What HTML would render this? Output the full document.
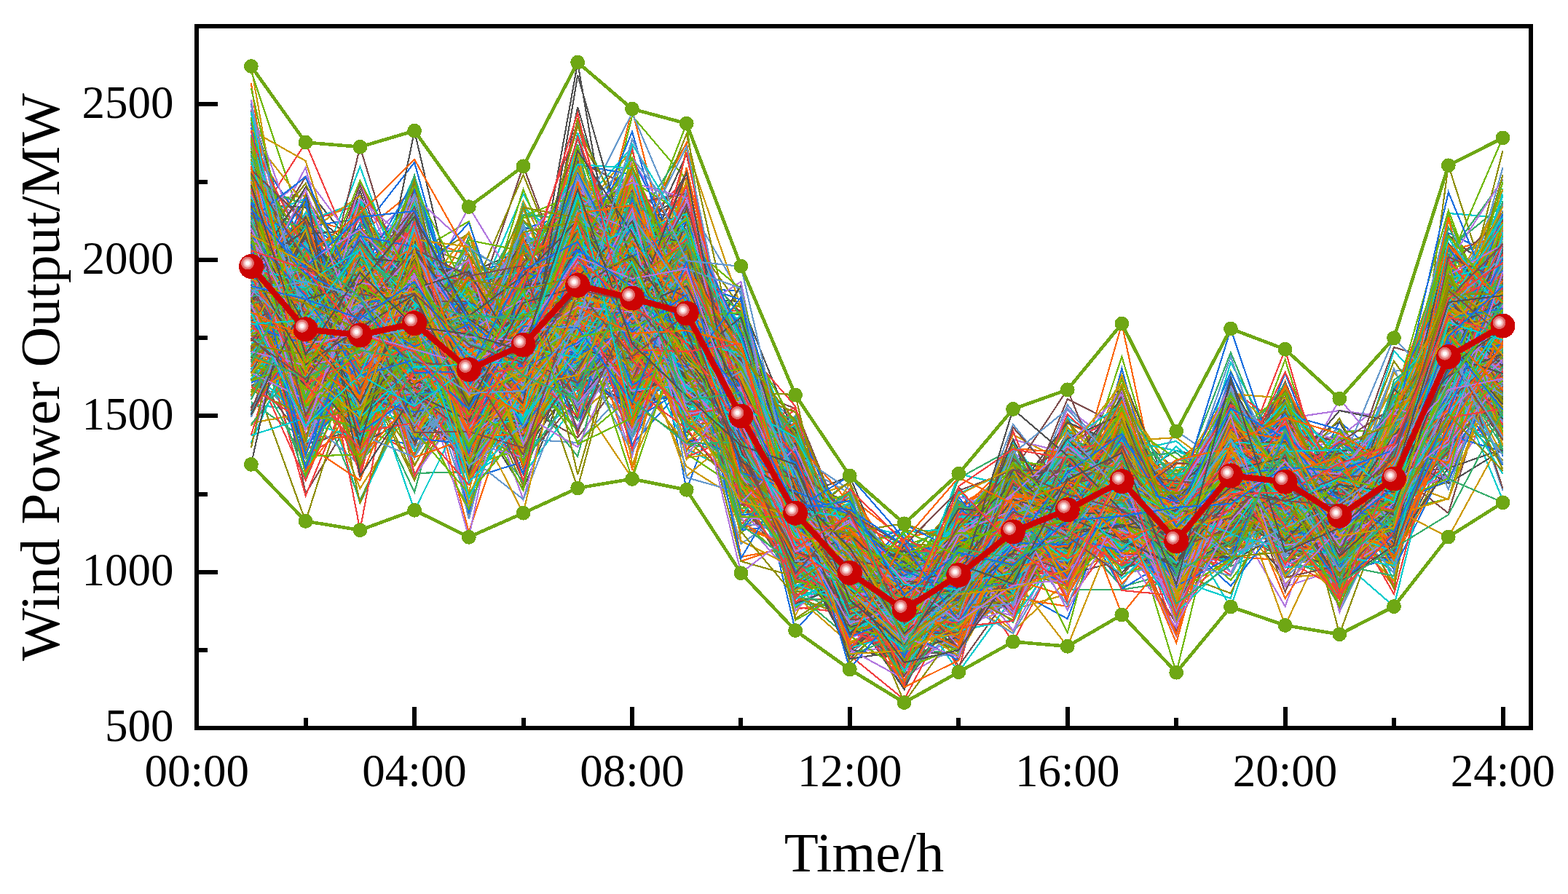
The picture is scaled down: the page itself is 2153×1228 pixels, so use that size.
<!DOCTYPE html>
<html lang="en"><head><meta charset="utf-8"><title>Wind Power Output</title>
<style>
html,body{margin:0;padding:0;background:#fff;overflow:hidden}
svg{display:block}
text{font-family:"Liberation Serif","DejaVu Serif",serif;fill:#000}
.s path{fill:none;stroke-width:2.15;stroke-linejoin:miter;stroke-linecap:butt}
.ca{stroke:#515151}
.cb{stroke:#F14040}
.cc{stroke:#1A6FDF}
.cd{stroke:#37AD6B}
.ce{stroke:#B177DE}
.cf{stroke:#CC9900}
.cg{stroke:#00CBCC}
.ch{stroke:#7D4E4E}
.ci{stroke:#8E8E00}
.cj{stroke:#FB6501}
.ck{stroke:#6699CC}
.cl{stroke:#6FB802}
</style></head>
<body>
<svg width="2153" height="1228" viewBox="0 0 2153 1228">
<defs><radialGradient id="ball" gradientUnits="objectBoundingBox" cx="0.3544" cy="0.3676" r="0.2650" fx="0.3544" fy="0.3676"><stop offset="0" stop-color="#ffffff"/><stop offset="0.30" stop-color="#fdf6f6"/><stop offset="0.37" stop-color="#f6cfcf"/><stop offset="0.50" stop-color="#f4c6c6"/><stop offset="0.56" stop-color="#eeaaaa"/><stop offset="0.66" stop-color="#ec9f9f"/><stop offset="0.72" stop-color="#e27575"/><stop offset="0.97" stop-color="#dc6262"/><stop offset="1" stop-color="#CC0303"/></radialGradient></defs>
<rect x="0" y="0" width="2153" height="1228" fill="#ffffff"/>
<g class="s" shape-rendering="crispEdges">
<path class="ca" d="M344.9 392 419.6 523 494.4 343 569.1 401 643.8 386 718.5 548 793.2 408 868 446 942.7 288 1017.4 626 1092.1 778 1166.8 840 1241.6 841 1316.3 758 1391 732 1465.7 651 1540.4 672 1615.2 717 1689.9 631 1764.6 671 1839.3 685 1914 596 1988.8 523 2063.5 407"/>
<path class="cb" d="M344.9 374 419.6 626 494.4 582 569.1 568 643.8 367 718.5 413 793.2 330 868 468 942.7 348 1017.4 575 1092.1 834 1166.8 842 1241.6 770 1316.3 867 1391 776 1465.7 639 1540.4 773 1615.2 749 1689.9 641 1764.6 630 1839.3 753 1914 564 1988.8 528 2063.5 447"/>
<path class="cc" d="M344.9 417 419.6 402 494.4 376 569.1 391 643.8 503 718.5 567 793.2 454 868 441 942.7 425 1017.4 550 1092.1 866 1166.8 784 1241.6 773 1316.3 760 1391 699 1465.7 806 1540.4 715 1615.2 728 1689.9 629 1764.6 690 1839.3 771 1914 618 1988.8 471 2063.5 356"/>
<path class="cd" d="M344.9 309 419.6 415 494.4 454 569.1 478 643.8 445 718.5 547 793.2 368 868 400 942.7 433 1017.4 461 1092.1 731 1166.8 802 1241.6 835 1316.3 825 1391 758 1465.7 628 1540.4 711 1615.2 750 1689.9 651 1764.6 760 1839.3 709 1914 624 1988.8 516 2063.5 349"/>
<path class="ce" d="M344.9 278 419.6 503 494.4 487 569.1 375 643.8 571 718.5 584 793.2 429 868 372 942.7 375 1017.4 612 1092.1 637 1166.8 834 1241.6 860 1316.3 823 1391 764 1465.7 561 1540.4 618 1615.2 738 1689.9 692 1764.6 666 1839.3 698 1914 671 1988.8 656 2063.5 546"/>
<path class="cf" d="M344.9 339 419.6 444 494.4 475 569.1 339 643.8 382 718.5 503 793.2 573 868 502 942.7 508 1017.4 408 1092.1 772 1166.8 773 1241.6 859 1316.3 839 1391 731 1465.7 710 1540.4 687 1615.2 701 1689.9 628 1764.6 733 1839.3 742 1914 615 1988.8 443 2063.5 493"/>
<path class="cg" d="M344.9 359 419.6 352 494.4 548 569.1 449 643.8 440 718.5 266 793.2 403 868 381 942.7 426 1017.4 690 1092.1 690 1166.8 804 1241.6 765 1316.3 809 1391 727 1465.7 774 1540.4 598 1615.2 760 1689.9 618 1764.6 667 1839.3 659 1914 680 1988.8 513 2063.5 466"/>
<path class="ch" d="M344.9 332 419.6 471 494.4 482 569.1 581 643.8 524 718.5 494 793.2 464 868 449 942.7 537 1017.4 487 1092.1 688 1166.8 752 1241.6 866 1316.3 795 1391 775 1465.7 644 1540.4 679 1615.2 719 1689.9 730 1764.6 767 1839.3 775 1914 651 1988.8 491 2063.5 421"/>
<path class="ci" d="M344.9 394 419.6 443 494.4 589 569.1 352 643.8 573 718.5 459 793.2 389 868 372 942.7 589 1017.4 599 1092.1 743 1166.8 703 1241.6 837 1316.3 855 1391 695 1465.7 736 1540.4 600 1615.2 713 1689.9 584 1764.6 670 1839.3 751 1914 640 1988.8 596 2063.5 525"/>
<path class="cj" d="M344.9 192 419.6 400 494.4 422 569.1 485 643.8 379 718.5 541 793.2 257 868 480 942.7 366 1017.4 632 1092.1 755 1166.8 723 1241.6 860 1316.3 794 1391 688 1465.7 717 1540.4 718 1615.2 719 1689.9 654 1764.6 646 1839.3 694 1914 630 1988.8 409 2063.5 385"/>
<path class="ck" d="M344.9 388 419.6 507 494.4 469 569.1 470 643.8 697 718.5 395 793.2 483 868 361 942.7 373 1017.4 498 1092.1 713 1166.8 754 1241.6 861 1316.3 752 1391 817 1465.7 714 1540.4 539 1615.2 735 1689.9 592 1764.6 711 1839.3 680 1914 700 1988.8 518 2063.5 289"/>
<path class="cl" d="M344.9 276 419.6 269 494.4 386 569.1 353 643.8 364 718.5 456 793.2 355 868 370 942.7 363 1017.4 520 1092.1 710 1166.8 803 1241.6 851 1316.3 728 1391 771 1465.7 678 1540.4 619 1615.2 727 1689.9 608 1764.6 652 1839.3 666 1914 571 1988.8 352 2063.5 324"/>
<path class="ca" d="M344.9 359 419.6 547 494.4 466 569.1 438 643.8 375 718.5 343 793.2 449 868 463 942.7 398 1017.4 563 1092.1 701 1166.8 905 1241.6 837 1316.3 735 1391 776 1465.7 734 1540.4 665 1615.2 713 1689.9 591 1764.6 612 1839.3 745 1914 599 1988.8 489 2063.5 421"/>
<path class="cb" d="M344.9 332 419.6 435 494.4 505 569.1 508 643.8 378 718.5 507 793.2 398 868 358 942.7 346 1017.4 568 1092.1 712 1166.8 819 1241.6 764 1316.3 921 1391 636 1465.7 769 1540.4 636 1615.2 759 1689.9 675 1764.6 706 1839.3 729 1914 730 1988.8 461 2063.5 456"/>
<path class="cc" d="M344.9 539 419.6 402 494.4 471 569.1 333 643.8 488 718.5 558 793.2 407 868 284 942.7 673 1017.4 469 1092.1 727 1166.8 770 1241.6 856 1316.3 774 1391 784 1465.7 597 1540.4 683 1615.2 685 1689.9 641 1764.6 625 1839.3 732 1914 648 1988.8 602 2063.5 471"/>
<path class="cd" d="M344.9 476 419.6 514 494.4 418 569.1 423 643.8 447 718.5 566 793.2 555 868 410 942.7 444 1017.4 611 1092.1 828 1166.8 836 1241.6 801 1316.3 755 1391 720 1465.7 711 1540.4 590 1615.2 699 1689.9 634 1764.6 636 1839.3 707 1914 697 1988.8 544 2063.5 453"/>
<path class="ce" d="M344.9 407 419.6 421 494.4 541 569.1 428 643.8 544 718.5 472 793.2 200 868 345 942.7 422 1017.4 580 1092.1 685 1166.8 813 1241.6 881 1316.3 726 1391 742 1465.7 729 1540.4 699 1615.2 720 1689.9 751 1764.6 691 1839.3 688 1914 782 1988.8 495 2063.5 472"/>
<path class="cf" d="M344.9 393 419.6 320 494.4 404 569.1 477 643.8 507 718.5 477 793.2 399 868 237 942.7 550 1017.4 616 1092.1 719 1166.8 752 1241.6 820 1316.3 861 1391 731 1465.7 697 1540.4 666 1615.2 770 1689.9 596 1764.6 746 1839.3 635 1914 593 1988.8 450 2063.5 511"/>
<path class="cg" d="M344.9 427 419.6 544 494.4 402 569.1 590 643.8 552 718.5 437 793.2 323 868 427 942.7 521 1017.4 495 1092.1 622 1166.8 844 1241.6 876 1316.3 758 1391 705 1465.7 666 1540.4 716 1615.2 713 1689.9 627 1764.6 687 1839.3 750 1914 698 1988.8 475 2063.5 297"/>
<path class="ch" d="M344.9 561 419.6 414 494.4 529 569.1 437 643.8 376 718.5 541 793.2 245 868 558 942.7 512 1017.4 447 1092.1 676 1166.8 807 1241.6 832 1316.3 724 1391 747 1465.7 688 1540.4 633 1615.2 723 1689.9 764 1764.6 695 1839.3 713 1914 731 1988.8 442 2063.5 445"/>
<path class="ci" d="M344.9 585 419.6 461 494.4 551 569.1 514 643.8 652 718.5 386 793.2 384 868 323 942.7 454 1017.4 452 1092.1 764 1166.8 792 1241.6 852 1316.3 748 1391 750 1465.7 709 1540.4 668 1615.2 762 1689.9 673 1764.6 708 1839.3 669 1914 599 1988.8 443 2063.5 505"/>
<path class="cj" d="M344.9 365 419.6 392 494.4 464 569.1 465 643.8 400 718.5 434 793.2 253 868 434 942.7 261 1017.4 621 1092.1 745 1166.8 804 1241.6 831 1316.3 750 1391 745 1465.7 720 1540.4 643 1615.2 779 1689.9 640 1764.6 594 1839.3 699 1914 710 1988.8 445 2063.5 321"/>
<path class="ck" d="M344.9 332 419.6 455 494.4 477 569.1 539 643.8 404 718.5 615 793.2 371 868 320 942.7 420 1017.4 643 1092.1 781 1166.8 834 1241.6 819 1316.3 800 1391 658 1465.7 669 1540.4 746 1615.2 768 1689.9 750 1764.6 661 1839.3 640 1914 712 1988.8 554 2063.5 439"/>
<path class="cl" d="M344.9 370 419.6 404 494.4 500 569.1 516 643.8 462 718.5 446 793.2 313 868 438 942.7 364 1017.4 531 1092.1 591 1166.8 856 1241.6 858 1316.3 733 1391 709 1465.7 700 1540.4 625 1615.2 773 1689.9 629 1764.6 557 1839.3 835 1914 697 1988.8 537 2063.5 545"/>
<path class="ca" d="M344.9 264 419.6 509 494.4 558 569.1 387 643.8 551 718.5 555 793.2 308 868 329 942.7 281 1017.4 604 1092.1 653 1166.8 733 1241.6 815 1316.3 810 1391 663 1465.7 716 1540.4 664 1615.2 619 1689.9 636 1764.6 653 1839.3 666 1914 647 1988.8 537 2063.5 363"/>
<path class="cb" d="M344.9 328 419.6 449 494.4 426 569.1 561 643.8 449 718.5 456 793.2 377 868 421 942.7 457 1017.4 485 1092.1 837 1166.8 825 1241.6 805 1316.3 771 1391 882 1465.7 736 1540.4 643 1615.2 674 1689.9 672 1764.6 687 1839.3 672 1914 803 1988.8 463 2063.5 559"/>
<path class="cc" d="M344.9 361 419.6 525 494.4 508 569.1 393 643.8 397 718.5 557 793.2 391 868 529 942.7 395 1017.4 400 1092.1 749 1166.8 871 1241.6 827 1316.3 693 1391 685 1465.7 721 1540.4 604 1615.2 678 1689.9 586 1764.6 642 1839.3 705 1914 633 1988.8 544 2063.5 432"/>
<path class="cd" d="M344.9 419 419.6 304 494.4 564 569.1 531 643.8 613 718.5 434 793.2 460 868 352 942.7 317 1017.4 545 1092.1 704 1166.8 782 1241.6 829 1316.3 831 1391 706 1465.7 707 1540.4 623 1615.2 728 1689.9 567 1764.6 628 1839.3 744 1914 644 1988.8 541 2063.5 505"/>
<path class="ce" d="M344.9 439 419.6 487 494.4 533 569.1 496 643.8 466 718.5 444 793.2 268 868 457 942.7 455 1017.4 505 1092.1 633 1166.8 754 1241.6 792 1316.3 889 1391 622 1465.7 668 1540.4 676 1615.2 730 1689.9 706 1764.6 652 1839.3 732 1914 599 1988.8 523 2063.5 448"/>
<path class="cf" d="M344.9 235 419.6 416 494.4 521 569.1 544 643.8 545 718.5 445 793.2 335 868 490 942.7 286 1017.4 650 1092.1 711 1166.8 745 1241.6 838 1316.3 804 1391 867 1465.7 797 1540.4 704 1615.2 677 1689.9 691 1764.6 584 1839.3 633 1914 584 1988.8 543 2063.5 455"/>
<path class="cg" d="M344.9 360 419.6 442 494.4 387 569.1 402 643.8 506 718.5 539 793.2 319 868 434 942.7 570 1017.4 618 1092.1 674 1166.8 823 1241.6 883 1316.3 798 1391 718 1465.7 755 1540.4 719 1615.2 746 1689.9 498 1764.6 634 1839.3 757 1914 679 1988.8 506 2063.5 491"/>
<path class="ch" d="M344.9 437 419.6 378 494.4 446 569.1 569 643.8 540 718.5 399 793.2 464 868 334 942.7 333 1017.4 599 1092.1 736 1166.8 771 1241.6 811 1316.3 773 1391 727 1465.7 701 1540.4 653 1615.2 743 1689.9 734 1764.6 611 1839.3 699 1914 632 1988.8 468 2063.5 399"/>
<path class="ci" d="M344.9 345 419.6 478 494.4 468 569.1 419 643.8 536 718.5 470 793.2 416 868 422 942.7 490 1017.4 451 1092.1 704 1166.8 840 1241.6 815 1316.3 828 1391 747 1465.7 690 1540.4 661 1615.2 686 1689.9 636 1764.6 626 1839.3 653 1914 683 1988.8 552 2063.5 503"/>
<path class="cj" d="M344.9 244 419.6 302 494.4 452 569.1 447 643.8 533 718.5 633 793.2 404 868 402 942.7 408 1017.4 771 1092.1 746 1166.8 837 1241.6 806 1316.3 786 1391 694 1465.7 804 1540.4 709 1615.2 846 1689.9 645 1764.6 626 1839.3 766 1914 674 1988.8 576 2063.5 458"/>
<path class="ck" d="M344.9 426 419.6 415 494.4 409 569.1 506 643.8 499 718.5 488 793.2 437 868 319 942.7 511 1017.4 618 1092.1 605 1166.8 829 1241.6 933 1316.3 858 1391 776 1465.7 676 1540.4 605 1615.2 737 1689.9 680 1764.6 610 1839.3 671 1914 718 1988.8 381 2063.5 448"/>
<path class="cl" d="M344.9 255 419.6 528 494.4 532 569.1 495 643.8 424 718.5 532 793.2 389 868 529 942.7 347 1017.4 622 1092.1 659 1166.8 823 1241.6 914 1316.3 761 1391 704 1465.7 677 1540.4 667 1615.2 751 1689.9 583 1764.6 684 1839.3 724 1914 626 1988.8 557 2063.5 497"/>
<path class="ca" d="M344.9 413 419.6 306 494.4 547 569.1 384 643.8 560 718.5 499 793.2 323 868 306 942.7 270 1017.4 523 1092.1 764 1166.8 677 1241.6 874 1316.3 841 1391 728 1465.7 753 1540.4 579 1615.2 646 1689.9 745 1764.6 639 1839.3 739 1914 649 1988.8 480 2063.5 469"/>
<path class="cb" d="M344.9 327 419.6 439 494.4 427 569.1 533 643.8 566 718.5 468 793.2 367 868 354 942.7 493 1017.4 474 1092.1 735 1166.8 733 1241.6 809 1316.3 807 1391 759 1465.7 734 1540.4 757 1615.2 827 1689.9 735 1764.6 653 1839.3 685 1914 643 1988.8 453 2063.5 485"/>
<path class="cc" d="M344.9 437 419.6 453 494.4 314 569.1 412 643.8 542 718.5 400 793.2 330 868 287 942.7 473 1017.4 672 1092.1 639 1166.8 780 1241.6 815 1316.3 857 1391 809 1465.7 850 1540.4 653 1615.2 737 1689.9 638 1764.6 585 1839.3 695 1914 620 1988.8 320 2063.5 356"/>
<path class="cd" d="M344.9 455 419.6 505 494.4 409 569.1 394 643.8 509 718.5 518 793.2 493 868 385 942.7 375 1017.4 585 1092.1 709 1166.8 823 1241.6 834 1316.3 801 1391 767 1465.7 712 1540.4 641 1615.2 719 1689.9 651 1764.6 703 1839.3 652 1914 682 1988.8 436 2063.5 425"/>
<path class="ce" d="M344.9 325 419.6 471 494.4 485 569.1 417 643.8 547 718.5 288 793.2 350 868 456 942.7 584 1017.4 619 1092.1 697 1166.8 740 1241.6 822 1316.3 769 1391 768 1465.7 698 1540.4 642 1615.2 772 1689.9 694 1764.6 625 1839.3 674 1914 688 1988.8 424 2063.5 416"/>
<path class="cf" d="M344.9 425 419.6 424 494.4 472 569.1 572 643.8 450 718.5 333 793.2 490 868 538 942.7 484 1017.4 456 1092.1 653 1166.8 783 1241.6 830 1316.3 798 1391 695 1465.7 687 1540.4 737 1615.2 682 1689.9 624 1764.6 627 1839.3 595 1914 699 1988.8 603 2063.5 306"/>
<path class="cg" d="M344.9 342 419.6 545 494.4 567 569.1 283 643.8 653 718.5 589 793.2 376 868 394 942.7 482 1017.4 633 1092.1 691 1166.8 792 1241.6 817 1316.3 771 1391 680 1465.7 666 1540.4 590 1615.2 710 1689.9 676 1764.6 593 1839.3 660 1914 614 1988.8 519 2063.5 356"/>
<path class="ch" d="M344.9 353 419.6 408 494.4 471 569.1 508 643.8 458 718.5 558 793.2 370 868 453 942.7 390 1017.4 579 1092.1 715 1166.8 758 1241.6 819 1316.3 759 1391 720 1465.7 754 1540.4 664 1615.2 741 1689.9 615 1764.6 689 1839.3 703 1914 654 1988.8 551 2063.5 555"/>
<path class="ci" d="M344.9 436 419.6 589 494.4 489 569.1 356 643.8 410 718.5 485 793.2 430 868 390 942.7 444 1017.4 513 1092.1 671 1166.8 722 1241.6 913 1316.3 850 1391 738 1465.7 696 1540.4 635 1615.2 698 1689.9 721 1764.6 600 1839.3 688 1914 683 1988.8 549 2063.5 536"/>
<path class="cj" d="M344.9 253 419.6 474 494.4 544 569.1 443 643.8 475 718.5 503 793.2 322 868 381 942.7 427 1017.4 541 1092.1 688 1166.8 683 1241.6 741 1316.3 816 1391 707 1465.7 582 1540.4 613 1615.2 755 1689.9 597 1764.6 672 1839.3 719 1914 644 1988.8 407 2063.5 379"/>
<path class="ck" d="M344.9 198 419.6 578 494.4 412 569.1 424 643.8 533 718.5 596 793.2 521 868 356 942.7 405 1017.4 580 1092.1 705 1166.8 723 1241.6 860 1316.3 779 1391 761 1465.7 637 1540.4 683 1615.2 747 1689.9 688 1764.6 578 1839.3 670 1914 664 1988.8 663 2063.5 471"/>
<path class="cl" d="M344.9 386 419.6 383 494.4 568 569.1 408 643.8 444 718.5 589 793.2 206 868 459 942.7 520 1017.4 501 1092.1 625 1166.8 833 1241.6 878 1316.3 807 1391 794 1465.7 740 1540.4 676 1615.2 924 1689.9 615 1764.6 615 1839.3 687 1914 630 1988.8 419 2063.5 411"/>
<path class="ca" d="M344.9 257 419.6 389 494.4 537 569.1 444 643.8 487 718.5 474 793.2 296 868 337 942.7 474 1017.4 610 1092.1 670 1166.8 846 1241.6 772 1316.3 808 1391 754 1465.7 756 1540.4 684 1615.2 707 1689.9 649 1764.6 768 1839.3 773 1914 694 1988.8 513 2063.5 349"/>
<path class="cb" d="M344.9 170 419.6 483 494.4 490 569.1 411 643.8 424 718.5 451 793.2 532 868 456 942.7 289 1017.4 513 1092.1 629 1166.8 796 1241.6 766 1316.3 755 1391 775 1465.7 700 1540.4 618 1615.2 680 1689.9 672 1764.6 480 1839.3 742 1914 675 1988.8 602 2063.5 535"/>
<path class="cc" d="M344.9 436 419.6 349 494.4 593 569.1 613 643.8 373 718.5 358 793.2 349 868 612 942.7 451 1017.4 559 1092.1 682 1166.8 735 1241.6 777 1316.3 815 1391 713 1465.7 659 1540.4 625 1615.2 731 1689.9 593 1764.6 747 1839.3 739 1914 652 1988.8 592 2063.5 441"/>
<path class="cd" d="M344.9 461 419.6 553 494.4 385 569.1 650 643.8 648 718.5 429 793.2 358 868 400 942.7 494 1017.4 558 1092.1 753 1166.8 885 1241.6 834 1316.3 733 1391 703 1465.7 650 1540.4 557 1615.2 684 1689.9 679 1764.6 648 1839.3 714 1914 720 1988.8 559 2063.5 479"/>
<path class="ce" d="M344.9 428 419.6 597 494.4 505 569.1 317 643.8 406 718.5 459 793.2 361 868 441 942.7 407 1017.4 605 1092.1 572 1166.8 735 1241.6 779 1316.3 799 1391 752 1465.7 674 1540.4 660 1615.2 798 1689.9 646 1764.6 616 1839.3 697 1914 714 1988.8 359 2063.5 484"/>
<path class="cf" d="M344.9 352 419.6 522 494.4 447 569.1 640 643.8 507 718.5 522 793.2 366 868 449 942.7 362 1017.4 528 1092.1 793 1166.8 804 1241.6 805 1316.3 804 1391 770 1465.7 683 1540.4 789 1615.2 770 1689.9 692 1764.6 666 1839.3 700 1914 699 1988.8 616 2063.5 476"/>
<path class="cg" d="M344.9 339 419.6 411 494.4 525 569.1 405 643.8 558 718.5 539 793.2 456 868 319 942.7 455 1017.4 704 1092.1 693 1166.8 748 1241.6 798 1316.3 821 1391 606 1465.7 760 1540.4 622 1615.2 606 1689.9 671 1764.6 655 1839.3 646 1914 615 1988.8 506 2063.5 486"/>
<path class="ch" d="M344.9 291 419.6 492 494.4 481 569.1 391 643.8 541 718.5 449 793.2 499 868 332 942.7 445 1017.4 644 1092.1 775 1166.8 764 1241.6 885 1316.3 773 1391 760 1465.7 677 1540.4 558 1615.2 721 1689.9 589 1764.6 723 1839.3 705 1914 602 1988.8 508 2063.5 352"/>
<path class="ci" d="M344.9 539 419.6 356 494.4 439 569.1 480 643.8 592 718.5 516 793.2 187 868 312 942.7 256 1017.4 563 1092.1 689 1166.8 727 1241.6 836 1316.3 848 1391 677 1465.7 675 1540.4 631 1615.2 795 1689.9 732 1764.6 596 1839.3 684 1914 686 1988.8 575 2063.5 425"/>
<path class="cj" d="M344.9 513 419.6 413 494.4 459 569.1 382 643.8 618 718.5 403 793.2 495 868 370 942.7 365 1017.4 765 1092.1 751 1166.8 772 1241.6 843 1316.3 832 1391 686 1465.7 698 1540.4 685 1615.2 778 1689.9 674 1764.6 588 1839.3 723 1914 667 1988.8 454 2063.5 520"/>
<path class="ck" d="M344.9 400 419.6 363 494.4 491 569.1 456 643.8 616 718.5 550 793.2 509 868 375 942.7 474 1017.4 534 1092.1 731 1166.8 778 1241.6 817 1316.3 812 1391 812 1465.7 724 1540.4 806 1615.2 692 1689.9 675 1764.6 693 1839.3 708 1914 644 1988.8 624 2063.5 535"/>
<path class="cl" d="M344.9 391 419.6 361 494.4 440 569.1 471 643.8 425 718.5 462 793.2 395 868 478 942.7 426 1017.4 658 1092.1 683 1166.8 815 1241.6 866 1316.3 714 1391 642 1465.7 743 1540.4 572 1615.2 729 1689.9 681 1764.6 701 1839.3 713 1914 627 1988.8 375 2063.5 583"/>
<path class="ca" d="M344.9 258 419.6 547 494.4 466 569.1 490 643.8 580 718.5 496 793.2 423 868 438 942.7 321 1017.4 657 1092.1 717 1166.8 756 1241.6 865 1316.3 775 1391 735 1465.7 719 1540.4 679 1615.2 767 1689.9 680 1764.6 695 1839.3 656 1914 658 1988.8 474 2063.5 348"/>
<path class="cb" d="M344.9 318 419.6 409 494.4 571 569.1 483 643.8 607 718.5 596 793.2 504 868 498 942.7 498 1017.4 599 1092.1 740 1166.8 746 1241.6 824 1316.3 791 1391 794 1465.7 790 1540.4 651 1615.2 826 1689.9 615 1764.6 695 1839.3 720 1914 746 1988.8 492 2063.5 519"/>
<path class="cc" d="M344.9 402 419.6 512 494.4 383 569.1 362 643.8 640 718.5 474 793.2 333 868 499 942.7 451 1017.4 556 1092.1 734 1166.8 804 1241.6 803 1316.3 732 1391 751 1465.7 703 1540.4 625 1615.2 733 1689.9 716 1764.6 571 1839.3 647 1914 695 1988.8 504 2063.5 392"/>
<path class="cd" d="M344.9 375 419.6 418 494.4 435 569.1 479 643.8 455 718.5 442 793.2 407 868 479 942.7 355 1017.4 591 1092.1 794 1166.8 708 1241.6 801 1316.3 737 1391 786 1465.7 682 1540.4 676 1615.2 725 1689.9 674 1764.6 659 1839.3 700 1914 673 1988.8 573 2063.5 372"/>
<path class="ce" d="M344.9 377 419.6 422 494.4 622 569.1 481 643.8 523 718.5 454 793.2 413 868 627 942.7 324 1017.4 450 1092.1 669 1166.8 725 1241.6 836 1316.3 700 1391 791 1465.7 667 1540.4 655 1615.2 724 1689.9 700 1764.6 708 1839.3 683 1914 739 1988.8 444 2063.5 534"/>
<path class="cf" d="M344.9 414 419.6 490 494.4 522 569.1 555 643.8 702 718.5 493 793.2 388 868 410 942.7 432 1017.4 528 1092.1 669 1166.8 782 1241.6 832 1316.3 688 1391 781 1465.7 705 1540.4 681 1615.2 632 1689.9 628 1764.6 613 1839.3 656 1914 718 1988.8 490 2063.5 438"/>
<path class="cg" d="M344.9 192 419.6 344 494.4 494 569.1 391 643.8 442 718.5 347 793.2 262 868 333 942.7 327 1017.4 586 1092.1 690 1166.8 835 1241.6 796 1316.3 851 1391 642 1465.7 744 1540.4 648 1615.2 780 1689.9 703 1764.6 742 1839.3 687 1914 671 1988.8 531 2063.5 419"/>
<path class="ch" d="M344.9 299 419.6 401 494.4 487 569.1 432 643.8 487 718.5 355 793.2 469 868 418 942.7 496 1017.4 543 1092.1 694 1166.8 812 1241.6 814 1316.3 741 1391 699 1465.7 691 1540.4 735 1615.2 746 1689.9 602 1764.6 718 1839.3 710 1914 647 1988.8 484 2063.5 360"/>
<path class="ci" d="M344.9 510 419.6 528 494.4 538 569.1 332 643.8 500 718.5 668 793.2 339 868 324 942.7 510 1017.4 521 1092.1 674 1166.8 763 1241.6 851 1316.3 834 1391 820 1465.7 636 1540.4 635 1615.2 763 1689.9 660 1764.6 685 1839.3 706 1914 609 1988.8 639 2063.5 462"/>
<path class="cj" d="M344.9 307 419.6 515 494.4 423 569.1 583 643.8 515 718.5 340 793.2 454 868 407 942.7 444 1017.4 482 1092.1 636 1166.8 819 1241.6 831 1316.3 770 1391 767 1465.7 617 1540.4 649 1615.2 679 1689.9 612 1764.6 658 1839.3 816 1914 675 1988.8 381 2063.5 503"/>
<path class="ck" d="M344.9 253 419.6 510 494.4 361 569.1 490 643.8 505 718.5 568 793.2 535 868 493 942.7 328 1017.4 509 1092.1 580 1166.8 826 1241.6 794 1316.3 805 1391 817 1465.7 650 1540.4 636 1615.2 715 1689.9 620 1764.6 742 1839.3 809 1914 672 1988.8 536 2063.5 578"/>
<path class="cl" d="M344.9 460 419.6 455 494.4 277 569.1 441 643.8 547 718.5 507 793.2 394 868 326 942.7 389 1017.4 699 1092.1 753 1166.8 813 1241.6 855 1316.3 808 1391 769 1465.7 742 1540.4 714 1615.2 702 1689.9 671 1764.6 607 1839.3 678 1914 650 1988.8 574 2063.5 496"/>
<path class="ca" d="M344.9 365 419.6 508 494.4 373 569.1 535 643.8 554 718.5 672 793.2 486 868 492 942.7 427 1017.4 677 1092.1 715 1166.8 759 1241.6 873 1316.3 855 1391 699 1465.7 750 1540.4 690 1615.2 756 1689.9 653 1764.6 661 1839.3 732 1914 764 1988.8 517 2063.5 512"/>
<path class="cb" d="M344.9 422 419.6 436 494.4 486 569.1 470 643.8 475 718.5 487 793.2 323 868 354 942.7 285 1017.4 635 1092.1 730 1166.8 797 1241.6 887 1316.3 845 1391 793 1465.7 722 1540.4 657 1615.2 823 1689.9 728 1764.6 643 1839.3 625 1914 575 1988.8 523 2063.5 413"/>
<path class="cc" d="M344.9 258 419.6 387 494.4 328 569.1 343 643.8 425 718.5 495 793.2 592 868 338 942.7 344 1017.4 535 1092.1 644 1166.8 746 1241.6 758 1316.3 785 1391 725 1465.7 705 1540.4 646 1615.2 724 1689.9 661 1764.6 708 1839.3 607 1914 650 1988.8 508 2063.5 454"/>
<path class="cd" d="M344.9 321 419.6 371 494.4 512 569.1 363 643.8 633 718.5 510 793.2 396 868 449 942.7 363 1017.4 651 1092.1 692 1166.8 769 1241.6 874 1316.3 657 1391 616 1465.7 783 1540.4 617 1615.2 738 1689.9 697 1764.6 710 1839.3 700 1914 604 1988.8 408 2063.5 464"/>
<path class="ce" d="M344.9 372 419.6 380 494.4 449 569.1 310 643.8 568 718.5 499 793.2 363 868 410 942.7 472 1017.4 443 1092.1 678 1166.8 779 1241.6 806 1316.3 754 1391 768 1465.7 684 1540.4 615 1615.2 753 1689.9 576 1764.6 686 1839.3 738 1914 673 1988.8 385 2063.5 374"/>
<path class="cf" d="M344.9 492 419.6 432 494.4 552 569.1 458 643.8 453 718.5 514 793.2 429 868 494 942.7 444 1017.4 654 1092.1 753 1166.8 848 1241.6 812 1316.3 774 1391 795 1465.7 656 1540.4 549 1615.2 835 1689.9 665 1764.6 703 1839.3 637 1914 675 1988.8 413 2063.5 529"/>
<path class="cg" d="M344.9 279 419.6 467 494.4 389 569.1 561 643.8 596 718.5 468 793.2 378 868 421 942.7 405 1017.4 550 1092.1 679 1166.8 780 1241.6 811 1316.3 771 1391 743 1465.7 743 1540.4 675 1615.2 745 1689.9 633 1764.6 531 1839.3 806 1914 634 1988.8 293 2063.5 299"/>
<path class="ch" d="M344.9 347 419.6 399 494.4 437 569.1 459 643.8 554 718.5 564 793.2 375 868 258 942.7 413 1017.4 533 1092.1 561 1166.8 745 1241.6 852 1316.3 895 1391 740 1465.7 720 1540.4 624 1615.2 738 1689.9 679 1764.6 682 1839.3 773 1914 603 1988.8 554 2063.5 463"/>
<path class="ci" d="M344.9 314 419.6 534 494.4 326 569.1 425 643.8 608 718.5 424 793.2 414 868 424 942.7 500 1017.4 581 1092.1 704 1166.8 827 1241.6 854 1316.3 830 1391 781 1465.7 775 1540.4 721 1615.2 692 1689.9 658 1764.6 620 1839.3 706 1914 663 1988.8 514 2063.5 516"/>
<path class="cj" d="M344.9 361 419.6 430 494.4 277 569.1 501 643.8 469 718.5 409 793.2 451 868 455 942.7 294 1017.4 665 1092.1 772 1166.8 778 1241.6 842 1316.3 802 1391 809 1465.7 672 1540.4 720 1615.2 701 1689.9 659 1764.6 660 1839.3 691 1914 684 1988.8 520 2063.5 337"/>
<path class="ck" d="M344.9 354 419.6 455 494.4 459 569.1 540 643.8 437 718.5 599 793.2 367 868 506 942.7 340 1017.4 573 1092.1 627 1166.8 830 1241.6 902 1316.3 880 1391 698 1465.7 753 1540.4 736 1615.2 701 1689.9 612 1764.6 626 1839.3 644 1914 583 1988.8 393 2063.5 440"/>
<path class="cl" d="M344.9 496 419.6 406 494.4 410 569.1 310 643.8 437 718.5 389 793.2 520 868 376 942.7 390 1017.4 637 1092.1 671 1166.8 779 1241.6 852 1316.3 746 1391 675 1465.7 716 1540.4 490 1615.2 744 1689.9 651 1764.6 589 1839.3 687 1914 645 1988.8 505 2063.5 401"/>
<path class="ca" d="M344.9 436 419.6 580 494.4 517 569.1 397 643.8 662 718.5 545 793.2 348 868 277 942.7 593 1017.4 521 1092.1 635 1166.8 836 1241.6 807 1316.3 776 1391 804 1465.7 695 1540.4 573 1615.2 765 1689.9 593 1764.6 586 1839.3 719 1914 702 1988.8 571 2063.5 375"/>
<path class="cb" d="M344.9 331 419.6 402 494.4 470 569.1 408 643.8 478 718.5 510 793.2 296 868 319 942.7 323 1017.4 664 1092.1 731 1166.8 717 1241.6 841 1316.3 878 1391 697 1465.7 727 1540.4 680 1615.2 737 1689.9 699 1764.6 702 1839.3 818 1914 616 1988.8 525 2063.5 567"/>
<path class="cc" d="M344.9 465 419.6 493 494.4 314 569.1 448 643.8 596 718.5 439 793.2 219 868 585 942.7 346 1017.4 551 1092.1 707 1166.8 771 1241.6 809 1316.3 692 1391 735 1465.7 715 1540.4 661 1615.2 688 1689.9 712 1764.6 725 1839.3 722 1914 733 1988.8 609 2063.5 407"/>
<path class="cd" d="M344.9 545 419.6 450 494.4 533 569.1 400 643.8 556 718.5 663 793.2 394 868 374 942.7 361 1017.4 517 1092.1 808 1166.8 791 1241.6 866 1316.3 781 1391 695 1465.7 671 1540.4 659 1615.2 661 1689.9 711 1764.6 693 1839.3 725 1914 664 1988.8 640 2063.5 501"/>
<path class="ce" d="M344.9 384 419.6 568 494.4 411 569.1 410 643.8 482 718.5 569 793.2 436 868 479 942.7 265 1017.4 578 1092.1 646 1166.8 808 1241.6 850 1316.3 704 1391 772 1465.7 663 1540.4 615 1615.2 781 1689.9 653 1764.6 621 1839.3 726 1914 750 1988.8 528 2063.5 571"/>
<path class="cf" d="M344.9 454 419.6 395 494.4 380 569.1 537 643.8 501 718.5 582 793.2 377 868 409 942.7 508 1017.4 605 1092.1 596 1166.8 865 1241.6 845 1316.3 800 1391 737 1465.7 765 1540.4 544 1615.2 656 1689.9 602 1764.6 663 1839.3 670 1914 623 1988.8 571 2063.5 563"/>
<path class="cg" d="M344.9 344 419.6 428 494.4 600 569.1 439 643.8 655 718.5 605 793.2 295 868 401 942.7 566 1017.4 539 1092.1 790 1166.8 815 1241.6 746 1316.3 861 1391 805 1465.7 758 1540.4 654 1615.2 690 1689.9 702 1764.6 703 1839.3 718 1914 686 1988.8 466 2063.5 457"/>
<path class="ch" d="M344.9 312 419.6 399 494.4 420 569.1 411 643.8 419 718.5 340 793.2 415 868 594 942.7 384 1017.4 504 1092.1 617 1166.8 795 1241.6 804 1316.3 738 1391 681 1465.7 680 1540.4 641 1615.2 757 1689.9 700 1764.6 732 1839.3 725 1914 655 1988.8 557 2063.5 399"/>
<path class="ci" d="M344.9 269 419.6 494 494.4 454 569.1 338 643.8 441 718.5 521 793.2 324 868 475 942.7 432 1017.4 494 1092.1 591 1166.8 805 1241.6 769 1316.3 775 1391 667 1465.7 679 1540.4 688 1615.2 755 1689.9 733 1764.6 695 1839.3 764 1914 629 1988.8 549 2063.5 480"/>
<path class="cj" d="M344.9 242 419.6 299 494.4 322 569.1 261 643.8 542 718.5 370 793.2 464 868 376 942.7 450 1017.4 521 1092.1 661 1166.8 764 1241.6 886 1316.3 839 1391 691 1465.7 644 1540.4 631 1615.2 758 1689.9 745 1764.6 682 1839.3 674 1914 656 1988.8 503 2063.5 376"/>
<path class="ck" d="M344.9 326 419.6 377 494.4 420 569.1 392 643.8 677 718.5 586 793.2 331 868 432 942.7 472 1017.4 600 1092.1 743 1166.8 751 1241.6 855 1316.3 802 1391 750 1465.7 686 1540.4 662 1615.2 814 1689.9 747 1764.6 598 1839.3 840 1914 688 1988.8 506 2063.5 501"/>
<path class="cl" d="M344.9 406 419.6 437 494.4 570 569.1 526 643.8 535 718.5 371 793.2 341 868 294 942.7 374 1017.4 445 1092.1 822 1166.8 739 1241.6 848 1316.3 844 1391 778 1465.7 734 1540.4 699 1615.2 736 1689.9 643 1764.6 660 1839.3 775 1914 621 1988.8 493 2063.5 305"/>
<path class="ca" d="M344.9 476 419.6 369 494.4 460 569.1 348 643.8 402 718.5 514 793.2 477 868 381 942.7 322 1017.4 485 1092.1 744 1166.8 714 1241.6 815 1316.3 669 1391 764 1465.7 672 1540.4 642 1615.2 691 1689.9 697 1764.6 636 1839.3 739 1914 656 1988.8 653 2063.5 342"/>
<path class="cb" d="M344.9 334 419.6 442 494.4 649 569.1 367 643.8 610 718.5 414 793.2 305 868 302 942.7 400 1017.4 559 1092.1 725 1166.8 741 1241.6 836 1316.3 815 1391 725 1465.7 818 1540.4 674 1615.2 701 1689.9 618 1764.6 697 1839.3 743 1914 593 1988.8 355 2063.5 467"/>
<path class="cc" d="M344.9 168 419.6 449 494.4 426 569.1 531 643.8 544 718.5 509 793.2 499 868 383 942.7 385 1017.4 613 1092.1 772 1166.8 823 1241.6 947 1316.3 793 1391 747 1465.7 662 1540.4 627 1615.2 685 1689.9 591 1764.6 633 1839.3 754 1914 773 1988.8 471 2063.5 462"/>
<path class="cd" d="M344.9 478 419.6 550 494.4 516 569.1 445 643.8 484 718.5 494 793.2 278 868 378 942.7 472 1017.4 638 1092.1 765 1166.8 769 1241.6 823 1316.3 706 1391 748 1465.7 792 1540.4 621 1615.2 747 1689.9 633 1764.6 645 1839.3 722 1914 728 1988.8 491 2063.5 458"/>
<path class="ce" d="M344.9 207 419.6 461 494.4 575 569.1 372 643.8 490 718.5 610 793.2 440 868 386 942.7 490 1017.4 506 1092.1 705 1166.8 756 1241.6 846 1316.3 824 1391 741 1465.7 654 1540.4 596 1615.2 667 1689.9 645 1764.6 575 1839.3 564 1914 574 1988.8 368 2063.5 470"/>
<path class="cf" d="M344.9 428 419.6 640 494.4 407 569.1 596 643.8 523 718.5 481 793.2 339 868 545 942.7 544 1017.4 613 1092.1 653 1166.8 842 1241.6 819 1316.3 783 1391 687 1465.7 729 1540.4 681 1615.2 819 1689.9 621 1764.6 616 1839.3 761 1914 565 1988.8 487 2063.5 516"/>
<path class="cg" d="M344.9 555 419.6 565 494.4 433 569.1 421 643.8 368 718.5 514 793.2 396 868 433 942.7 252 1017.4 662 1092.1 737 1166.8 788 1241.6 855 1316.3 807 1391 763 1465.7 692 1540.4 658 1615.2 828 1689.9 707 1764.6 633 1839.3 749 1914 711 1988.8 497 2063.5 354"/>
<path class="ch" d="M344.9 449 419.6 466 494.4 408 569.1 429 643.8 576 718.5 422 793.2 441 868 374 942.7 319 1017.4 544 1092.1 721 1166.8 820 1241.6 794 1316.3 845 1391 712 1465.7 634 1540.4 711 1615.2 671 1689.9 728 1764.6 683 1839.3 681 1914 744 1988.8 426 2063.5 555"/>
<path class="ci" d="M344.9 402 419.6 339 494.4 455 569.1 486 643.8 512 718.5 462 793.2 303 868 236 942.7 566 1017.4 638 1092.1 650 1166.8 762 1241.6 924 1316.3 800 1391 675 1465.7 663 1540.4 615 1615.2 812 1689.9 706 1764.6 669 1839.3 716 1914 656 1988.8 397 2063.5 398"/>
<path class="cj" d="M344.9 270 419.6 323 494.4 362 569.1 537 643.8 493 718.5 343 793.2 295 868 382 942.7 393 1017.4 725 1092.1 685 1166.8 827 1241.6 821 1316.3 774 1391 760 1465.7 784 1540.4 645 1615.2 635 1689.9 573 1764.6 689 1839.3 816 1914 661 1988.8 431 2063.5 489"/>
<path class="ck" d="M344.9 284 419.6 563 494.4 538 569.1 570 643.8 560 718.5 484 793.2 296 868 509 942.7 503 1017.4 640 1092.1 579 1166.8 737 1241.6 867 1316.3 782 1391 666 1465.7 627 1540.4 709 1615.2 845 1689.9 605 1764.6 697 1839.3 788 1914 742 1988.8 444 2063.5 338"/>
<path class="cl" d="M344.9 294 419.6 395 494.4 604 569.1 513 643.8 453 718.5 640 793.2 455 868 384 942.7 447 1017.4 598 1092.1 712 1166.8 785 1241.6 816 1316.3 778 1391 742 1465.7 608 1540.4 652 1615.2 805 1689.9 734 1764.6 547 1839.3 634 1914 626 1988.8 476 2063.5 469"/>
<path class="ca" d="M344.9 379 419.6 257 494.4 349 569.1 288 643.8 591 718.5 490 793.2 386 868 346 942.7 479 1017.4 530 1092.1 725 1166.8 866 1241.6 831 1316.3 790 1391 745 1465.7 781 1540.4 596 1615.2 753 1689.9 760 1764.6 605 1839.3 748 1914 771 1988.8 434 2063.5 506"/>
<path class="cb" d="M344.9 382 419.6 443 494.4 319 569.1 558 643.8 356 718.5 548 793.2 340 868 488 942.7 304 1017.4 576 1092.1 738 1166.8 863 1241.6 792 1316.3 852 1391 634 1465.7 719 1540.4 726 1615.2 709 1689.9 684 1764.6 700 1839.3 685 1914 692 1988.8 436 2063.5 414"/>
<path class="cc" d="M344.9 228 419.6 434 494.4 449 569.1 495 643.8 538 718.5 511 793.2 368 868 369 942.7 440 1017.4 444 1092.1 740 1166.8 753 1241.6 866 1316.3 784 1391 699 1465.7 713 1540.4 647 1615.2 703 1689.9 565 1764.6 727 1839.3 579 1914 644 1988.8 498 2063.5 555"/>
<path class="cd" d="M344.9 485 419.6 497 494.4 490 569.1 516 643.8 427 718.5 610 793.2 355 868 476 942.7 296 1017.4 668 1092.1 814 1166.8 877 1241.6 814 1316.3 761 1391 714 1465.7 745 1540.4 654 1615.2 715 1689.9 778 1764.6 746 1839.3 662 1914 780 1988.8 481 2063.5 296"/>
<path class="ce" d="M344.9 338 419.6 471 494.4 500 569.1 467 643.8 459 718.5 489 793.2 440 868 316 942.7 437 1017.4 550 1092.1 690 1166.8 751 1241.6 914 1316.3 786 1391 691 1465.7 706 1540.4 680 1615.2 815 1689.9 670 1764.6 743 1839.3 684 1914 622 1988.8 458 2063.5 419"/>
<path class="cf" d="M344.9 325 419.6 462 494.4 379 569.1 352 643.8 567 718.5 523 793.2 299 868 205 942.7 514 1017.4 539 1092.1 675 1166.8 718 1241.6 824 1316.3 741 1391 668 1465.7 673 1540.4 702 1615.2 668 1689.9 704 1764.6 587 1839.3 681 1914 776 1988.8 549 2063.5 327"/>
<path class="cg" d="M344.9 243 419.6 463 494.4 463 569.1 304 643.8 449 718.5 530 793.2 482 868 366 942.7 400 1017.4 569 1092.1 772 1166.8 776 1241.6 825 1316.3 820 1391 795 1465.7 688 1540.4 590 1615.2 792 1689.9 699 1764.6 688 1839.3 652 1914 747 1988.8 561 2063.5 409"/>
<path class="ch" d="M344.9 522 419.6 362 494.4 528 569.1 490 643.8 437 718.5 392 793.2 478 868 424 942.7 331 1017.4 607 1092.1 642 1166.8 765 1241.6 887 1316.3 723 1391 678 1465.7 736 1540.4 733 1615.2 857 1689.9 589 1764.6 685 1839.3 771 1914 534 1988.8 445 2063.5 541"/>
<path class="ci" d="M344.9 305 419.6 406 494.4 484 569.1 412 643.8 380 718.5 599 793.2 294 868 275 942.7 439 1017.4 564 1092.1 715 1166.8 765 1241.6 928 1316.3 722 1391 673 1465.7 766 1540.4 698 1615.2 704 1689.9 777 1764.6 603 1839.3 726 1914 780 1988.8 227 2063.5 461"/>
<path class="cj" d="M344.9 445 419.6 559 494.4 505 569.1 397 643.8 464 718.5 405 793.2 426 868 581 942.7 446 1017.4 524 1092.1 728 1166.8 763 1241.6 767 1316.3 759 1391 684 1465.7 590 1540.4 671 1615.2 756 1689.9 693 1764.6 697 1839.3 651 1914 648 1988.8 547 2063.5 363"/>
<path class="ck" d="M344.9 372 419.6 514 494.4 428 569.1 496 643.8 589 718.5 358 793.2 458 868 355 942.7 435 1017.4 687 1092.1 681 1166.8 844 1241.6 851 1316.3 742 1391 763 1465.7 706 1540.4 723 1615.2 706 1689.9 684 1764.6 682 1839.3 670 1914 639 1988.8 507 2063.5 281"/>
<path class="cl" d="M344.9 406 419.6 468 494.4 496 569.1 414 643.8 530 718.5 457 793.2 282 868 362 942.7 170 1017.4 713 1092.1 782 1166.8 711 1241.6 815 1316.3 788 1391 766 1465.7 724 1540.4 675 1615.2 770 1689.9 604 1764.6 661 1839.3 724 1914 700 1988.8 470 2063.5 360"/>
<path class="ca" d="M344.9 433 419.6 549 494.4 468 569.1 368 643.8 536 718.5 598 793.2 424 868 504 942.7 487 1017.4 645 1092.1 652 1166.8 824 1241.6 754 1316.3 789 1391 684 1465.7 724 1540.4 689 1615.2 760 1689.9 727 1764.6 741 1839.3 715 1914 694 1988.8 341 2063.5 543"/>
<path class="cb" d="M344.9 319 419.6 510 494.4 463 569.1 487 643.8 615 718.5 567 793.2 400 868 485 942.7 330 1017.4 466 1092.1 709 1166.8 747 1241.6 833 1316.3 905 1391 634 1465.7 700 1540.4 729 1615.2 681 1689.9 731 1764.6 655 1839.3 737 1914 616 1988.8 358 2063.5 465"/>
<path class="cc" d="M344.9 568 419.6 402 494.4 393 569.1 459 643.8 477 718.5 328 793.2 362 868 317 942.7 507 1017.4 613 1092.1 794 1166.8 708 1241.6 876 1316.3 795 1391 770 1465.7 668 1540.4 603 1615.2 793 1689.9 725 1764.6 655 1839.3 666 1914 671 1988.8 426 2063.5 506"/>
<path class="cd" d="M344.9 163 419.6 536 494.4 556 569.1 531 643.8 429 718.5 497 793.2 235 868 433 942.7 345 1017.4 478 1092.1 657 1166.8 815 1241.6 788 1316.3 692 1391 757 1465.7 732 1540.4 636 1615.2 678 1689.9 484 1764.6 665 1839.3 626 1914 635 1988.8 353 2063.5 326"/>
<path class="ce" d="M344.9 337 419.6 423 494.4 535 569.1 504 643.8 538 718.5 346 793.2 465 868 525 942.7 521 1017.4 434 1092.1 830 1166.8 796 1241.6 843 1316.3 770 1391 746 1465.7 802 1540.4 686 1615.2 794 1689.9 586 1764.6 632 1839.3 600 1914 543 1988.8 538 2063.5 373"/>
<path class="cf" d="M344.9 273 419.6 563 494.4 467 569.1 381 643.8 453 718.5 473 793.2 499 868 341 942.7 631 1017.4 541 1092.1 635 1166.8 789 1241.6 813 1316.3 744 1391 738 1465.7 702 1540.4 680 1615.2 717 1689.9 623 1764.6 744 1839.3 680 1914 607 1988.8 455 2063.5 523"/>
<path class="cg" d="M344.9 319 419.6 423 494.4 444 569.1 493 643.8 500 718.5 407 793.2 442 868 273 942.7 468 1017.4 644 1092.1 810 1166.8 798 1241.6 863 1316.3 728 1391 702 1465.7 721 1540.4 706 1615.2 715 1689.9 633 1764.6 632 1839.3 800 1914 639 1988.8 551 2063.5 376"/>
<path class="ch" d="M344.9 543 419.6 405 494.4 439 569.1 297 643.8 467 718.5 400 793.2 390 868 262 942.7 335 1017.4 505 1092.1 642 1166.8 728 1241.6 867 1316.3 791 1391 721 1465.7 618 1540.4 724 1615.2 823 1689.9 707 1764.6 669 1839.3 761 1914 649 1988.8 473 2063.5 602"/>
<path class="ci" d="M344.9 449 419.6 496 494.4 319 569.1 364 643.8 506 718.5 410 793.2 395 868 357 942.7 460 1017.4 684 1092.1 666 1166.8 718 1241.6 747 1316.3 751 1391 701 1465.7 677 1540.4 615 1615.2 759 1689.9 681 1764.6 597 1839.3 694 1914 686 1988.8 662 2063.5 466"/>
<path class="cj" d="M344.9 384 419.6 442 494.4 565 569.1 582 643.8 628 718.5 330 793.2 480 868 376 942.7 387 1017.4 570 1092.1 701 1166.8 740 1241.6 820 1316.3 698 1391 652 1465.7 706 1540.4 445 1615.2 797 1689.9 576 1764.6 707 1839.3 734 1914 740 1988.8 522 2063.5 439"/>
<path class="ck" d="M344.9 436 419.6 341 494.4 419 569.1 526 643.8 598 718.5 603 793.2 608 868 527 942.7 467 1017.4 533 1092.1 693 1166.8 844 1241.6 839 1316.3 745 1391 765 1465.7 709 1540.4 728 1615.2 703 1689.9 639 1764.6 636 1839.3 639 1914 616 1988.8 481 2063.5 504"/>
<path class="cl" d="M344.9 362 419.6 384 494.4 398 569.1 593 643.8 349 718.5 639 793.2 328 868 498 942.7 408 1017.4 663 1092.1 623 1166.8 780 1241.6 891 1316.3 737 1391 688 1465.7 704 1540.4 575 1615.2 715 1689.9 647 1764.6 719 1839.3 738 1914 720 1988.8 564 2063.5 571"/>
<path class="ca" d="M344.9 492 419.6 500 494.4 547 569.1 435 643.8 598 718.5 357 793.2 468 868 527 942.7 491 1017.4 676 1092.1 663 1166.8 833 1241.6 810 1316.3 729 1391 730 1465.7 783 1540.4 517 1615.2 698 1689.9 637 1764.6 718 1839.3 717 1914 710 1988.8 453 2063.5 500"/>
<path class="cb" d="M344.9 302 419.6 433 494.4 573 569.1 518 643.8 502 718.5 467 793.2 272 868 359 942.7 303 1017.4 475 1092.1 699 1166.8 781 1241.6 814 1316.3 769 1391 679 1465.7 655 1540.4 752 1615.2 766 1689.9 691 1764.6 748 1839.3 756 1914 690 1988.8 638 2063.5 361"/>
<path class="cc" d="M344.9 409 419.6 415 494.4 478 569.1 404 643.8 630 718.5 490 793.2 559 868 411 942.7 445 1017.4 652 1092.1 684 1166.8 869 1241.6 755 1316.3 757 1391 785 1465.7 729 1540.4 652 1615.2 815 1689.9 603 1764.6 589 1839.3 742 1914 706 1988.8 530 2063.5 461"/>
<path class="cd" d="M344.9 260 419.6 409 494.4 320 569.1 396 643.8 505 718.5 500 793.2 497 868 455 942.7 475 1017.4 552 1092.1 761 1166.8 761 1241.6 877 1316.3 792 1391 855 1465.7 694 1540.4 694 1615.2 709 1689.9 731 1764.6 762 1839.3 703 1914 749 1988.8 551 2063.5 366"/>
<path class="ce" d="M344.9 452 419.6 457 494.4 403 569.1 533 643.8 492 718.5 414 793.2 328 868 261 942.7 341 1017.4 493 1092.1 713 1166.8 876 1241.6 844 1316.3 819 1391 683 1465.7 754 1540.4 659 1615.2 659 1689.9 623 1764.6 577 1839.3 675 1914 619 1988.8 482 2063.5 315"/>
<path class="cf" d="M344.9 435 419.6 374 494.4 449 569.1 265 643.8 442 718.5 451 793.2 451 868 315 942.7 454 1017.4 562 1092.1 687 1166.8 766 1241.6 771 1316.3 827 1391 744 1465.7 765 1540.4 651 1615.2 744 1689.9 662 1764.6 676 1839.3 677 1914 586 1988.8 476 2063.5 511"/>
<path class="cg" d="M344.9 475 419.6 432 494.4 464 569.1 442 643.8 506 718.5 416 793.2 359 868 450 942.7 416 1017.4 618 1092.1 773 1166.8 757 1241.6 816 1316.3 801 1391 766 1465.7 701 1540.4 611 1615.2 809 1689.9 672 1764.6 619 1839.3 683 1914 629 1988.8 583 2063.5 451"/>
<path class="ch" d="M344.9 529 419.6 511 494.4 487 569.1 368 643.8 445 718.5 571 793.2 432 868 454 942.7 428 1017.4 525 1092.1 695 1166.8 850 1241.6 905 1316.3 690 1391 694 1465.7 766 1540.4 655 1615.2 723 1689.9 650 1764.6 635 1839.3 707 1914 624 1988.8 573 2063.5 448"/>
<path class="ci" d="M344.9 197 419.6 383 494.4 381 569.1 488 643.8 474 718.5 485 793.2 236 868 505 942.7 513 1017.4 682 1092.1 743 1166.8 865 1241.6 779 1316.3 814 1391 767 1465.7 662 1540.4 711 1615.2 827 1689.9 692 1764.6 684 1839.3 659 1914 623 1988.8 389 2063.5 563"/>
<path class="cj" d="M344.9 297 419.6 447 494.4 412 569.1 374 643.8 705 718.5 482 793.2 450 868 150 942.7 449 1017.4 646 1092.1 606 1166.8 845 1241.6 871 1316.3 841 1391 688 1465.7 756 1540.4 618 1615.2 684 1689.9 600 1764.6 738 1839.3 796 1914 663 1988.8 563 2063.5 382"/>
<path class="ck" d="M344.9 391 419.6 392 494.4 414 569.1 276 643.8 665 718.5 434 793.2 563 868 483 942.7 405 1017.4 595 1092.1 629 1166.8 817 1241.6 798 1316.3 750 1391 740 1465.7 556 1540.4 646 1615.2 807 1689.9 592 1764.6 608 1839.3 690 1914 510 1988.8 499 2063.5 230"/>
<path class="cl" d="M344.9 335 419.6 397 494.4 502 569.1 458 643.8 622 718.5 305 793.2 352 868 524 942.7 453 1017.4 532 1092.1 714 1166.8 731 1241.6 892 1316.3 765 1391 758 1465.7 693 1540.4 640 1615.2 769 1689.9 682 1764.6 688 1839.3 644 1914 712 1988.8 480 2063.5 480"/>
<path class="ca" d="M344.9 437 419.6 483 494.4 414 569.1 385 643.8 476 718.5 579 793.2 344 868 349 942.7 490 1017.4 538 1092.1 617 1166.8 750 1241.6 795 1316.3 812 1391 784 1465.7 669 1540.4 678 1615.2 763 1689.9 726 1764.6 643 1839.3 691 1914 702 1988.8 556 2063.5 515"/>
<path class="cb" d="M344.9 423 419.6 469 494.4 505 569.1 391 643.8 490 718.5 593 793.2 471 868 563 942.7 359 1017.4 600 1092.1 712 1166.8 782 1241.6 862 1316.3 757 1391 655 1465.7 727 1540.4 697 1615.2 653 1689.9 721 1764.6 711 1839.3 636 1914 579 1988.8 600 2063.5 402"/>
<path class="cc" d="M344.9 238 419.6 356 494.4 453 569.1 504 643.8 524 718.5 394 793.2 372 868 451 942.7 506 1017.4 638 1092.1 693 1166.8 814 1241.6 838 1316.3 687 1391 767 1465.7 572 1540.4 730 1615.2 633 1689.9 614 1764.6 699 1839.3 740 1914 610 1988.8 533 2063.5 517"/>
<path class="cd" d="M344.9 395 419.6 359 494.4 588 569.1 521 643.8 480 718.5 619 793.2 442 868 414 942.7 345 1017.4 689 1092.1 666 1166.8 757 1241.6 855 1316.3 783 1391 715 1465.7 690 1540.4 616 1615.2 761 1689.9 579 1764.6 677 1839.3 701 1914 647 1988.8 427 2063.5 502"/>
<path class="ce" d="M344.9 237 419.6 475 494.4 494 569.1 279 643.8 479 718.5 489 793.2 357 868 337 942.7 572 1017.4 573 1092.1 694 1166.8 771 1241.6 846 1316.3 705 1391 648 1465.7 682 1540.4 690 1615.2 712 1689.9 637 1764.6 712 1839.3 666 1914 570 1988.8 483 2063.5 413"/>
<path class="cf" d="M344.9 91 419.6 517 494.4 562 569.1 306 643.8 508 718.5 527 793.2 388 868 432 942.7 429 1017.4 522 1092.1 846 1166.8 689 1241.6 790 1316.3 761 1391 787 1465.7 656 1540.4 549 1615.2 656 1689.9 534 1764.6 602 1839.3 786 1914 661 1988.8 518 2063.5 439"/>
<path class="cg" d="M344.9 531 419.6 561 494.4 456 569.1 301 643.8 587 718.5 473 793.2 493 868 279 942.7 328 1017.4 513 1092.1 745 1166.8 787 1241.6 835 1316.3 795 1391 781 1465.7 710 1540.4 623 1615.2 712 1689.9 608 1764.6 648 1839.3 808 1914 670 1988.8 560 2063.5 399"/>
<path class="ch" d="M344.9 462 419.6 403 494.4 459 569.1 355 643.8 523 718.5 555 793.2 229 868 409 942.7 420 1017.4 433 1092.1 747 1166.8 812 1241.6 891 1316.3 820 1391 720 1465.7 781 1540.4 710 1615.2 867 1689.9 686 1764.6 728 1839.3 755 1914 668 1988.8 476 2063.5 480"/>
<path class="ci" d="M344.9 253 419.6 460 494.4 475 569.1 563 643.8 617 718.5 584 793.2 358 868 513 942.7 289 1017.4 558 1092.1 739 1166.8 757 1241.6 898 1316.3 853 1391 772 1465.7 726 1540.4 685 1615.2 742 1689.9 542 1764.6 675 1839.3 790 1914 681 1988.8 560 2063.5 422"/>
<path class="cj" d="M344.9 382 419.6 363 494.4 458 569.1 313 643.8 488 718.5 319 793.2 418 868 490 942.7 360 1017.4 466 1092.1 747 1166.8 760 1241.6 781 1316.3 800 1391 731 1465.7 716 1540.4 766 1615.2 637 1689.9 632 1764.6 648 1839.3 742 1914 655 1988.8 456 2063.5 429"/>
<path class="ck" d="M344.9 512 419.6 332 494.4 461 569.1 425 643.8 504 718.5 464 793.2 391 868 255 942.7 438 1017.4 468 1092.1 727 1166.8 693 1241.6 859 1316.3 754 1391 759 1465.7 738 1540.4 663 1615.2 726 1689.9 652 1764.6 669 1839.3 791 1914 615 1988.8 620 2063.5 455"/>
<path class="cl" d="M344.9 468 419.6 301 494.4 452 569.1 414 643.8 486 718.5 530 793.2 411 868 488 942.7 480 1017.4 585 1092.1 702 1166.8 819 1241.6 916 1316.3 811 1391 678 1465.7 694 1540.4 774 1615.2 650 1689.9 660 1764.6 668 1839.3 708 1914 680 1988.8 526 2063.5 432"/>
<path class="ca" d="M344.9 336 419.6 481 494.4 532 569.1 489 643.8 590 718.5 578 793.2 328 868 510 942.7 434 1017.4 441 1092.1 636 1166.8 799 1241.6 889 1316.3 823 1391 678 1465.7 701 1540.4 677 1615.2 689 1689.9 561 1764.6 714 1839.3 792 1914 638 1988.8 508 2063.5 484"/>
<path class="cb" d="M344.9 304 419.6 503 494.4 487 569.1 366 643.8 495 718.5 523 793.2 409 868 529 942.7 381 1017.4 654 1092.1 705 1166.8 752 1241.6 804 1316.3 834 1391 709 1465.7 687 1540.4 660 1615.2 760 1689.9 665 1764.6 639 1839.3 706 1914 665 1988.8 486 2063.5 439"/>
<path class="cc" d="M344.9 391 419.6 438 494.4 339 569.1 479 643.8 483 718.5 458 793.2 451 868 346 942.7 291 1017.4 488 1092.1 764 1166.8 784 1241.6 841 1316.3 866 1391 702 1465.7 610 1540.4 698 1615.2 762 1689.9 691 1764.6 689 1839.3 761 1914 588 1988.8 610 2063.5 542"/>
<path class="cd" d="M344.9 329 419.6 414 494.4 364 569.1 382 643.8 462 718.5 539 793.2 403 868 434 942.7 469 1017.4 646 1092.1 648 1166.8 743 1241.6 815 1316.3 763 1391 797 1465.7 721 1540.4 806 1615.2 785 1689.9 622 1764.6 679 1839.3 741 1914 691 1988.8 447 2063.5 405"/>
<path class="ce" d="M344.9 211 419.6 401 494.4 450 569.1 527 643.8 515 718.5 535 793.2 386 868 367 942.7 520 1017.4 671 1092.1 761 1166.8 807 1241.6 852 1316.3 879 1391 811 1465.7 713 1540.4 658 1615.2 727 1689.9 625 1764.6 629 1839.3 630 1914 700 1988.8 459 2063.5 535"/>
<path class="cf" d="M344.9 290 419.6 464 494.4 419 569.1 400 643.8 597 718.5 390 793.2 391 868 396 942.7 457 1017.4 536 1092.1 818 1166.8 884 1241.6 866 1316.3 765 1391 741 1465.7 796 1540.4 747 1615.2 788 1689.9 585 1764.6 594 1839.3 718 1914 706 1988.8 551 2063.5 412"/>
<path class="cg" d="M344.9 194 419.6 651 494.4 456 569.1 485 643.8 419 718.5 557 793.2 540 868 529 942.7 426 1017.4 522 1092.1 756 1166.8 801 1241.6 910 1316.3 782 1391 821 1465.7 589 1540.4 666 1615.2 804 1689.9 678 1764.6 675 1839.3 671 1914 726 1988.8 622 2063.5 277"/>
<path class="ch" d="M344.9 309 419.6 424 494.4 547 569.1 454 643.8 467 718.5 524 793.2 511 868 512 942.7 428 1017.4 726 1092.1 702 1166.8 826 1241.6 903 1316.3 829 1391 742 1465.7 655 1540.4 630 1615.2 793 1689.9 580 1764.6 679 1839.3 751 1914 707 1988.8 613 2063.5 573"/>
<path class="ci" d="M344.9 479 419.6 480 494.4 533 569.1 547 643.8 615 718.5 499 793.2 522 868 424 942.7 469 1017.4 567 1092.1 660 1166.8 748 1241.6 794 1316.3 728 1391 747 1465.7 725 1540.4 639 1615.2 701 1689.9 597 1764.6 565 1839.3 821 1914 689 1988.8 450 2063.5 406"/>
<path class="cj" d="M344.9 440 419.6 495 494.4 639 569.1 386 643.8 403 718.5 457 793.2 466 868 445 942.7 505 1017.4 654 1092.1 760 1166.8 785 1241.6 832 1316.3 806 1391 740 1465.7 737 1540.4 620 1615.2 758 1689.9 588 1764.6 601 1839.3 724 1914 614 1988.8 571 2063.5 500"/>
<path class="ck" d="M344.9 319 419.6 352 494.4 339 569.1 420 643.8 373 718.5 366 793.2 330 868 467 942.7 361 1017.4 590 1092.1 640 1166.8 818 1241.6 843 1316.3 825 1391 715 1465.7 661 1540.4 665 1615.2 761 1689.9 588 1764.6 615 1839.3 697 1914 549 1988.8 353 2063.5 399"/>
<path class="cl" d="M344.9 98 419.6 322 494.4 474 569.1 616 643.8 397 718.5 555 793.2 468 868 159 942.7 247 1017.4 577 1092.1 752 1166.8 742 1241.6 850 1316.3 872 1391 682 1465.7 590 1540.4 704 1615.2 700 1689.9 770 1764.6 643 1839.3 681 1914 774 1988.8 426 2063.5 502"/>
<path class="ca" d="M344.9 521 419.6 382 494.4 472 569.1 376 643.8 538 718.5 622 793.2 518 868 393 942.7 411 1017.4 449 1092.1 703 1166.8 823 1241.6 828 1316.3 881 1391 772 1465.7 674 1540.4 726 1615.2 750 1689.9 655 1764.6 653 1839.3 675 1914 740 1988.8 323 2063.5 383"/>
<path class="cb" d="M344.9 358 419.6 305 494.4 281 569.1 463 643.8 487 718.5 508 793.2 312 868 447 942.7 447 1017.4 600 1092.1 559 1166.8 773 1241.6 871 1316.3 812 1391 737 1465.7 661 1540.4 687 1615.2 730 1689.9 611 1764.6 662 1839.3 687 1914 631 1988.8 441 2063.5 530"/>
<path class="cc" d="M344.9 400 419.6 535 494.4 425 569.1 256 643.8 468 718.5 422 793.2 501 868 364 942.7 428 1017.4 630 1092.1 575 1166.8 888 1241.6 847 1316.3 743 1391 752 1465.7 639 1540.4 667 1615.2 785 1689.9 710 1764.6 696 1839.3 729 1914 584 1988.8 522 2063.5 409"/>
<path class="cd" d="M344.9 366 419.6 451 494.4 492 569.1 350 643.8 534 718.5 406 793.2 468 868 487 942.7 465 1017.4 521 1092.1 714 1166.8 662 1241.6 840 1316.3 747 1391 772 1465.7 713 1540.4 660 1615.2 695 1689.9 703 1764.6 739 1839.3 746 1914 696 1988.8 441 2063.5 474"/>
<path class="ce" d="M344.9 161 419.6 467 494.4 460 569.1 535 643.8 470 718.5 462 793.2 229 868 408 942.7 463 1017.4 622 1092.1 736 1166.8 814 1241.6 836 1316.3 752 1391 697 1465.7 718 1540.4 575 1615.2 823 1689.9 653 1764.6 632 1839.3 704 1914 590 1988.8 520 2063.5 577"/>
<path class="cf" d="M344.9 444 419.6 435 494.4 465 569.1 431 643.8 521 718.5 517 793.2 321 868 546 942.7 347 1017.4 673 1092.1 675 1166.8 882 1241.6 846 1316.3 763 1391 837 1465.7 816 1540.4 698 1615.2 716 1689.9 642 1764.6 690 1839.3 674 1914 645 1988.8 448 2063.5 407"/>
<path class="cg" d="M344.9 368 419.6 406 494.4 387 569.1 462 643.8 606 718.5 566 793.2 524 868 511 942.7 359 1017.4 563 1092.1 692 1166.8 719 1241.6 735 1316.3 871 1391 747 1465.7 748 1540.4 578 1615.2 695 1689.9 556 1764.6 716 1839.3 824 1914 709 1988.8 505 2063.5 268"/>
<path class="ch" d="M344.9 236 419.6 483 494.4 366 569.1 471 643.8 498 718.5 502 793.2 222 868 257 942.7 318 1017.4 580 1092.1 707 1166.8 736 1241.6 880 1316.3 715 1391 843 1465.7 628 1540.4 739 1615.2 814 1689.9 721 1764.6 633 1839.3 649 1914 708 1988.8 566 2063.5 466"/>
<path class="ci" d="M344.9 218 419.6 535 494.4 469 569.1 383 643.8 504 718.5 515 793.2 480 868 390 942.7 359 1017.4 707 1092.1 626 1166.8 769 1241.6 890 1316.3 772 1391 733 1465.7 643 1540.4 687 1615.2 802 1689.9 631 1764.6 760 1839.3 794 1914 610 1988.8 457 2063.5 345"/>
<path class="cj" d="M344.9 376 419.6 515 494.4 436 569.1 549 643.8 447 718.5 558 793.2 310 868 264 942.7 499 1017.4 617 1092.1 711 1166.8 852 1241.6 766 1316.3 808 1391 728 1465.7 682 1540.4 693 1615.2 696 1689.9 685 1764.6 703 1839.3 684 1914 688 1988.8 345 2063.5 324"/>
<path class="ck" d="M344.9 445 419.6 442 494.4 538 569.1 390 643.8 713 718.5 434 793.2 374 868 428 942.7 325 1017.4 557 1092.1 670 1166.8 810 1241.6 857 1316.3 841 1391 690 1465.7 682 1540.4 599 1615.2 744 1689.9 592 1764.6 615 1839.3 760 1914 680 1988.8 567 2063.5 477"/>
<path class="cl" d="M344.9 461 419.6 428 494.4 348 569.1 485 643.8 544 718.5 386 793.2 548 868 512 942.7 489 1017.4 733 1092.1 652 1166.8 776 1241.6 890 1316.3 781 1391 752 1465.7 656 1540.4 694 1615.2 805 1689.9 661 1764.6 620 1839.3 666 1914 606 1988.8 454 2063.5 432"/>
<path class="ca" d="M344.9 340 419.6 544 494.4 407 569.1 511 643.8 618 718.5 595 793.2 453 868 418 942.7 410 1017.4 414 1092.1 600 1166.8 823 1241.6 825 1316.3 867 1391 718 1465.7 702 1540.4 657 1615.2 743 1689.9 694 1764.6 624 1839.3 580 1914 706 1988.8 449 2063.5 389"/>
<path class="cb" d="M344.9 509 419.6 512 494.4 546 569.1 501 643.8 471 718.5 557 793.2 475 868 409 942.7 521 1017.4 627 1092.1 562 1166.8 766 1241.6 830 1316.3 791 1391 784 1465.7 725 1540.4 629 1615.2 757 1689.9 644 1764.6 725 1839.3 640 1914 704 1988.8 575 2063.5 524"/>
<path class="cc" d="M344.9 338 419.6 425 494.4 366 569.1 393 643.8 444 718.5 452 793.2 257 868 289 942.7 500 1017.4 623 1092.1 751 1166.8 733 1241.6 797 1316.3 790 1391 640 1465.7 697 1540.4 742 1615.2 703 1689.9 668 1764.6 532 1839.3 666 1914 722 1988.8 515 2063.5 434"/>
<path class="cd" d="M344.9 326 419.6 440 494.4 392 569.1 347 643.8 522 718.5 364 793.2 395 868 475 942.7 427 1017.4 566 1092.1 614 1166.8 777 1241.6 860 1316.3 823 1391 779 1465.7 648 1540.4 603 1615.2 786 1689.9 736 1764.6 704 1839.3 693 1914 717 1988.8 351 2063.5 247"/>
<path class="ce" d="M344.9 466 419.6 327 494.4 618 569.1 497 643.8 453 718.5 532 793.2 519 868 309 942.7 476 1017.4 551 1092.1 705 1166.8 812 1241.6 871 1316.3 748 1391 771 1465.7 628 1540.4 594 1615.2 695 1689.9 673 1764.6 609 1839.3 670 1914 592 1988.8 488 2063.5 400"/>
<path class="cf" d="M344.9 323 419.6 490 494.4 438 569.1 587 643.8 552 718.5 602 793.2 381 868 343 942.7 440 1017.4 538 1092.1 750 1166.8 708 1241.6 799 1316.3 785 1391 766 1465.7 711 1540.4 759 1615.2 674 1689.9 640 1764.6 669 1839.3 652 1914 697 1988.8 411 2063.5 428"/>
<path class="cg" d="M344.9 490 419.6 304 494.4 277 569.1 494 643.8 459 718.5 505 793.2 255 868 285 942.7 369 1017.4 633 1092.1 656 1166.8 805 1241.6 864 1316.3 678 1391 645 1465.7 754 1540.4 668 1615.2 724 1689.9 635 1764.6 608 1839.3 715 1914 482 1988.8 563 2063.5 510"/>
<path class="ch" d="M344.9 399 419.6 589 494.4 529 569.1 391 643.8 519 718.5 540 793.2 338 868 317 942.7 520 1017.4 495 1092.1 671 1166.8 792 1241.6 827 1316.3 720 1391 682 1465.7 666 1540.4 632 1615.2 815 1689.9 669 1764.6 641 1839.3 648 1914 647 1988.8 528 2063.5 359"/>
<path class="ci" d="M344.9 359 419.6 382 494.4 529 569.1 437 643.8 483 718.5 420 793.2 369 868 326 942.7 390 1017.4 467 1092.1 634 1166.8 775 1241.6 800 1316.3 768 1391 739 1465.7 633 1540.4 692 1615.2 719 1689.9 699 1764.6 545 1839.3 675 1914 620 1988.8 386 2063.5 478"/>
<path class="cj" d="M344.9 356 419.6 477 494.4 500 569.1 482 643.8 567 718.5 402 793.2 273 868 530 942.7 556 1017.4 542 1092.1 673 1166.8 829 1241.6 876 1316.3 790 1391 730 1465.7 700 1540.4 758 1615.2 809 1689.9 610 1764.6 593 1839.3 710 1914 806 1988.8 408 2063.5 457"/>
<path class="ck" d="M344.9 489 419.6 484 494.4 433 569.1 401 643.8 625 718.5 503 793.2 343 868 462 942.7 411 1017.4 614 1092.1 755 1166.8 700 1241.6 803 1316.3 805 1391 640 1465.7 728 1540.4 637 1615.2 844 1689.9 732 1764.6 655 1839.3 721 1914 684 1988.8 438 2063.5 394"/>
<path class="cl" d="M344.9 425 419.6 509 494.4 348 569.1 604 643.8 517 718.5 371 793.2 419 868 443 942.7 383 1017.4 542 1092.1 737 1166.8 849 1241.6 828 1316.3 749 1391 697 1465.7 647 1540.4 667 1615.2 799 1689.9 563 1764.6 724 1839.3 743 1914 583 1988.8 444 2063.5 378"/>
<path class="ca" d="M344.9 372 419.6 617 494.4 451 569.1 412 643.8 568 718.5 496 793.2 229 868 396 942.7 340 1017.4 552 1092.1 702 1166.8 765 1241.6 857 1316.3 785 1391 746 1465.7 637 1540.4 787 1615.2 705 1689.9 668 1764.6 702 1839.3 736 1914 583 1988.8 414 2063.5 400"/>
<path class="cb" d="M344.9 342 419.6 576 494.4 445 569.1 484 643.8 456 718.5 410 793.2 372 868 347 942.7 382 1017.4 498 1092.1 728 1166.8 708 1241.6 779 1316.3 824 1391 784 1465.7 714 1540.4 701 1615.2 712 1689.9 619 1764.6 689 1839.3 725 1914 661 1988.8 424 2063.5 433"/>
<path class="cc" d="M344.9 456 419.6 462 494.4 464 569.1 409 643.8 532 718.5 577 793.2 280 868 359 942.7 415 1017.4 561 1092.1 738 1166.8 848 1241.6 905 1316.3 760 1391 778 1465.7 672 1540.4 665 1615.2 734 1689.9 767 1764.6 549 1839.3 648 1914 627 1988.8 514 2063.5 484"/>
<path class="cd" d="M344.9 282 419.6 433 494.4 354 569.1 460 643.8 571 718.5 563 793.2 403 868 382 942.7 315 1017.4 635 1092.1 754 1166.8 807 1241.6 823 1316.3 829 1391 792 1465.7 689 1540.4 648 1615.2 697 1689.9 595 1764.6 663 1839.3 738 1914 698 1988.8 446 2063.5 407"/>
<path class="ce" d="M344.9 479 419.6 415 494.4 301 569.1 407 643.8 445 718.5 478 793.2 314 868 281 942.7 263 1017.4 606 1092.1 791 1166.8 826 1241.6 901 1316.3 761 1391 708 1465.7 727 1540.4 663 1615.2 790 1689.9 651 1764.6 651 1839.3 688 1914 692 1988.8 492 2063.5 407"/>
<path class="cf" d="M344.9 496 419.6 545 494.4 510 569.1 484 643.8 437 718.5 449 793.2 275 868 264 942.7 352 1017.4 608 1092.1 612 1166.8 811 1241.6 824 1316.3 755 1391 716 1465.7 640 1540.4 596 1615.2 769 1689.9 666 1764.6 593 1839.3 743 1914 618 1988.8 494 2063.5 439"/>
<path class="cg" d="M344.9 381 419.6 477 494.4 505 569.1 391 643.8 510 718.5 385 793.2 455 868 315 942.7 540 1017.4 592 1092.1 672 1166.8 835 1241.6 878 1316.3 837 1391 772 1465.7 765 1540.4 684 1615.2 613 1689.9 683 1764.6 732 1839.3 721 1914 659 1988.8 482 2063.5 639"/>
<path class="ch" d="M344.9 191 419.6 506 494.4 431 569.1 470 643.8 492 718.5 525 793.2 450 868 450 942.7 544 1017.4 525 1092.1 639 1166.8 825 1241.6 879 1316.3 777 1391 706 1465.7 803 1540.4 701 1615.2 796 1689.9 584 1764.6 651 1839.3 631 1914 593 1988.8 326 2063.5 448"/>
<path class="ci" d="M344.9 360 419.6 317 494.4 416 569.1 437 643.8 571 718.5 392 793.2 498 868 502 942.7 331 1017.4 535 1092.1 649 1166.8 713 1241.6 821 1316.3 855 1391 815 1465.7 692 1540.4 595 1615.2 721 1689.9 581 1764.6 713 1839.3 718 1914 635 1988.8 369 2063.5 418"/>
<path class="cj" d="M344.9 336 419.6 392 494.4 574 569.1 447 643.8 319 718.5 495 793.2 386 868 379 942.7 534 1017.4 564 1092.1 662 1166.8 784 1241.6 826 1316.3 880 1391 721 1465.7 685 1540.4 641 1615.2 783 1689.9 595 1764.6 716 1839.3 748 1914 637 1988.8 472 2063.5 282"/>
<path class="ck" d="M344.9 441 419.6 377 494.4 412 569.1 411 643.8 557 718.5 463 793.2 340 868 405 942.7 554 1017.4 492 1092.1 724 1166.8 755 1241.6 841 1316.3 778 1391 780 1465.7 719 1540.4 645 1615.2 752 1689.9 609 1764.6 647 1839.3 795 1914 730 1988.8 430 2063.5 433"/>
<path class="cl" d="M344.9 325 419.6 456 494.4 620 569.1 395 643.8 606 718.5 427 793.2 448 868 299 942.7 481 1017.4 595 1092.1 684 1166.8 768 1241.6 871 1316.3 731 1391 702 1465.7 761 1540.4 608 1615.2 762 1689.9 632 1764.6 710 1839.3 661 1914 615 1988.8 435 2063.5 522"/>
<path class="ca" d="M344.9 422 419.6 435 494.4 296 569.1 369 643.8 496 718.5 441 793.2 330 868 416 942.7 425 1017.4 652 1092.1 721 1166.8 734 1241.6 806 1316.3 789 1391 667 1465.7 689 1540.4 637 1615.2 767 1689.9 698 1764.6 535 1839.3 800 1914 640 1988.8 486 2063.5 562"/>
<path class="cb" d="M344.9 313 419.6 196 494.4 373 569.1 443 643.8 438 718.5 491 793.2 339 868 499 942.7 480 1017.4 579 1092.1 680 1166.8 843 1241.6 847 1316.3 748 1391 771 1465.7 740 1540.4 666 1615.2 872 1689.9 598 1764.6 740 1839.3 807 1914 600 1988.8 538 2063.5 579"/>
<path class="cc" d="M344.9 364 419.6 306 494.4 356 569.1 435 643.8 596 718.5 491 793.2 457 868 486 942.7 419 1017.4 551 1092.1 710 1166.8 781 1241.6 805 1316.3 753 1391 708 1465.7 776 1540.4 581 1615.2 771 1689.9 582 1764.6 631 1839.3 739 1914 645 1988.8 494 2063.5 431"/>
<path class="cd" d="M344.9 342 419.6 630 494.4 506 569.1 320 643.8 516 718.5 518 793.2 552 868 438 942.7 402 1017.4 622 1092.1 658 1166.8 861 1241.6 834 1316.3 729 1391 804 1465.7 779 1540.4 574 1615.2 730 1689.9 638 1764.6 604 1839.3 678 1914 705 1988.8 342 2063.5 386"/>
<path class="ce" d="M344.9 349 419.6 406 494.4 513 569.1 321 643.8 480 718.5 686 793.2 412 868 430 942.7 453 1017.4 588 1092.1 635 1166.8 850 1241.6 878 1316.3 767 1391 670 1465.7 693 1540.4 661 1615.2 775 1689.9 705 1764.6 557 1839.3 743 1914 621 1988.8 391 2063.5 522"/>
<path class="cf" d="M344.9 354 419.6 488 494.4 462 569.1 421 643.8 564 718.5 286 793.2 508 868 468 942.7 525 1017.4 519 1092.1 689 1166.8 665 1241.6 895 1316.3 742 1391 787 1465.7 615 1540.4 627 1615.2 780 1689.9 696 1764.6 720 1839.3 656 1914 675 1988.8 502 2063.5 531"/>
<path class="cg" d="M344.9 417 419.6 462 494.4 605 569.1 445 643.8 424 718.5 562 793.2 370 868 376 942.7 476 1017.4 640 1092.1 662 1166.8 809 1241.6 919 1316.3 763 1391 759 1465.7 642 1540.4 599 1615.2 807 1689.9 598 1764.6 614 1839.3 720 1914 717 1988.8 559 2063.5 558"/>
<path class="ch" d="M344.9 396 419.6 491 494.4 455 569.1 430 643.8 594 718.5 572 793.2 378 868 533 942.7 416 1017.4 495 1092.1 667 1166.8 840 1241.6 876 1316.3 795 1391 658 1465.7 653 1540.4 545 1615.2 780 1689.9 685 1764.6 643 1839.3 657 1914 654 1988.8 566 2063.5 542"/>
<path class="ci" d="M344.9 350 419.6 517 494.4 426 569.1 542 643.8 613 718.5 452 793.2 670 868 392 942.7 535 1017.4 574 1092.1 752 1166.8 795 1241.6 867 1316.3 734 1391 677 1465.7 765 1540.4 582 1615.2 730 1689.9 640 1764.6 692 1839.3 748 1914 678 1988.8 539 2063.5 383"/>
<path class="cj" d="M344.9 345 419.6 502 494.4 386 569.1 430 643.8 587 718.5 433 793.2 399 868 407 942.7 439 1017.4 514 1092.1 602 1166.8 819 1241.6 797 1316.3 779 1391 760 1465.7 667 1540.4 751 1615.2 690 1689.9 734 1764.6 571 1839.3 702 1914 604 1988.8 514 2063.5 316"/>
<path class="ck" d="M344.9 289 419.6 411 494.4 546 569.1 328 643.8 424 718.5 465 793.2 385 868 251 942.7 451 1017.4 592 1092.1 727 1166.8 712 1241.6 845 1316.3 840 1391 833 1465.7 741 1540.4 700 1615.2 715 1689.9 645 1764.6 666 1839.3 739 1914 591 1988.8 513 2063.5 361"/>
<path class="cl" d="M344.9 337 419.6 420 494.4 407 569.1 384 643.8 506 718.5 380 793.2 400 868 457 942.7 539 1017.4 509 1092.1 687 1166.8 786 1241.6 872 1316.3 742 1391 712 1465.7 628 1540.4 703 1615.2 724 1689.9 727 1764.6 677 1839.3 752 1914 627 1988.8 542 2063.5 415"/>
<path class="ca" d="M344.9 440 419.6 507 494.4 571 569.1 427 643.8 462 718.5 424 793.2 229 868 452 942.7 394 1017.4 675 1092.1 718 1166.8 786 1241.6 806 1316.3 802 1391 773 1465.7 684 1540.4 661 1615.2 760 1689.9 697 1764.6 641 1839.3 631 1914 648 1988.8 484 2063.5 492"/>
<path class="cb" d="M344.9 364 419.6 443 494.4 404 569.1 428 643.8 602 718.5 469 793.2 487 868 344 942.7 459 1017.4 575 1092.1 789 1166.8 799 1241.6 941 1316.3 801 1391 753 1465.7 649 1540.4 644 1615.2 810 1689.9 640 1764.6 722 1839.3 606 1914 771 1988.8 551 2063.5 390"/>
<path class="cc" d="M344.9 480 419.6 388 494.4 460 569.1 355 643.8 706 718.5 356 793.2 360 868 602 942.7 461 1017.4 473 1092.1 665 1166.8 764 1241.6 796 1316.3 827 1391 734 1465.7 654 1540.4 732 1615.2 700 1689.9 718 1764.6 684 1839.3 717 1914 649 1988.8 558 2063.5 446"/>
<path class="cd" d="M344.9 425 419.6 501 494.4 638 569.1 461 643.8 466 718.5 437 793.2 321 868 324 942.7 524 1017.4 601 1092.1 659 1166.8 807 1241.6 881 1316.3 748 1391 720 1465.7 652 1540.4 683 1615.2 849 1689.9 675 1764.6 605 1839.3 713 1914 638 1988.8 625 2063.5 430"/>
<path class="ce" d="M344.9 444 419.6 481 494.4 426 569.1 496 643.8 590 718.5 610 793.2 410 868 388 942.7 500 1017.4 563 1092.1 748 1166.8 806 1241.6 936 1316.3 741 1391 730 1465.7 662 1540.4 677 1615.2 729 1689.9 657 1764.6 710 1839.3 698 1914 594 1988.8 505 2063.5 429"/>
<path class="cf" d="M344.9 373 419.6 523 494.4 517 569.1 406 643.8 682 718.5 505 793.2 355 868 400 942.7 459 1017.4 603 1092.1 765 1166.8 722 1241.6 894 1316.3 800 1391 726 1465.7 686 1540.4 690 1615.2 760 1689.9 662 1764.6 641 1839.3 700 1914 702 1988.8 301 2063.5 576"/>
<path class="cg" d="M344.9 363 419.6 465 494.4 367 569.1 440 643.8 480 718.5 432 793.2 415 868 420 942.7 459 1017.4 519 1092.1 722 1166.8 776 1241.6 840 1316.3 781 1391 776 1465.7 691 1540.4 550 1615.2 670 1689.9 617 1764.6 614 1839.3 709 1914 534 1988.8 649 2063.5 430"/>
<path class="ch" d="M344.9 365 419.6 471 494.4 486 569.1 372 643.8 472 718.5 632 793.2 548 868 503 942.7 306 1017.4 565 1092.1 740 1166.8 834 1241.6 832 1316.3 797 1391 754 1465.7 696 1540.4 591 1615.2 691 1689.9 668 1764.6 694 1839.3 620 1914 705 1988.8 472 2063.5 423"/>
<path class="ci" d="M344.9 229 419.6 510 494.4 366 569.1 508 643.8 558 718.5 498 793.2 387 868 351 942.7 469 1017.4 771 1092.1 792 1166.8 851 1241.6 879 1316.3 790 1391 817 1465.7 703 1540.4 661 1615.2 754 1689.9 742 1764.6 666 1839.3 718 1914 551 1988.8 484 2063.5 437"/>
<path class="cj" d="M344.9 468 419.6 438 494.4 411 569.1 404 643.8 416 718.5 537 793.2 437 868 417 942.7 616 1017.4 654 1092.1 670 1166.8 769 1241.6 791 1316.3 840 1391 795 1465.7 688 1540.4 655 1615.2 755 1689.9 726 1764.6 636 1839.3 688 1914 695 1988.8 434 2063.5 473"/>
<path class="ck" d="M344.9 342 419.6 388 494.4 480 569.1 431 643.8 405 718.5 420 793.2 345 868 385 942.7 448 1017.4 642 1092.1 711 1166.8 899 1241.6 835 1316.3 810 1391 827 1465.7 743 1540.4 543 1615.2 835 1689.9 620 1764.6 582 1839.3 677 1914 712 1988.8 454 2063.5 352"/>
<path class="cl" d="M344.9 430 419.6 378 494.4 385 569.1 284 643.8 461 718.5 398 793.2 383 868 500 942.7 555 1017.4 564 1092.1 785 1166.8 808 1241.6 902 1316.3 836 1391 832 1465.7 759 1540.4 678 1615.2 736 1689.9 632 1764.6 660 1839.3 707 1914 611 1988.8 495 2063.5 359"/>
<path class="ca" d="M344.9 152 419.6 398 494.4 385 569.1 444 643.8 493 718.5 506 793.2 318 868 479 942.7 481 1017.4 583 1092.1 676 1166.8 782 1241.6 893 1316.3 900 1391 672 1465.7 789 1540.4 770 1615.2 758 1689.9 586 1764.6 631 1839.3 744 1914 643 1988.8 418 2063.5 418"/>
<path class="cb" d="M344.9 459 419.6 418 494.4 283 569.1 344 643.8 565 718.5 500 793.2 362 868 287 942.7 332 1017.4 562 1092.1 675 1166.8 860 1241.6 808 1316.3 789 1391 711 1465.7 783 1540.4 734 1615.2 763 1689.9 698 1764.6 662 1839.3 688 1914 628 1988.8 571 2063.5 474"/>
<path class="cc" d="M344.9 432 419.6 456 494.4 510 569.1 379 643.8 551 718.5 545 793.2 416 868 285 942.7 415 1017.4 501 1092.1 590 1166.8 724 1241.6 832 1316.3 777 1391 744 1465.7 752 1540.4 718 1615.2 714 1689.9 610 1764.6 693 1839.3 714 1914 601 1988.8 400 2063.5 611"/>
<path class="cd" d="M344.9 350 419.6 335 494.4 499 569.1 467 643.8 462 718.5 524 793.2 587 868 407 942.7 395 1017.4 547 1092.1 587 1166.8 858 1241.6 920 1316.3 816 1391 795 1465.7 727 1540.4 691 1615.2 695 1689.9 636 1764.6 709 1839.3 833 1914 691 1988.8 491 2063.5 428"/>
<path class="ce" d="M344.9 466 419.6 427 494.4 525 569.1 595 643.8 435 718.5 364 793.2 406 868 494 942.7 290 1017.4 572 1092.1 735 1166.8 842 1241.6 926 1316.3 766 1391 707 1465.7 596 1540.4 616 1615.2 738 1689.9 656 1764.6 656 1839.3 736 1914 600 1988.8 539 2063.5 423"/>
<path class="cf" d="M344.9 313 419.6 502 494.4 483 569.1 448 643.8 552 718.5 347 793.2 479 868 591 942.7 375 1017.4 543 1092.1 742 1166.8 839 1241.6 826 1316.3 765 1391 754 1465.7 760 1540.4 767 1615.2 736 1689.9 642 1764.6 602 1839.3 735 1914 568 1988.8 388 2063.5 382"/>
<path class="cg" d="M344.9 263 419.6 572 494.4 527 569.1 453 643.8 553 718.5 381 793.2 495 868 517 942.7 472 1017.4 610 1092.1 652 1166.8 711 1241.6 847 1316.3 791 1391 763 1465.7 685 1540.4 624 1615.2 770 1689.9 668 1764.6 653 1839.3 762 1914 557 1988.8 477 2063.5 585"/>
<path class="ch" d="M344.9 309 419.6 678 494.4 555 569.1 388 643.8 603 718.5 503 793.2 516 868 563 942.7 504 1017.4 538 1092.1 696 1166.8 823 1241.6 741 1316.3 831 1391 716 1465.7 737 1540.4 718 1615.2 726 1689.9 759 1764.6 625 1839.3 685 1914 656 1988.8 471 2063.5 487"/>
<path class="ci" d="M344.9 335 419.6 557 494.4 352 569.1 468 643.8 549 718.5 524 793.2 447 868 302 942.7 340 1017.4 524 1092.1 724 1166.8 776 1241.6 805 1316.3 789 1391 674 1465.7 776 1540.4 731 1615.2 787 1689.9 567 1764.6 623 1839.3 703 1914 537 1988.8 449 2063.5 538"/>
<path class="cj" d="M344.9 425 419.6 439 494.4 363 569.1 414 643.8 563 718.5 426 793.2 387 868 644 942.7 365 1017.4 565 1092.1 737 1166.8 802 1241.6 755 1316.3 815 1391 787 1465.7 679 1540.4 699 1615.2 757 1689.9 602 1764.6 646 1839.3 743 1914 735 1988.8 454 2063.5 533"/>
<path class="ck" d="M344.9 356 419.6 535 494.4 489 569.1 240 643.8 604 718.5 462 793.2 455 868 432 942.7 488 1017.4 582 1092.1 627 1166.8 762 1241.6 784 1316.3 785 1391 690 1465.7 669 1540.4 549 1615.2 751 1689.9 618 1764.6 694 1839.3 747 1914 607 1988.8 563 2063.5 384"/>
<path class="cl" d="M344.9 263 419.6 379 494.4 443 569.1 503 643.8 499 718.5 618 793.2 354 868 361 942.7 374 1017.4 571 1092.1 770 1166.8 798 1241.6 877 1316.3 880 1391 750 1465.7 670 1540.4 772 1615.2 701 1689.9 629 1764.6 663 1839.3 640 1914 641 1988.8 458 2063.5 421"/>
<path class="ca" d="M344.9 361 419.6 348 494.4 457 569.1 446 643.8 510 718.5 551 793.2 356 868 392 942.7 363 1017.4 559 1092.1 700 1166.8 736 1241.6 839 1316.3 828 1391 700 1465.7 723 1540.4 679 1615.2 756 1689.9 620 1764.6 572 1839.3 792 1914 628 1988.8 488 2063.5 310"/>
<path class="cb" d="M344.9 351 419.6 355 494.4 568 569.1 356 643.8 612 718.5 396 793.2 390 868 277 942.7 467 1017.4 533 1092.1 793 1166.8 791 1241.6 818 1316.3 739 1391 756 1465.7 669 1540.4 693 1615.2 774 1689.9 554 1764.6 622 1839.3 770 1914 646 1988.8 394 2063.5 538"/>
<path class="cc" d="M344.9 220 419.6 533 494.4 534 569.1 261 643.8 434 718.5 456 793.2 410 868 387 942.7 399 1017.4 609 1092.1 799 1166.8 743 1241.6 813 1316.3 799 1391 780 1465.7 648 1540.4 689 1615.2 684 1689.9 699 1764.6 708 1839.3 639 1914 758 1988.8 408 2063.5 411"/>
<path class="cd" d="M344.9 440 419.6 658 494.4 449 569.1 417 643.8 529 718.5 416 793.2 481 868 314 942.7 197 1017.4 599 1092.1 740 1166.8 789 1241.6 773 1316.3 810 1391 682 1465.7 730 1540.4 650 1615.2 714 1689.9 629 1764.6 609 1839.3 741 1914 624 1988.8 544 2063.5 446"/>
<path class="ce" d="M344.9 375 419.6 443 494.4 387 569.1 446 643.8 692 718.5 450 793.2 259 868 412 942.7 406 1017.4 519 1092.1 719 1166.8 829 1241.6 877 1316.3 767 1391 739 1465.7 763 1540.4 652 1615.2 761 1689.9 674 1764.6 597 1839.3 715 1914 627 1988.8 503 2063.5 458"/>
<path class="cf" d="M344.9 378 419.6 490 494.4 406 569.1 409 643.8 497 718.5 483 793.2 295 868 493 942.7 338 1017.4 527 1092.1 794 1166.8 740 1241.6 841 1316.3 819 1391 870 1465.7 652 1540.4 665 1615.2 715 1689.9 641 1764.6 658 1839.3 751 1914 581 1988.8 490 2063.5 625"/>
<path class="cg" d="M344.9 385 419.6 456 494.4 691 569.1 533 643.8 430 718.5 445 793.2 385 868 413 942.7 347 1017.4 599 1092.1 683 1166.8 853 1241.6 882 1316.3 751 1391 722 1465.7 574 1540.4 618 1615.2 653 1689.9 613 1764.6 679 1839.3 628 1914 675 1988.8 493 2063.5 482"/>
<path class="ch" d="M344.9 358 419.6 441 494.4 375 569.1 483 643.8 478 718.5 559 793.2 601 868 501 942.7 618 1017.4 554 1092.1 639 1166.8 771 1241.6 786 1316.3 915 1391 810 1465.7 708 1540.4 734 1615.2 700 1689.9 658 1764.6 604 1839.3 604 1914 616 1988.8 446 2063.5 409"/>
<path class="ci" d="M344.9 510 419.6 716 494.4 480 569.1 465 643.8 498 718.5 406 793.2 380 868 382 942.7 450 1017.4 459 1092.1 718 1166.8 778 1241.6 850 1316.3 748 1391 656 1465.7 660 1540.4 622 1615.2 800 1689.9 745 1764.6 702 1839.3 733 1914 652 1988.8 538 2063.5 453"/>
<path class="cj" d="M344.9 293 419.6 601 494.4 395 569.1 574 643.8 423 718.5 500 793.2 530 868 462 942.7 504 1017.4 573 1092.1 759 1166.8 818 1241.6 880 1316.3 787 1391 791 1465.7 753 1540.4 639 1615.2 800 1689.9 599 1764.6 628 1839.3 662 1914 749 1988.8 442 2063.5 560"/>
<path class="ck" d="M344.9 345 419.6 484 494.4 507 569.1 357 643.8 531 718.5 567 793.2 368 868 519 942.7 496 1017.4 571 1092.1 592 1166.8 798 1241.6 829 1316.3 754 1391 741 1465.7 668 1540.4 699 1615.2 675 1689.9 627 1764.6 632 1839.3 779 1914 609 1988.8 295 2063.5 524"/>
<path class="cl" d="M344.9 481 419.6 504 494.4 344 569.1 388 643.8 462 718.5 559 793.2 359 868 486 942.7 333 1017.4 568 1092.1 670 1166.8 819 1241.6 865 1316.3 780 1391 791 1465.7 667 1540.4 655 1615.2 716 1689.9 680 1764.6 621 1839.3 752 1914 752 1988.8 483 2063.5 505"/>
<path class="ca" d="M344.9 481 419.6 465 494.4 482 569.1 474 643.8 462 718.5 313 793.2 324 868 349 942.7 358 1017.4 491 1092.1 816 1166.8 815 1241.6 805 1316.3 713 1391 750 1465.7 678 1540.4 617 1615.2 771 1689.9 621 1764.6 709 1839.3 693 1914 675 1988.8 453 2063.5 546"/>
<path class="cb" d="M344.9 344 419.6 436 494.4 585 569.1 623 643.8 496 718.5 410 793.2 343 868 522 942.7 332 1017.4 569 1092.1 657 1166.8 702 1241.6 800 1316.3 786 1391 696 1465.7 655 1540.4 660 1615.2 740 1689.9 679 1764.6 670 1839.3 642 1914 674 1988.8 457 2063.5 386"/>
<path class="cc" d="M344.9 443 419.6 514 494.4 416 569.1 367 643.8 576 718.5 516 793.2 517 868 406 942.7 410 1017.4 557 1092.1 576 1166.8 747 1241.6 865 1316.3 785 1391 792 1465.7 680 1540.4 703 1615.2 757 1689.9 747 1764.6 551 1839.3 749 1914 641 1988.8 454 2063.5 474"/>
<path class="cd" d="M344.9 305 419.6 466 494.4 499 569.1 341 643.8 557 718.5 532 793.2 627 868 337 942.7 414 1017.4 518 1092.1 741 1166.8 703 1241.6 843 1316.3 757 1391 692 1465.7 711 1540.4 630 1615.2 740 1689.9 716 1764.6 524 1839.3 771 1914 684 1988.8 342 2063.5 281"/>
<path class="ce" d="M344.9 383 419.6 399 494.4 434 569.1 502 643.8 538 718.5 534 793.2 369 868 250 942.7 543 1017.4 607 1092.1 649 1166.8 728 1241.6 883 1316.3 848 1391 760 1465.7 743 1540.4 623 1615.2 720 1689.9 666 1764.6 592 1839.3 656 1914 706 1988.8 468 2063.5 429"/>
<path class="cf" d="M344.9 264 419.6 460 494.4 595 569.1 520 643.8 508 718.5 484 793.2 398 868 509 942.7 545 1017.4 597 1092.1 645 1166.8 839 1241.6 901 1316.3 862 1391 694 1465.7 703 1540.4 639 1615.2 739 1689.9 683 1764.6 610 1839.3 679 1914 618 1988.8 467 2063.5 372"/>
<path class="cg" d="M344.9 447 419.6 317 494.4 484 569.1 466 643.8 409 718.5 323 793.2 352 868 398 942.7 563 1017.4 659 1092.1 715 1166.8 717 1241.6 860 1316.3 709 1391 701 1465.7 735 1540.4 618 1615.2 678 1689.9 600 1764.6 744 1839.3 651 1914 568 1988.8 465 2063.5 593"/>
<path class="ch" d="M344.9 459 419.6 386 494.4 430 569.1 542 643.8 488 718.5 516 793.2 379 868 338 942.7 581 1017.4 649 1092.1 681 1166.8 832 1241.6 825 1316.3 859 1391 728 1465.7 709 1540.4 734 1615.2 789 1689.9 647 1764.6 753 1839.3 674 1914 618 1988.8 527 2063.5 497"/>
<path class="ci" d="M344.9 405 419.6 522 494.4 360 569.1 525 643.8 512 718.5 446 793.2 372 868 326 942.7 409 1017.4 619 1092.1 675 1166.8 776 1241.6 885 1316.3 785 1391 683 1465.7 644 1540.4 636 1615.2 718 1689.9 744 1764.6 671 1839.3 752 1914 608 1988.8 446 2063.5 460"/>
<path class="cj" d="M344.9 382 419.6 480 494.4 472 569.1 451 643.8 518 718.5 466 793.2 374 868 595 942.7 374 1017.4 622 1092.1 697 1166.8 754 1241.6 849 1316.3 770 1391 792 1465.7 700 1540.4 728 1615.2 754 1689.9 615 1764.6 694 1839.3 754 1914 661 1988.8 566 2063.5 562"/>
<path class="ck" d="M344.9 308 419.6 544 494.4 418 569.1 614 643.8 573 718.5 391 793.2 392 868 381 942.7 492 1017.4 644 1092.1 604 1166.8 851 1241.6 789 1316.3 802 1391 707 1465.7 632 1540.4 593 1615.2 745 1689.9 697 1764.6 712 1839.3 741 1914 653 1988.8 548 2063.5 359"/>
<path class="cl" d="M344.9 286 419.6 531 494.4 436 569.1 457 643.8 524 718.5 413 793.2 333 868 369 942.7 382 1017.4 525 1092.1 704 1166.8 825 1241.6 853 1316.3 828 1391 710 1465.7 708 1540.4 608 1615.2 718 1689.9 705 1764.6 580 1839.3 641 1914 702 1988.8 685 2063.5 434"/>
<path class="ca" d="M344.9 407 419.6 548 494.4 433 569.1 511 643.8 594 718.5 487 793.2 352 868 267 942.7 329 1017.4 631 1092.1 658 1166.8 787 1241.6 790 1316.3 842 1391 740 1465.7 680 1540.4 713 1615.2 723 1689.9 587 1764.6 624 1839.3 733 1914 687 1988.8 576 2063.5 452"/>
<path class="cb" d="M344.9 333 419.6 499 494.4 609 569.1 454 643.8 416 718.5 396 793.2 597 868 325 942.7 244 1017.4 555 1092.1 826 1166.8 820 1241.6 781 1316.3 795 1391 774 1465.7 737 1540.4 642 1615.2 743 1689.9 790 1764.6 607 1839.3 607 1914 593 1988.8 581 2063.5 362"/>
<path class="cc" d="M344.9 431 419.6 361 494.4 426 569.1 475 643.8 573 718.5 581 793.2 268 868 542 942.7 431 1017.4 547 1092.1 707 1166.8 806 1241.6 842 1316.3 819 1391 727 1465.7 678 1540.4 809 1615.2 763 1689.9 757 1764.6 581 1839.3 630 1914 708 1988.8 484 2063.5 437"/>
<path class="cd" d="M344.9 297 419.6 351 494.4 464 569.1 591 643.8 568 718.5 429 793.2 334 868 543 942.7 488 1017.4 655 1092.1 654 1166.8 756 1241.6 889 1316.3 899 1391 717 1465.7 617 1540.4 596 1615.2 713 1689.9 661 1764.6 656 1839.3 758 1914 592 1988.8 494 2063.5 459"/>
<path class="ce" d="M344.9 377 419.6 398 494.4 484 569.1 478 643.8 523 718.5 511 793.2 246 868 344 942.7 486 1017.4 512 1092.1 675 1166.8 828 1241.6 828 1316.3 814 1391 770 1465.7 773 1540.4 691 1615.2 788 1689.9 742 1764.6 684 1839.3 656 1914 688 1988.8 538 2063.5 539"/>
<path class="cf" d="M344.9 312 419.6 482 494.4 671 569.1 552 643.8 546 718.5 276 793.2 430 868 414 942.7 469 1017.4 613 1092.1 624 1166.8 832 1241.6 841 1316.3 821 1391 779 1465.7 740 1540.4 632 1615.2 678 1689.9 581 1764.6 667 1839.3 757 1914 675 1988.8 624 2063.5 406"/>
<path class="cg" d="M344.9 387 419.6 408 494.4 495 569.1 418 643.8 485 718.5 351 793.2 288 868 202 942.7 592 1017.4 506 1092.1 731 1166.8 798 1241.6 881 1316.3 830 1391 740 1465.7 688 1540.4 675 1615.2 726 1689.9 611 1764.6 658 1839.3 753 1914 628 1988.8 491 2063.5 569"/>
<path class="ch" d="M344.9 236 419.6 481 494.4 462 569.1 318 643.8 502 718.5 468 793.2 417 868 353 942.7 468 1017.4 597 1092.1 618 1166.8 767 1241.6 820 1316.3 812 1391 786 1465.7 694 1540.4 641 1615.2 776 1689.9 664 1764.6 575 1839.3 711 1914 652 1988.8 464 2063.5 457"/>
<path class="ci" d="M344.9 435 419.6 447 494.4 497 569.1 312 643.8 585 718.5 633 793.2 410 868 311 942.7 299 1017.4 579 1092.1 769 1166.8 781 1241.6 861 1316.3 748 1391 694 1465.7 630 1540.4 676 1615.2 775 1689.9 619 1764.6 696 1839.3 794 1914 645 1988.8 486 2063.5 387"/>
<path class="cj" d="M344.9 389 419.6 442 494.4 400 569.1 445 643.8 731 718.5 505 793.2 422 868 502 942.7 303 1017.4 492 1092.1 686 1166.8 770 1241.6 856 1316.3 741 1391 731 1465.7 659 1540.4 661 1615.2 755 1689.9 557 1764.6 671 1839.3 715 1914 692 1988.8 477 2063.5 494"/>
<path class="ck" d="M344.9 437 419.6 466 494.4 495 569.1 444 643.8 618 718.5 430 793.2 432 868 376 942.7 434 1017.4 629 1092.1 776 1166.8 706 1241.6 839 1316.3 778 1391 583 1465.7 677 1540.4 663 1615.2 809 1689.9 732 1764.6 629 1839.3 730 1914 668 1988.8 438 2063.5 251"/>
<path class="cl" d="M344.9 478 419.6 306 494.4 340 569.1 348 643.8 304 718.5 549 793.2 348 868 448 942.7 377 1017.4 691 1092.1 765 1166.8 794 1241.6 749 1316.3 804 1391 736 1465.7 722 1540.4 597 1615.2 733 1689.9 797 1764.6 698 1839.3 721 1914 647 1988.8 375 2063.5 531"/>
<path class="ca" d="M344.9 232 419.6 437 494.4 467 569.1 476 643.8 442 718.5 485 793.2 421 868 384 942.7 452 1017.4 459 1092.1 757 1166.8 763 1241.6 773 1316.3 834 1391 693 1465.7 720 1540.4 614 1615.2 671 1689.9 698 1764.6 666 1839.3 747 1914 622 1988.8 501 2063.5 605"/>
<path class="cb" d="M344.9 484 419.6 295 494.4 440 569.1 599 643.8 541 718.5 527 793.2 311 868 292 942.7 353 1017.4 530 1092.1 670 1166.8 794 1241.6 896 1316.3 811 1391 711 1465.7 713 1540.4 666 1615.2 714 1689.9 608 1764.6 661 1839.3 719 1914 648 1988.8 432 2063.5 339"/>
<path class="cc" d="M344.9 456 419.6 547 494.4 324 569.1 449 643.8 407 718.5 405 793.2 374 868 566 942.7 411 1017.4 439 1092.1 775 1166.8 800 1241.6 824 1316.3 776 1391 802 1465.7 685 1540.4 672 1615.2 725 1689.9 620 1764.6 664 1839.3 748 1914 633 1988.8 407 2063.5 401"/>
<path class="cd" d="M344.9 407 419.6 324 494.4 364 569.1 375 643.8 396 718.5 429 793.2 514 868 448 942.7 345 1017.4 524 1092.1 758 1166.8 815 1241.6 870 1316.3 757 1391 739 1465.7 653 1540.4 713 1615.2 748 1689.9 656 1764.6 729 1839.3 635 1914 615 1988.8 417 2063.5 455"/>
<path class="ce" d="M344.9 362 419.6 437 494.4 410 569.1 427 643.8 464 718.5 403 793.2 397 868 352 942.7 493 1017.4 642 1092.1 684 1166.8 772 1241.6 793 1316.3 802 1391 752 1465.7 651 1540.4 650 1615.2 773 1689.9 587 1764.6 667 1839.3 674 1914 723 1988.8 432 2063.5 344"/>
<path class="cf" d="M344.9 242 419.6 528 494.4 496 569.1 268 643.8 502 718.5 467 793.2 228 868 339 942.7 372 1017.4 592 1092.1 728 1166.8 806 1241.6 802 1316.3 840 1391 730 1465.7 702 1540.4 690 1615.2 842 1689.9 694 1764.6 676 1839.3 711 1914 671 1988.8 343 2063.5 496"/>
<path class="cg" d="M344.9 276 419.6 534 494.4 501 569.1 391 643.8 485 718.5 652 793.2 551 868 452 942.7 617 1017.4 653 1092.1 662 1166.8 812 1241.6 837 1316.3 859 1391 652 1465.7 647 1540.4 604 1615.2 619 1689.9 653 1764.6 650 1839.3 731 1914 611 1988.8 433 2063.5 504"/>
<path class="ch" d="M344.9 403 419.6 384 494.4 413 569.1 548 643.8 412 718.5 482 793.2 546 868 297 942.7 293 1017.4 601 1092.1 721 1166.8 818 1241.6 790 1316.3 802 1391 747 1465.7 718 1540.4 684 1615.2 646 1689.9 743 1764.6 598 1839.3 693 1914 623 1988.8 528 2063.5 310"/>
<path class="ci" d="M344.9 504 419.6 370 494.4 508 569.1 508 643.8 522 718.5 527 793.2 525 868 358 942.7 347 1017.4 448 1092.1 678 1166.8 831 1241.6 774 1316.3 791 1391 770 1465.7 672 1540.4 649 1615.2 715 1689.9 653 1764.6 711 1839.3 717 1914 735 1988.8 553 2063.5 422"/>
<path class="cj" d="M344.9 482 419.6 344 494.4 367 569.1 405 643.8 420 718.5 476 793.2 407 868 328 942.7 390 1017.4 628 1092.1 749 1166.8 775 1241.6 895 1316.3 785 1391 695 1465.7 685 1540.4 676 1615.2 771 1689.9 693 1764.6 604 1839.3 629 1914 653 1988.8 478 2063.5 521"/>
<path class="ck" d="M344.9 445 419.6 476 494.4 416 569.1 503 643.8 427 718.5 543 793.2 364 868 451 942.7 546 1017.4 556 1092.1 634 1166.8 838 1241.6 807 1316.3 770 1391 797 1465.7 724 1540.4 714 1615.2 592 1689.9 643 1764.6 617 1839.3 658 1914 656 1988.8 449 2063.5 350"/>
<path class="cl" d="M344.9 317 419.6 431 494.4 411 569.1 528 643.8 588 718.5 539 793.2 289 868 481 942.7 534 1017.4 618 1092.1 716 1166.8 687 1241.6 807 1316.3 794 1391 823 1465.7 646 1540.4 522 1615.2 720 1689.9 584 1764.6 692 1839.3 707 1914 553 1988.8 289 2063.5 487"/>
<path class="ca" d="M344.9 446 419.6 377 494.4 421 569.1 282 643.8 479 718.5 395 793.2 254 868 377 942.7 403 1017.4 601 1092.1 686 1166.8 815 1241.6 864 1316.3 734 1391 678 1465.7 712 1540.4 672 1615.2 769 1689.9 706 1764.6 588 1839.3 646 1914 631 1988.8 478 2063.5 494"/>
<path class="cb" d="M344.9 332 419.6 402 494.4 545 569.1 372 643.8 576 718.5 545 793.2 369 868 370 942.7 546 1017.4 626 1092.1 654 1166.8 839 1241.6 784 1316.3 734 1391 764 1465.7 633 1540.4 705 1615.2 664 1689.9 535 1764.6 701 1839.3 727 1914 649 1988.8 496 2063.5 492"/>
<path class="cc" d="M344.9 327 419.6 582 494.4 510 569.1 450 643.8 542 718.5 391 793.2 423 868 377 942.7 308 1017.4 480 1092.1 719 1166.8 716 1241.6 839 1316.3 769 1391 650 1465.7 637 1540.4 565 1615.2 796 1689.9 596 1764.6 761 1839.3 686 1914 593 1988.8 571 2063.5 484"/>
<path class="cd" d="M344.9 391 419.6 488 494.4 492 569.1 508 643.8 508 718.5 483 793.2 431 868 518 942.7 361 1017.4 606 1092.1 777 1166.8 791 1241.6 831 1316.3 814 1391 697 1465.7 777 1540.4 707 1615.2 762 1689.9 652 1764.6 605 1839.3 772 1914 606 1988.8 592 2063.5 340"/>
<path class="ce" d="M344.9 374 419.6 230 494.4 515 569.1 431 643.8 578 718.5 544 793.2 244 868 374 942.7 433 1017.4 645 1092.1 710 1166.8 789 1241.6 790 1316.3 741 1391 779 1465.7 605 1540.4 695 1615.2 760 1689.9 646 1764.6 663 1839.3 724 1914 550 1988.8 494 2063.5 403"/>
<path class="cf" d="M344.9 368 419.6 394 494.4 432 569.1 455 643.8 539 718.5 496 793.2 301 868 298 942.7 402 1017.4 488 1092.1 594 1166.8 833 1241.6 838 1316.3 838 1391 750 1465.7 602 1540.4 731 1615.2 688 1689.9 643 1764.6 622 1839.3 745 1914 663 1988.8 579 2063.5 305"/>
<path class="cg" d="M344.9 350 419.6 484 494.4 447 569.1 406 643.8 462 718.5 522 793.2 479 868 342 942.7 417 1017.4 569 1092.1 683 1166.8 684 1241.6 910 1316.3 719 1391 780 1465.7 682 1540.4 669 1615.2 783 1689.9 691 1764.6 717 1839.3 734 1914 667 1988.8 463 2063.5 435"/>
<path class="ch" d="M344.9 403 419.6 598 494.4 478 569.1 401 643.8 507 718.5 539 793.2 353 868 380 942.7 388 1017.4 613 1092.1 745 1166.8 818 1241.6 784 1316.3 829 1391 712 1465.7 684 1540.4 707 1615.2 728 1689.9 757 1764.6 545 1839.3 808 1914 627 1988.8 380 2063.5 502"/>
<path class="ci" d="M344.9 300 419.6 434 494.4 503 569.1 660 643.8 471 718.5 413 793.2 438 868 451 942.7 451 1017.4 586 1092.1 755 1166.8 826 1241.6 787 1316.3 851 1391 757 1465.7 779 1540.4 603 1615.2 788 1689.9 686 1764.6 644 1839.3 663 1914 642 1988.8 544 2063.5 429"/>
<path class="cj" d="M344.9 299 419.6 525 494.4 508 569.1 470 643.8 573 718.5 499 793.2 418 868 386 942.7 413 1017.4 507 1092.1 659 1166.8 844 1241.6 784 1316.3 798 1391 687 1465.7 627 1540.4 670 1615.2 709 1689.9 692 1764.6 565 1839.3 662 1914 593 1988.8 434 2063.5 501"/>
<path class="ck" d="M344.9 545 419.6 312 494.4 545 569.1 478 643.8 392 718.5 430 793.2 212 868 442 942.7 341 1017.4 610 1092.1 773 1166.8 806 1241.6 768 1316.3 825 1391 870 1465.7 741 1540.4 788 1615.2 774 1689.9 709 1764.6 641 1839.3 784 1914 678 1988.8 491 2063.5 338"/>
<path class="cl" d="M344.9 329 419.6 416 494.4 369 569.1 449 643.8 530 718.5 539 793.2 229 868 355 942.7 417 1017.4 547 1092.1 695 1166.8 825 1241.6 896 1316.3 874 1391 807 1465.7 685 1540.4 596 1615.2 665 1689.9 743 1764.6 628 1839.3 699 1914 567 1988.8 580 2063.5 565"/>
<path class="ca" d="M344.9 311 419.6 606 494.4 397 569.1 462 643.8 480 718.5 651 793.2 472 868 497 942.7 372 1017.4 592 1092.1 765 1166.8 809 1241.6 840 1316.3 780 1391 722 1465.7 647 1540.4 607 1615.2 742 1689.9 673 1764.6 738 1839.3 630 1914 649 1988.8 644 2063.5 381"/>
<path class="cb" d="M344.9 333 419.6 507 494.4 603 569.1 473 643.8 605 718.5 406 793.2 368 868 421 942.7 431 1017.4 426 1092.1 698 1166.8 710 1241.6 787 1316.3 829 1391 737 1465.7 734 1540.4 659 1615.2 725 1689.9 620 1764.6 642 1839.3 647 1914 735 1988.8 618 2063.5 471"/>
<path class="cc" d="M344.9 142 419.6 572 494.4 474 569.1 385 643.8 423 718.5 415 793.2 438 868 584 942.7 482 1017.4 510 1092.1 724 1166.8 754 1241.6 726 1316.3 834 1391 800 1465.7 700 1540.4 699 1615.2 728 1689.9 756 1764.6 583 1839.3 689 1914 600 1988.8 452 2063.5 542"/>
<path class="cd" d="M344.9 362 419.6 618 494.4 576 569.1 357 643.8 435 718.5 558 793.2 375 868 294 942.7 506 1017.4 495 1092.1 717 1166.8 826 1241.6 812 1316.3 772 1391 690 1465.7 752 1540.4 595 1615.2 761 1689.9 595 1764.6 712 1839.3 627 1914 662 1988.8 557 2063.5 416"/>
<path class="ce" d="M344.9 501 419.6 312 494.4 365 569.1 380 643.8 529 718.5 448 793.2 240 868 377 942.7 553 1017.4 569 1092.1 736 1166.8 799 1241.6 868 1316.3 766 1391 748 1465.7 671 1540.4 609 1615.2 768 1689.9 630 1764.6 683 1839.3 689 1914 640 1988.8 376 2063.5 520"/>
<path class="cf" d="M344.9 435 419.6 419 494.4 556 569.1 461 643.8 545 718.5 463 793.2 476 868 340 942.7 379 1017.4 585 1092.1 818 1166.8 784 1241.6 893 1316.3 813 1391 684 1465.7 591 1540.4 735 1615.2 642 1689.9 648 1764.6 533 1839.3 774 1914 707 1988.8 392 2063.5 334"/>
<path class="cg" d="M344.9 314 419.6 446 494.4 570 569.1 477 643.8 636 718.5 507 793.2 592 868 405 942.7 461 1017.4 580 1092.1 713 1166.8 845 1241.6 822 1316.3 783 1391 664 1465.7 676 1540.4 692 1615.2 769 1689.9 614 1764.6 716 1839.3 693 1914 667 1988.8 569 2063.5 259"/>
<path class="ch" d="M344.9 319 419.6 535 494.4 440 569.1 545 643.8 583 718.5 341 793.2 361 868 324 942.7 463 1017.4 621 1092.1 722 1166.8 795 1241.6 863 1316.3 871 1391 796 1465.7 709 1540.4 685 1615.2 689 1689.9 602 1764.6 638 1839.3 697 1914 621 1988.8 573 2063.5 500"/>
<path class="ci" d="M344.9 383 419.6 473 494.4 499 569.1 416 643.8 518 718.5 421 793.2 476 868 502 942.7 370 1017.4 626 1092.1 667 1166.8 786 1241.6 882 1316.3 784 1391 696 1465.7 692 1540.4 644 1615.2 761 1689.9 546 1764.6 618 1839.3 739 1914 642 1988.8 504 2063.5 560"/>
<path class="cj" d="M344.9 390 419.6 514 494.4 487 569.1 428 643.8 431 718.5 408 793.2 377 868 251 942.7 409 1017.4 638 1092.1 729 1166.8 731 1241.6 842 1316.3 694 1391 651 1465.7 765 1540.4 685 1615.2 713 1689.9 707 1764.6 711 1839.3 673 1914 691 1988.8 482 2063.5 414"/>
<path class="ck" d="M344.9 399 419.6 450 494.4 468 569.1 506 643.8 392 718.5 584 793.2 406 868 292 942.7 369 1017.4 557 1092.1 687 1166.8 710 1241.6 860 1316.3 755 1391 697 1465.7 698 1540.4 604 1615.2 778 1689.9 652 1764.6 693 1839.3 784 1914 628 1988.8 416 2063.5 542"/>
<path class="cl" d="M344.9 462 419.6 317 494.4 635 569.1 550 643.8 553 718.5 478 793.2 406 868 513 942.7 370 1017.4 522 1092.1 754 1166.8 804 1241.6 770 1316.3 782 1391 789 1465.7 663 1540.4 629 1615.2 702 1689.9 603 1764.6 608 1839.3 709 1914 769 1988.8 584 2063.5 449"/>
<path class="ca" d="M344.9 376 419.6 448 494.4 293 569.1 518 643.8 410 718.5 645 793.2 236 868 600 942.7 333 1017.4 486 1092.1 691 1166.8 834 1241.6 838 1316.3 770 1391 718 1465.7 766 1540.4 726 1615.2 695 1689.9 578 1764.6 597 1839.3 795 1914 674 1988.8 532 2063.5 373"/>
<path class="cb" d="M344.9 188 419.6 542 494.4 551 569.1 548 643.8 557 718.5 471 793.2 247 868 393 942.7 382 1017.4 721 1092.1 643 1166.8 808 1241.6 800 1316.3 883 1391 735 1465.7 702 1540.4 640 1615.2 739 1689.9 711 1764.6 637 1839.3 737 1914 660 1988.8 522 2063.5 388"/>
<path class="cc" d="M344.9 410 419.6 517 494.4 525 569.1 407 643.8 427 718.5 483 793.2 382 868 460 942.7 387 1017.4 595 1092.1 675 1166.8 796 1241.6 884 1316.3 732 1391 714 1465.7 664 1540.4 616 1615.2 783 1689.9 637 1764.6 704 1839.3 761 1914 749 1988.8 514 2063.5 276"/>
<path class="cd" d="M344.9 355 419.6 468 494.4 435 569.1 303 643.8 500 718.5 434 793.2 312 868 402 942.7 441 1017.4 608 1092.1 707 1166.8 739 1241.6 829 1316.3 827 1391 710 1465.7 618 1540.4 646 1615.2 767 1689.9 614 1764.6 660 1839.3 717 1914 607 1988.8 540 2063.5 376"/>
<path class="ce" d="M344.9 322 419.6 482 494.4 342 569.1 290 643.8 498 718.5 557 793.2 393 868 423 942.7 366 1017.4 535 1092.1 786 1166.8 750 1241.6 818 1316.3 864 1391 761 1465.7 739 1540.4 753 1615.2 862 1689.9 616 1764.6 643 1839.3 695 1914 680 1988.8 401 2063.5 406"/>
<path class="cf" d="M344.9 276 419.6 464 494.4 338 569.1 498 643.8 635 718.5 402 793.2 321 868 441 942.7 412 1017.4 472 1092.1 654 1166.8 821 1241.6 828 1316.3 846 1391 734 1465.7 670 1540.4 618 1615.2 746 1689.9 646 1764.6 700 1839.3 720 1914 678 1988.8 406 2063.5 268"/>
<path class="cg" d="M344.9 394 419.6 387 494.4 376 569.1 560 643.8 532 718.5 629 793.2 539 868 402 942.7 428 1017.4 661 1092.1 725 1166.8 799 1241.6 792 1316.3 758 1391 748 1465.7 778 1540.4 568 1615.2 783 1689.9 627 1764.6 566 1839.3 688 1914 605 1988.8 368 2063.5 359"/>
<path class="ch" d="M344.9 363 419.6 498 494.4 578 569.1 483 643.8 564 718.5 554 793.2 317 868 239 942.7 423 1017.4 534 1092.1 692 1166.8 800 1241.6 904 1316.3 741 1391 770 1465.7 695 1540.4 668 1615.2 771 1689.9 638 1764.6 748 1839.3 730 1914 589 1988.8 499 2063.5 509"/>
<path class="ci" d="M344.9 463 419.6 427 494.4 398 569.1 497 643.8 333 718.5 522 793.2 359 868 409 942.7 523 1017.4 588 1092.1 705 1166.8 742 1241.6 776 1316.3 689 1391 760 1465.7 767 1540.4 645 1615.2 827 1689.9 710 1764.6 663 1839.3 669 1914 678 1988.8 426 2063.5 445"/>
<path class="cj" d="M344.9 468 419.6 267 494.4 466 569.1 578 643.8 567 718.5 448 793.2 351 868 352 942.7 620 1017.4 446 1092.1 652 1166.8 793 1241.6 904 1316.3 789 1391 821 1465.7 833 1540.4 664 1615.2 723 1689.9 676 1764.6 559 1839.3 671 1914 550 1988.8 495 2063.5 419"/>
<path class="ck" d="M344.9 263 419.6 484 494.4 456 569.1 348 643.8 579 718.5 363 793.2 468 868 286 942.7 413 1017.4 548 1092.1 665 1166.8 759 1241.6 827 1316.3 761 1391 721 1465.7 645 1540.4 617 1615.2 815 1689.9 658 1764.6 717 1839.3 730 1914 751 1988.8 426 2063.5 381"/>
<path class="cl" d="M344.9 351 419.6 521 494.4 420 569.1 655 643.8 543 718.5 299 793.2 286 868 256 942.7 406 1017.4 586 1092.1 732 1166.8 798 1241.6 817 1316.3 842 1391 752 1465.7 651 1540.4 699 1615.2 793 1689.9 629 1764.6 611 1839.3 739 1914 684 1988.8 478 2063.5 475"/>
<path class="ca" d="M344.9 360 419.6 519 494.4 386 569.1 569 643.8 469 718.5 372 793.2 348 868 560 942.7 452 1017.4 507 1092.1 773 1166.8 837 1241.6 947 1316.3 780 1391 671 1465.7 643 1540.4 727 1615.2 787 1689.9 559 1764.6 659 1839.3 678 1914 664 1988.8 490 2063.5 396"/>
<path class="cb" d="M344.9 315 419.6 337 494.4 410 569.1 457 643.8 528 718.5 548 793.2 443 868 509 942.7 412 1017.4 476 1092.1 677 1166.8 793 1241.6 774 1316.3 771 1391 754 1465.7 776 1540.4 619 1615.2 655 1689.9 631 1764.6 666 1839.3 687 1914 648 1988.8 607 2063.5 385"/>
<path class="cc" d="M344.9 446 419.6 389 494.4 510 569.1 424 643.8 571 718.5 419 793.2 565 868 349 942.7 437 1017.4 581 1092.1 614 1166.8 814 1241.6 762 1316.3 835 1391 816 1465.7 643 1540.4 696 1615.2 690 1689.9 702 1764.6 513 1839.3 702 1914 602 1988.8 407 2063.5 438"/>
<path class="cd" d="M344.9 295 419.6 440 494.4 529 569.1 393 643.8 446 718.5 464 793.2 168 868 336 942.7 522 1017.4 631 1092.1 810 1166.8 850 1241.6 815 1316.3 793 1391 663 1465.7 637 1540.4 681 1615.2 828 1689.9 696 1764.6 677 1839.3 724 1914 787 1988.8 451 2063.5 427"/>
<path class="ce" d="M344.9 315 419.6 463 494.4 504 569.1 294 643.8 469 718.5 441 793.2 433 868 456 942.7 430 1017.4 669 1092.1 676 1166.8 772 1241.6 929 1316.3 887 1391 744 1465.7 647 1540.4 634 1615.2 710 1689.9 703 1764.6 695 1839.3 791 1914 667 1988.8 489 2063.5 579"/>
<path class="cf" d="M344.9 192 419.6 394 494.4 516 569.1 450 643.8 467 718.5 586 793.2 323 868 535 942.7 482 1017.4 613 1092.1 805 1166.8 769 1241.6 776 1316.3 773 1391 638 1465.7 699 1540.4 654 1615.2 798 1689.9 711 1764.6 672 1839.3 707 1914 740 1988.8 468 2063.5 508"/>
<path class="cg" d="M344.9 222 419.6 504 494.4 396 569.1 490 643.8 511 718.5 307 793.2 478 868 408 942.7 518 1017.4 554 1092.1 692 1166.8 701 1241.6 920 1316.3 778 1391 735 1465.7 662 1540.4 572 1615.2 689 1689.9 786 1764.6 689 1839.3 725 1914 632 1988.8 449 2063.5 467"/>
<path class="ch" d="M344.9 459 419.6 493 494.4 547 569.1 407 643.8 450 718.5 228 793.2 428 868 362 942.7 397 1017.4 595 1092.1 708 1166.8 777 1241.6 914 1316.3 781 1391 845 1465.7 664 1540.4 657 1615.2 829 1689.9 721 1764.6 641 1839.3 755 1914 545 1988.8 587 2063.5 452"/>
<path class="ci" d="M344.9 370 419.6 509 494.4 447 569.1 359 643.8 466 718.5 565 793.2 252 868 342 942.7 381 1017.4 673 1092.1 748 1166.8 744 1241.6 786 1316.3 789 1391 697 1465.7 719 1540.4 652 1615.2 794 1689.9 637 1764.6 684 1839.3 787 1914 741 1988.8 500 2063.5 207"/>
<path class="cj" d="M344.9 425 419.6 378 494.4 387 569.1 406 643.8 428 718.5 559 793.2 453 868 515 942.7 503 1017.4 598 1092.1 663 1166.8 717 1241.6 857 1316.3 831 1391 729 1465.7 654 1540.4 602 1615.2 681 1689.9 693 1764.6 648 1839.3 789 1914 672 1988.8 611 2063.5 587"/>
<path class="ck" d="M344.9 350 419.6 451 494.4 383 569.1 477 643.8 569 718.5 605 793.2 395 868 537 942.7 278 1017.4 405 1092.1 754 1166.8 722 1241.6 861 1316.3 759 1391 709 1465.7 748 1540.4 680 1615.2 741 1689.9 607 1764.6 701 1839.3 737 1914 688 1988.8 502 2063.5 512"/>
<path class="cl" d="M344.9 249 419.6 573 494.4 491 569.1 478 643.8 655 718.5 382 793.2 433 868 396 942.7 492 1017.4 505 1092.1 734 1166.8 754 1241.6 849 1316.3 897 1391 679 1465.7 657 1540.4 722 1615.2 812 1689.9 694 1764.6 669 1839.3 593 1914 591 1988.8 602 2063.5 451"/>
<path class="ca" d="M344.9 363 419.6 493 494.4 479 569.1 475 643.8 616 718.5 414 793.2 563 868 407 942.7 477 1017.4 516 1092.1 599 1166.8 788 1241.6 841 1316.3 767 1391 746 1465.7 728 1540.4 621 1615.2 734 1689.9 658 1764.6 612 1839.3 690 1914 652 1988.8 468 2063.5 511"/>
<path class="cb" d="M344.9 271 419.6 447 494.4 488 569.1 322 643.8 525 718.5 470 793.2 299 868 496 942.7 382 1017.4 508 1092.1 817 1166.8 805 1241.6 821 1316.3 799 1391 732 1465.7 709 1540.4 695 1615.2 759 1689.9 669 1764.6 711 1839.3 601 1914 637 1988.8 540 2063.5 280"/>
<path class="cc" d="M344.9 220 419.6 489 494.4 462 569.1 475 643.8 372 718.5 545 793.2 336 868 611 942.7 526 1017.4 605 1092.1 715 1166.8 726 1241.6 843 1316.3 755 1391 718 1465.7 670 1540.4 681 1615.2 795 1689.9 623 1764.6 658 1839.3 657 1914 754 1988.8 487 2063.5 391"/>
<path class="cd" d="M344.9 375 419.6 408 494.4 531 569.1 387 643.8 452 718.5 323 793.2 364 868 576 942.7 325 1017.4 512 1092.1 642 1166.8 760 1241.6 773 1316.3 777 1391 716 1465.7 810 1540.4 810 1615.2 798 1689.9 597 1764.6 575 1839.3 734 1914 681 1988.8 337 2063.5 440"/>
<path class="ce" d="M344.9 411 419.6 443 494.4 357 569.1 424 643.8 585 718.5 463 793.2 283 868 495 942.7 480 1017.4 662 1092.1 671 1166.8 812 1241.6 772 1316.3 768 1391 747 1465.7 668 1540.4 752 1615.2 751 1689.9 683 1764.6 615 1839.3 652 1914 718 1988.8 345 2063.5 374"/>
<path class="cf" d="M344.9 400 419.6 466 494.4 535 569.1 495 643.8 517 718.5 583 793.2 533 868 443 942.7 654 1017.4 591 1092.1 793 1166.8 739 1241.6 889 1316.3 768 1391 702 1465.7 699 1540.4 618 1615.2 699 1689.9 753 1764.6 634 1839.3 721 1914 722 1988.8 419 2063.5 309"/>
<path class="cg" d="M344.9 210 419.6 500 494.4 344 569.1 494 643.8 567 718.5 322 793.2 421 868 330 942.7 457 1017.4 428 1092.1 614 1166.8 803 1241.6 835 1316.3 842 1391 716 1465.7 677 1540.4 668 1615.2 718 1689.9 635 1764.6 690 1839.3 590 1914 687 1988.8 582 2063.5 399"/>
<path class="ch" d="M344.9 243 419.6 398 494.4 404 569.1 291 643.8 520 718.5 639 793.2 349 868 416 942.7 520 1017.4 606 1092.1 714 1166.8 753 1241.6 850 1316.3 901 1391 675 1465.7 629 1540.4 699 1615.2 723 1689.9 724 1764.6 596 1839.3 704 1914 655 1988.8 417 2063.5 399"/>
<path class="ci" d="M344.9 264 419.6 448 494.4 371 569.1 406 643.8 373 718.5 563 793.2 351 868 494 942.7 436 1017.4 641 1092.1 761 1166.8 792 1241.6 844 1316.3 734 1391 828 1465.7 662 1540.4 673 1615.2 737 1689.9 607 1764.6 658 1839.3 656 1914 696 1988.8 537 2063.5 504"/>
<path class="cj" d="M344.9 421 419.6 539 494.4 444 569.1 548 643.8 541 718.5 526 793.2 399 868 427 942.7 472 1017.4 702 1092.1 710 1166.8 799 1241.6 758 1316.3 757 1391 676 1465.7 703 1540.4 721 1615.2 739 1689.9 635 1764.6 729 1839.3 730 1914 660 1988.8 595 2063.5 403"/>
<path class="ck" d="M344.9 439 419.6 525 494.4 582 569.1 511 643.8 379 718.5 445 793.2 298 868 450 942.7 509 1017.4 491 1092.1 700 1166.8 754 1241.6 784 1316.3 792 1391 676 1465.7 715 1540.4 634 1615.2 745 1689.9 633 1764.6 666 1839.3 756 1914 683 1988.8 542 2063.5 453"/>
<path class="cl" d="M344.9 303 419.6 360 494.4 440 569.1 547 643.8 392 718.5 526 793.2 330 868 385 942.7 313 1017.4 551 1092.1 707 1166.8 727 1241.6 833 1316.3 844 1391 823 1465.7 691 1540.4 630 1615.2 845 1689.9 664 1764.6 681 1839.3 713 1914 653 1988.8 574 2063.5 482"/>
<path class="ca" d="M344.9 302 419.6 476 494.4 612 569.1 448 643.8 525 718.5 422 793.2 336 868 487 942.7 541 1017.4 536 1092.1 716 1166.8 876 1241.6 828 1316.3 713 1391 738 1465.7 695 1540.4 667 1615.2 778 1689.9 647 1764.6 671 1839.3 727 1914 564 1988.8 557 2063.5 473"/>
<path class="cb" d="M344.9 312 419.6 535 494.4 472 569.1 495 643.8 469 718.5 493 793.2 431 868 467 942.7 401 1017.4 480 1092.1 639 1166.8 869 1241.6 898 1316.3 746 1391 726 1465.7 641 1540.4 663 1615.2 776 1689.9 654 1764.6 687 1839.3 636 1914 651 1988.8 488 2063.5 374"/>
<path class="cc" d="M344.9 315 419.6 462 494.4 509 569.1 429 643.8 451 718.5 462 793.2 442 868 382 942.7 505 1017.4 534 1092.1 679 1166.8 789 1241.6 870 1316.3 723 1391 729 1465.7 629 1540.4 654 1615.2 786 1689.9 715 1764.6 659 1839.3 707 1914 710 1988.8 571 2063.5 441"/>
<path class="cd" d="M344.9 305 419.6 567 494.4 512 569.1 453 643.8 497 718.5 441 793.2 392 868 366 942.7 572 1017.4 555 1092.1 576 1166.8 805 1241.6 852 1316.3 804 1391 728 1465.7 675 1540.4 710 1615.2 783 1689.9 679 1764.6 678 1839.3 715 1914 709 1988.8 335 2063.5 467"/>
<path class="ce" d="M344.9 461 419.6 349 494.4 342 569.1 267 643.8 593 718.5 570 793.2 469 868 341 942.7 396 1017.4 599 1092.1 780 1166.8 823 1241.6 792 1316.3 743 1391 700 1465.7 734 1540.4 682 1615.2 772 1689.9 704 1764.6 833 1839.3 624 1914 645 1988.8 468 2063.5 534"/>
<path class="cf" d="M344.9 395 419.6 356 494.4 479 569.1 353 643.8 498 718.5 511 793.2 299 868 446 942.7 349 1017.4 538 1092.1 692 1166.8 803 1241.6 794 1316.3 806 1391 725 1465.7 675 1540.4 758 1615.2 772 1689.9 689 1764.6 661 1839.3 699 1914 670 1988.8 516 2063.5 561"/>
<path class="cg" d="M344.9 452 419.6 424 494.4 507 569.1 523 643.8 533 718.5 503 793.2 483 868 388 942.7 537 1017.4 557 1092.1 727 1166.8 725 1241.6 883 1316.3 820 1391 692 1465.7 691 1540.4 779 1615.2 771 1689.9 673 1764.6 619 1839.3 722 1914 671 1988.8 418 2063.5 542"/>
<path class="ch" d="M344.9 249 419.6 548 494.4 428 569.1 565 643.8 639 718.5 519 793.2 440 868 384 942.7 431 1017.4 547 1092.1 681 1166.8 857 1241.6 855 1316.3 825 1391 787 1465.7 784 1540.4 745 1615.2 767 1689.9 639 1764.6 683 1839.3 681 1914 639 1988.8 552 2063.5 533"/>
<path class="ci" d="M344.9 348 419.6 339 494.4 317 569.1 380 643.8 401 718.5 454 793.2 386 868 346 942.7 396 1017.4 626 1092.1 660 1166.8 784 1241.6 837 1316.3 756 1391 712 1465.7 716 1540.4 720 1615.2 766 1689.9 624 1764.6 608 1839.3 683 1914 657 1988.8 544 2063.5 472"/>
<path class="cj" d="M344.9 331 419.6 504 494.4 395 569.1 488 643.8 580 718.5 525 793.2 549 868 412 942.7 387 1017.4 604 1092.1 772 1166.8 777 1241.6 810 1316.3 792 1391 708 1465.7 645 1540.4 644 1615.2 706 1689.9 722 1764.6 524 1839.3 723 1914 599 1988.8 501 2063.5 509"/>
<path class="ck" d="M344.9 474 419.6 535 494.4 510 569.1 598 643.8 542 718.5 394 793.2 439 868 407 942.7 458 1017.4 602 1092.1 635 1166.8 678 1241.6 805 1316.3 750 1391 711 1465.7 768 1540.4 714 1615.2 751 1689.9 535 1764.6 651 1839.3 720 1914 716 1988.8 594 2063.5 481"/>
<path class="cl" d="M344.9 401 419.6 649 494.4 358 569.1 462 643.8 536 718.5 674 793.2 334 868 351 942.7 579 1017.4 620 1092.1 667 1166.8 721 1241.6 830 1316.3 810 1391 718 1465.7 793 1540.4 657 1615.2 696 1689.9 733 1764.6 632 1839.3 660 1914 611 1988.8 472 2063.5 537"/>
<path class="ca" d="M344.9 331 419.6 473 494.4 469 569.1 574 643.8 465 718.5 423 793.2 321 868 549 942.7 546 1017.4 543 1092.1 664 1166.8 730 1241.6 902 1316.3 776 1391 604 1465.7 783 1540.4 713 1615.2 812 1689.9 593 1764.6 656 1839.3 761 1914 618 1988.8 445 2063.5 430"/>
<path class="cb" d="M344.9 416 419.6 345 494.4 395 569.1 496 643.8 587 718.5 507 793.2 315 868 491 942.7 420 1017.4 505 1092.1 613 1166.8 900 1241.6 961 1316.3 819 1391 758 1465.7 717 1540.4 630 1615.2 739 1689.9 528 1764.6 762 1839.3 735 1914 621 1988.8 423 2063.5 580"/>
<path class="cc" d="M344.9 413 419.6 538 494.4 475 569.1 300 643.8 601 718.5 571 793.2 387 868 430 942.7 443 1017.4 641 1092.1 741 1166.8 822 1241.6 756 1316.3 755 1391 621 1465.7 782 1540.4 506 1615.2 788 1689.9 727 1764.6 635 1839.3 670 1914 647 1988.8 565 2063.5 436"/>
<path class="cd" d="M344.9 504 419.6 501 494.4 517 569.1 676 643.8 403 718.5 524 793.2 328 868 452 942.7 351 1017.4 610 1092.1 662 1166.8 810 1241.6 849 1316.3 786 1391 691 1465.7 731 1540.4 698 1615.2 742 1689.9 551 1764.6 678 1839.3 771 1914 676 1988.8 455 2063.5 418"/>
<path class="ce" d="M344.9 301 419.6 401 494.4 500 569.1 355 643.8 420 718.5 535 793.2 300 868 268 942.7 347 1017.4 682 1092.1 687 1166.8 870 1241.6 774 1316.3 808 1391 754 1465.7 686 1540.4 711 1615.2 732 1689.9 786 1764.6 643 1839.3 787 1914 696 1988.8 630 2063.5 411"/>
<path class="cf" d="M344.9 354 419.6 436 494.4 431 569.1 590 643.8 491 718.5 538 793.2 401 868 517 942.7 610 1017.4 554 1092.1 651 1166.8 764 1241.6 845 1316.3 819 1391 643 1465.7 747 1540.4 658 1615.2 757 1689.9 648 1764.6 701 1839.3 739 1914 777 1988.8 370 2063.5 502"/>
<path class="cg" d="M344.9 508 419.6 376 494.4 602 569.1 493 643.8 536 718.5 533 793.2 366 868 417 942.7 434 1017.4 454 1092.1 696 1166.8 783 1241.6 857 1316.3 767 1391 695 1465.7 742 1540.4 586 1615.2 703 1689.9 737 1764.6 757 1839.3 665 1914 673 1988.8 515 2063.5 435"/>
<path class="ch" d="M344.9 337 419.6 465 494.4 450 569.1 376 643.8 474 718.5 447 793.2 317 868 387 942.7 555 1017.4 555 1092.1 704 1166.8 791 1241.6 867 1316.3 757 1391 695 1465.7 642 1540.4 609 1615.2 755 1689.9 628 1764.6 771 1839.3 690 1914 555 1988.8 371 2063.5 412"/>
<path class="ci" d="M344.9 451 419.6 471 494.4 357 569.1 453 643.8 578 718.5 453 793.2 321 868 452 942.7 507 1017.4 560 1092.1 601 1166.8 831 1241.6 918 1316.3 795 1391 764 1465.7 691 1540.4 706 1615.2 787 1689.9 642 1764.6 639 1839.3 801 1914 594 1988.8 531 2063.5 368"/>
<path class="cj" d="M344.9 395 419.6 504 494.4 495 569.1 310 643.8 512 718.5 384 793.2 338 868 429 942.7 411 1017.4 516 1092.1 662 1166.8 850 1241.6 800 1316.3 758 1391 737 1465.7 727 1540.4 631 1615.2 712 1689.9 764 1764.6 770 1839.3 715 1914 625 1988.8 549 2063.5 373"/>
<path class="ck" d="M344.9 327 419.6 432 494.4 553 569.1 447 643.8 456 718.5 469 793.2 396 868 315 942.7 408 1017.4 656 1092.1 647 1166.8 834 1241.6 810 1316.3 804 1391 719 1465.7 722 1540.4 695 1615.2 756 1689.9 704 1764.6 609 1839.3 678 1914 698 1988.8 363 2063.5 437"/>
<path class="cl" d="M344.9 235 419.6 474 494.4 400 569.1 370 643.8 528 718.5 425 793.2 366 868 343 942.7 419 1017.4 577 1092.1 802 1166.8 726 1241.6 815 1316.3 742 1391 659 1465.7 690 1540.4 669 1615.2 634 1689.9 587 1764.6 617 1839.3 707 1914 722 1988.8 362 2063.5 189"/>
<path class="ca" d="M344.9 342 419.6 421 494.4 444 569.1 438 643.8 565 718.5 481 793.2 339 868 509 942.7 441 1017.4 502 1092.1 744 1166.8 842 1241.6 867 1316.3 836 1391 751 1465.7 591 1540.4 701 1615.2 753 1689.9 601 1764.6 662 1839.3 697 1914 632 1988.8 481 2063.5 396"/>
<path class="cb" d="M344.9 216 419.6 341 494.4 656 569.1 371 643.8 547 718.5 481 793.2 345 868 602 942.7 404 1017.4 533 1092.1 632 1166.8 831 1241.6 904 1316.3 799 1391 767 1465.7 615 1540.4 702 1615.2 802 1689.9 652 1764.6 695 1839.3 677 1914 662 1988.8 498 2063.5 534"/>
<path class="cc" d="M344.9 302 419.6 535 494.4 497 569.1 388 643.8 575 718.5 446 793.2 407 868 428 942.7 420 1017.4 588 1092.1 626 1166.8 758 1241.6 836 1316.3 673 1391 774 1465.7 686 1540.4 764 1615.2 749 1689.9 646 1764.6 638 1839.3 788 1914 765 1988.8 474 2063.5 496"/>
<path class="cd" d="M344.9 379 419.6 523 494.4 501 569.1 411 643.8 649 718.5 369 793.2 275 868 602 942.7 407 1017.4 550 1092.1 628 1166.8 745 1241.6 786 1316.3 751 1391 723 1465.7 782 1540.4 669 1615.2 714 1689.9 735 1764.6 704 1839.3 696 1914 657 1988.8 524 2063.5 596"/>
<path class="ce" d="M344.9 332 419.6 337 494.4 454 569.1 288 643.8 626 718.5 418 793.2 455 868 273 942.7 447 1017.4 614 1092.1 752 1166.8 860 1241.6 867 1316.3 813 1391 683 1465.7 687 1540.4 617 1615.2 656 1689.9 651 1764.6 571 1839.3 841 1914 602 1988.8 534 2063.5 460"/>
<path class="cf" d="M344.9 451 419.6 627 494.4 413 569.1 442 643.8 412 718.5 333 793.2 404 868 526 942.7 503 1017.4 586 1092.1 675 1166.8 751 1241.6 846 1316.3 819 1391 730 1465.7 757 1540.4 777 1615.2 746 1689.9 625 1764.6 626 1839.3 694 1914 675 1988.8 456 2063.5 525"/>
<path class="cg" d="M344.9 403 419.6 601 494.4 457 569.1 620 643.8 522 718.5 397 793.2 373 868 357 942.7 392 1017.4 592 1092.1 796 1166.8 743 1241.6 903 1316.3 850 1391 702 1465.7 586 1540.4 763 1615.2 770 1689.9 679 1764.6 746 1839.3 714 1914 614 1988.8 411 2063.5 358"/>
<path class="ch" d="M344.9 354 419.6 416 494.4 523 569.1 312 643.8 528 718.5 470 793.2 467 868 426 942.7 447 1017.4 558 1092.1 702 1166.8 817 1241.6 801 1316.3 845 1391 707 1465.7 657 1540.4 684 1615.2 758 1689.9 564 1764.6 701 1839.3 664 1914 564 1988.8 384 2063.5 343"/>
<path class="ci" d="M344.9 331 419.6 422 494.4 646 569.1 411 643.8 413 718.5 240 793.2 423 868 493 942.7 318 1017.4 651 1092.1 734 1166.8 827 1241.6 834 1316.3 765 1391 799 1465.7 731 1540.4 650 1615.2 735 1689.9 590 1764.6 640 1839.3 792 1914 726 1988.8 499 2063.5 567"/>
<path class="cj" d="M344.9 333 419.6 317 494.4 405 569.1 612 643.8 593 718.5 621 793.2 392 868 443 942.7 335 1017.4 700 1092.1 729 1166.8 745 1241.6 905 1316.3 766 1391 667 1465.7 823 1540.4 579 1615.2 767 1689.9 688 1764.6 639 1839.3 656 1914 707 1988.8 446 2063.5 436"/>
<path class="ck" d="M344.9 395 419.6 433 494.4 558 569.1 507 643.8 459 718.5 463 793.2 262 868 307 942.7 443 1017.4 617 1092.1 749 1166.8 801 1241.6 838 1316.3 751 1391 787 1465.7 802 1540.4 662 1615.2 756 1689.9 674 1764.6 656 1839.3 698 1914 681 1988.8 452 2063.5 674"/>
<path class="cl" d="M344.9 414 419.6 438 494.4 517 569.1 437 643.8 465 718.5 475 793.2 414 868 436 942.7 292 1017.4 661 1092.1 681 1166.8 776 1241.6 844 1316.3 868 1391 691 1465.7 724 1540.4 677 1615.2 752 1689.9 602 1764.6 714 1839.3 639 1914 679 1988.8 502 2063.5 442"/>
<path class="ca" d="M344.9 398 419.6 625 494.4 384 569.1 399 643.8 511 718.5 605 793.2 354 868 585 942.7 397 1017.4 690 1092.1 685 1166.8 654 1241.6 835 1316.3 890 1391 672 1465.7 631 1540.4 689 1615.2 792 1689.9 566 1764.6 700 1839.3 750 1914 747 1988.8 463 2063.5 379"/>
<path class="cb" d="M344.9 352 419.6 533 494.4 388 569.1 451 643.8 622 718.5 430 793.2 395 868 327 942.7 628 1017.4 596 1092.1 694 1166.8 807 1241.6 816 1316.3 827 1391 710 1465.7 611 1540.4 567 1615.2 687 1689.9 740 1764.6 719 1839.3 637 1914 602 1988.8 487 2063.5 390"/>
<path class="cc" d="M344.9 235 419.6 529 494.4 369 569.1 400 643.8 498 718.5 449 793.2 265 868 448 942.7 408 1017.4 562 1092.1 723 1166.8 795 1241.6 818 1316.3 829 1391 794 1465.7 632 1540.4 688 1615.2 659 1689.9 655 1764.6 628 1839.3 777 1914 692 1988.8 495 2063.5 503"/>
<path class="cd" d="M344.9 278 419.6 501 494.4 687 569.1 528 643.8 526 718.5 332 793.2 343 868 406 942.7 483 1017.4 641 1092.1 782 1166.8 838 1241.6 891 1316.3 724 1391 793 1465.7 709 1540.4 631 1615.2 740 1689.9 672 1764.6 579 1839.3 692 1914 606 1988.8 558 2063.5 480"/>
<path class="ce" d="M344.9 269 419.6 297 494.4 489 569.1 424 643.8 560 718.5 444 793.2 325 868 525 942.7 420 1017.4 711 1092.1 796 1166.8 774 1241.6 867 1316.3 860 1391 836 1465.7 675 1540.4 640 1615.2 729 1689.9 591 1764.6 617 1839.3 686 1914 637 1988.8 477 2063.5 396"/>
<path class="cf" d="M344.9 438 419.6 400 494.4 402 569.1 505 643.8 492 718.5 442 793.2 521 868 469 942.7 641 1017.4 688 1092.1 744 1166.8 782 1241.6 908 1316.3 770 1391 704 1465.7 697 1540.4 640 1615.2 726 1689.9 702 1764.6 615 1839.3 808 1914 668 1988.8 530 2063.5 501"/>
<path class="cg" d="M344.9 347 419.6 390 494.4 445 569.1 425 643.8 550 718.5 475 793.2 493 868 333 942.7 379 1017.4 548 1092.1 707 1166.8 873 1241.6 796 1316.3 833 1391 725 1465.7 659 1540.4 666 1615.2 727 1689.9 626 1764.6 708 1839.3 782 1914 549 1988.8 360 2063.5 367"/>
<path class="ch" d="M344.9 346 419.6 510 494.4 465 569.1 405 643.8 517 718.5 387 793.2 378 868 436 942.7 354 1017.4 578 1092.1 753 1166.8 820 1241.6 858 1316.3 807 1391 769 1465.7 682 1540.4 747 1615.2 738 1689.9 695 1764.6 640 1839.3 710 1914 646 1988.8 705 2063.5 455"/>
<path class="ci" d="M344.9 284 419.6 619 494.4 442 569.1 639 643.8 511 718.5 550 793.2 462 868 555 942.7 604 1017.4 670 1092.1 741 1166.8 823 1241.6 914 1316.3 862 1391 782 1465.7 745 1540.4 626 1615.2 767 1689.9 756 1764.6 729 1839.3 776 1914 666 1988.8 535 2063.5 462"/>
<path class="cj" d="M344.9 348 419.6 599 494.4 602 569.1 512 643.8 420 718.5 429 793.2 346 868 539 942.7 425 1017.4 543 1092.1 730 1166.8 810 1241.6 819 1316.3 740 1391 694 1465.7 664 1540.4 607 1615.2 787 1689.9 713 1764.6 726 1839.3 759 1914 737 1988.8 538 2063.5 383"/>
<path class="ck" d="M344.9 512 419.6 587 494.4 465 569.1 578 643.8 336 718.5 558 793.2 420 868 354 942.7 515 1017.4 543 1092.1 770 1166.8 759 1241.6 812 1316.3 810 1391 729 1465.7 607 1540.4 702 1615.2 731 1689.9 628 1764.6 605 1839.3 632 1914 693 1988.8 498 2063.5 351"/>
<path class="cl" d="M344.9 343 419.6 457 494.4 434 569.1 536 643.8 537 718.5 440 793.2 277 868 462 942.7 418 1017.4 618 1092.1 714 1166.8 782 1241.6 750 1316.3 723 1391 720 1465.7 730 1540.4 679 1615.2 816 1689.9 571 1764.6 603 1839.3 650 1914 636 1988.8 504 2063.5 407"/>
<path class="ca" d="M344.9 353 419.6 501 494.4 262 569.1 496 643.8 476 718.5 452 793.2 382 868 405 942.7 470 1017.4 624 1092.1 661 1166.8 795 1241.6 765 1316.3 736 1391 627 1465.7 657 1540.4 636 1615.2 770 1689.9 647 1764.6 589 1839.3 717 1914 587 1988.8 466 2063.5 508"/>
<path class="cb" d="M344.9 462 419.6 482 494.4 535 569.1 349 643.8 513 718.5 513 793.2 376 868 588 942.7 504 1017.4 565 1092.1 686 1166.8 828 1241.6 839 1316.3 748 1391 784 1465.7 753 1540.4 766 1615.2 757 1689.9 773 1764.6 706 1839.3 760 1914 586 1988.8 488 2063.5 394"/>
<path class="cc" d="M344.9 521 419.6 497 494.4 319 569.1 223 643.8 494 718.5 315 793.2 290 868 416 942.7 441 1017.4 470 1092.1 764 1166.8 801 1241.6 851 1316.3 769 1391 703 1465.7 805 1540.4 674 1615.2 711 1689.9 636 1764.6 619 1839.3 754 1914 616 1988.8 625 2063.5 528"/>
<path class="cd" d="M344.9 440 419.6 522 494.4 438 569.1 567 643.8 425 718.5 500 793.2 341 868 366 942.7 413 1017.4 682 1092.1 648 1166.8 717 1241.6 821 1316.3 819 1391 731 1465.7 601 1540.4 655 1615.2 760 1689.9 595 1764.6 718 1839.3 726 1914 589 1988.8 424 2063.5 362"/>
<path class="ce" d="M344.9 328 419.6 458 494.4 400 569.1 485 643.8 537 718.5 537 793.2 415 868 219 942.7 338 1017.4 671 1092.1 687 1166.8 808 1241.6 865 1316.3 840 1391 805 1465.7 685 1540.4 530 1615.2 727 1689.9 591 1764.6 806 1839.3 781 1914 697 1988.8 568 2063.5 430"/>
<path class="cf" d="M344.9 316 419.6 387 494.4 483 569.1 464 643.8 388 718.5 524 793.2 379 868 437 942.7 461 1017.4 593 1092.1 700 1166.8 775 1241.6 809 1316.3 737 1391 709 1465.7 715 1540.4 655 1615.2 712 1689.9 680 1764.6 697 1839.3 651 1914 707 1988.8 496 2063.5 491"/>
<path class="cg" d="M344.9 378 419.6 439 494.4 477 569.1 443 643.8 586 718.5 419 793.2 423 868 471 942.7 333 1017.4 448 1092.1 695 1166.8 814 1241.6 865 1316.3 876 1391 721 1465.7 737 1540.4 607 1615.2 733 1689.9 667 1764.6 640 1839.3 789 1914 617 1988.8 414 2063.5 423"/>
<path class="ch" d="M344.9 287 419.6 390 494.4 382 569.1 328 643.8 493 718.5 619 793.2 346 868 500 942.7 437 1017.4 689 1092.1 794 1166.8 825 1241.6 886 1316.3 826 1391 693 1465.7 644 1540.4 638 1615.2 756 1689.9 605 1764.6 647 1839.3 706 1914 723 1988.8 602 2063.5 455"/>
<path class="ci" d="M344.9 351 419.6 498 494.4 331 569.1 431 643.8 504 718.5 427 793.2 288 868 565 942.7 443 1017.4 582 1092.1 641 1166.8 765 1241.6 889 1316.3 792 1391 723 1465.7 757 1540.4 676 1615.2 741 1689.9 776 1764.6 673 1839.3 795 1914 580 1988.8 441 2063.5 363"/>
<path class="cj" d="M344.9 426 419.6 590 494.4 554 569.1 470 643.8 433 718.5 319 793.2 439 868 526 942.7 462 1017.4 623 1092.1 756 1166.8 753 1241.6 807 1316.3 774 1391 681 1465.7 663 1540.4 592 1615.2 805 1689.9 656 1764.6 713 1839.3 789 1914 725 1988.8 409 2063.5 525"/>
<path class="ck" d="M344.9 319 419.6 407 494.4 525 569.1 526 643.8 614 718.5 466 793.2 408 868 475 942.7 263 1017.4 498 1092.1 781 1166.8 810 1241.6 797 1316.3 776 1391 757 1465.7 724 1540.4 548 1615.2 769 1689.9 642 1764.6 614 1839.3 764 1914 665 1988.8 538 2063.5 295"/>
<path class="cl" d="M344.9 265 419.6 496 494.4 433 569.1 493 643.8 485 718.5 569 793.2 387 868 430 942.7 405 1017.4 582 1092.1 711 1166.8 778 1241.6 855 1316.3 731 1391 688 1465.7 753 1540.4 730 1615.2 706 1689.9 699 1764.6 704 1839.3 749 1914 706 1988.8 453 2063.5 452"/>
<path class="ca" d="M344.9 565 419.6 412 494.4 363 569.1 586 643.8 437 718.5 335 793.2 351 868 438 942.7 325 1017.4 607 1092.1 621 1166.8 755 1241.6 820 1316.3 792 1391 688 1465.7 785 1540.4 593 1615.2 826 1689.9 686 1764.6 643 1839.3 732 1914 702 1988.8 550 2063.5 334"/>
<path class="cb" d="M344.9 409 419.6 681 494.4 500 569.1 417 643.8 549 718.5 424 793.2 538 868 461 942.7 479 1017.4 580 1092.1 698 1166.8 750 1241.6 826 1316.3 792 1391 707 1465.7 623 1540.4 600 1615.2 767 1689.9 650 1764.6 600 1839.3 775 1914 659 1988.8 510 2063.5 473"/>
<path class="cc" d="M344.9 448 419.6 432 494.4 510 569.1 432 643.8 466 718.5 350 793.2 333 868 473 942.7 372 1017.4 728 1092.1 721 1166.8 794 1241.6 862 1316.3 760 1391 674 1465.7 640 1540.4 677 1615.2 797 1689.9 631 1764.6 687 1839.3 665 1914 711 1988.8 426 2063.5 420"/>
<path class="cd" d="M344.9 267 419.6 485 494.4 529 569.1 369 643.8 498 718.5 407 793.2 472 868 480 942.7 528 1017.4 660 1092.1 766 1166.8 757 1241.6 814 1316.3 798 1391 756 1465.7 760 1540.4 641 1615.2 784 1689.9 728 1764.6 723 1839.3 693 1914 665 1988.8 454 2063.5 472"/>
<path class="ce" d="M344.9 145 419.6 455 494.4 519 569.1 440 643.8 534 718.5 443 793.2 480 868 374 942.7 279 1017.4 608 1092.1 738 1166.8 851 1241.6 869 1316.3 774 1391 709 1465.7 729 1540.4 701 1615.2 777 1689.9 733 1764.6 676 1839.3 675 1914 642 1988.8 542 2063.5 524"/>
<path class="cf" d="M344.9 394 419.6 550 494.4 405 569.1 492 643.8 552 718.5 440 793.2 410 868 554 942.7 449 1017.4 576 1092.1 736 1166.8 790 1241.6 836 1316.3 787 1391 734 1465.7 629 1540.4 705 1615.2 788 1689.9 689 1764.6 696 1839.3 764 1914 676 1988.8 481 2063.5 474"/>
<path class="cg" d="M344.9 397 419.6 498 494.4 444 569.1 409 643.8 526 718.5 529 793.2 278 868 366 942.7 585 1017.4 593 1092.1 736 1166.8 862 1241.6 871 1316.3 808 1391 736 1465.7 637 1540.4 630 1615.2 766 1689.9 600 1764.6 660 1839.3 753 1914 716 1988.8 349 2063.5 509"/>
<path class="ch" d="M344.9 402 419.6 453 494.4 516 569.1 613 643.8 445 718.5 487 793.2 362 868 401 942.7 430 1017.4 631 1092.1 795 1166.8 763 1241.6 921 1316.3 737 1391 732 1465.7 678 1540.4 617 1615.2 831 1689.9 583 1764.6 615 1839.3 696 1914 674 1988.8 503 2063.5 546"/>
<path class="ci" d="M344.9 390 419.6 374 494.4 568 569.1 365 643.8 321 718.5 576 793.2 522 868 290 942.7 527 1017.4 392 1092.1 741 1166.8 761 1241.6 752 1316.3 816 1391 784 1465.7 670 1540.4 611 1615.2 739 1689.9 725 1764.6 724 1839.3 766 1914 555 1988.8 469 2063.5 397"/>
<path class="cj" d="M344.9 404 419.6 503 494.4 320 569.1 495 643.8 598 718.5 350 793.2 351 868 362 942.7 365 1017.4 598 1092.1 661 1166.8 834 1241.6 739 1316.3 723 1391 675 1465.7 730 1540.4 740 1615.2 819 1689.9 649 1764.6 663 1839.3 754 1914 726 1988.8 547 2063.5 470"/>
<path class="ck" d="M344.9 368 419.6 499 494.4 546 569.1 422 643.8 508 718.5 529 793.2 401 868 227 942.7 656 1017.4 677 1092.1 688 1166.8 774 1241.6 920 1316.3 816 1391 703 1465.7 746 1540.4 688 1615.2 782 1689.9 609 1764.6 622 1839.3 589 1914 654 1988.8 598 2063.5 491"/>
<path class="cl" d="M344.9 356 419.6 585 494.4 457 569.1 381 643.8 414 718.5 632 793.2 310 868 426 942.7 372 1017.4 647 1092.1 719 1166.8 741 1241.6 861 1316.3 758 1391 699 1465.7 746 1540.4 625 1615.2 690 1689.9 681 1764.6 746 1839.3 687 1914 676 1988.8 513 2063.5 424"/>
<path class="ca" d="M344.9 442 419.6 439 494.4 421 569.1 453 643.8 545 718.5 500 793.2 550 868 265 942.7 495 1017.4 641 1092.1 689 1166.8 895 1241.6 812 1316.3 781 1391 645 1465.7 719 1540.4 638 1615.2 729 1689.9 588 1764.6 695 1839.3 762 1914 645 1988.8 548 2063.5 496"/>
<path class="cb" d="M344.9 419 419.6 392 494.4 374 569.1 525 643.8 531 718.5 650 793.2 402 868 416 942.7 350 1017.4 591 1092.1 697 1166.8 843 1241.6 888 1316.3 797 1391 719 1465.7 736 1540.4 616 1615.2 722 1689.9 677 1764.6 646 1839.3 686 1914 600 1988.8 501 2063.5 470"/>
<path class="cc" d="M344.9 377 419.6 368 494.4 503 569.1 340 643.8 491 718.5 541 793.2 226 868 240 942.7 399 1017.4 538 1092.1 720 1166.8 862 1241.6 832 1316.3 718 1391 714 1465.7 731 1540.4 727 1615.2 791 1689.9 743 1764.6 707 1839.3 748 1914 654 1988.8 428 2063.5 371"/>
<path class="cd" d="M344.9 465 419.6 488 494.4 528 569.1 403 643.8 425 718.5 451 793.2 379 868 368 942.7 375 1017.4 544 1092.1 667 1166.8 875 1241.6 796 1316.3 741 1391 747 1465.7 676 1540.4 685 1615.2 752 1689.9 745 1764.6 704 1839.3 647 1914 571 1988.8 549 2063.5 543"/>
<path class="ce" d="M344.9 300 419.6 444 494.4 515 569.1 248 643.8 642 718.5 474 793.2 309 868 332 942.7 370 1017.4 526 1092.1 654 1166.8 784 1241.6 898 1316.3 812 1391 722 1465.7 673 1540.4 650 1615.2 702 1689.9 742 1764.6 688 1839.3 757 1914 634 1988.8 494 2063.5 456"/>
<path class="cf" d="M344.9 219 419.6 428 494.4 625 569.1 401 643.8 537 718.5 546 793.2 394 868 325 942.7 629 1017.4 617 1092.1 704 1166.8 735 1241.6 790 1316.3 766 1391 723 1465.7 684 1540.4 677 1615.2 822 1689.9 769 1764.6 590 1839.3 708 1914 764 1988.8 425 2063.5 384"/>
<path class="cg" d="M344.9 323 419.6 610 494.4 511 569.1 548 643.8 553 718.5 285 793.2 343 868 338 942.7 588 1017.4 487 1092.1 678 1166.8 718 1241.6 901 1316.3 736 1391 633 1465.7 779 1540.4 619 1615.2 691 1689.9 704 1764.6 692 1839.3 741 1914 577 1988.8 387 2063.5 455"/>
<path class="ch" d="M344.9 438 419.6 519 494.4 515 569.1 495 643.8 658 718.5 416 793.2 308 868 456 942.7 392 1017.4 625 1092.1 668 1166.8 744 1241.6 919 1316.3 748 1391 756 1465.7 721 1540.4 671 1615.2 773 1689.9 544 1764.6 740 1839.3 715 1914 659 1988.8 379 2063.5 460"/>
<path class="ci" d="M344.9 370 419.6 344 494.4 691 569.1 513 643.8 381 718.5 495 793.2 162 868 453 942.7 458 1017.4 468 1092.1 670 1166.8 786 1241.6 965 1316.3 861 1391 705 1465.7 577 1540.4 710 1615.2 804 1689.9 647 1764.6 735 1839.3 818 1914 632 1988.8 531 2063.5 454"/>
<path class="cj" d="M344.9 290 419.6 502 494.4 526 569.1 455 643.8 444 718.5 476 793.2 450 868 310 942.7 393 1017.4 560 1092.1 722 1166.8 841 1241.6 795 1316.3 704 1391 630 1465.7 654 1540.4 628 1615.2 721 1689.9 628 1764.6 593 1839.3 711 1914 664 1988.8 516 2063.5 531"/>
<path class="ck" d="M344.9 374 419.6 470 494.4 414 569.1 430 643.8 386 718.5 597 793.2 481 868 622 942.7 474 1017.4 719 1092.1 728 1166.8 719 1241.6 862 1316.3 775 1391 772 1465.7 639 1540.4 561 1615.2 816 1689.9 667 1764.6 630 1839.3 678 1914 773 1988.8 587 2063.5 538"/>
<path class="cl" d="M344.9 368 419.6 459 494.4 448 569.1 499 643.8 498 718.5 439 793.2 488 868 452 942.7 412 1017.4 556 1092.1 710 1166.8 795 1241.6 872 1316.3 793 1391 705 1465.7 707 1540.4 578 1615.2 630 1689.9 658 1764.6 595 1839.3 712 1914 596 1988.8 499 2063.5 435"/>
<path class="ca" d="M344.9 334 419.6 530 494.4 290 569.1 540 643.8 510 718.5 503 793.2 86 868 523 942.7 486 1017.4 499 1092.1 714 1166.8 752 1241.6 845 1316.3 851 1391 745 1465.7 782 1540.4 697 1615.2 726 1689.9 723 1764.6 607 1839.3 748 1914 677 1988.8 433 2063.5 326"/>
<path class="cb" d="M344.9 399 419.6 492 494.4 251 569.1 407 643.8 555 718.5 471 793.2 526 868 445 942.7 479 1017.4 472 1092.1 558 1166.8 866 1241.6 785 1316.3 788 1391 701 1465.7 639 1540.4 811 1615.2 818 1689.9 611 1764.6 646 1839.3 752 1914 730 1988.8 448 2063.5 602"/>
<path class="cc" d="M344.9 405 419.6 613 494.4 534 569.1 457 643.8 513 718.5 489 793.2 316 868 459 942.7 550 1017.4 577 1092.1 731 1166.8 857 1241.6 878 1316.3 736 1391 733 1465.7 742 1540.4 751 1615.2 766 1689.9 614 1764.6 652 1839.3 759 1914 604 1988.8 445 2063.5 416"/>
<path class="cd" d="M344.9 510 419.6 392 494.4 389 569.1 366 643.8 570 718.5 519 793.2 374 868 355 942.7 390 1017.4 513 1092.1 691 1166.8 790 1241.6 745 1316.3 765 1391 760 1465.7 688 1540.4 745 1615.2 660 1689.9 632 1764.6 768 1839.3 733 1914 661 1988.8 536 2063.5 449"/>
<path class="ce" d="M344.9 322 419.6 422 494.4 352 569.1 410 643.8 526 718.5 457 793.2 453 868 592 942.7 428 1017.4 544 1092.1 731 1166.8 863 1241.6 817 1316.3 782 1391 658 1465.7 767 1540.4 657 1615.2 728 1689.9 687 1764.6 700 1839.3 730 1914 683 1988.8 487 2063.5 412"/>
<path class="cf" d="M344.9 367 419.6 566 494.4 453 569.1 433 643.8 422 718.5 357 793.2 468 868 514 942.7 372 1017.4 491 1092.1 785 1166.8 664 1241.6 823 1316.3 876 1391 734 1465.7 611 1540.4 606 1615.2 601 1689.9 656 1764.6 639 1839.3 805 1914 722 1988.8 554 2063.5 396"/>
<path class="cg" d="M344.9 283 419.6 470 494.4 359 569.1 506 643.8 398 718.5 521 793.2 376 868 476 942.7 363 1017.4 677 1092.1 681 1166.8 860 1241.6 815 1316.3 923 1391 820 1465.7 648 1540.4 709 1615.2 738 1689.9 772 1764.6 696 1839.3 640 1914 798 1988.8 463 2063.5 513"/>
<path class="ch" d="M344.9 506 419.6 610 494.4 589 569.1 328 643.8 573 718.5 545 793.2 347 868 400 942.7 348 1017.4 430 1092.1 680 1166.8 792 1241.6 880 1316.3 826 1391 726 1465.7 747 1540.4 657 1615.2 722 1689.9 651 1764.6 672 1839.3 700 1914 635 1988.8 449 2063.5 571"/>
<path class="ci" d="M344.9 478 419.6 567 494.4 587 569.1 529 643.8 550 718.5 500 793.2 306 868 382 942.7 432 1017.4 547 1092.1 660 1166.8 714 1241.6 904 1316.3 816 1391 724 1465.7 604 1540.4 658 1615.2 745 1689.9 693 1764.6 709 1839.3 720 1914 669 1988.8 467 2063.5 449"/>
<path class="cj" d="M344.9 195 419.6 318 494.4 466 569.1 479 643.8 543 718.5 446 793.2 228 868 360 942.7 460 1017.4 505 1092.1 695 1166.8 772 1241.6 889 1316.3 825 1391 720 1465.7 699 1540.4 705 1615.2 717 1689.9 611 1764.6 668 1839.3 736 1914 649 1988.8 554 2063.5 417"/>
<path class="ck" d="M344.9 225 419.6 394 494.4 535 569.1 553 643.8 340 718.5 436 793.2 497 868 596 942.7 389 1017.4 583 1092.1 780 1166.8 726 1241.6 863 1316.3 801 1391 752 1465.7 671 1540.4 619 1615.2 706 1689.9 490 1764.6 706 1839.3 733 1914 745 1988.8 391 2063.5 381"/>
<path class="cl" d="M344.9 283 419.6 453 494.4 415 569.1 349 643.8 502 718.5 260 793.2 445 868 467 942.7 439 1017.4 586 1092.1 612 1166.8 815 1241.6 847 1316.3 830 1391 718 1465.7 719 1540.4 752 1615.2 680 1689.9 580 1764.6 585 1839.3 680 1914 670 1988.8 472 2063.5 423"/>
<path class="ca" d="M344.9 375 419.6 551 494.4 541 569.1 392 643.8 581 718.5 384 793.2 383 868 353 942.7 338 1017.4 546 1092.1 773 1166.8 820 1241.6 899 1316.3 800 1391 698 1465.7 730 1540.4 717 1615.2 734 1689.9 628 1764.6 707 1839.3 653 1914 648 1988.8 514 2063.5 563"/>
<path class="cb" d="M344.9 473 419.6 521 494.4 520 569.1 451 643.8 480 718.5 604 793.2 419 868 372 942.7 400 1017.4 500 1092.1 760 1166.8 866 1241.6 865 1316.3 810 1391 667 1465.7 749 1540.4 588 1615.2 782 1689.9 615 1764.6 695 1839.3 682 1914 670 1988.8 531 2063.5 392"/>
<path class="cc" d="M344.9 230 419.6 537 494.4 442 569.1 460 643.8 658 718.5 634 793.2 424 868 479 942.7 447 1017.4 618 1092.1 759 1166.8 695 1241.6 816 1316.3 782 1391 697 1465.7 745 1540.4 647 1615.2 745 1689.9 641 1764.6 581 1839.3 733 1914 605 1988.8 452 2063.5 375"/>
<path class="cd" d="M344.9 335 419.6 538 494.4 517 569.1 386 643.8 556 718.5 420 793.2 528 868 476 942.7 441 1017.4 698 1092.1 694 1166.8 782 1241.6 879 1316.3 828 1391 679 1465.7 709 1540.4 675 1615.2 671 1689.9 706 1764.6 694 1839.3 698 1914 603 1988.8 508 2063.5 403"/>
<path class="ce" d="M344.9 305 419.6 579 494.4 485 569.1 456 643.8 624 718.5 396 793.2 245 868 460 942.7 378 1017.4 566 1092.1 770 1166.8 756 1241.6 783 1316.3 720 1391 820 1465.7 626 1540.4 662 1615.2 749 1689.9 663 1764.6 564 1839.3 679 1914 714 1988.8 366 2063.5 581"/>
<path class="cf" d="M344.9 223 419.6 497 494.4 343 569.1 462 643.8 438 718.5 525 793.2 338 868 527 942.7 246 1017.4 570 1092.1 682 1166.8 818 1241.6 774 1316.3 774 1391 775 1465.7 657 1540.4 601 1615.2 782 1689.9 739 1764.6 701 1839.3 720 1914 667 1988.8 612 2063.5 511"/>
<path class="cg" d="M344.9 464 419.6 471 494.4 541 569.1 558 643.8 575 718.5 463 793.2 534 868 429 942.7 535 1017.4 494 1092.1 787 1166.8 846 1241.6 792 1316.3 709 1391 828 1465.7 650 1540.4 613 1615.2 740 1689.9 692 1764.6 646 1839.3 689 1914 620 1988.8 455 2063.5 553"/>
<path class="ch" d="M344.9 376 419.6 392 494.4 406 569.1 337 643.8 406 718.5 452 793.2 368 868 349 942.7 382 1017.4 504 1092.1 742 1166.8 891 1241.6 833 1316.3 840 1391 652 1465.7 616 1540.4 653 1615.2 795 1689.9 596 1764.6 604 1839.3 674 1914 650 1988.8 600 2063.5 419"/>
<path class="ci" d="M344.9 431 419.6 499 494.4 571 569.1 505 643.8 531 718.5 514 793.2 494 868 438 942.7 503 1017.4 563 1092.1 699 1166.8 783 1241.6 772 1316.3 858 1391 698 1465.7 663 1540.4 662 1615.2 698 1689.9 722 1764.6 625 1839.3 702 1914 663 1988.8 531 2063.5 393"/>
<path class="cj" d="M344.9 454 419.6 416 494.4 520 569.1 578 643.8 611 718.5 420 793.2 437 868 380 942.7 467 1017.4 417 1092.1 656 1166.8 805 1241.6 824 1316.3 701 1391 687 1465.7 777 1540.4 684 1615.2 690 1689.9 644 1764.6 822 1839.3 705 1914 657 1988.8 479 2063.5 423"/>
<path class="ck" d="M344.9 284 419.6 574 494.4 639 569.1 511 643.8 481 718.5 545 793.2 427 868 335 942.7 384 1017.4 572 1092.1 669 1166.8 808 1241.6 830 1316.3 817 1391 732 1465.7 658 1540.4 703 1615.2 754 1689.9 593 1764.6 758 1839.3 657 1914 654 1988.8 432 2063.5 535"/>
<path class="cl" d="M344.9 315 419.6 470 494.4 477 569.1 437 643.8 585 718.5 527 793.2 289 868 356 942.7 301 1017.4 467 1092.1 835 1166.8 789 1241.6 893 1316.3 790 1391 662 1465.7 725 1540.4 779 1615.2 743 1689.9 598 1764.6 678 1839.3 704 1914 660 1988.8 489 2063.5 586"/>
<path class="ca" d="M344.9 287 419.6 496 494.4 488 569.1 479 643.8 447 718.5 514 793.2 392 868 369 942.7 405 1017.4 497 1092.1 635 1166.8 745 1241.6 826 1316.3 838 1391 739 1465.7 724 1540.4 719 1615.2 660 1689.9 621 1764.6 587 1839.3 696 1914 625 1988.8 411 2063.5 341"/>
<path class="cb" d="M344.9 456 419.6 551 494.4 433 569.1 492 643.8 500 718.5 522 793.2 240 868 404 942.7 414 1017.4 676 1092.1 731 1166.8 766 1241.6 824 1316.3 864 1391 703 1465.7 672 1540.4 534 1615.2 777 1689.9 658 1764.6 668 1839.3 704 1914 733 1988.8 508 2063.5 492"/>
<path class="cc" d="M344.9 325 419.6 391 494.4 431 569.1 467 643.8 530 718.5 650 793.2 375 868 433 942.7 380 1017.4 445 1092.1 709 1166.8 783 1241.6 757 1316.3 878 1391 723 1465.7 742 1540.4 657 1615.2 725 1689.9 707 1764.6 667 1839.3 752 1914 622 1988.8 458 2063.5 587"/>
<path class="cd" d="M344.9 411 419.6 525 494.4 426 569.1 497 643.8 651 718.5 514 793.2 408 868 486 942.7 576 1017.4 578 1092.1 811 1166.8 826 1241.6 829 1316.3 816 1391 641 1465.7 726 1540.4 680 1615.2 696 1689.9 668 1764.6 648 1839.3 661 1914 567 1988.8 459 2063.5 585"/>
<path class="ce" d="M344.9 328 419.6 429 494.4 498 569.1 428 643.8 412 718.5 490 793.2 430 868 479 942.7 390 1017.4 519 1092.1 839 1166.8 767 1241.6 829 1316.3 803 1391 742 1465.7 684 1540.4 691 1615.2 691 1689.9 655 1764.6 645 1839.3 631 1914 720 1988.8 502 2063.5 384"/>
<path class="cf" d="M344.9 544 419.6 417 494.4 437 569.1 523 643.8 543 718.5 401 793.2 531 868 405 942.7 425 1017.4 558 1092.1 706 1166.8 777 1241.6 789 1316.3 759 1391 597 1465.7 637 1540.4 579 1615.2 774 1689.9 661 1764.6 649 1839.3 729 1914 615 1988.8 588 2063.5 479"/>
<path class="cg" d="M344.9 362 419.6 427 494.4 420 569.1 488 643.8 517 718.5 499 793.2 328 868 354 942.7 493 1017.4 554 1092.1 681 1166.8 857 1241.6 823 1316.3 803 1391 711 1465.7 708 1540.4 618 1615.2 747 1689.9 633 1764.6 615 1839.3 650 1914 532 1988.8 465 2063.5 513"/>
<path class="ch" d="M344.9 318 419.6 523 494.4 332 569.1 318 643.8 537 718.5 503 793.2 360 868 418 942.7 349 1017.4 579 1092.1 732 1166.8 809 1241.6 814 1316.3 810 1391 654 1465.7 772 1540.4 635 1615.2 743 1689.9 671 1764.6 729 1839.3 725 1914 612 1988.8 475 2063.5 378"/>
<path class="ci" d="M344.9 386 419.6 534 494.4 442 569.1 428 643.8 482 718.5 502 793.2 472 868 433 942.7 503 1017.4 446 1092.1 661 1166.8 822 1241.6 728 1316.3 741 1391 736 1465.7 580 1540.4 651 1615.2 733 1689.9 623 1764.6 675 1839.3 710 1914 625 1988.8 573 2063.5 345"/>
<path class="cj" d="M344.9 377 419.6 610 494.4 660 569.1 469 643.8 495 718.5 496 793.2 243 868 469 942.7 297 1017.4 632 1092.1 770 1166.8 814 1241.6 849 1316.3 844 1391 706 1465.7 598 1540.4 705 1615.2 780 1689.9 708 1764.6 596 1839.3 682 1914 699 1988.8 560 2063.5 423"/>
<path class="ck" d="M344.9 292 419.6 521 494.4 377 569.1 431 643.8 473 718.5 412 793.2 403 868 478 942.7 414 1017.4 548 1092.1 694 1166.8 804 1241.6 821 1316.3 814 1391 761 1465.7 699 1540.4 714 1615.2 804 1689.9 679 1764.6 737 1839.3 660 1914 601 1988.8 405 2063.5 311"/>
<path class="cl" d="M344.9 539 419.6 461 494.4 515 569.1 360 643.8 493 718.5 354 793.2 455 868 394 942.7 523 1017.4 493 1092.1 674 1166.8 788 1241.6 797 1316.3 797 1391 748 1465.7 711 1540.4 612 1615.2 786 1689.9 682 1764.6 623 1839.3 726 1914 735 1988.8 539 2063.5 464"/>
<path class="ca" d="M344.9 392 419.6 299 494.4 547 569.1 400 643.8 507 718.5 472 793.2 515 868 557 942.7 483 1017.4 598 1092.1 757 1166.8 813 1241.6 811 1316.3 848 1391 756 1465.7 722 1540.4 666 1615.2 744 1689.9 598 1764.6 606 1839.3 675 1914 630 1988.8 472 2063.5 373"/>
<path class="cb" d="M344.9 283 419.6 483 494.4 334 569.1 498 643.8 519 718.5 475 793.2 363 868 391 942.7 424 1017.4 587 1092.1 598 1166.8 787 1241.6 853 1316.3 752 1391 735 1465.7 689 1540.4 706 1615.2 771 1689.9 534 1764.6 589 1839.3 669 1914 653 1988.8 622 2063.5 562"/>
<path class="cc" d="M344.9 402 419.6 385 494.4 450 569.1 604 643.8 564 718.5 508 793.2 406 868 435 942.7 448 1017.4 517 1092.1 718 1166.8 747 1241.6 822 1316.3 760 1391 775 1465.7 666 1540.4 693 1615.2 792 1689.9 627 1764.6 640 1839.3 663 1914 655 1988.8 386 2063.5 425"/>
<path class="cd" d="M344.9 304 419.6 564 494.4 339 569.1 384 643.8 554 718.5 305 793.2 377 868 256 942.7 510 1017.4 522 1092.1 712 1166.8 767 1241.6 866 1316.3 756 1391 692 1465.7 720 1540.4 726 1615.2 714 1689.9 703 1764.6 625 1839.3 655 1914 693 1988.8 485 2063.5 547"/>
<path class="ce" d="M344.9 358 419.6 452 494.4 405 569.1 354 643.8 534 718.5 551 793.2 418 868 301 942.7 380 1017.4 567 1092.1 625 1166.8 796 1241.6 839 1316.3 775 1391 848 1465.7 606 1540.4 673 1615.2 820 1689.9 726 1764.6 622 1839.3 709 1914 665 1988.8 565 2063.5 448"/>
<path class="cf" d="M344.9 298 419.6 400 494.4 423 569.1 350 643.8 693 718.5 435 793.2 399 868 303 942.7 400 1017.4 611 1092.1 650 1166.8 744 1241.6 808 1316.3 863 1391 776 1465.7 728 1540.4 607 1615.2 788 1689.9 650 1764.6 859 1839.3 700 1914 742 1988.8 439 2063.5 446"/>
<path class="cg" d="M344.9 436 419.6 352 494.4 514 569.1 394 643.8 548 718.5 481 793.2 397 868 372 942.7 408 1017.4 460 1092.1 670 1166.8 762 1241.6 876 1316.3 829 1391 718 1465.7 680 1540.4 672 1615.2 712 1689.9 676 1764.6 676 1839.3 703 1914 753 1988.8 507 2063.5 687"/>
<path class="ch" d="M344.9 365 419.6 243 494.4 432 569.1 469 643.8 550 718.5 443 793.2 457 868 460 942.7 498 1017.4 488 1092.1 700 1166.8 760 1241.6 940 1316.3 837 1391 768 1465.7 717 1540.4 630 1615.2 736 1689.9 706 1764.6 679 1839.3 775 1914 639 1988.8 544 2063.5 530"/>
<path class="ci" d="M344.9 380 419.6 351 494.4 396 569.1 386 643.8 486 718.5 303 793.2 363 868 336 942.7 507 1017.4 537 1092.1 670 1166.8 840 1241.6 809 1316.3 823 1391 757 1465.7 594 1540.4 610 1615.2 775 1689.9 633 1764.6 681 1839.3 722 1914 667 1988.8 492 2063.5 466"/>
<path class="cj" d="M344.9 497 419.6 488 494.4 481 569.1 324 643.8 351 718.5 567 793.2 336 868 415 942.7 371 1017.4 581 1092.1 729 1166.8 804 1241.6 851 1316.3 775 1391 842 1465.7 671 1540.4 696 1615.2 732 1689.9 627 1764.6 709 1839.3 619 1914 717 1988.8 356 2063.5 505"/>
<path class="ck" d="M344.9 221 419.6 518 494.4 403 569.1 536 643.8 509 718.5 576 793.2 450 868 399 942.7 523 1017.4 540 1092.1 753 1166.8 763 1241.6 842 1316.3 864 1391 824 1465.7 665 1540.4 729 1615.2 685 1689.9 637 1764.6 681 1839.3 672 1914 732 1988.8 543 2063.5 552"/>
<path class="cl" d="M344.9 161 419.6 533 494.4 449 569.1 438 643.8 473 718.5 448 793.2 414 868 504 942.7 451 1017.4 560 1092.1 820 1166.8 773 1241.6 783 1316.3 839 1391 766 1465.7 801 1540.4 728 1615.2 798 1689.9 510 1764.6 676 1839.3 751 1914 542 1988.8 518 2063.5 426"/>
<path class="ca" d="M344.9 284 419.6 608 494.4 402 569.1 491 643.8 519 718.5 432 793.2 577 868 460 942.7 484 1017.4 447 1092.1 763 1166.8 791 1241.6 850 1316.3 808 1391 678 1465.7 685 1540.4 692 1615.2 736 1689.9 709 1764.6 790 1839.3 705 1914 663 1988.8 438 2063.5 427"/>
<path class="cb" d="M344.9 385 419.6 342 494.4 728 569.1 331 643.8 469 718.5 445 793.2 501 868 430 942.7 494 1017.4 609 1092.1 652 1166.8 732 1241.6 864 1316.3 735 1391 756 1465.7 653 1540.4 698 1615.2 821 1689.9 685 1764.6 617 1839.3 666 1914 650 1988.8 510 2063.5 325"/>
<path class="cc" d="M344.9 494 419.6 518 494.4 472 569.1 386 643.8 525 718.5 482 793.2 303 868 400 942.7 497 1017.4 536 1092.1 684 1166.8 785 1241.6 790 1316.3 866 1391 770 1465.7 630 1540.4 773 1615.2 785 1689.9 566 1764.6 610 1839.3 769 1914 643 1988.8 522 2063.5 469"/>
<path class="cd" d="M344.9 552 419.6 604 494.4 483 569.1 360 643.8 477 718.5 549 793.2 252 868 374 942.7 447 1017.4 566 1092.1 731 1166.8 736 1241.6 853 1316.3 766 1391 669 1465.7 703 1540.4 682 1615.2 703 1689.9 636 1764.6 615 1839.3 740 1914 688 1988.8 415 2063.5 380"/>
<path class="ce" d="M344.9 366 419.6 294 494.4 413 569.1 399 643.8 528 718.5 476 793.2 411 868 369 942.7 573 1017.4 592 1092.1 745 1166.8 733 1241.6 806 1316.3 793 1391 721 1465.7 604 1540.4 670 1615.2 731 1689.9 715 1764.6 765 1839.3 675 1914 579 1988.8 520 2063.5 417"/>
<path class="cf" d="M344.9 324 419.6 446 494.4 479 569.1 433 643.8 421 718.5 486 793.2 456 868 405 942.7 524 1017.4 440 1092.1 716 1166.8 798 1241.6 811 1316.3 729 1391 772 1465.7 680 1540.4 748 1615.2 744 1689.9 668 1764.6 674 1839.3 728 1914 677 1988.8 526 2063.5 415"/>
<path class="cg" d="M344.9 264 419.6 445 494.4 456 569.1 506 643.8 556 718.5 339 793.2 365 868 346 942.7 410 1017.4 625 1092.1 752 1166.8 742 1241.6 763 1316.3 805 1391 684 1465.7 645 1540.4 635 1615.2 738 1689.9 670 1764.6 737 1839.3 696 1914 613 1988.8 470 2063.5 353"/>
<path class="ch" d="M344.9 421 419.6 297 494.4 458 569.1 544 643.8 497 718.5 391 793.2 306 868 307 942.7 480 1017.4 689 1092.1 783 1166.8 796 1241.6 771 1316.3 788 1391 692 1465.7 722 1540.4 635 1615.2 790 1689.9 644 1764.6 724 1839.3 702 1914 622 1988.8 389 2063.5 532"/>
<path class="ci" d="M344.9 329 419.6 346 494.4 516 569.1 628 643.8 402 718.5 553 793.2 438 868 311 942.7 459 1017.4 507 1092.1 707 1166.8 783 1241.6 788 1316.3 840 1391 823 1465.7 718 1540.4 582 1615.2 752 1689.9 601 1764.6 693 1839.3 682 1914 591 1988.8 405 2063.5 477"/>
<path class="cj" d="M344.9 428 419.6 545 494.4 526 569.1 436 643.8 494 718.5 423 793.2 341 868 305 942.7 277 1017.4 683 1092.1 699 1166.8 738 1241.6 827 1316.3 868 1391 817 1465.7 742 1540.4 740 1615.2 795 1689.9 610 1764.6 677 1839.3 690 1914 734 1988.8 514 2063.5 432"/>
<path class="ck" d="M344.9 311 419.6 456 494.4 483 569.1 524 643.8 397 718.5 538 793.2 323 868 418 942.7 424 1017.4 533 1092.1 745 1166.8 833 1241.6 835 1316.3 787 1391 800 1465.7 752 1540.4 728 1615.2 713 1689.9 596 1764.6 654 1839.3 608 1914 713 1988.8 537 2063.5 369"/>
<path class="cl" d="M344.9 323 419.6 532 494.4 616 569.1 464 643.8 640 718.5 616 793.2 357 868 322 942.7 565 1017.4 501 1092.1 727 1166.8 823 1241.6 873 1316.3 795 1391 701 1465.7 705 1540.4 715 1615.2 778 1689.9 636 1764.6 700 1839.3 724 1914 737 1988.8 471 2063.5 481"/>
<path class="ca" d="M344.9 220 419.6 413 494.4 395 569.1 516 643.8 350 718.5 448 793.2 423 868 302 942.7 607 1017.4 593 1092.1 636 1166.8 769 1241.6 844 1316.3 793 1391 809 1465.7 653 1540.4 595 1615.2 698 1689.9 609 1764.6 643 1839.3 666 1914 679 1988.8 493 2063.5 438"/>
<path class="cb" d="M344.9 400 419.6 316 494.4 446 569.1 381 643.8 476 718.5 377 793.2 251 868 446 942.7 262 1017.4 496 1092.1 696 1166.8 834 1241.6 796 1316.3 758 1391 754 1465.7 714 1540.4 594 1615.2 680 1689.9 626 1764.6 718 1839.3 753 1914 619 1988.8 492 2063.5 494"/>
<path class="cc" d="M344.9 225 419.6 470 494.4 558 569.1 527 643.8 456 718.5 392 793.2 395 868 479 942.7 386 1017.4 594 1092.1 753 1166.8 868 1241.6 830 1316.3 814 1391 806 1465.7 722 1540.4 632 1615.2 782 1689.9 595 1764.6 684 1839.3 718 1914 660 1988.8 463 2063.5 528"/>
<path class="cd" d="M344.9 439 419.6 329 494.4 415 569.1 347 643.8 344 718.5 380 793.2 365 868 500 942.7 377 1017.4 603 1092.1 796 1166.8 831 1241.6 801 1316.3 854 1391 732 1465.7 703 1540.4 630 1615.2 821 1689.9 687 1764.6 730 1839.3 768 1914 654 1988.8 541 2063.5 521"/>
<path class="ce" d="M344.9 336 419.6 414 494.4 639 569.1 385 643.8 498 718.5 402 793.2 427 868 392 942.7 302 1017.4 591 1092.1 681 1166.8 746 1241.6 841 1316.3 783 1391 604 1465.7 622 1540.4 621 1615.2 780 1689.9 678 1764.6 569 1839.3 656 1914 635 1988.8 434 2063.5 318"/>
<path class="cf" d="M344.9 187 419.6 282 494.4 635 569.1 391 643.8 535 718.5 405 793.2 498 868 303 942.7 479 1017.4 626 1092.1 804 1166.8 816 1241.6 848 1316.3 768 1391 723 1465.7 706 1540.4 708 1615.2 748 1689.9 609 1764.6 669 1839.3 722 1914 798 1988.8 464 2063.5 485"/>
<path class="cg" d="M344.9 408 419.6 445 494.4 526 569.1 341 643.8 448 718.5 451 793.2 442 868 562 942.7 393 1017.4 711 1092.1 602 1166.8 864 1241.6 825 1316.3 857 1391 762 1465.7 723 1540.4 703 1615.2 749 1689.9 623 1764.6 722 1839.3 821 1914 691 1988.8 479 2063.5 418"/>
<path class="ch" d="M344.9 193 419.6 492 494.4 525 569.1 450 643.8 515 718.5 362 793.2 391 868 452 942.7 402 1017.4 633 1092.1 686 1166.8 800 1241.6 823 1316.3 774 1391 742 1465.7 719 1540.4 621 1615.2 774 1689.9 663 1764.6 599 1839.3 603 1914 680 1988.8 606 2063.5 389"/>
<path class="ci" d="M344.9 369 419.6 398 494.4 475 569.1 393 643.8 429 718.5 401 793.2 431 868 385 942.7 317 1017.4 423 1092.1 625 1166.8 766 1241.6 859 1316.3 783 1391 743 1465.7 749 1540.4 647 1615.2 781 1689.9 703 1764.6 618 1839.3 678 1914 625 1988.8 535 2063.5 512"/>
<path class="cj" d="M344.9 313 419.6 467 494.4 368 569.1 532 643.8 458 718.5 486 793.2 358 868 306 942.7 493 1017.4 556 1092.1 725 1166.8 886 1241.6 825 1316.3 790 1391 682 1465.7 704 1540.4 605 1615.2 741 1689.9 624 1764.6 557 1839.3 743 1914 630 1988.8 517 2063.5 484"/>
<path class="ck" d="M344.9 156 419.6 415 494.4 472 569.1 539 643.8 551 718.5 386 793.2 418 868 291 942.7 503 1017.4 627 1092.1 571 1166.8 825 1241.6 786 1316.3 829 1391 770 1465.7 715 1540.4 606 1615.2 722 1689.9 659 1764.6 666 1839.3 712 1914 657 1988.8 406 2063.5 281"/>
<path class="cl" d="M344.9 363 419.6 405 494.4 430 569.1 429 643.8 538 718.5 346 793.2 516 868 398 942.7 385 1017.4 575 1092.1 664 1166.8 773 1241.6 887 1316.3 858 1391 740 1465.7 704 1540.4 744 1615.2 667 1689.9 715 1764.6 747 1839.3 662 1914 692 1988.8 387 2063.5 415"/>
<path class="ca" d="M344.9 497 419.6 402 494.4 409 569.1 378 643.8 630 718.5 455 793.2 303 868 367 942.7 418 1017.4 495 1092.1 675 1166.8 823 1241.6 867 1316.3 773 1391 680 1465.7 580 1540.4 612 1615.2 690 1689.9 575 1764.6 665 1839.3 731 1914 670 1988.8 482 2063.5 382"/>
<path class="cb" d="M344.9 411 419.6 400 494.4 493 569.1 467 643.8 494 718.5 429 793.2 392 868 487 942.7 454 1017.4 573 1092.1 633 1166.8 767 1241.6 791 1316.3 784 1391 757 1465.7 736 1540.4 685 1615.2 782 1689.9 618 1764.6 662 1839.3 647 1914 728 1988.8 537 2063.5 470"/>
<path class="cc" d="M344.9 288 419.6 448 494.4 397 569.1 359 643.8 483 718.5 479 793.2 325 868 477 942.7 438 1017.4 549 1092.1 662 1166.8 809 1241.6 856 1316.3 774 1391 667 1465.7 688 1540.4 644 1615.2 765 1689.9 638 1764.6 622 1839.3 729 1914 717 1988.8 397 2063.5 540"/>
<path class="cd" d="M344.9 418 419.6 316 494.4 477 569.1 471 643.8 550 718.5 457 793.2 330 868 319 942.7 320 1017.4 538 1092.1 669 1166.8 836 1241.6 813 1316.3 800 1391 750 1465.7 722 1540.4 656 1615.2 798 1689.9 561 1764.6 651 1839.3 687 1914 703 1988.8 552 2063.5 492"/>
<path class="ce" d="M344.9 392 419.6 345 494.4 558 569.1 595 643.8 431 718.5 600 793.2 359 868 386 942.7 489 1017.4 553 1092.1 755 1166.8 762 1241.6 841 1316.3 796 1391 799 1465.7 631 1540.4 533 1615.2 788 1689.9 690 1764.6 577 1839.3 607 1914 642 1988.8 605 2063.5 428"/>
<path class="cf" d="M344.9 448 419.6 508 494.4 486 569.1 385 643.8 551 718.5 474 793.2 491 868 535 942.7 503 1017.4 549 1092.1 708 1166.8 848 1241.6 801 1316.3 854 1391 671 1465.7 682 1540.4 621 1615.2 651 1689.9 541 1764.6 547 1839.3 711 1914 692 1988.8 380 2063.5 484"/>
<path class="cg" d="M344.9 382 419.6 393 494.4 475 569.1 514 643.8 502 718.5 490 793.2 449 868 428 942.7 558 1017.4 569 1092.1 654 1166.8 770 1241.6 826 1316.3 765 1391 786 1465.7 746 1540.4 662 1615.2 763 1689.9 653 1764.6 684 1839.3 725 1914 671 1988.8 538 2063.5 319"/>
<path class="ch" d="M344.9 463 419.6 420 494.4 394 569.1 292 643.8 514 718.5 538 793.2 353 868 506 942.7 305 1017.4 482 1092.1 740 1166.8 777 1241.6 782 1316.3 848 1391 792 1465.7 682 1540.4 602 1615.2 672 1689.9 571 1764.6 613 1839.3 768 1914 766 1988.8 610 2063.5 401"/>
<path class="ci" d="M344.9 422 419.6 391 494.4 474 569.1 433 643.8 426 718.5 456 793.2 460 868 404 942.7 435 1017.4 607 1092.1 700 1166.8 751 1241.6 810 1316.3 765 1391 767 1465.7 632 1540.4 608 1615.2 720 1689.9 654 1764.6 634 1839.3 683 1914 764 1988.8 625 2063.5 507"/>
<path class="cj" d="M344.9 399 419.6 453 494.4 564 569.1 582 643.8 397 718.5 336 793.2 417 868 309 942.7 484 1017.4 535 1092.1 652 1166.8 812 1241.6 832 1316.3 709 1391 698 1465.7 691 1540.4 631 1615.2 670 1689.9 723 1764.6 677 1839.3 646 1914 589 1988.8 454 2063.5 356"/>
<path class="ck" d="M344.9 372 419.6 475 494.4 519 569.1 555 643.8 627 718.5 686 793.2 495 868 462 942.7 335 1017.4 458 1092.1 715 1166.8 780 1241.6 878 1316.3 761 1391 684 1465.7 767 1540.4 596 1615.2 754 1689.9 665 1764.6 625 1839.3 681 1914 601 1988.8 477 2063.5 569"/>
<path class="cl" d="M344.9 419 419.6 446 494.4 419 569.1 424 643.8 548 718.5 537 793.2 402 868 431 942.7 397 1017.4 422 1092.1 719 1166.8 758 1241.6 819 1316.3 752 1391 654 1465.7 722 1540.4 645 1615.2 731 1689.9 687 1764.6 615 1839.3 720 1914 639 1988.8 474 2063.5 499"/>
<path class="ca" d="M344.9 437 419.6 439 494.4 610 569.1 571 643.8 623 718.5 466 793.2 452 868 431 942.7 531 1017.4 645 1092.1 687 1166.8 744 1241.6 880 1316.3 729 1391 726 1465.7 676 1540.4 756 1615.2 727 1689.9 581 1764.6 659 1839.3 718 1914 684 1988.8 509 2063.5 498"/>
<path class="cb" d="M344.9 437 419.6 486 494.4 414 569.1 434 643.8 565 718.5 485 793.2 311 868 371 942.7 431 1017.4 581 1092.1 741 1166.8 734 1241.6 859 1316.3 814 1391 727 1465.7 734 1540.4 670 1615.2 810 1689.9 685 1764.6 580 1839.3 762 1914 685 1988.8 616 2063.5 397"/>
<path class="cc" d="M344.9 383 419.6 472 494.4 499 569.1 567 643.8 480 718.5 462 793.2 246 868 432 942.7 449 1017.4 601 1092.1 805 1166.8 794 1241.6 826 1316.3 783 1391 736 1465.7 606 1540.4 713 1615.2 822 1689.9 607 1764.6 789 1839.3 609 1914 627 1988.8 579 2063.5 473"/>
<path class="cd" d="M344.9 472 419.6 430 494.4 472 569.1 321 643.8 446 718.5 588 793.2 491 868 408 942.7 516 1017.4 642 1092.1 649 1166.8 714 1241.6 901 1316.3 831 1391 772 1465.7 728 1540.4 604 1615.2 802 1689.9 677 1764.6 650 1839.3 722 1914 659 1988.8 437 2063.5 415"/>
<path class="ce" d="M344.9 343 419.6 516 494.4 530 569.1 524 643.8 562 718.5 526 793.2 305 868 457 942.7 395 1017.4 477 1092.1 800 1166.8 807 1241.6 792 1316.3 818 1391 718 1465.7 711 1540.4 587 1615.2 745 1689.9 705 1764.6 611 1839.3 634 1914 668 1988.8 531 2063.5 422"/>
<path class="cf" d="M344.9 414 419.6 314 494.4 583 569.1 407 643.8 479 718.5 519 793.2 325 868 258 942.7 437 1017.4 609 1092.1 699 1166.8 740 1241.6 870 1316.3 805 1391 670 1465.7 709 1540.4 732 1615.2 726 1689.9 648 1764.6 793 1839.3 788 1914 596 1988.8 514 2063.5 425"/>
<path class="cg" d="M344.9 335 419.6 416 494.4 351 569.1 479 643.8 505 718.5 521 793.2 402 868 465 942.7 464 1017.4 589 1092.1 644 1166.8 872 1241.6 806 1316.3 854 1391 750 1465.7 668 1540.4 681 1615.2 781 1689.9 535 1764.6 662 1839.3 775 1914 700 1988.8 424 2063.5 574"/>
<path class="ch" d="M344.9 391 419.6 556 494.4 424 569.1 522 643.8 559 718.5 468 793.2 400 868 478 942.7 465 1017.4 615 1092.1 760 1166.8 798 1241.6 874 1316.3 758 1391 648 1465.7 535 1540.4 720 1615.2 719 1689.9 708 1764.6 647 1839.3 662 1914 640 1988.8 581 2063.5 383"/>
<path class="ci" d="M344.9 430 419.6 449 494.4 447 569.1 337 643.8 360 718.5 386 793.2 385 868 392 942.7 516 1017.4 633 1092.1 720 1166.8 787 1241.6 865 1316.3 761 1391 682 1465.7 692 1540.4 617 1615.2 722 1689.9 681 1764.6 708 1839.3 772 1914 625 1988.8 589 2063.5 551"/>
<path class="cj" d="M344.9 301 419.6 418 494.4 410 569.1 472 643.8 564 718.5 503 793.2 322 868 551 942.7 291 1017.4 584 1092.1 723 1166.8 774 1241.6 825 1316.3 756 1391 804 1465.7 784 1540.4 622 1615.2 696 1689.9 709 1764.6 634 1839.3 740 1914 666 1988.8 492 2063.5 435"/>
<path class="ck" d="M344.9 246 419.6 440 494.4 489 569.1 455 643.8 567 718.5 340 793.2 425 868 395 942.7 524 1017.4 588 1092.1 755 1166.8 815 1241.6 816 1316.3 828 1391 807 1465.7 664 1540.4 727 1615.2 655 1689.9 694 1764.6 628 1839.3 677 1914 713 1988.8 403 2063.5 459"/>
<path class="cl" d="M344.9 263 419.6 535 494.4 408 569.1 490 643.8 539 718.5 526 793.2 344 868 464 942.7 432 1017.4 535 1092.1 721 1166.8 793 1241.6 821 1316.3 775 1391 714 1465.7 695 1540.4 655 1615.2 711 1689.9 604 1764.6 662 1839.3 748 1914 654 1988.8 456 2063.5 528"/>
<path class="ca" d="M344.9 308 419.6 334 494.4 473 569.1 339 643.8 552 718.5 325 793.2 472 868 496 942.7 473 1017.4 570 1092.1 660 1166.8 690 1241.6 898 1316.3 836 1391 718 1465.7 744 1540.4 730 1615.2 768 1689.9 765 1764.6 651 1839.3 564 1914 579 1988.8 518 2063.5 380"/>
<path class="cb" d="M344.9 458 419.6 452 494.4 352 569.1 314 643.8 471 718.5 598 793.2 366 868 345 942.7 468 1017.4 514 1092.1 702 1166.8 804 1241.6 911 1316.3 726 1391 705 1465.7 713 1540.4 632 1615.2 708 1689.9 662 1764.6 770 1839.3 808 1914 580 1988.8 645 2063.5 337"/>
<path class="cc" d="M344.9 175 419.6 541 494.4 558 569.1 463 643.8 659 718.5 491 793.2 302 868 394 942.7 457 1017.4 592 1092.1 747 1166.8 761 1241.6 854 1316.3 878 1391 716 1465.7 639 1540.4 679 1615.2 743 1689.9 651 1764.6 646 1839.3 700 1914 557 1988.8 478 2063.5 494"/>
<path class="cd" d="M344.9 375 419.6 506 494.4 480 569.1 355 643.8 437 718.5 372 793.2 593 868 249 942.7 355 1017.4 521 1092.1 730 1166.8 763 1241.6 838 1316.3 726 1391 720 1465.7 704 1540.4 715 1615.2 666 1689.9 671 1764.6 621 1839.3 670 1914 612 1988.8 476 2063.5 564"/>
<path class="ce" d="M344.9 295 419.6 513 494.4 427 569.1 439 643.8 628 718.5 372 793.2 571 868 386 942.7 397 1017.4 705 1092.1 764 1166.8 788 1241.6 889 1316.3 770 1391 673 1465.7 819 1540.4 604 1615.2 765 1689.9 708 1764.6 729 1839.3 594 1914 749 1988.8 490 2063.5 465"/>
<path class="cf" d="M344.9 207 419.6 460 494.4 405 569.1 421 643.8 558 718.5 705 793.2 376 868 571 942.7 202 1017.4 422 1092.1 639 1166.8 816 1241.6 886 1316.3 784 1391 690 1465.7 754 1540.4 643 1615.2 655 1689.9 749 1764.6 742 1839.3 719 1914 655 1988.8 498 2063.5 413"/>
<path class="cg" d="M344.9 568 419.6 372 494.4 503 569.1 538 643.8 526 718.5 460 793.2 473 868 446 942.7 264 1017.4 515 1092.1 706 1166.8 841 1241.6 860 1316.3 796 1391 737 1465.7 719 1540.4 649 1615.2 662 1689.9 714 1764.6 624 1839.3 748 1914 743 1988.8 479 2063.5 393"/>
<path class="ch" d="M344.9 323 419.6 362 494.4 497 569.1 329 643.8 522 718.5 402 793.2 389 868 470 942.7 412 1017.4 540 1092.1 676 1166.8 789 1241.6 827 1316.3 719 1391 760 1465.7 744 1540.4 677 1615.2 779 1689.9 604 1764.6 713 1839.3 719 1914 619 1988.8 396 2063.5 351"/>
<path class="ci" d="M344.9 347 419.6 586 494.4 554 569.1 425 643.8 499 718.5 523 793.2 422 868 421 942.7 506 1017.4 479 1092.1 665 1166.8 717 1241.6 865 1316.3 789 1391 780 1465.7 806 1540.4 631 1615.2 760 1689.9 704 1764.6 672 1839.3 744 1914 723 1988.8 423 2063.5 593"/>
<path class="cj" d="M344.9 380 419.6 373 494.4 622 569.1 304 643.8 647 718.5 459 793.2 405 868 487 942.7 314 1017.4 618 1092.1 666 1166.8 754 1241.6 828 1316.3 795 1391 761 1465.7 679 1540.4 677 1615.2 772 1689.9 713 1764.6 673 1839.3 691 1914 613 1988.8 532 2063.5 526"/>
<path class="ck" d="M344.9 367 419.6 478 494.4 370 569.1 396 643.8 463 718.5 479 793.2 257 868 360 942.7 503 1017.4 580 1092.1 653 1166.8 746 1241.6 864 1316.3 788 1391 710 1465.7 693 1540.4 656 1615.2 698 1689.9 578 1764.6 657 1839.3 718 1914 674 1988.8 485 2063.5 601"/>
<path class="cl" d="M344.9 485 419.6 584 494.4 536 569.1 446 643.8 496 718.5 297 793.2 267 868 372 942.7 304 1017.4 578 1092.1 670 1166.8 774 1241.6 810 1316.3 771 1391 813 1465.7 721 1540.4 633 1615.2 761 1689.9 719 1764.6 650 1839.3 602 1914 605 1988.8 462 2063.5 571"/>
<path class="ca" d="M344.9 299 419.6 431 494.4 417 569.1 367 643.8 543 718.5 467 793.2 333 868 353 942.7 346 1017.4 509 1092.1 702 1166.8 713 1241.6 840 1316.3 904 1391 745 1465.7 711 1540.4 635 1615.2 743 1689.9 585 1764.6 591 1839.3 676 1914 670 1988.8 578 2063.5 508"/>
<path class="cb" d="M344.9 414 419.6 559 494.4 423 569.1 567 643.8 464 718.5 402 793.2 489 868 417 942.7 488 1017.4 602 1092.1 601 1166.8 749 1241.6 799 1316.3 745 1391 785 1465.7 773 1540.4 608 1615.2 730 1689.9 613 1764.6 652 1839.3 714 1914 664 1988.8 554 2063.5 392"/>
<path class="cc" d="M344.9 466 419.6 384 494.4 565 569.1 385 643.8 550 718.5 494 793.2 505 868 568 942.7 530 1017.4 537 1092.1 781 1166.8 787 1241.6 830 1316.3 788 1391 775 1465.7 727 1540.4 669 1615.2 731 1689.9 628 1764.6 678 1839.3 651 1914 566 1988.8 551 2063.5 571"/>
<path class="cd" d="M344.9 296 419.6 440 494.4 547 569.1 385 643.8 541 718.5 637 793.2 528 868 371 942.7 345 1017.4 591 1092.1 736 1166.8 722 1241.6 858 1316.3 831 1391 728 1465.7 705 1540.4 622 1615.2 652 1689.9 690 1764.6 732 1839.3 672 1914 599 1988.8 636 2063.5 467"/>
<path class="ce" d="M344.9 281 419.6 338 494.4 466 569.1 434 643.8 469 718.5 418 793.2 258 868 351 942.7 519 1017.4 525 1092.1 682 1166.8 791 1241.6 850 1316.3 682 1391 705 1465.7 718 1540.4 584 1615.2 777 1689.9 658 1764.6 561 1839.3 731 1914 635 1988.8 507 2063.5 401"/>
<path class="cf" d="M344.9 300 419.6 571 494.4 444 569.1 459 643.8 496 718.5 446 793.2 491 868 449 942.7 407 1017.4 667 1092.1 761 1166.8 758 1241.6 837 1316.3 798 1391 785 1465.7 710 1540.4 615 1615.2 762 1689.9 570 1764.6 659 1839.3 720 1914 643 1988.8 506 2063.5 464"/>
<path class="cg" d="M344.9 452 419.6 348 494.4 479 569.1 353 643.8 409 718.5 421 793.2 386 868 308 942.7 378 1017.4 537 1092.1 768 1166.8 843 1241.6 858 1316.3 822 1391 738 1465.7 662 1540.4 635 1615.2 742 1689.9 639 1764.6 570 1839.3 780 1914 707 1988.8 370 2063.5 520"/>
<path class="ch" d="M344.9 315 419.6 370 494.4 394 569.1 472 643.8 515 718.5 479 793.2 448 868 317 942.7 447 1017.4 681 1092.1 682 1166.8 783 1241.6 822 1316.3 717 1391 748 1465.7 716 1540.4 547 1615.2 706 1689.9 597 1764.6 557 1839.3 670 1914 598 1988.8 593 2063.5 432"/>
<path class="ci" d="M344.9 481 419.6 375 494.4 440 569.1 532 643.8 509 718.5 573 793.2 358 868 483 942.7 529 1017.4 444 1092.1 710 1166.8 840 1241.6 833 1316.3 762 1391 705 1465.7 761 1540.4 586 1615.2 803 1689.9 670 1764.6 681 1839.3 723 1914 689 1988.8 510 2063.5 518"/>
<path class="cj" d="M344.9 388 419.6 396 494.4 481 569.1 399 643.8 562 718.5 623 793.2 448 868 446 942.7 362 1017.4 478 1092.1 735 1166.8 759 1241.6 840 1316.3 807 1391 813 1465.7 714 1540.4 667 1615.2 756 1689.9 695 1764.6 622 1839.3 649 1914 622 1988.8 378 2063.5 537"/>
<path class="ck" d="M344.9 382 419.6 569 494.4 489 569.1 381 643.8 519 718.5 344 793.2 473 868 296 942.7 494 1017.4 747 1092.1 696 1166.8 790 1241.6 828 1316.3 736 1391 692 1465.7 703 1540.4 705 1615.2 671 1689.9 723 1764.6 687 1839.3 639 1914 751 1988.8 443 2063.5 579"/>
<path class="cl" d="M344.9 282 419.6 451 494.4 634 569.1 267 643.8 578 718.5 437 793.2 280 868 410 942.7 451 1017.4 594 1092.1 640 1166.8 749 1241.6 808 1316.3 758 1391 622 1465.7 710 1540.4 732 1615.2 700 1689.9 665 1764.6 593 1839.3 694 1914 538 1988.8 382 2063.5 568"/>
<path class="ca" d="M344.9 309 419.6 454 494.4 553 569.1 398 643.8 504 718.5 512 793.2 147 868 408 942.7 392 1017.4 644 1092.1 695 1166.8 812 1241.6 893 1316.3 773 1391 836 1465.7 718 1540.4 647 1615.2 718 1689.9 663 1764.6 679 1839.3 716 1914 655 1988.8 395 2063.5 516"/>
<path class="cb" d="M344.9 413 419.6 488 494.4 359 569.1 318 643.8 458 718.5 374 793.2 173 868 402 942.7 404 1017.4 618 1092.1 678 1166.8 747 1241.6 807 1316.3 772 1391 652 1465.7 687 1540.4 655 1615.2 727 1689.9 563 1764.6 632 1839.3 652 1914 636 1988.8 565 2063.5 408"/>
<path class="cc" d="M344.9 526 419.6 487 494.4 369 569.1 457 643.8 534 718.5 546 793.2 323 868 480 942.7 334 1017.4 532 1092.1 800 1166.8 785 1241.6 874 1316.3 710 1391 751 1465.7 699 1540.4 630 1615.2 728 1689.9 660 1764.6 593 1839.3 685 1914 610 1988.8 475 2063.5 430"/>
<path class="cd" d="M344.9 243 419.6 578 494.4 438 569.1 400 643.8 567 718.5 497 793.2 485 868 473 942.7 388 1017.4 549 1092.1 674 1166.8 756 1241.6 852 1316.3 746 1391 715 1465.7 693 1540.4 656 1615.2 752 1689.9 688 1764.6 670 1839.3 817 1914 594 1988.8 618 2063.5 377"/>
<path class="ce" d="M344.9 314 419.6 513 494.4 433 569.1 567 643.8 523 718.5 456 793.2 407 868 507 942.7 305 1017.4 484 1092.1 718 1166.8 769 1241.6 851 1316.3 822 1391 730 1465.7 793 1540.4 648 1615.2 777 1689.9 636 1764.6 623 1839.3 752 1914 682 1988.8 534 2063.5 481"/>
<path class="cf" d="M344.9 418 419.6 435 494.4 458 569.1 478 643.8 545 718.5 528 793.2 284 868 418 942.7 410 1017.4 515 1092.1 706 1166.8 735 1241.6 844 1316.3 812 1391 672 1465.7 740 1540.4 632 1615.2 687 1689.9 710 1764.6 618 1839.3 723 1914 512 1988.8 593 2063.5 491"/>
<path class="cg" d="M344.9 411 419.6 292 494.4 368 569.1 364 643.8 512 718.5 520 793.2 427 868 344 942.7 508 1017.4 560 1092.1 674 1166.8 784 1241.6 849 1316.3 769 1391 684 1465.7 660 1540.4 593 1615.2 710 1689.9 834 1764.6 614 1839.3 665 1914 644 1988.8 487 2063.5 300"/>
<path class="ch" d="M344.9 288 419.6 433 494.4 434 569.1 354 643.8 453 718.5 461 793.2 401 868 457 942.7 368 1017.4 644 1092.1 747 1166.8 757 1241.6 883 1316.3 714 1391 674 1465.7 640 1540.4 579 1615.2 737 1689.9 618 1764.6 656 1839.3 688 1914 477 1988.8 499 2063.5 464"/>
<path class="ci" d="M344.9 373 419.6 438 494.4 495 569.1 655 643.8 527 718.5 598 793.2 374 868 326 942.7 376 1017.4 677 1092.1 799 1166.8 804 1241.6 842 1316.3 783 1391 747 1465.7 660 1540.4 642 1615.2 724 1689.9 709 1764.6 679 1839.3 721 1914 662 1988.8 511 2063.5 529"/>
<path class="cj" d="M344.9 273 419.6 496 494.4 527 569.1 519 643.8 409 718.5 643 793.2 431 868 339 942.7 196 1017.4 665 1092.1 741 1166.8 673 1241.6 790 1316.3 871 1391 754 1465.7 752 1540.4 626 1615.2 831 1689.9 647 1764.6 648 1839.3 711 1914 650 1988.8 578 2063.5 532"/>
<path class="ck" d="M344.9 564 419.6 389 494.4 416 569.1 353 643.8 461 718.5 312 793.2 469 868 528 942.7 465 1017.4 488 1092.1 666 1166.8 804 1241.6 819 1316.3 712 1391 633 1465.7 706 1540.4 607 1615.2 702 1689.9 587 1764.6 658 1839.3 758 1914 673 1988.8 469 2063.5 406"/>
<path class="cl" d="M344.9 413 419.6 424 494.4 461 569.1 307 643.8 463 718.5 464 793.2 391 868 315 942.7 520 1017.4 476 1092.1 852 1166.8 810 1241.6 869 1316.3 790 1391 703 1465.7 662 1540.4 626 1615.2 769 1689.9 598 1764.6 727 1839.3 680 1914 627 1988.8 398 2063.5 459"/>
<path class="ca" d="M344.9 559 419.6 457 494.4 486 569.1 452 643.8 459 718.5 474 793.2 397 868 365 942.7 526 1017.4 518 1092.1 591 1166.8 781 1241.6 884 1316.3 763 1391 817 1465.7 718 1540.4 678 1615.2 728 1689.9 572 1764.6 614 1839.3 650 1914 682 1988.8 379 2063.5 463"/>
<path class="cb" d="M344.9 249 419.6 542 494.4 442 569.1 395 643.8 491 718.5 585 793.2 479 868 478 942.7 330 1017.4 669 1092.1 635 1166.8 784 1241.6 812 1316.3 771 1391 748 1465.7 747 1540.4 714 1615.2 746 1689.9 602 1764.6 756 1839.3 746 1914 613 1988.8 428 2063.5 300"/>
<path class="cc" d="M344.9 202 419.6 312 494.4 300 569.1 394 643.8 541 718.5 420 793.2 384 868 402 942.7 471 1017.4 503 1092.1 612 1166.8 758 1241.6 838 1316.3 797 1391 712 1465.7 702 1540.4 646 1615.2 841 1689.9 595 1764.6 710 1839.3 681 1914 698 1988.8 524 2063.5 639"/>
<path class="cd" d="M344.9 382 419.6 457 494.4 480 569.1 487 643.8 325 718.5 469 793.2 347 868 502 942.7 306 1017.4 658 1092.1 677 1166.8 834 1241.6 762 1316.3 814 1391 640 1465.7 659 1540.4 630 1615.2 694 1689.9 647 1764.6 712 1839.3 730 1914 693 1988.8 496 2063.5 614"/>
<path class="ce" d="M344.9 610 419.6 354 494.4 508 569.1 484 643.8 608 718.5 628 793.2 267 868 431 942.7 343 1017.4 632 1092.1 660 1166.8 799 1241.6 847 1316.3 790 1391 738 1465.7 681 1540.4 668 1615.2 800 1689.9 556 1764.6 654 1839.3 740 1914 715 1988.8 514 2063.5 390"/>
<path class="cf" d="M344.9 480 419.6 383 494.4 394 569.1 465 643.8 483 718.5 472 793.2 453 868 398 942.7 480 1017.4 528 1092.1 698 1166.8 749 1241.6 844 1316.3 764 1391 737 1465.7 639 1540.4 704 1615.2 788 1689.9 723 1764.6 631 1839.3 744 1914 671 1988.8 358 2063.5 612"/>
<path class="cg" d="M344.9 292 419.6 575 494.4 427 569.1 415 643.8 445 718.5 398 793.2 454 868 538 942.7 485 1017.4 545 1092.1 832 1166.8 797 1241.6 818 1316.3 810 1391 755 1465.7 762 1540.4 737 1615.2 676 1689.9 608 1764.6 640 1839.3 692 1914 639 1988.8 443 2063.5 366"/>
<path class="ch" d="M344.9 295 419.6 445 494.4 420 569.1 511 643.8 397 718.5 550 793.2 311 868 471 942.7 536 1017.4 554 1092.1 602 1166.8 792 1241.6 864 1316.3 841 1391 684 1465.7 673 1540.4 690 1615.2 721 1689.9 642 1764.6 649 1839.3 678 1914 569 1988.8 593 2063.5 376"/>
<path class="ci" d="M344.9 402 419.6 416 494.4 521 569.1 442 643.8 490 718.5 511 793.2 481 868 315 942.7 444 1017.4 591 1092.1 734 1166.8 769 1241.6 785 1316.3 817 1391 743 1465.7 619 1540.4 723 1615.2 694 1689.9 682 1764.6 640 1839.3 653 1914 809 1988.8 417 2063.5 393"/>
<path class="cj" d="M344.9 336 419.6 372 494.4 396 569.1 421 643.8 472 718.5 437 793.2 311 868 460 942.7 345 1017.4 723 1092.1 754 1166.8 732 1241.6 796 1316.3 845 1391 709 1465.7 667 1540.4 570 1615.2 749 1689.9 715 1764.6 687 1839.3 652 1914 570 1988.8 336 2063.5 477"/>
<path class="ck" d="M344.9 258 419.6 507 494.4 576 569.1 319 643.8 509 718.5 419 793.2 427 868 297 942.7 478 1017.4 587 1092.1 619 1166.8 778 1241.6 853 1316.3 834 1391 735 1465.7 714 1540.4 710 1615.2 673 1689.9 693 1764.6 631 1839.3 737 1914 587 1988.8 472 2063.5 308"/>
<path class="cl" d="M344.9 382 419.6 401 494.4 593 569.1 560 643.8 699 718.5 494 793.2 607 868 544 942.7 457 1017.4 530 1092.1 754 1166.8 764 1241.6 836 1316.3 747 1391 690 1465.7 699 1540.4 639 1615.2 794 1689.9 680 1764.6 540 1839.3 736 1914 684 1988.8 296 2063.5 486"/>
<path class="ca" d="M344.9 450 419.6 477 494.4 501 569.1 502 643.8 408 718.5 505 793.2 402 868 441 942.7 527 1017.4 440 1092.1 701 1166.8 813 1241.6 832 1316.3 796 1391 672 1465.7 720 1540.4 640 1615.2 721 1689.9 684 1764.6 672 1839.3 680 1914 676 1988.8 578 2063.5 435"/>
<path class="cb" d="M344.9 465 419.6 371 494.4 427 569.1 473 643.8 458 718.5 398 793.2 415 868 438 942.7 587 1017.4 567 1092.1 723 1166.8 839 1241.6 761 1316.3 807 1391 726 1465.7 772 1540.4 611 1615.2 730 1689.9 746 1764.6 654 1839.3 625 1914 629 1988.8 553 2063.5 398"/>
<path class="cc" d="M344.9 324 419.6 478 494.4 533 569.1 506 643.8 554 718.5 431 793.2 307 868 351 942.7 493 1017.4 489 1092.1 701 1166.8 736 1241.6 829 1316.3 788 1391 745 1465.7 671 1540.4 623 1615.2 734 1689.9 687 1764.6 623 1839.3 759 1914 648 1988.8 496 2063.5 396"/>
<path class="cd" d="M344.9 400 419.6 474 494.4 434 569.1 490 643.8 362 718.5 566 793.2 428 868 404 942.7 497 1017.4 670 1092.1 653 1166.8 777 1241.6 820 1316.3 786 1391 729 1465.7 660 1540.4 692 1615.2 784 1689.9 699 1764.6 607 1839.3 648 1914 730 1988.8 500 2063.5 394"/>
<path class="ce" d="M344.9 484 419.6 465 494.4 366 569.1 401 643.8 445 718.5 572 793.2 188 868 411 942.7 319 1017.4 541 1092.1 760 1166.8 746 1241.6 923 1316.3 868 1391 748 1465.7 712 1540.4 637 1615.2 689 1689.9 642 1764.6 650 1839.3 667 1914 623 1988.8 433 2063.5 452"/>
<path class="cf" d="M344.9 378 419.6 459 494.4 424 569.1 515 643.8 499 718.5 441 793.2 546 868 657 942.7 299 1017.4 743 1092.1 780 1166.8 801 1241.6 786 1316.3 840 1391 764 1465.7 742 1540.4 751 1615.2 783 1689.9 659 1764.6 553 1839.3 750 1914 632 1988.8 406 2063.5 426"/>
<path class="cg" d="M344.9 509 419.6 579 494.4 603 569.1 527 643.8 534 718.5 492 793.2 483 868 337 942.7 415 1017.4 611 1092.1 675 1166.8 699 1241.6 810 1316.3 814 1391 742 1465.7 779 1540.4 558 1615.2 707 1689.9 574 1764.6 623 1839.3 650 1914 599 1988.8 486 2063.5 484"/>
<path class="ch" d="M344.9 267 419.6 437 494.4 381 569.1 328 643.8 406 718.5 544 793.2 462 868 314 942.7 408 1017.4 542 1092.1 708 1166.8 759 1241.6 853 1316.3 758 1391 726 1465.7 688 1540.4 663 1615.2 700 1689.9 630 1764.6 644 1839.3 699 1914 680 1988.8 512 2063.5 508"/>
<path class="ci" d="M344.9 523 419.6 458 494.4 496 569.1 443 643.8 528 718.5 484 793.2 363 868 438 942.7 594 1017.4 557 1092.1 814 1166.8 793 1241.6 807 1316.3 809 1391 741 1465.7 675 1540.4 567 1615.2 717 1689.9 558 1764.6 657 1839.3 575 1914 720 1988.8 557 2063.5 633"/>
<path class="cj" d="M344.9 352 419.6 484 494.4 375 569.1 440 643.8 447 718.5 377 793.2 307 868 297 942.7 369 1017.4 541 1092.1 718 1166.8 770 1241.6 783 1316.3 885 1391 687 1465.7 676 1540.4 692 1615.2 751 1689.9 692 1764.6 643 1839.3 733 1914 589 1988.8 523 2063.5 379"/>
<path class="ck" d="M344.9 508 419.6 466 494.4 543 569.1 456 643.8 446 718.5 418 793.2 385 868 338 942.7 563 1017.4 665 1092.1 694 1166.8 756 1241.6 811 1316.3 853 1391 704 1465.7 729 1540.4 686 1615.2 782 1689.9 586 1764.6 672 1839.3 774 1914 739 1988.8 461 2063.5 527"/>
<path class="cl" d="M344.9 517 419.6 420 494.4 397 569.1 300 643.8 410 718.5 387 793.2 367 868 362 942.7 497 1017.4 507 1092.1 661 1166.8 751 1241.6 808 1316.3 704 1391 667 1465.7 756 1540.4 603 1615.2 746 1689.9 676 1764.6 671 1839.3 701 1914 738 1988.8 437 2063.5 548"/>
<path class="ca" d="M344.9 370 419.6 423 494.4 415 569.1 521 643.8 441 718.5 416 793.2 332 868 475 942.7 286 1017.4 517 1092.1 688 1166.8 835 1241.6 847 1316.3 817 1391 724 1465.7 721 1540.4 691 1615.2 718 1689.9 653 1764.6 676 1839.3 746 1914 737 1988.8 457 2063.5 516"/>
<path class="cb" d="M344.9 477 419.6 448 494.4 528 569.1 517 643.8 514 718.5 461 793.2 416 868 419 942.7 308 1017.4 537 1092.1 782 1166.8 774 1241.6 798 1316.3 772 1391 762 1465.7 668 1540.4 614 1615.2 827 1689.9 645 1764.6 785 1839.3 712 1914 610 1988.8 493 2063.5 426"/>
<path class="cc" d="M344.9 386 419.6 349 494.4 390 569.1 350 643.8 511 718.5 537 793.2 470 868 465 942.7 368 1017.4 596 1092.1 701 1166.8 773 1241.6 880 1316.3 826 1391 728 1465.7 714 1540.4 584 1615.2 781 1689.9 634 1764.6 723 1839.3 715 1914 697 1988.8 511 2063.5 490"/>
<path class="cd" d="M344.9 257 419.6 280 494.4 421 569.1 464 643.8 462 718.5 482 793.2 523 868 396 942.7 498 1017.4 545 1092.1 681 1166.8 726 1241.6 804 1316.3 752 1391 732 1465.7 705 1540.4 778 1615.2 721 1689.9 607 1764.6 696 1839.3 685 1914 579 1988.8 404 2063.5 510"/>
<path class="ce" d="M344.9 342 419.6 424 494.4 439 569.1 381 643.8 384 718.5 402 793.2 560 868 441 942.7 449 1017.4 444 1092.1 736 1166.8 896 1241.6 772 1316.3 828 1391 687 1465.7 689 1540.4 721 1615.2 874 1689.9 648 1764.6 635 1839.3 726 1914 550 1988.8 441 2063.5 344"/>
<path class="cf" d="M344.9 581 419.6 568 494.4 586 569.1 436 643.8 543 718.5 413 793.2 371 868 432 942.7 416 1017.4 685 1092.1 663 1166.8 795 1241.6 852 1316.3 767 1391 696 1465.7 734 1540.4 622 1615.2 758 1689.9 643 1764.6 741 1839.3 822 1914 713 1988.8 479 2063.5 437"/>
<path class="cg" d="M344.9 520 419.6 442 494.4 405 569.1 242 643.8 474 718.5 564 793.2 347 868 428 942.7 417 1017.4 532 1092.1 610 1166.8 742 1241.6 880 1316.3 788 1391 732 1465.7 735 1540.4 632 1615.2 710 1689.9 575 1764.6 588 1839.3 681 1914 720 1988.8 588 2063.5 463"/>
<path class="ch" d="M344.9 349 419.6 481 494.4 516 569.1 460 643.8 514 718.5 448 793.2 315 868 415 942.7 518 1017.4 694 1092.1 663 1166.8 790 1241.6 892 1316.3 772 1391 736 1465.7 701 1540.4 657 1615.2 668 1689.9 607 1764.6 813 1839.3 652 1914 646 1988.8 519 2063.5 486"/>
<path class="ci" d="M344.9 472 419.6 473 494.4 588 569.1 466 643.8 513 718.5 379 793.2 467 868 425 942.7 414 1017.4 600 1092.1 698 1166.8 684 1241.6 826 1316.3 849 1391 755 1465.7 693 1540.4 722 1615.2 814 1689.9 669 1764.6 678 1839.3 695 1914 695 1988.8 400 2063.5 560"/>
<path class="cj" d="M344.9 401 419.6 479 494.4 458 569.1 452 643.8 493 718.5 500 793.2 423 868 385 942.7 492 1017.4 718 1092.1 757 1166.8 736 1241.6 821 1316.3 806 1391 754 1465.7 614 1540.4 696 1615.2 677 1689.9 694 1764.6 730 1839.3 755 1914 567 1988.8 523 2063.5 467"/>
<path class="ck" d="M344.9 412 419.6 442 494.4 444 569.1 607 643.8 526 718.5 544 793.2 413 868 423 942.7 475 1017.4 584 1092.1 717 1166.8 697 1241.6 843 1316.3 773 1391 809 1465.7 686 1540.4 748 1615.2 732 1689.9 626 1764.6 751 1839.3 743 1914 597 1988.8 433 2063.5 360"/>
<path class="cl" d="M344.9 455 419.6 297 494.4 438 569.1 376 643.8 556 718.5 451 793.2 423 868 419 942.7 347 1017.4 698 1092.1 684 1166.8 779 1241.6 811 1316.3 741 1391 673 1465.7 802 1540.4 582 1615.2 689 1689.9 611 1764.6 693 1839.3 629 1914 607 1988.8 582 2063.5 459"/>
<path class="ca" d="M344.9 484 419.6 326 494.4 505 569.1 384 643.8 395 718.5 366 793.2 294 868 424 942.7 384 1017.4 687 1092.1 638 1166.8 727 1241.6 934 1316.3 792 1391 777 1465.7 723 1540.4 588 1615.2 822 1689.9 610 1764.6 730 1839.3 741 1914 601 1988.8 537 2063.5 418"/>
<path class="cb" d="M344.9 414 419.6 389 494.4 449 569.1 498 643.8 493 718.5 483 793.2 415 868 403 942.7 448 1017.4 488 1092.1 613 1166.8 787 1241.6 807 1316.3 768 1391 798 1465.7 694 1540.4 672 1615.2 853 1689.9 740 1764.6 599 1839.3 665 1914 687 1988.8 408 2063.5 513"/>
<path class="cc" d="M344.9 350 419.6 420 494.4 356 569.1 460 643.8 526 718.5 438 793.2 549 868 323 942.7 396 1017.4 572 1092.1 689 1166.8 791 1241.6 859 1316.3 787 1391 724 1465.7 794 1540.4 652 1615.2 736 1689.9 607 1764.6 611 1839.3 640 1914 727 1988.8 348 2063.5 627"/>
<path class="cd" d="M344.9 303 419.6 394 494.4 503 569.1 423 643.8 450 718.5 440 793.2 232 868 375 942.7 382 1017.4 514 1092.1 670 1166.8 779 1241.6 867 1316.3 690 1391 734 1465.7 604 1540.4 627 1615.2 785 1689.9 666 1764.6 634 1839.3 744 1914 709 1988.8 344 2063.5 442"/>
<path class="ce" d="M344.9 410 419.6 536 494.4 563 569.1 469 643.8 738 718.5 382 793.2 510 868 483 942.7 559 1017.4 612 1092.1 706 1166.8 877 1241.6 845 1316.3 751 1391 760 1465.7 683 1540.4 635 1615.2 675 1689.9 657 1764.6 675 1839.3 749 1914 717 1988.8 418 2063.5 509"/>
<path class="cf" d="M344.9 374 419.6 383 494.4 399 569.1 470 643.8 447 718.5 435 793.2 397 868 538 942.7 524 1017.4 521 1092.1 726 1166.8 822 1241.6 867 1316.3 772 1391 726 1465.7 672 1540.4 704 1615.2 778 1689.9 693 1764.6 802 1839.3 728 1914 614 1988.8 614 2063.5 485"/>
<path class="cg" d="M344.9 383 419.6 419 494.4 229 569.1 435 643.8 571 718.5 456 793.2 364 868 564 942.7 449 1017.4 538 1092.1 719 1166.8 700 1241.6 825 1316.3 712 1391 683 1465.7 774 1540.4 715 1615.2 773 1689.9 713 1764.6 617 1839.3 762 1914 575 1988.8 409 2063.5 491"/>
<path class="ch" d="M344.9 269 419.6 453 494.4 582 569.1 253 643.8 557 718.5 520 793.2 282 868 391 942.7 432 1017.4 592 1092.1 735 1166.8 760 1241.6 870 1316.3 799 1391 748 1465.7 666 1540.4 568 1615.2 729 1689.9 660 1764.6 525 1839.3 692 1914 687 1988.8 470 2063.5 394"/>
<path class="ci" d="M344.9 501 419.6 535 494.4 378 569.1 418 643.8 457 718.5 470 793.2 415 868 411 942.7 410 1017.4 512 1092.1 734 1166.8 814 1241.6 833 1316.3 753 1391 713 1465.7 699 1540.4 736 1615.2 773 1689.9 545 1764.6 673 1839.3 834 1914 647 1988.8 498 2063.5 382"/>
<path class="cj" d="M344.9 346 419.6 366 494.4 411 569.1 402 643.8 419 718.5 419 793.2 260 868 413 942.7 460 1017.4 563 1092.1 685 1166.8 777 1241.6 857 1316.3 776 1391 741 1465.7 618 1540.4 755 1615.2 722 1689.9 714 1764.6 725 1839.3 725 1914 602 1988.8 456 2063.5 349"/>
<path class="ck" d="M344.9 281 419.6 340 494.4 560 569.1 487 643.8 427 718.5 607 793.2 205 868 478 942.7 487 1017.4 612 1092.1 706 1166.8 802 1241.6 854 1316.3 892 1391 723 1465.7 710 1540.4 659 1615.2 729 1689.9 709 1764.6 718 1839.3 736 1914 597 1988.8 511 2063.5 529"/>
<path class="cl" d="M344.9 472 419.6 436 494.4 383 569.1 424 643.8 642 718.5 386 793.2 572 868 204 942.7 529 1017.4 587 1092.1 711 1166.8 748 1241.6 733 1316.3 818 1391 652 1465.7 713 1540.4 688 1615.2 742 1689.9 676 1764.6 593 1839.3 636 1914 685 1988.8 471 2063.5 483"/>
<path class="ca" d="M344.9 339 419.6 359 494.4 514 569.1 472 643.8 482 718.5 487 793.2 432 868 482 942.7 358 1017.4 662 1092.1 726 1166.8 736 1241.6 796 1316.3 822 1391 699 1465.7 770 1540.4 711 1615.2 740 1689.9 690 1764.6 759 1839.3 779 1914 685 1988.8 466 2063.5 549"/>
<path class="cb" d="M344.9 240 419.6 492 494.4 440 569.1 599 643.8 452 718.5 535 793.2 297 868 364 942.7 423 1017.4 690 1092.1 734 1166.8 768 1241.6 814 1316.3 766 1391 668 1465.7 648 1540.4 739 1615.2 753 1689.9 658 1764.6 747 1839.3 770 1914 604 1988.8 438 2063.5 473"/>
<path class="cc" d="M344.9 311 419.6 570 494.4 489 569.1 505 643.8 577 718.5 486 793.2 271 868 415 942.7 353 1017.4 555 1092.1 646 1166.8 788 1241.6 858 1316.3 733 1391 766 1465.7 730 1540.4 639 1615.2 695 1689.9 452 1764.6 673 1839.3 615 1914 782 1988.8 630 2063.5 419"/>
<path class="cd" d="M344.9 330 419.6 517 494.4 472 569.1 535 643.8 536 718.5 422 793.2 251 868 370 942.7 478 1017.4 645 1092.1 653 1166.8 771 1241.6 784 1316.3 764 1391 719 1465.7 651 1540.4 694 1615.2 739 1689.9 657 1764.6 631 1839.3 675 1914 652 1988.8 465 2063.5 470"/>
<path class="ce" d="M344.9 150 419.6 359 494.4 451 569.1 325 643.8 571 718.5 567 793.2 279 868 449 942.7 440 1017.4 646 1092.1 690 1166.8 897 1241.6 885 1316.3 790 1391 772 1465.7 665 1540.4 620 1615.2 815 1689.9 624 1764.6 683 1839.3 641 1914 683 1988.8 467 2063.5 360"/>
<path class="cf" d="M344.9 388 419.6 427 494.4 406 569.1 425 643.8 677 718.5 342 793.2 478 868 462 942.7 482 1017.4 473 1092.1 737 1166.8 770 1241.6 842 1316.3 720 1391 848 1465.7 681 1540.4 695 1615.2 783 1689.9 692 1764.6 716 1839.3 661 1914 658 1988.8 686 2063.5 490"/>
<path class="cg" d="M344.9 314 419.6 491 494.4 416 569.1 522 643.8 462 718.5 388 793.2 454 868 248 942.7 404 1017.4 526 1092.1 716 1166.8 761 1241.6 895 1316.3 738 1391 750 1465.7 752 1540.4 650 1615.2 756 1689.9 664 1764.6 739 1839.3 625 1914 683 1988.8 571 2063.5 345"/>
<path class="ch" d="M344.9 483 419.6 497 494.4 283 569.1 467 643.8 588 718.5 465 793.2 547 868 328 942.7 558 1017.4 668 1092.1 669 1166.8 857 1241.6 914 1316.3 761 1391 795 1465.7 644 1540.4 659 1615.2 681 1689.9 659 1764.6 735 1839.3 781 1914 706 1988.8 463 2063.5 400"/>
<path class="ci" d="M344.9 379 419.6 518 494.4 524 569.1 480 643.8 595 718.5 568 793.2 505 868 448 942.7 495 1017.4 539 1092.1 542 1166.8 869 1241.6 874 1316.3 855 1391 754 1465.7 677 1540.4 621 1615.2 742 1689.9 642 1764.6 602 1839.3 777 1914 684 1988.8 456 2063.5 496"/>
<path class="cj" d="M344.9 258 419.6 602 494.4 538 569.1 368 643.8 396 718.5 459 793.2 435 868 282 942.7 332 1017.4 565 1092.1 686 1166.8 823 1241.6 808 1316.3 753 1391 616 1465.7 622 1540.4 653 1615.2 675 1689.9 657 1764.6 634 1839.3 658 1914 642 1988.8 485 2063.5 355"/>
<path class="ck" d="M344.9 341 419.6 443 494.4 322 569.1 426 643.8 555 718.5 497 793.2 504 868 318 942.7 385 1017.4 549 1092.1 729 1166.8 827 1241.6 906 1316.3 898 1391 725 1465.7 702 1540.4 670 1615.2 765 1689.9 661 1764.6 685 1839.3 728 1914 747 1988.8 520 2063.5 438"/>
<path class="cl" d="M344.9 413 419.6 389 494.4 542 569.1 464 643.8 568 718.5 500 793.2 480 868 402 942.7 464 1017.4 607 1092.1 784 1166.8 795 1241.6 824 1316.3 799 1391 711 1465.7 690 1540.4 714 1615.2 801 1689.9 696 1764.6 494 1839.3 729 1914 699 1988.8 416 2063.5 326"/>
<path class="ca" d="M344.9 369 419.6 497 494.4 390 569.1 527 643.8 586 718.5 534 793.2 366 868 425 942.7 477 1017.4 674 1092.1 719 1166.8 766 1241.6 890 1316.3 841 1391 749 1465.7 624 1540.4 739 1615.2 769 1689.9 666 1764.6 593 1839.3 730 1914 657 1988.8 515 2063.5 474"/>
<path class="cb" d="M344.9 498 419.6 273 494.4 491 569.1 423 643.8 402 718.5 509 793.2 355 868 421 942.7 234 1017.4 542 1092.1 725 1166.8 734 1241.6 821 1316.3 847 1391 751 1465.7 569 1540.4 639 1615.2 764 1689.9 568 1764.6 759 1839.3 697 1914 581 1988.8 447 2063.5 568"/>
<path class="cc" d="M344.9 351 419.6 411 494.4 294 569.1 460 643.8 586 718.5 444 793.2 415 868 340 942.7 422 1017.4 767 1092.1 641 1166.8 844 1241.6 881 1316.3 817 1391 659 1465.7 640 1540.4 709 1615.2 812 1689.9 604 1764.6 660 1839.3 652 1914 624 1988.8 469 2063.5 486"/>
<path class="cd" d="M344.9 293 419.6 491 494.4 433 569.1 479 643.8 540 718.5 495 793.2 198 868 539 942.7 459 1017.4 579 1092.1 781 1166.8 786 1241.6 937 1316.3 754 1391 629 1465.7 746 1540.4 709 1615.2 799 1689.9 665 1764.6 631 1839.3 695 1914 637 1988.8 480 2063.5 529"/>
<path class="ce" d="M344.9 437 419.6 522 494.4 253 569.1 429 643.8 284 718.5 407 793.2 415 868 475 942.7 437 1017.4 539 1092.1 679 1166.8 731 1241.6 880 1316.3 767 1391 745 1465.7 738 1540.4 718 1615.2 733 1689.9 618 1764.6 719 1839.3 659 1914 615 1988.8 555 2063.5 405"/>
<path class="cf" d="M344.9 352 419.6 609 494.4 317 569.1 468 643.8 479 718.5 421 793.2 235 868 363 942.7 354 1017.4 651 1092.1 711 1166.8 889 1241.6 862 1316.3 819 1391 733 1465.7 696 1540.4 743 1615.2 755 1689.9 607 1764.6 677 1839.3 697 1914 567 1988.8 577 2063.5 401"/>
<path class="cg" d="M344.9 472 419.6 429 494.4 531 569.1 601 643.8 515 718.5 580 793.2 511 868 252 942.7 423 1017.4 572 1092.1 775 1166.8 826 1241.6 783 1316.3 851 1391 754 1465.7 681 1540.4 714 1615.2 642 1689.9 646 1764.6 631 1839.3 768 1914 833 1988.8 526 2063.5 478"/>
<path class="ch" d="M344.9 285 419.6 493 494.4 524 569.1 505 643.8 484 718.5 384 793.2 364 868 331 942.7 345 1017.4 522 1092.1 769 1166.8 773 1241.6 841 1316.3 874 1391 731 1465.7 654 1540.4 642 1615.2 752 1689.9 656 1764.6 537 1839.3 672 1914 715 1988.8 496 2063.5 379"/>
<path class="ci" d="M344.9 482 419.6 462 494.4 439 569.1 566 643.8 534 718.5 481 793.2 440 868 468 942.7 413 1017.4 529 1092.1 725 1166.8 751 1241.6 806 1316.3 810 1391 715 1465.7 678 1540.4 587 1615.2 787 1689.9 745 1764.6 698 1839.3 751 1914 636 1988.8 381 2063.5 495"/>
<path class="cj" d="M344.9 437 419.6 468 494.4 504 569.1 373 643.8 611 718.5 517 793.2 375 868 491 942.7 448 1017.4 591 1092.1 681 1166.8 827 1241.6 862 1316.3 788 1391 748 1465.7 730 1540.4 706 1615.2 788 1689.9 714 1764.6 679 1839.3 639 1914 768 1988.8 632 2063.5 321"/>
<path class="ck" d="M344.9 355 419.6 404 494.4 626 569.1 510 643.8 458 718.5 389 793.2 346 868 479 942.7 427 1017.4 604 1092.1 732 1166.8 801 1241.6 817 1316.3 715 1391 784 1465.7 663 1540.4 678 1615.2 800 1689.9 629 1764.6 675 1839.3 638 1914 610 1988.8 598 2063.5 507"/>
<path class="cl" d="M344.9 275 419.6 358 494.4 485 569.1 504 643.8 451 718.5 511 793.2 347 868 329 942.7 445 1017.4 514 1092.1 723 1166.8 831 1241.6 772 1316.3 814 1391 768 1465.7 682 1540.4 696 1615.2 747 1689.9 625 1764.6 576 1839.3 758 1914 630 1988.8 449 2063.5 427"/>
<path class="ca" d="M344.9 358 419.6 470 494.4 488 569.1 607 643.8 508 718.5 473 793.2 423 868 394 942.7 591 1017.4 677 1092.1 616 1166.8 726 1241.6 880 1316.3 735 1391 671 1465.7 629 1540.4 686 1615.2 691 1689.9 624 1764.6 722 1839.3 757 1914 630 1988.8 517 2063.5 375"/>
<path class="cb" d="M344.9 361 419.6 492 494.4 478 569.1 369 643.8 521 718.5 591 793.2 415 868 450 942.7 391 1017.4 623 1092.1 621 1166.8 865 1241.6 794 1316.3 793 1391 712 1465.7 757 1540.4 658 1615.2 845 1689.9 607 1764.6 649 1839.3 689 1914 760 1988.8 461 2063.5 469"/>
<path class="cc" d="M344.9 412 419.6 331 494.4 333 569.1 529 643.8 415 718.5 568 793.2 466 868 435 942.7 429 1017.4 596 1092.1 623 1166.8 766 1241.6 773 1316.3 776 1391 679 1465.7 764 1540.4 596 1615.2 678 1689.9 642 1764.6 742 1839.3 624 1914 642 1988.8 529 2063.5 519"/>
<path class="cd" d="M344.9 195 419.6 340 494.4 322 569.1 510 643.8 434 718.5 295 793.2 301 868 500 942.7 442 1017.4 529 1092.1 677 1166.8 808 1241.6 851 1316.3 795 1391 712 1465.7 736 1540.4 633 1615.2 803 1689.9 620 1764.6 675 1839.3 620 1914 644 1988.8 389 2063.5 331"/>
<path class="ce" d="M344.9 421 419.6 561 494.4 484 569.1 434 643.8 511 718.5 415 793.2 457 868 495 942.7 426 1017.4 586 1092.1 694 1166.8 758 1241.6 806 1316.3 789 1391 718 1465.7 672 1540.4 625 1615.2 707 1689.9 650 1764.6 780 1839.3 593 1914 631 1988.8 502 2063.5 458"/>
<path class="cf" d="M344.9 419 419.6 321 494.4 269 569.1 482 643.8 577 718.5 466 793.2 405 868 461 942.7 545 1017.4 440 1092.1 673 1166.8 812 1241.6 891 1316.3 699 1391 767 1465.7 707 1540.4 685 1615.2 696 1689.9 623 1764.6 715 1839.3 678 1914 677 1988.8 543 2063.5 321"/>
<path class="cg" d="M344.9 425 419.6 351 494.4 483 569.1 701 643.8 551 718.5 509 793.2 426 868 278 942.7 482 1017.4 489 1092.1 745 1166.8 806 1241.6 812 1316.3 816 1391 716 1465.7 737 1540.4 590 1615.2 782 1689.9 690 1764.6 616 1839.3 753 1914 631 1988.8 455 2063.5 445"/>
<path class="ch" d="M344.9 269 419.6 542 494.4 375 569.1 511 643.8 533 718.5 429 793.2 381 868 301 942.7 489 1017.4 589 1092.1 647 1166.8 741 1241.6 812 1316.3 814 1391 701 1465.7 744 1540.4 540 1615.2 717 1689.9 649 1764.6 601 1839.3 696 1914 616 1988.8 462 2063.5 323"/>
<path class="ci" d="M344.9 435 419.6 439 494.4 476 569.1 395 643.8 410 718.5 531 793.2 336 868 551 942.7 466 1017.4 541 1092.1 642 1166.8 911 1241.6 819 1316.3 830 1391 739 1465.7 651 1540.4 708 1615.2 746 1689.9 652 1764.6 771 1839.3 733 1914 593 1988.8 473 2063.5 426"/>
<path class="cj" d="M344.9 429 419.6 394 494.4 563 569.1 470 643.8 541 718.5 538 793.2 375 868 445 942.7 503 1017.4 531 1092.1 738 1166.8 765 1241.6 835 1316.3 873 1391 681 1465.7 743 1540.4 663 1615.2 831 1689.9 621 1764.6 774 1839.3 667 1914 588 1988.8 590 2063.5 553"/>
<path class="ck" d="M344.9 344 419.6 567 494.4 380 569.1 630 643.8 451 718.5 480 793.2 359 868 553 942.7 316 1017.4 591 1092.1 616 1166.8 729 1241.6 812 1316.3 775 1391 796 1465.7 679 1540.4 684 1615.2 777 1689.9 723 1764.6 695 1839.3 604 1914 665 1988.8 461 2063.5 373"/>
<path class="cl" d="M344.9 490 419.6 552 494.4 435 569.1 563 643.8 391 718.5 625 793.2 438 868 311 942.7 372 1017.4 575 1092.1 669 1166.8 774 1241.6 828 1316.3 786 1391 785 1465.7 729 1540.4 713 1615.2 645 1689.9 683 1764.6 727 1839.3 712 1914 559 1988.8 530 2063.5 388"/>
<path class="ca" d="M344.9 360 419.6 278 494.4 545 569.1 180 643.8 502 718.5 435 793.2 400 868 381 942.7 236 1017.4 622 1092.1 784 1166.8 750 1241.6 902 1316.3 791 1391 736 1465.7 642 1540.4 547 1615.2 706 1689.9 616 1764.6 638 1839.3 743 1914 652 1988.8 394 2063.5 443"/>
<path class="cb" d="M344.9 475 419.6 517 494.4 368 569.1 526 643.8 530 718.5 517 793.2 369 868 350 942.7 399 1017.4 454 1092.1 748 1166.8 694 1241.6 835 1316.3 808 1391 672 1465.7 730 1540.4 700 1615.2 760 1689.9 632 1764.6 708 1839.3 767 1914 594 1988.8 582 2063.5 358"/>
<path class="cc" d="M344.9 283 419.6 390 494.4 460 569.1 458 643.8 521 718.5 470 793.2 487 868 423 942.7 367 1017.4 729 1092.1 640 1166.8 829 1241.6 823 1316.3 840 1391 739 1465.7 711 1540.4 671 1615.2 735 1689.9 805 1764.6 709 1839.3 767 1914 679 1988.8 398 2063.5 464"/>
<path class="cd" d="M344.9 235 419.6 379 494.4 422 569.1 441 643.8 558 718.5 449 793.2 408 868 444 942.7 554 1017.4 501 1092.1 784 1166.8 792 1241.6 889 1316.3 787 1391 668 1465.7 753 1540.4 689 1615.2 742 1689.9 725 1764.6 600 1839.3 691 1914 632 1988.8 547 2063.5 479"/>
<path class="ce" d="M344.9 388 419.6 410 494.4 395 569.1 654 643.8 548 718.5 399 793.2 301 868 432 942.7 456 1017.4 498 1092.1 773 1166.8 734 1241.6 861 1316.3 834 1391 714 1465.7 617 1540.4 621 1615.2 694 1689.9 546 1764.6 624 1839.3 679 1914 678 1988.8 518 2063.5 427"/>
<path class="cf" d="M344.9 488 419.6 457 494.4 357 569.1 460 643.8 438 718.5 410 793.2 286 868 518 942.7 530 1017.4 632 1092.1 639 1166.8 744 1241.6 852 1316.3 901 1391 768 1465.7 658 1540.4 671 1615.2 792 1689.9 648 1764.6 692 1839.3 741 1914 709 1988.8 415 2063.5 433"/>
<path class="cg" d="M344.9 422 419.6 381 494.4 479 569.1 313 643.8 419 718.5 488 793.2 338 868 392 942.7 497 1017.4 565 1092.1 707 1166.8 841 1241.6 873 1316.3 816 1391 607 1465.7 712 1540.4 730 1615.2 718 1689.9 626 1764.6 749 1839.3 727 1914 670 1988.8 523 2063.5 435"/>
<path class="ch" d="M344.9 254 419.6 371 494.4 441 569.1 319 643.8 595 718.5 396 793.2 423 868 561 942.7 445 1017.4 568 1092.1 694 1166.8 842 1241.6 796 1316.3 777 1391 658 1465.7 754 1540.4 642 1615.2 747 1689.9 602 1764.6 673 1839.3 714 1914 659 1988.8 443 2063.5 671"/>
<path class="ci" d="M344.9 425 419.6 552 494.4 365 569.1 448 643.8 457 718.5 431 793.2 174 868 329 942.7 455 1017.4 671 1092.1 667 1166.8 825 1241.6 844 1316.3 800 1391 794 1465.7 625 1540.4 626 1615.2 682 1689.9 716 1764.6 538 1839.3 638 1914 617 1988.8 579 2063.5 365"/>
<path class="cj" d="M344.9 365 419.6 449 494.4 444 569.1 398 643.8 429 718.5 473 793.2 352 868 573 942.7 230 1017.4 552 1092.1 739 1166.8 799 1241.6 782 1316.3 779 1391 637 1465.7 698 1540.4 633 1615.2 692 1689.9 655 1764.6 668 1839.3 717 1914 761 1988.8 587 2063.5 483"/>
<path class="ck" d="M344.9 506 419.6 426 494.4 436 569.1 592 643.8 565 718.5 384 793.2 414 868 369 942.7 566 1017.4 575 1092.1 703 1166.8 695 1241.6 781 1316.3 740 1391 646 1465.7 696 1540.4 576 1615.2 750 1689.9 664 1764.6 764 1839.3 740 1914 709 1988.8 509 2063.5 421"/>
<path class="cl" d="M344.9 297 419.6 386 494.4 351 569.1 550 643.8 528 718.5 511 793.2 592 868 441 942.7 393 1017.4 556 1092.1 645 1166.8 785 1241.6 885 1316.3 767 1391 763 1465.7 633 1540.4 676 1615.2 706 1689.9 583 1764.6 637 1839.3 662 1914 584 1988.8 337 2063.5 528"/>
<path class="ca" d="M344.9 434 419.6 460 494.4 428 569.1 452 643.8 527 718.5 445 793.2 412 868 381 942.7 430 1017.4 511 1092.1 733 1166.8 812 1241.6 871 1316.3 758 1391 774 1465.7 643 1540.4 735 1615.2 792 1689.9 704 1764.6 757 1839.3 695 1914 586 1988.8 534 2063.5 474"/>
<path class="cb" d="M344.9 407 419.6 582 494.4 392 569.1 308 643.8 560 718.5 358 793.2 491 868 461 942.7 501 1017.4 551 1092.1 732 1166.8 893 1241.6 857 1316.3 800 1391 735 1465.7 754 1540.4 576 1615.2 708 1689.9 665 1764.6 602 1839.3 680 1914 633 1988.8 524 2063.5 395"/>
<path class="cc" d="M344.9 411 419.6 484 494.4 428 569.1 363 643.8 447 718.5 409 793.2 593 868 272 942.7 491 1017.4 576 1092.1 738 1166.8 738 1241.6 901 1316.3 832 1391 691 1465.7 741 1540.4 585 1615.2 773 1689.9 704 1764.6 695 1839.3 739 1914 641 1988.8 557 2063.5 497"/>
<path class="cd" d="M344.9 431 419.6 455 494.4 537 569.1 392 643.8 388 718.5 370 793.2 383 868 290 942.7 469 1017.4 575 1092.1 763 1166.8 769 1241.6 780 1316.3 847 1391 650 1465.7 761 1540.4 568 1615.2 733 1689.9 625 1764.6 527 1839.3 750 1914 623 1988.8 418 2063.5 410"/>
<path class="ce" d="M344.9 422 419.6 345 494.4 343 569.1 551 643.8 353 718.5 597 793.2 409 868 463 942.7 445 1017.4 627 1092.1 681 1166.8 785 1241.6 826 1316.3 823 1391 724 1465.7 729 1540.4 614 1615.2 725 1689.9 579 1764.6 687 1839.3 676 1914 672 1988.8 484 2063.5 409"/>
<path class="cf" d="M344.9 523 419.6 498 494.4 548 569.1 411 643.8 319 718.5 549 793.2 450 868 328 942.7 345 1017.4 459 1092.1 811 1166.8 774 1241.6 841 1316.3 840 1391 756 1465.7 811 1540.4 621 1615.2 719 1689.9 677 1764.6 593 1839.3 702 1914 635 1988.8 403 2063.5 328"/>
<path class="cg" d="M344.9 381 419.6 427 494.4 431 569.1 375 643.8 572 718.5 545 793.2 457 868 397 942.7 419 1017.4 515 1092.1 659 1166.8 871 1241.6 871 1316.3 827 1391 757 1465.7 748 1540.4 678 1615.2 654 1689.9 629 1764.6 658 1839.3 747 1914 713 1988.8 486 2063.5 267"/>
<path class="ch" d="M344.9 314 419.6 509 494.4 202 569.1 447 643.8 548 718.5 573 793.2 365 868 526 942.7 305 1017.4 652 1092.1 656 1166.8 757 1241.6 846 1316.3 786 1391 704 1465.7 722 1540.4 625 1615.2 724 1689.9 750 1764.6 712 1839.3 707 1914 598 1988.8 527 2063.5 462"/>
<path class="ci" d="M344.9 314 419.6 508 494.4 479 569.1 349 643.8 647 718.5 376 793.2 436 868 388 942.7 336 1017.4 574 1092.1 723 1166.8 771 1241.6 853 1316.3 731 1391 686 1465.7 691 1540.4 722 1615.2 804 1689.9 675 1764.6 584 1839.3 871 1914 666 1988.8 596 2063.5 468"/>
<path class="cj" d="M344.9 468 419.6 460 494.4 627 569.1 548 643.8 475 718.5 582 793.2 351 868 550 942.7 517 1017.4 615 1092.1 752 1166.8 848 1241.6 860 1316.3 817 1391 727 1465.7 677 1540.4 706 1615.2 872 1689.9 648 1764.6 610 1839.3 695 1914 604 1988.8 533 2063.5 493"/>
<path class="ck" d="M344.9 368 419.6 391 494.4 415 569.1 526 643.8 494 718.5 483 793.2 409 868 290 942.7 569 1017.4 625 1092.1 780 1166.8 792 1241.6 782 1316.3 826 1391 713 1465.7 701 1540.4 673 1615.2 680 1689.9 550 1764.6 632 1839.3 644 1914 464 1988.8 545 2063.5 326"/>
<path class="cl" d="M344.9 326 419.6 557 494.4 547 569.1 536 643.8 630 718.5 502 793.2 435 868 505 942.7 443 1017.4 504 1092.1 782 1166.8 806 1241.6 918 1316.3 889 1391 736 1465.7 720 1540.4 658 1615.2 727 1689.9 610 1764.6 656 1839.3 653 1914 575 1988.8 574 2063.5 463"/>
<path class="ca" d="M344.9 255 419.6 322 494.4 315 569.1 512 643.8 435 718.5 370 793.2 438 868 406 942.7 396 1017.4 533 1092.1 751 1166.8 783 1241.6 814 1316.3 792 1391 710 1465.7 749 1540.4 659 1615.2 788 1689.9 639 1764.6 753 1839.3 678 1914 664 1988.8 417 2063.5 390"/>
<path class="cb" d="M344.9 494 419.6 660 494.4 482 569.1 534 643.8 458 718.5 559 793.2 422 868 375 942.7 389 1017.4 484 1092.1 762 1166.8 775 1241.6 849 1316.3 803 1391 592 1465.7 779 1540.4 683 1615.2 686 1689.9 643 1764.6 630 1839.3 687 1914 816 1988.8 534 2063.5 465"/>
<path class="cc" d="M344.9 410 419.6 528 494.4 321 569.1 483 643.8 489 718.5 404 793.2 253 868 531 942.7 339 1017.4 636 1092.1 738 1166.8 766 1241.6 862 1316.3 705 1391 658 1465.7 701 1540.4 660 1615.2 784 1689.9 655 1764.6 682 1839.3 642 1914 669 1988.8 458 2063.5 487"/>
<path class="cd" d="M344.9 532 419.6 482 494.4 290 569.1 450 643.8 521 718.5 516 793.2 262 868 460 942.7 332 1017.4 630 1092.1 701 1166.8 781 1241.6 757 1316.3 712 1391 730 1465.7 736 1540.4 559 1615.2 735 1689.9 646 1764.6 674 1839.3 746 1914 637 1988.8 468 2063.5 460"/>
<path class="ce" d="M344.9 277 419.6 473 494.4 326 569.1 473 643.8 516 718.5 553 793.2 421 868 349 942.7 459 1017.4 642 1092.1 736 1166.8 754 1241.6 837 1316.3 823 1391 769 1465.7 692 1540.4 687 1615.2 806 1689.9 705 1764.6 665 1839.3 681 1914 649 1988.8 497 2063.5 477"/>
<path class="cf" d="M344.9 371 419.6 409 494.4 576 569.1 363 643.8 605 718.5 584 793.2 515 868 355 942.7 358 1017.4 710 1092.1 680 1166.8 790 1241.6 849 1316.3 765 1391 792 1465.7 888 1540.4 704 1615.2 702 1689.9 746 1764.6 664 1839.3 709 1914 607 1988.8 613 2063.5 451"/>
<path class="cg" d="M344.9 309 419.6 387 494.4 548 569.1 462 643.8 626 718.5 358 793.2 464 868 283 942.7 464 1017.4 596 1092.1 749 1166.8 839 1241.6 848 1316.3 709 1391 731 1465.7 699 1540.4 679 1615.2 674 1689.9 552 1764.6 625 1839.3 712 1914 677 1988.8 551 2063.5 384"/>
<path class="ch" d="M344.9 328 419.6 426 494.4 468 569.1 338 643.8 580 718.5 456 793.2 284 868 537 942.7 383 1017.4 523 1092.1 772 1166.8 787 1241.6 817 1316.3 797 1391 786 1465.7 704 1540.4 668 1615.2 748 1689.9 680 1764.6 660 1839.3 788 1914 713 1988.8 365 2063.5 300"/>
<path class="ci" d="M344.9 492 419.6 434 494.4 414 569.1 474 643.8 477 718.5 549 793.2 324 868 530 942.7 422 1017.4 500 1092.1 698 1166.8 850 1241.6 805 1316.3 741 1391 619 1465.7 802 1540.4 636 1615.2 674 1689.9 616 1764.6 618 1839.3 682 1914 656 1988.8 437 2063.5 291"/>
<path class="cj" d="M344.9 336 419.6 454 494.4 387 569.1 518 643.8 424 718.5 527 793.2 342 868 444 942.7 443 1017.4 535 1092.1 646 1166.8 786 1241.6 838 1316.3 806 1391 818 1465.7 725 1540.4 696 1615.2 763 1689.9 675 1764.6 753 1839.3 756 1914 660 1988.8 473 2063.5 322"/>
<path class="ck" d="M344.9 335 419.6 375 494.4 338 569.1 578 643.8 438 718.5 507 793.2 247 868 363 942.7 409 1017.4 629 1092.1 658 1166.8 816 1241.6 854 1316.3 863 1391 699 1465.7 717 1540.4 769 1615.2 794 1689.9 623 1764.6 618 1839.3 667 1914 687 1988.8 432 2063.5 528"/>
<path class="cl" d="M344.9 340 419.6 380 494.4 461 569.1 475 643.8 392 718.5 535 793.2 213 868 334 942.7 601 1017.4 453 1092.1 584 1166.8 854 1241.6 786 1316.3 798 1391 719 1465.7 757 1540.4 654 1615.2 794 1689.9 617 1764.6 657 1839.3 756 1914 643 1988.8 447 2063.5 457"/>
<path class="ca" d="M344.9 281 419.6 285 494.4 349 569.1 555 643.8 491 718.5 492 793.2 319 868 386 942.7 389 1017.4 624 1092.1 765 1166.8 731 1241.6 880 1316.3 747 1391 704 1465.7 669 1540.4 673 1615.2 781 1689.9 596 1764.6 633 1839.3 730 1914 741 1988.8 506 2063.5 357"/>
<path class="cb" d="M344.9 284 419.6 460 494.4 556 569.1 516 643.8 656 718.5 517 793.2 265 868 389 942.7 524 1017.4 610 1092.1 641 1166.8 751 1241.6 843 1316.3 720 1391 669 1465.7 828 1540.4 725 1615.2 770 1689.9 730 1764.6 686 1839.3 710 1914 711 1988.8 545 2063.5 439"/>
<path class="cc" d="M344.9 448 419.6 476 494.4 422 569.1 544 643.8 589 718.5 513 793.2 488 868 285 942.7 340 1017.4 543 1092.1 786 1166.8 824 1241.6 846 1316.3 781 1391 744 1465.7 672 1540.4 589 1615.2 722 1689.9 677 1764.6 607 1839.3 693 1914 692 1988.8 660 2063.5 499"/>
<path class="cd" d="M344.9 492 419.6 413 494.4 456 569.1 537 643.8 518 718.5 513 793.2 577 868 391 942.7 611 1017.4 619 1092.1 716 1166.8 700 1241.6 782 1316.3 782 1391 771 1465.7 615 1540.4 654 1615.2 737 1689.9 686 1764.6 609 1839.3 706 1914 690 1988.8 392 2063.5 518"/>
<path class="ce" d="M344.9 317 419.6 573 494.4 451 569.1 539 643.8 579 718.5 569 793.2 614 868 451 942.7 527 1017.4 561 1092.1 762 1166.8 801 1241.6 872 1316.3 826 1391 846 1465.7 618 1540.4 632 1615.2 760 1689.9 679 1764.6 630 1839.3 653 1914 685 1988.8 383 2063.5 401"/>
<path class="cf" d="M344.9 270 419.6 488 494.4 593 569.1 535 643.8 601 718.5 439 793.2 531 868 462 942.7 474 1017.4 518 1092.1 720 1166.8 762 1241.6 855 1316.3 758 1391 757 1465.7 644 1540.4 641 1615.2 770 1689.9 738 1764.6 684 1839.3 778 1914 657 1988.8 468 2063.5 496"/>
<path class="cg" d="M344.9 428 419.6 472 494.4 345 569.1 361 643.8 408 718.5 432 793.2 442 868 237 942.7 471 1017.4 634 1092.1 583 1166.8 803 1241.6 883 1316.3 871 1391 721 1465.7 689 1540.4 647 1615.2 723 1689.9 666 1764.6 586 1839.3 701 1914 698 1988.8 441 2063.5 434"/>
<path class="ch" d="M344.9 564 419.6 377 494.4 390 569.1 347 643.8 594 718.5 564 793.2 381 868 262 942.7 471 1017.4 573 1092.1 713 1166.8 692 1241.6 889 1316.3 819 1391 734 1465.7 548 1540.4 586 1615.2 781 1689.9 554 1764.6 699 1839.3 738 1914 627 1988.8 406 2063.5 393"/>
<path class="ci" d="M344.9 350 419.6 414 494.4 485 569.1 528 643.8 600 718.5 542 793.2 389 868 368 942.7 490 1017.4 480 1092.1 613 1166.8 792 1241.6 861 1316.3 777 1391 623 1465.7 750 1540.4 646 1615.2 672 1689.9 623 1764.6 609 1839.3 772 1914 627 1988.8 569 2063.5 379"/>
<path class="cj" d="M344.9 256 419.6 452 494.4 441 569.1 523 643.8 412 718.5 360 793.2 297 868 462 942.7 436 1017.4 637 1092.1 717 1166.8 704 1241.6 836 1316.3 738 1391 691 1465.7 632 1540.4 640 1615.2 816 1689.9 734 1764.6 682 1839.3 697 1914 645 1988.8 523 2063.5 563"/>
<path class="ck" d="M344.9 384 419.6 462 494.4 397 569.1 335 643.8 392 718.5 508 793.2 349 868 377 942.7 441 1017.4 617 1092.1 772 1166.8 738 1241.6 847 1316.3 876 1391 692 1465.7 623 1540.4 706 1615.2 658 1689.9 665 1764.6 684 1839.3 702 1914 611 1988.8 504 2063.5 344"/>
<path class="cl" d="M344.9 285 419.6 450 494.4 437 569.1 480 643.8 330 718.5 345 793.2 334 868 296 942.7 324 1017.4 508 1092.1 721 1166.8 691 1241.6 833 1316.3 833 1391 788 1465.7 745 1540.4 762 1615.2 689 1689.9 632 1764.6 583 1839.3 755 1914 734 1988.8 352 2063.5 522"/>
<path class="ca" d="M344.9 329 419.6 446 494.4 353 569.1 368 643.8 373 718.5 588 793.2 438 868 542 942.7 511 1017.4 392 1092.1 829 1166.8 801 1241.6 784 1316.3 786 1391 697 1465.7 690 1540.4 781 1615.2 756 1689.9 655 1764.6 754 1839.3 764 1914 663 1988.8 434 2063.5 523"/>
<path class="cb" d="M344.9 299 419.6 424 494.4 297 569.1 653 643.8 510 718.5 443 793.2 418 868 528 942.7 352 1017.4 538 1092.1 675 1166.8 852 1241.6 858 1316.3 793 1391 797 1465.7 692 1540.4 637 1615.2 775 1689.9 628 1764.6 699 1839.3 810 1914 615 1988.8 518 2063.5 422"/>
<path class="cc" d="M344.9 414 419.6 645 494.4 377 569.1 248 643.8 473 718.5 421 793.2 354 868 342 942.7 365 1017.4 606 1092.1 746 1166.8 778 1241.6 882 1316.3 746 1391 771 1465.7 802 1540.4 660 1615.2 734 1689.9 622 1764.6 666 1839.3 716 1914 650 1988.8 516 2063.5 457"/>
<path class="cd" d="M344.9 287 419.6 525 494.4 491 569.1 400 643.8 470 718.5 424 793.2 433 868 365 942.7 486 1017.4 502 1092.1 696 1166.8 729 1241.6 832 1316.3 764 1391 735 1465.7 774 1540.4 607 1615.2 797 1689.9 650 1764.6 733 1839.3 691 1914 656 1988.8 445 2063.5 450"/>
<path class="ce" d="M344.9 252 419.6 481 494.4 559 569.1 475 643.8 473 718.5 341 793.2 367 868 360 942.7 381 1017.4 549 1092.1 721 1166.8 808 1241.6 884 1316.3 823 1391 770 1465.7 764 1540.4 618 1615.2 819 1689.9 644 1764.6 579 1839.3 795 1914 687 1988.8 652 2063.5 488"/>
<path class="cf" d="M344.9 316 419.6 424 494.4 491 569.1 475 643.8 635 718.5 537 793.2 453 868 522 942.7 516 1017.4 580 1092.1 741 1166.8 701 1241.6 793 1316.3 762 1391 691 1465.7 727 1540.4 600 1615.2 785 1689.9 553 1764.6 731 1839.3 720 1914 615 1988.8 423 2063.5 411"/>
<path class="cg" d="M344.9 505 419.6 479 494.4 368 569.1 412 643.8 416 718.5 427 793.2 393 868 474 942.7 526 1017.4 606 1092.1 632 1166.8 794 1241.6 731 1316.3 726 1391 712 1465.7 760 1540.4 658 1615.2 811 1689.9 657 1764.6 558 1839.3 673 1914 580 1988.8 637 2063.5 404"/>
<path class="ch" d="M344.9 492 419.6 444 494.4 254 569.1 472 643.8 459 718.5 600 793.2 296 868 264 942.7 359 1017.4 563 1092.1 667 1166.8 800 1241.6 782 1316.3 846 1391 691 1465.7 628 1540.4 636 1615.2 777 1689.9 644 1764.6 680 1839.3 690 1914 711 1988.8 564 2063.5 488"/>
<path class="ci" d="M344.9 412 419.6 359 494.4 606 569.1 395 643.8 556 718.5 465 793.2 252 868 357 942.7 454 1017.4 574 1092.1 689 1166.8 831 1241.6 833 1316.3 740 1391 611 1465.7 712 1540.4 583 1615.2 702 1689.9 625 1764.6 743 1839.3 785 1914 638 1988.8 531 2063.5 338"/>
<path class="cj" d="M344.9 286 419.6 552 494.4 497 569.1 474 643.8 568 718.5 525 793.2 393 868 319 942.7 405 1017.4 637 1092.1 606 1166.8 691 1241.6 814 1316.3 762 1391 665 1465.7 707 1540.4 587 1615.2 672 1689.9 707 1764.6 529 1839.3 672 1914 691 1988.8 510 2063.5 536"/>
<path class="ck" d="M344.9 399 419.6 329 494.4 597 569.1 628 643.8 514 718.5 545 793.2 472 868 359 942.7 423 1017.4 562 1092.1 766 1166.8 834 1241.6 818 1316.3 851 1391 777 1465.7 731 1540.4 689 1615.2 717 1689.9 635 1764.6 681 1839.3 680 1914 562 1988.8 589 2063.5 380"/>
<path class="cl" d="M344.9 322 419.6 556 494.4 519 569.1 557 643.8 451 718.5 342 793.2 283 868 389 942.7 406 1017.4 509 1092.1 709 1166.8 841 1241.6 860 1316.3 716 1391 633 1465.7 643 1540.4 674 1615.2 721 1689.9 598 1764.6 540 1839.3 746 1914 581 1988.8 487 2063.5 449"/>
<path class="ca" d="M344.9 259 419.6 366 494.4 431 569.1 411 643.8 498 718.5 345 793.2 502 868 375 942.7 212 1017.4 551 1092.1 725 1166.8 905 1241.6 894 1316.3 875 1391 669 1465.7 754 1540.4 731 1615.2 714 1689.9 772 1764.6 729 1839.3 736 1914 565 1988.8 536 2063.5 484"/>
<path class="cb" d="M344.9 598 419.6 343 494.4 503 569.1 441 643.8 526 718.5 375 793.2 373 868 469 942.7 478 1017.4 622 1092.1 733 1166.8 831 1241.6 847 1316.3 722 1391 805 1465.7 749 1540.4 772 1615.2 782 1689.9 664 1764.6 638 1839.3 692 1914 655 1988.8 526 2063.5 445"/>
<path class="cc" d="M344.9 410 419.6 280 494.4 509 569.1 362 643.8 373 718.5 427 793.2 428 868 578 942.7 532 1017.4 632 1092.1 713 1166.8 773 1241.6 749 1316.3 759 1391 743 1465.7 741 1540.4 675 1615.2 677 1689.9 694 1764.6 662 1839.3 698 1914 760 1988.8 598 2063.5 620"/>
<path class="cd" d="M344.9 583 419.6 490 494.4 456 569.1 504 643.8 334 718.5 518 793.2 435 868 441 942.7 334 1017.4 526 1092.1 664 1166.8 827 1241.6 861 1316.3 737 1391 642 1465.7 714 1540.4 583 1615.2 730 1689.9 717 1764.6 698 1839.3 752 1914 673 1988.8 368 2063.5 624"/>
<path class="ce" d="M344.9 308 419.6 242 494.4 343 569.1 534 643.8 410 718.5 542 793.2 511 868 441 942.7 533 1017.4 565 1092.1 681 1166.8 768 1241.6 890 1316.3 719 1391 694 1465.7 704 1540.4 756 1615.2 739 1689.9 677 1764.6 646 1839.3 755 1914 641 1988.8 657 2063.5 416"/>
<path class="cf" d="M344.9 447 419.6 410 494.4 389 569.1 602 643.8 476 718.5 405 793.2 291 868 265 942.7 424 1017.4 542 1092.1 689 1166.8 744 1241.6 753 1316.3 747 1391 725 1465.7 708 1540.4 515 1615.2 732 1689.9 674 1764.6 713 1839.3 768 1914 733 1988.8 395 2063.5 525"/>
<path class="cg" d="M344.9 608 419.6 437 494.4 566 569.1 421 643.8 590 718.5 379 793.2 479 868 352 942.7 299 1017.4 631 1092.1 644 1166.8 786 1241.6 878 1316.3 820 1391 745 1465.7 633 1540.4 639 1615.2 685 1689.9 659 1764.6 692 1839.3 732 1914 672 1988.8 406 2063.5 556"/>
<path class="ch" d="M344.9 238 419.6 498 494.4 475 569.1 369 643.8 443 718.5 417 793.2 527 868 399 942.7 493 1017.4 507 1092.1 808 1166.8 760 1241.6 847 1316.3 746 1391 721 1465.7 767 1540.4 646 1615.2 733 1689.9 580 1764.6 654 1839.3 767 1914 625 1988.8 508 2063.5 429"/>
<path class="ci" d="M344.9 571 419.6 435 494.4 285 569.1 407 643.8 533 718.5 355 793.2 522 868 267 942.7 563 1017.4 679 1092.1 682 1166.8 805 1241.6 845 1316.3 856 1391 734 1465.7 683 1540.4 626 1615.2 728 1689.9 592 1764.6 664 1839.3 715 1914 689 1988.8 446 2063.5 455"/>
<path class="cj" d="M344.9 357 419.6 426 494.4 461 569.1 388 643.8 584 718.5 542 793.2 422 868 391 942.7 453 1017.4 628 1092.1 581 1166.8 761 1241.6 854 1316.3 805 1391 687 1465.7 732 1540.4 600 1615.2 756 1689.9 661 1764.6 753 1839.3 698 1914 686 1988.8 488 2063.5 522"/>
<path class="ck" d="M344.9 350 419.6 504 494.4 446 569.1 615 643.8 525 718.5 514 793.2 439 868 602 942.7 452 1017.4 657 1092.1 699 1166.8 798 1241.6 829 1316.3 841 1391 689 1465.7 647 1540.4 680 1615.2 740 1689.9 691 1764.6 650 1839.3 710 1914 709 1988.8 533 2063.5 503"/>
<path class="cl" d="M344.9 240 419.6 499 494.4 453 569.1 513 643.8 494 718.5 371 793.2 444 868 363 942.7 623 1017.4 673 1092.1 684 1166.8 738 1241.6 900 1316.3 717 1391 664 1465.7 679 1540.4 607 1615.2 698 1689.9 634 1764.6 640 1839.3 625 1914 729 1988.8 439 2063.5 322"/>
<path class="ca" d="M344.9 344 419.6 361 494.4 494 569.1 295 643.8 528 718.5 597 793.2 399 868 421 942.7 382 1017.4 580 1092.1 764 1166.8 807 1241.6 844 1316.3 776 1391 686 1465.7 676 1540.4 604 1615.2 784 1689.9 653 1764.6 775 1839.3 641 1914 732 1988.8 482 2063.5 479"/>
<path class="cb" d="M344.9 385 419.6 646 494.4 452 569.1 378 643.8 460 718.5 334 793.2 390 868 436 942.7 315 1017.4 577 1092.1 683 1166.8 834 1241.6 789 1316.3 774 1391 768 1465.7 721 1540.4 681 1615.2 751 1689.9 569 1764.6 711 1839.3 708 1914 583 1988.8 476 2063.5 303"/>
<path class="cc" d="M344.9 456 419.6 372 494.4 346 569.1 380 643.8 503 718.5 426 793.2 289 868 471 942.7 455 1017.4 561 1092.1 708 1166.8 750 1241.6 783 1316.3 780 1391 673 1465.7 762 1540.4 691 1615.2 853 1689.9 644 1764.6 634 1839.3 729 1914 753 1988.8 502 2063.5 433"/>
<path class="cd" d="M344.9 269 419.6 541 494.4 451 569.1 505 643.8 570 718.5 467 793.2 312 868 447 942.7 373 1017.4 540 1092.1 708 1166.8 869 1241.6 757 1316.3 763 1391 662 1465.7 737 1540.4 685 1615.2 749 1689.9 622 1764.6 789 1839.3 723 1914 688 1988.8 489 2063.5 593"/>
<path class="ce" d="M344.9 387 419.6 586 494.4 556 569.1 292 643.8 436 718.5 509 793.2 465 868 462 942.7 435 1017.4 506 1092.1 703 1166.8 779 1241.6 843 1316.3 838 1391 725 1465.7 674 1540.4 535 1615.2 746 1689.9 664 1764.6 589 1839.3 682 1914 592 1988.8 361 2063.5 246"/>
<path class="cf" d="M344.9 179 419.6 221 494.4 462 569.1 446 643.8 576 718.5 435 793.2 307 868 358 942.7 542 1017.4 494 1092.1 753 1166.8 820 1241.6 764 1316.3 861 1391 777 1465.7 708 1540.4 664 1615.2 813 1689.9 579 1764.6 692 1839.3 700 1914 716 1988.8 433 2063.5 597"/>
<path class="cg" d="M344.9 433 419.6 470 494.4 424 569.1 280 643.8 598 718.5 602 793.2 507 868 379 942.7 572 1017.4 430 1092.1 684 1166.8 855 1241.6 820 1316.3 808 1391 766 1465.7 606 1540.4 555 1615.2 796 1689.9 822 1764.6 564 1839.3 620 1914 585 1988.8 538 2063.5 501"/>
<path class="ch" d="M344.9 185 419.6 437 494.4 560 569.1 476 643.8 413 718.5 510 793.2 533 868 439 942.7 386 1017.4 528 1092.1 636 1166.8 832 1241.6 809 1316.3 830 1391 724 1465.7 648 1540.4 670 1615.2 717 1689.9 686 1764.6 669 1839.3 676 1914 661 1988.8 616 2063.5 528"/>
<path class="ci" d="M344.9 482 419.6 381 494.4 385 569.1 463 643.8 482 718.5 325 793.2 652 868 392 942.7 391 1017.4 730 1092.1 820 1166.8 848 1241.6 819 1316.3 803 1391 727 1465.7 700 1540.4 648 1615.2 787 1689.9 815 1764.6 653 1839.3 791 1914 707 1988.8 484 2063.5 409"/>
<path class="cj" d="M344.9 341 419.6 360 494.4 563 569.1 440 643.8 479 718.5 420 793.2 433 868 459 942.7 407 1017.4 609 1092.1 704 1166.8 799 1241.6 906 1316.3 697 1391 779 1465.7 727 1540.4 618 1615.2 675 1689.9 633 1764.6 732 1839.3 776 1914 748 1988.8 601 2063.5 311"/>
<path class="ck" d="M344.9 285 419.6 335 494.4 535 569.1 447 643.8 340 718.5 388 793.2 492 868 328 942.7 323 1017.4 568 1092.1 741 1166.8 771 1241.6 849 1316.3 797 1391 756 1465.7 707 1540.4 712 1615.2 713 1689.9 737 1764.6 665 1839.3 731 1914 735 1988.8 443 2063.5 477"/>
<path class="cl" d="M344.9 305 419.6 627 494.4 624 569.1 397 643.8 427 718.5 454 793.2 425 868 249 942.7 296 1017.4 512 1092.1 625 1166.8 777 1241.6 784 1316.3 833 1391 744 1465.7 654 1540.4 693 1615.2 773 1689.9 563 1764.6 674 1839.3 693 1914 592 1988.8 550 2063.5 479"/>
<path class="ca" d="M344.9 494 419.6 365 494.4 438 569.1 362 643.8 447 718.5 414 793.2 452 868 497 942.7 447 1017.4 648 1092.1 675 1166.8 892 1241.6 906 1316.3 800 1391 839 1465.7 652 1540.4 663 1615.2 776 1689.9 747 1764.6 640 1839.3 704 1914 646 1988.8 475 2063.5 576"/>
<path class="cb" d="M344.9 343 419.6 492 494.4 447 569.1 467 643.8 470 718.5 388 793.2 289 868 324 942.7 360 1017.4 473 1092.1 607 1166.8 870 1241.6 869 1316.3 737 1391 694 1465.7 691 1540.4 696 1615.2 773 1689.9 618 1764.6 629 1839.3 684 1914 610 1988.8 513 2063.5 407"/>
<path class="cc" d="M344.9 237 419.6 430 494.4 448 569.1 561 643.8 456 718.5 397 793.2 325 868 218 942.7 364 1017.4 633 1092.1 709 1166.8 808 1241.6 864 1316.3 683 1391 773 1465.7 753 1540.4 648 1615.2 753 1689.9 725 1764.6 623 1839.3 707 1914 648 1988.8 514 2063.5 497"/>
<path class="cd" d="M344.9 343 419.6 474 494.4 306 569.1 395 643.8 514 718.5 477 793.2 346 868 377 942.7 375 1017.4 573 1092.1 754 1166.8 692 1241.6 816 1316.3 760 1391 790 1465.7 729 1540.4 634 1615.2 764 1689.9 654 1764.6 610 1839.3 643 1914 648 1988.8 382 2063.5 439"/>
<path class="ce" d="M344.9 274 419.6 412 494.4 427 569.1 458 643.8 634 718.5 538 793.2 411 868 412 942.7 485 1017.4 603 1092.1 722 1166.8 752 1241.6 906 1316.3 770 1391 866 1465.7 727 1540.4 616 1615.2 821 1689.9 614 1764.6 709 1839.3 704 1914 658 1988.8 525 2063.5 447"/>
<path class="cf" d="M344.9 460 419.6 445 494.4 497 569.1 325 643.8 591 718.5 504 793.2 278 868 404 942.7 251 1017.4 536 1092.1 645 1166.8 699 1241.6 819 1316.3 820 1391 761 1465.7 698 1540.4 587 1615.2 679 1689.9 666 1764.6 640 1839.3 658 1914 635 1988.8 434 2063.5 260"/>
<path class="cg" d="M344.9 185 419.6 460 494.4 410 569.1 550 643.8 475 718.5 365 793.2 390 868 482 942.7 474 1017.4 593 1092.1 821 1166.8 804 1241.6 840 1316.3 771 1391 643 1465.7 743 1540.4 665 1615.2 758 1689.9 646 1764.6 718 1839.3 703 1914 641 1988.8 610 2063.5 481"/>
<path class="ch" d="M344.9 347 419.6 367 494.4 536 569.1 527 643.8 486 718.5 393 793.2 322 868 279 942.7 266 1017.4 643 1092.1 694 1166.8 833 1241.6 807 1316.3 805 1391 779 1465.7 791 1540.4 560 1615.2 747 1689.9 684 1764.6 625 1839.3 625 1914 696 1988.8 463 2063.5 335"/>
<path class="ci" d="M344.9 345 419.6 377 494.4 470 569.1 357 643.8 455 718.5 501 793.2 327 868 426 942.7 307 1017.4 625 1092.1 767 1166.8 764 1241.6 822 1316.3 792 1391 741 1465.7 615 1540.4 729 1615.2 709 1689.9 662 1764.6 640 1839.3 664 1914 681 1988.8 414 2063.5 498"/>
<path class="cj" d="M344.9 367 419.6 531 494.4 580 569.1 445 643.8 476 718.5 497 793.2 521 868 339 942.7 387 1017.4 655 1092.1 765 1166.8 748 1241.6 887 1316.3 819 1391 706 1465.7 652 1540.4 802 1615.2 718 1689.9 577 1764.6 605 1839.3 667 1914 636 1988.8 501 2063.5 407"/>
<path class="ck" d="M344.9 293 419.6 528 494.4 438 569.1 457 643.8 492 718.5 455 793.2 509 868 382 942.7 473 1017.4 486 1092.1 754 1166.8 676 1241.6 883 1316.3 778 1391 741 1465.7 656 1540.4 720 1615.2 748 1689.9 715 1764.6 691 1839.3 677 1914 743 1988.8 484 2063.5 386"/>
<path class="cl" d="M344.9 274 419.6 570 494.4 540 569.1 390 643.8 459 718.5 553 793.2 327 868 335 942.7 293 1017.4 628 1092.1 646 1166.8 862 1241.6 767 1316.3 865 1391 713 1465.7 714 1540.4 650 1615.2 775 1689.9 663 1764.6 724 1839.3 713 1914 719 1988.8 610 2063.5 490"/>
<path class="ca" d="M344.9 426 419.6 477 494.4 507 569.1 528 643.8 485 718.5 400 793.2 553 868 457 942.7 492 1017.4 564 1092.1 751 1166.8 895 1241.6 829 1316.3 821 1391 786 1465.7 716 1540.4 568 1615.2 763 1689.9 744 1764.6 643 1839.3 622 1914 748 1988.8 643 2063.5 617"/>
<path class="cb" d="M344.9 413 419.6 559 494.4 389 569.1 489 643.8 359 718.5 440 793.2 311 868 322 942.7 354 1017.4 519 1092.1 602 1166.8 781 1241.6 792 1316.3 826 1391 760 1465.7 727 1540.4 650 1615.2 764 1689.9 777 1764.6 621 1839.3 700 1914 707 1988.8 405 2063.5 431"/>
<path class="cc" d="M344.9 285 419.6 557 494.4 393 569.1 508 643.8 581 718.5 483 793.2 474 868 493 942.7 314 1017.4 707 1092.1 703 1166.8 805 1241.6 720 1316.3 758 1391 762 1465.7 715 1540.4 688 1615.2 774 1689.9 663 1764.6 582 1839.3 705 1914 536 1988.8 391 2063.5 428"/>
<path class="cd" d="M344.9 441 419.6 376 494.4 584 569.1 460 643.8 474 718.5 511 793.2 389 868 430 942.7 528 1017.4 510 1092.1 596 1166.8 742 1241.6 848 1316.3 821 1391 795 1465.7 674 1540.4 570 1615.2 702 1689.9 708 1764.6 674 1839.3 801 1914 651 1988.8 483 2063.5 392"/>
<path class="ce" d="M344.9 267 419.6 513 494.4 515 569.1 457 643.8 453 718.5 379 793.2 333 868 474 942.7 536 1017.4 468 1092.1 760 1166.8 810 1241.6 909 1316.3 730 1391 654 1465.7 652 1540.4 635 1615.2 749 1689.9 625 1764.6 702 1839.3 784 1914 739 1988.8 461 2063.5 553"/>
<path class="cf" d="M344.9 246 419.6 419 494.4 355 569.1 443 643.8 580 718.5 509 793.2 405 868 415 942.7 436 1017.4 574 1092.1 730 1166.8 784 1241.6 856 1316.3 706 1391 774 1465.7 708 1540.4 643 1615.2 817 1689.9 650 1764.6 773 1839.3 679 1914 779 1988.8 429 2063.5 523"/>
<path class="cg" d="M344.9 301 419.6 273 494.4 429 569.1 328 643.8 517 718.5 403 793.2 499 868 445 942.7 416 1017.4 474 1092.1 711 1166.8 797 1241.6 784 1316.3 831 1391 760 1465.7 649 1540.4 758 1615.2 651 1689.9 645 1764.6 779 1839.3 777 1914 670 1988.8 478 2063.5 363"/>
<path class="ch" d="M344.9 479 419.6 415 494.4 453 569.1 454 643.8 555 718.5 440 793.2 467 868 339 942.7 389 1017.4 507 1092.1 801 1166.8 777 1241.6 804 1316.3 833 1391 630 1465.7 694 1540.4 653 1615.2 715 1689.9 712 1764.6 700 1839.3 708 1914 707 1988.8 540 2063.5 364"/>
<path class="ci" d="M344.9 254 419.6 408 494.4 396 569.1 356 643.8 402 718.5 537 793.2 334 868 514 942.7 347 1017.4 464 1092.1 728 1166.8 721 1241.6 814 1316.3 852 1391 658 1465.7 697 1540.4 712 1615.2 770 1689.9 598 1764.6 630 1839.3 685 1914 637 1988.8 522 2063.5 567"/>
<path class="cj" d="M344.9 359 419.6 420 494.4 368 569.1 498 643.8 486 718.5 564 793.2 439 868 419 942.7 387 1017.4 557 1092.1 690 1166.8 782 1241.6 851 1316.3 799 1391 671 1465.7 803 1540.4 686 1615.2 725 1689.9 578 1764.6 634 1839.3 705 1914 667 1988.8 599 2063.5 538"/>
<path class="ck" d="M344.9 376 419.6 452 494.4 469 569.1 433 643.8 491 718.5 512 793.2 295 868 505 942.7 379 1017.4 502 1092.1 623 1166.8 673 1241.6 842 1316.3 834 1391 679 1465.7 628 1540.4 609 1615.2 764 1689.9 667 1764.6 616 1839.3 667 1914 634 1988.8 497 2063.5 333"/>
<path class="cl" d="M344.9 337 419.6 652 494.4 491 569.1 488 643.8 523 718.5 479 793.2 456 868 456 942.7 461 1017.4 677 1092.1 743 1166.8 821 1241.6 833 1316.3 839 1391 728 1465.7 717 1540.4 745 1615.2 686 1689.9 688 1764.6 663 1839.3 673 1914 662 1988.8 496 2063.5 550"/>
<path class="ca" d="M344.9 400 419.6 509 494.4 547 569.1 532 643.8 552 718.5 514 793.2 316 868 392 942.7 554 1017.4 517 1092.1 639 1166.8 737 1241.6 890 1316.3 839 1391 764 1465.7 683 1540.4 730 1615.2 754 1689.9 726 1764.6 562 1839.3 772 1914 621 1988.8 664 2063.5 618"/>
<path class="cb" d="M344.9 298 419.6 395 494.4 522 569.1 561 643.8 490 718.5 415 793.2 447 868 495 942.7 364 1017.4 544 1092.1 687 1166.8 741 1241.6 815 1316.3 696 1391 719 1465.7 677 1540.4 581 1615.2 766 1689.9 672 1764.6 638 1839.3 664 1914 587 1988.8 466 2063.5 435"/>
<path class="cc" d="M344.9 349 419.6 408 494.4 309 569.1 602 643.8 610 718.5 437 793.2 498 868 345 942.7 415 1017.4 582 1092.1 725 1166.8 772 1241.6 825 1316.3 698 1391 750 1465.7 700 1540.4 570 1615.2 700 1689.9 702 1764.6 681 1839.3 705 1914 695 1988.8 494 2063.5 474"/>
<path class="cd" d="M344.9 344 419.6 511 494.4 461 569.1 434 643.8 441 718.5 406 793.2 254 868 551 942.7 320 1017.4 517 1092.1 793 1166.8 759 1241.6 823 1316.3 769 1391 663 1465.7 719 1540.4 677 1615.2 735 1689.9 680 1764.6 589 1839.3 689 1914 669 1988.8 572 2063.5 616"/>
<path class="ce" d="M344.9 307 419.6 448 494.4 449 569.1 270 643.8 339 718.5 532 793.2 421 868 514 942.7 370 1017.4 586 1092.1 714 1166.8 842 1241.6 789 1316.3 890 1391 786 1465.7 703 1540.4 758 1615.2 726 1689.9 618 1764.6 592 1839.3 764 1914 690 1988.8 436 2063.5 510"/>
<path class="cf" d="M344.9 417 419.6 429 494.4 581 569.1 507 643.8 570 718.5 378 793.2 339 868 352 942.7 468 1017.4 529 1092.1 613 1166.8 746 1241.6 858 1316.3 822 1391 676 1465.7 716 1540.4 749 1615.2 744 1689.9 592 1764.6 656 1839.3 667 1914 530 1988.8 457 2063.5 366"/>
<path class="cg" d="M344.9 258 419.6 494 494.4 534 569.1 479 643.8 636 718.5 550 793.2 422 868 333 942.7 626 1017.4 524 1092.1 741 1166.8 757 1241.6 814 1316.3 708 1391 717 1465.7 628 1540.4 608 1615.2 728 1689.9 709 1764.6 645 1839.3 698 1914 603 1988.8 466 2063.5 301"/>
<path class="ch" d="M344.9 319 419.6 491 494.4 385 569.1 484 643.8 620 718.5 472 793.2 354 868 493 942.7 440 1017.4 691 1092.1 703 1166.8 807 1241.6 928 1316.3 842 1391 734 1465.7 758 1540.4 648 1615.2 758 1689.9 621 1764.6 596 1839.3 756 1914 638 1988.8 533 2063.5 524"/>
<path class="ci" d="M344.9 536 419.6 473 494.4 495 569.1 419 643.8 586 718.5 451 793.2 428 868 368 942.7 433 1017.4 537 1092.1 566 1166.8 746 1241.6 811 1316.3 794 1391 750 1465.7 736 1540.4 714 1615.2 741 1689.9 551 1764.6 656 1839.3 690 1914 659 1988.8 450 2063.5 555"/>
<path class="cj" d="M344.9 389 419.6 413 494.4 432 569.1 463 643.8 429 718.5 428 793.2 409 868 470 942.7 392 1017.4 560 1092.1 741 1166.8 846 1241.6 874 1316.3 751 1391 715 1465.7 675 1540.4 622 1615.2 805 1689.9 637 1764.6 582 1839.3 667 1914 749 1988.8 427 2063.5 446"/>
<path class="ck" d="M344.9 464 419.6 515 494.4 480 569.1 411 643.8 412 718.5 336 793.2 304 868 155 942.7 332 1017.4 562 1092.1 745 1166.8 795 1241.6 820 1316.3 797 1391 616 1465.7 772 1540.4 668 1615.2 633 1689.9 618 1764.6 692 1839.3 696 1914 637 1988.8 579 2063.5 529"/>
<path class="cl" d="M344.9 306 419.6 352 494.4 490 569.1 592 643.8 678 718.5 588 793.2 342 868 461 942.7 423 1017.4 601 1092.1 651 1166.8 876 1241.6 795 1316.3 725 1391 763 1465.7 756 1540.4 651 1615.2 752 1689.9 640 1764.6 611 1839.3 721 1914 674 1988.8 523 2063.5 423"/>
<path class="ca" d="M344.9 374 419.6 314 494.4 426 569.1 411 643.8 468 718.5 456 793.2 315 868 400 942.7 457 1017.4 636 1092.1 609 1166.8 874 1241.6 748 1316.3 816 1391 676 1465.7 673 1540.4 760 1615.2 769 1689.9 720 1764.6 644 1839.3 734 1914 665 1988.8 456 2063.5 406"/>
<path class="cb" d="M344.9 346 419.6 557 494.4 385 569.1 501 643.8 625 718.5 339 793.2 448 868 498 942.7 417 1017.4 581 1092.1 666 1166.8 768 1241.6 863 1316.3 868 1391 755 1465.7 780 1540.4 634 1615.2 734 1689.9 584 1764.6 580 1839.3 713 1914 578 1988.8 555 2063.5 498"/>
<path class="cc" d="M344.9 386 419.6 451 494.4 543 569.1 566 643.8 551 718.5 445 793.2 442 868 231 942.7 603 1017.4 625 1092.1 759 1166.8 793 1241.6 815 1316.3 816 1391 774 1465.7 755 1540.4 650 1615.2 712 1689.9 685 1764.6 601 1839.3 721 1914 697 1988.8 529 2063.5 451"/>
<path class="cd" d="M344.9 364 419.6 584 494.4 495 569.1 474 643.8 491 718.5 386 793.2 379 868 479 942.7 483 1017.4 594 1092.1 638 1166.8 769 1241.6 858 1316.3 744 1391 798 1465.7 747 1540.4 665 1615.2 715 1689.9 589 1764.6 626 1839.3 692 1914 666 1988.8 432 2063.5 464"/>
<path class="ce" d="M344.9 137 419.6 548 494.4 445 569.1 442 643.8 435 718.5 331 793.2 247 868 402 942.7 407 1017.4 538 1092.1 653 1166.8 729 1241.6 804 1316.3 779 1391 715 1465.7 713 1540.4 652 1615.2 748 1689.9 586 1764.6 690 1839.3 548 1914 636 1988.8 632 2063.5 339"/>
<path class="cf" d="M344.9 329 419.6 549 494.4 505 569.1 321 643.8 569 718.5 572 793.2 404 868 246 942.7 357 1017.4 553 1092.1 676 1166.8 737 1241.6 852 1316.3 829 1391 714 1465.7 675 1540.4 559 1615.2 734 1689.9 702 1764.6 643 1839.3 721 1914 699 1988.8 738 2063.5 601"/>
<path class="cg" d="M344.9 419 419.6 426 494.4 428 569.1 479 643.8 491 718.5 583 793.2 534 868 394 942.7 308 1017.4 651 1092.1 678 1166.8 733 1241.6 840 1316.3 866 1391 852 1465.7 744 1540.4 705 1615.2 762 1689.9 663 1764.6 635 1839.3 696 1914 586 1988.8 458 2063.5 455"/>
<path class="ch" d="M344.9 409 419.6 354 494.4 441 569.1 357 643.8 442 718.5 474 793.2 266 868 296 942.7 397 1017.4 616 1092.1 738 1166.8 797 1241.6 841 1316.3 839 1391 766 1465.7 689 1540.4 683 1615.2 740 1689.9 630 1764.6 658 1839.3 678 1914 631 1988.8 550 2063.5 346"/>
<path class="ci" d="M344.9 615 419.6 270 494.4 387 569.1 485 643.8 495 718.5 616 793.2 478 868 354 942.7 520 1017.4 534 1092.1 758 1166.8 798 1241.6 859 1316.3 785 1391 723 1465.7 728 1540.4 641 1615.2 811 1689.9 670 1764.6 614 1839.3 808 1914 642 1988.8 518 2063.5 503"/>
<path class="cj" d="M344.9 284 419.6 394 494.4 532 569.1 496 643.8 467 718.5 464 793.2 281 868 494 942.7 467 1017.4 512 1092.1 730 1166.8 797 1241.6 824 1316.3 801 1391 740 1465.7 642 1540.4 682 1615.2 702 1689.9 587 1764.6 582 1839.3 743 1914 707 1988.8 432 2063.5 389"/>
<path class="ck" d="M344.9 355 419.6 584 494.4 466 569.1 490 643.8 642 718.5 539 793.2 437 868 328 942.7 473 1017.4 684 1092.1 715 1166.8 682 1241.6 847 1316.3 771 1391 832 1465.7 709 1540.4 664 1615.2 690 1689.9 540 1764.6 731 1839.3 687 1914 664 1988.8 448 2063.5 314"/>
<path class="cl" d="M344.9 218 419.6 342 494.4 447 569.1 467 643.8 605 718.5 461 793.2 460 868 237 942.7 412 1017.4 586 1092.1 637 1166.8 769 1241.6 864 1316.3 765 1391 702 1465.7 616 1540.4 789 1615.2 763 1689.9 664 1764.6 693 1839.3 706 1914 727 1988.8 507 2063.5 250"/>
<path class="ca" d="M344.9 207 419.6 371 494.4 571 569.1 518 643.8 582 718.5 471 793.2 426 868 510 942.7 395 1017.4 624 1092.1 663 1166.8 704 1241.6 780 1316.3 743 1391 779 1465.7 642 1540.4 630 1615.2 786 1689.9 676 1764.6 681 1839.3 740 1914 721 1988.8 444 2063.5 432"/>
<path class="cb" d="M344.9 377 419.6 472 494.4 385 569.1 445 643.8 558 718.5 489 793.2 270 868 482 942.7 355 1017.4 621 1092.1 676 1166.8 706 1241.6 757 1316.3 758 1391 648 1465.7 678 1540.4 583 1615.2 746 1689.9 680 1764.6 710 1839.3 710 1914 714 1988.8 532 2063.5 466"/>
<path class="cc" d="M344.9 356 419.6 450 494.4 519 569.1 415 643.8 476 718.5 336 793.2 531 868 395 942.7 344 1017.4 679 1092.1 620 1166.8 833 1241.6 814 1316.3 784 1391 810 1465.7 705 1540.4 672 1615.2 768 1689.9 652 1764.6 569 1839.3 590 1914 702 1988.8 502 2063.5 414"/>
<path class="cd" d="M344.9 496 419.6 637 494.4 452 569.1 241 643.8 540 718.5 384 793.2 426 868 387 942.7 569 1017.4 439 1092.1 724 1166.8 808 1241.6 814 1316.3 696 1391 705 1465.7 791 1540.4 681 1615.2 771 1689.9 731 1764.6 686 1839.3 767 1914 595 1988.8 563 2063.5 509"/>
<path class="ce" d="M344.9 321 419.6 626 494.4 370 569.1 424 643.8 575 718.5 486 793.2 469 868 397 942.7 611 1017.4 583 1092.1 648 1166.8 709 1241.6 826 1316.3 806 1391 785 1465.7 698 1540.4 761 1615.2 809 1689.9 619 1764.6 720 1839.3 709 1914 610 1988.8 448 2063.5 427"/>
<path class="cf" d="M344.9 299 419.6 511 494.4 399 569.1 388 643.8 455 718.5 416 793.2 205 868 638 942.7 463 1017.4 618 1092.1 657 1166.8 835 1241.6 856 1316.3 781 1391 819 1465.7 587 1540.4 650 1615.2 740 1689.9 725 1764.6 646 1839.3 756 1914 671 1988.8 395 2063.5 473"/>
<path class="cg" d="M344.9 271 419.6 418 494.4 273 569.1 421 643.8 575 718.5 280 793.2 495 868 467 942.7 486 1017.4 571 1092.1 806 1166.8 766 1241.6 905 1316.3 766 1391 703 1465.7 682 1540.4 781 1615.2 735 1689.9 583 1764.6 648 1839.3 729 1914 758 1988.8 496 2063.5 454"/>
<path class="ch" d="M344.9 221 419.6 537 494.4 469 569.1 408 643.8 414 718.5 484 793.2 511 868 272 942.7 438 1017.4 594 1092.1 779 1166.8 781 1241.6 823 1316.3 876 1391 687 1465.7 681 1540.4 672 1615.2 732 1689.9 603 1764.6 566 1839.3 687 1914 726 1988.8 533 2063.5 395"/>
<path class="ci" d="M344.9 309 419.6 356 494.4 485 569.1 407 643.8 497 718.5 536 793.2 421 868 460 942.7 318 1017.4 548 1092.1 850 1166.8 800 1241.6 839 1316.3 812 1391 852 1465.7 661 1540.4 590 1615.2 719 1689.9 700 1764.6 702 1839.3 675 1914 689 1988.8 532 2063.5 444"/>
<path class="cj" d="M344.9 114 419.6 647 494.4 547 569.1 500 643.8 547 718.5 424 793.2 329 868 436 942.7 348 1017.4 600 1092.1 739 1166.8 804 1241.6 872 1316.3 735 1391 718 1465.7 650 1540.4 844 1615.2 752 1689.9 522 1764.6 712 1839.3 692 1914 586 1988.8 499 2063.5 411"/>
<path class="ck" d="M344.9 402 419.6 468 494.4 390 569.1 267 643.8 521 718.5 514 793.2 507 868 512 942.7 400 1017.4 486 1092.1 626 1166.8 802 1241.6 855 1316.3 807 1391 745 1465.7 723 1540.4 684 1615.2 747 1689.9 670 1764.6 627 1839.3 756 1914 640 1988.8 451 2063.5 293"/>
<path class="cl" d="M344.9 300 419.6 468 494.4 455 569.1 366 643.8 622 718.5 413 793.2 277 868 409 942.7 522 1017.4 577 1092.1 628 1166.8 770 1241.6 863 1316.3 772 1391 648 1465.7 717 1540.4 694 1615.2 770 1689.9 679 1764.6 665 1839.3 779 1914 671 1988.8 413 2063.5 323"/>
<path class="ca" d="M344.9 392 419.6 459 494.4 398 569.1 382 643.8 564 718.5 448 793.2 492 868 404 942.7 394 1017.4 575 1092.1 651 1166.8 817 1241.6 832 1316.3 726 1391 704 1465.7 731 1540.4 673 1615.2 760 1689.9 621 1764.6 633 1839.3 619 1914 615 1988.8 435 2063.5 503"/>
<path class="cb" d="M344.9 433 419.6 482 494.4 648 569.1 362 643.8 539 718.5 388 793.2 348 868 533 942.7 589 1017.4 677 1092.1 796 1166.8 812 1241.6 853 1316.3 851 1391 761 1465.7 761 1540.4 577 1615.2 741 1689.9 659 1764.6 579 1839.3 640 1914 660 1988.8 476 2063.5 469"/>
<path class="cc" d="M344.9 568 419.6 454 494.4 404 569.1 512 643.8 440 718.5 456 793.2 358 868 386 942.7 504 1017.4 495 1092.1 743 1166.8 809 1241.6 834 1316.3 842 1391 717 1465.7 696 1540.4 602 1615.2 734 1689.9 620 1764.6 667 1839.3 784 1914 679 1988.8 463 2063.5 442"/>
<path class="cd" d="M344.9 381 419.6 434 494.4 520 569.1 289 643.8 574 718.5 494 793.2 379 868 378 942.7 359 1017.4 630 1092.1 633 1166.8 799 1241.6 793 1316.3 818 1391 625 1465.7 718 1540.4 585 1615.2 653 1689.9 581 1764.6 649 1839.3 776 1914 791 1988.8 395 2063.5 484"/>
<path class="ce" d="M344.9 354 419.6 486 494.4 509 569.1 521 643.8 519 718.5 359 793.2 395 868 437 942.7 447 1017.4 711 1092.1 716 1166.8 862 1241.6 761 1316.3 793 1391 707 1465.7 762 1540.4 711 1615.2 732 1689.9 708 1764.6 665 1839.3 736 1914 702 1988.8 530 2063.5 478"/>
<path class="cf" d="M344.9 396 419.6 397 494.4 321 569.1 376 643.8 528 718.5 471 793.2 492 868 437 942.7 542 1017.4 620 1092.1 660 1166.8 807 1241.6 813 1316.3 795 1391 730 1465.7 760 1540.4 705 1615.2 767 1689.9 632 1764.6 722 1839.3 751 1914 618 1988.8 450 2063.5 310"/>
<path class="cg" d="M344.9 353 419.6 510 494.4 532 569.1 396 643.8 525 718.5 405 793.2 401 868 397 942.7 383 1017.4 527 1092.1 755 1166.8 857 1241.6 859 1316.3 751 1391 690 1465.7 623 1540.4 682 1615.2 748 1689.9 632 1764.6 552 1839.3 659 1914 632 1988.8 490 2063.5 401"/>
<path class="ch" d="M344.9 338 419.6 410 494.4 446 569.1 434 643.8 487 718.5 661 793.2 311 868 498 942.7 502 1017.4 599 1092.1 681 1166.8 795 1241.6 880 1316.3 761 1391 717 1465.7 747 1540.4 701 1615.2 773 1689.9 709 1764.6 741 1839.3 687 1914 683 1988.8 523 2063.5 444"/>
<path class="ci" d="M344.9 239 419.6 359 494.4 563 569.1 409 643.8 497 718.5 624 793.2 441 868 465 942.7 519 1017.4 628 1092.1 733 1166.8 789 1241.6 900 1316.3 727 1391 715 1465.7 647 1540.4 613 1615.2 803 1689.9 747 1764.6 636 1839.3 758 1914 597 1988.8 450 2063.5 543"/>
<path class="cj" d="M344.9 449 419.6 385 494.4 465 569.1 364 643.8 586 718.5 383 793.2 424 868 422 942.7 546 1017.4 573 1092.1 698 1166.8 816 1241.6 802 1316.3 803 1391 660 1465.7 624 1540.4 635 1615.2 758 1689.9 691 1764.6 711 1839.3 703 1914 638 1988.8 475 2063.5 521"/>
<path class="ck" d="M344.9 385 419.6 523 494.4 345 569.1 455 643.8 430 718.5 478 793.2 369 868 399 942.7 549 1017.4 544 1092.1 790 1166.8 773 1241.6 869 1316.3 778 1391 761 1465.7 663 1540.4 693 1615.2 716 1689.9 649 1764.6 690 1839.3 696 1914 603 1988.8 474 2063.5 327"/>
<path class="cl" d="M344.9 442 419.6 440 494.4 472 569.1 583 643.8 489 718.5 558 793.2 270 868 285 942.7 476 1017.4 555 1092.1 697 1166.8 829 1241.6 868 1316.3 726 1391 740 1465.7 649 1540.4 705 1615.2 714 1689.9 664 1764.6 628 1839.3 707 1914 635 1988.8 474 2063.5 406"/>
<path class="ca" d="M344.9 351 419.6 356 494.4 409 569.1 543 643.8 529 718.5 407 793.2 411 868 311 942.7 336 1017.4 625 1092.1 718 1166.8 753 1241.6 822 1316.3 837 1391 634 1465.7 740 1540.4 593 1615.2 686 1689.9 553 1764.6 716 1839.3 693 1914 574 1988.8 421 2063.5 450"/>
<path class="cb" d="M344.9 385 419.6 525 494.4 463 569.1 534 643.8 609 718.5 507 793.2 572 868 229 942.7 389 1017.4 691 1092.1 696 1166.8 811 1241.6 902 1316.3 768 1391 788 1465.7 787 1540.4 653 1615.2 718 1689.9 556 1764.6 598 1839.3 648 1914 681 1988.8 463 2063.5 416"/>
<path class="cc" d="M344.9 389 419.6 425 494.4 525 569.1 553 643.8 386 718.5 460 793.2 350 868 438 942.7 397 1017.4 548 1092.1 708 1166.8 771 1241.6 898 1316.3 798 1391 703 1465.7 737 1540.4 721 1615.2 800 1689.9 694 1764.6 638 1839.3 727 1914 687 1988.8 340 2063.5 441"/>
<path class="cd" d="M344.9 466 419.6 476 494.4 468 569.1 495 643.8 535 718.5 461 793.2 441 868 317 942.7 438 1017.4 655 1092.1 659 1166.8 844 1241.6 820 1316.3 688 1391 776 1465.7 659 1540.4 549 1615.2 668 1689.9 654 1764.6 769 1839.3 795 1914 580 1988.8 546 2063.5 442"/>
<path class="ce" d="M344.9 220 419.6 507 494.4 378 569.1 287 643.8 484 718.5 377 793.2 473 868 468 942.7 421 1017.4 652 1092.1 773 1166.8 794 1241.6 887 1316.3 820 1391 712 1465.7 713 1540.4 742 1615.2 825 1689.9 674 1764.6 617 1839.3 733 1914 714 1988.8 559 2063.5 385"/>
<path class="cf" d="M344.9 391 419.6 356 494.4 594 569.1 340 643.8 473 718.5 419 793.2 323 868 338 942.7 277 1017.4 640 1092.1 665 1166.8 795 1241.6 917 1316.3 733 1391 703 1465.7 681 1540.4 643 1615.2 745 1689.9 670 1764.6 607 1839.3 715 1914 681 1988.8 507 2063.5 489"/>
<path class="cg" d="M344.9 247 419.6 423 494.4 499 569.1 416 643.8 684 718.5 531 793.2 500 868 453 942.7 557 1017.4 582 1092.1 675 1166.8 789 1241.6 835 1316.3 797 1391 668 1465.7 661 1540.4 756 1615.2 743 1689.9 627 1764.6 555 1839.3 625 1914 669 1988.8 480 2063.5 465"/>
<path class="ch" d="M344.9 274 419.6 474 494.4 541 569.1 572 643.8 448 718.5 471 793.2 352 868 352 942.7 579 1017.4 493 1092.1 775 1166.8 728 1241.6 799 1316.3 779 1391 705 1465.7 744 1540.4 594 1615.2 836 1689.9 678 1764.6 711 1839.3 704 1914 621 1988.8 565 2063.5 516"/>
<path class="ci" d="M344.9 333 419.6 508 494.4 455 569.1 381 643.8 404 718.5 539 793.2 400 868 353 942.7 462 1017.4 547 1092.1 696 1166.8 785 1241.6 837 1316.3 847 1391 732 1465.7 696 1540.4 530 1615.2 789 1689.9 636 1764.6 563 1839.3 696 1914 565 1988.8 512 2063.5 589"/>
<path class="cj" d="M344.9 236 419.6 354 494.4 528 569.1 347 643.8 548 718.5 436 793.2 361 868 478 942.7 305 1017.4 669 1092.1 732 1166.8 816 1241.6 838 1316.3 727 1391 753 1465.7 669 1540.4 584 1615.2 744 1689.9 640 1764.6 726 1839.3 818 1914 546 1988.8 335 2063.5 412"/>
<path class="ck" d="M344.9 212 419.6 607 494.4 425 569.1 306 643.8 487 718.5 445 793.2 430 868 326 942.7 456 1017.4 644 1092.1 671 1166.8 776 1241.6 917 1316.3 794 1391 707 1465.7 651 1540.4 582 1615.2 745 1689.9 512 1764.6 649 1839.3 739 1914 666 1988.8 519 2063.5 564"/>
<path class="cl" d="M344.9 424 419.6 354 494.4 392 569.1 431 643.8 469 718.5 523 793.2 277 868 335 942.7 425 1017.4 611 1092.1 724 1166.8 860 1241.6 870 1316.3 774 1391 729 1465.7 697 1540.4 756 1615.2 764 1689.9 670 1764.6 554 1839.3 647 1914 652 1988.8 525 2063.5 458"/>
<path class="ca" d="M344.9 297 419.6 459 494.4 431 569.1 353 643.8 566 718.5 583 793.2 362 868 411 942.7 398 1017.4 457 1092.1 702 1166.8 710 1241.6 872 1316.3 747 1391 785 1465.7 658 1540.4 653 1615.2 718 1689.9 689 1764.6 635 1839.3 694 1914 734 1988.8 463 2063.5 387"/>
<path class="cb" d="M344.9 294 419.6 494 494.4 500 569.1 512 643.8 476 718.5 469 793.2 368 868 511 942.7 403 1017.4 666 1092.1 719 1166.8 867 1241.6 895 1316.3 766 1391 800 1465.7 659 1540.4 632 1615.2 730 1689.9 692 1764.6 731 1839.3 759 1914 632 1988.8 442 2063.5 377"/>
<path class="cc" d="M344.9 315 419.6 415 494.4 542 569.1 340 643.8 543 718.5 479 793.2 487 868 429 942.7 385 1017.4 412 1092.1 744 1166.8 785 1241.6 824 1316.3 782 1391 670 1465.7 767 1540.4 649 1615.2 788 1689.9 656 1764.6 698 1839.3 779 1914 608 1988.8 504 2063.5 294"/>
<path class="cd" d="M344.9 356 419.6 560 494.4 592 569.1 368 643.8 603 718.5 531 793.2 504 868 311 942.7 405 1017.4 644 1092.1 756 1166.8 799 1241.6 938 1316.3 834 1391 687 1465.7 665 1540.4 732 1615.2 732 1689.9 620 1764.6 642 1839.3 642 1914 653 1988.8 485 2063.5 399"/>
<path class="ce" d="M344.9 344 419.6 411 494.4 500 569.1 417 643.8 476 718.5 394 793.2 447 868 301 942.7 383 1017.4 507 1092.1 675 1166.8 738 1241.6 881 1316.3 784 1391 722 1465.7 782 1540.4 730 1615.2 744 1689.9 566 1764.6 659 1839.3 719 1914 600 1988.8 501 2063.5 526"/>
<path class="cf" d="M344.9 542 419.6 497 494.4 444 569.1 453 643.8 584 718.5 562 793.2 385 868 345 942.7 395 1017.4 635 1092.1 630 1166.8 772 1241.6 820 1316.3 818 1391 693 1465.7 702 1540.4 687 1615.2 726 1689.9 685 1764.6 719 1839.3 673 1914 708 1988.8 685 2063.5 476"/>
<path class="cg" d="M344.9 248 419.6 445 494.4 603 569.1 417 643.8 440 718.5 490 793.2 267 868 321 942.7 294 1017.4 587 1092.1 673 1166.8 890 1241.6 869 1316.3 780 1391 738 1465.7 747 1540.4 651 1615.2 747 1689.9 679 1764.6 679 1839.3 763 1914 633 1988.8 529 2063.5 651"/>
<path class="ch" d="M344.9 427 419.6 327 494.4 505 569.1 513 643.8 502 718.5 459 793.2 320 868 522 942.7 374 1017.4 525 1092.1 690 1166.8 734 1241.6 815 1316.3 807 1391 837 1465.7 667 1540.4 616 1615.2 682 1689.9 750 1764.6 649 1839.3 749 1914 703 1988.8 409 2063.5 538"/>
<path class="ci" d="M344.9 323 419.6 465 494.4 377 569.1 511 643.8 463 718.5 492 793.2 376 868 371 942.7 184 1017.4 518 1092.1 731 1166.8 779 1241.6 816 1316.3 815 1391 637 1465.7 733 1540.4 662 1615.2 712 1689.9 564 1764.6 717 1839.3 791 1914 651 1988.8 504 2063.5 644"/>
<path class="cj" d="M344.9 321 419.6 416 494.4 395 569.1 418 643.8 514 718.5 502 793.2 293 868 449 942.7 403 1017.4 617 1092.1 775 1166.8 771 1241.6 840 1316.3 798 1391 726 1465.7 671 1540.4 632 1615.2 757 1689.9 678 1764.6 725 1839.3 667 1914 651 1988.8 298 2063.5 600"/>
<path class="ck" d="M344.9 441 419.6 433 494.4 419 569.1 557 643.8 367 718.5 462 793.2 452 868 420 942.7 379 1017.4 488 1092.1 615 1166.8 773 1241.6 800 1316.3 814 1391 750 1465.7 690 1540.4 735 1615.2 698 1689.9 629 1764.6 794 1839.3 725 1914 506 1988.8 672 2063.5 461"/>
<path class="cl" d="M344.9 218 419.6 573 494.4 477 569.1 435 643.8 579 718.5 532 793.2 379 868 585 942.7 425 1017.4 566 1092.1 703 1166.8 832 1241.6 772 1316.3 717 1391 755 1465.7 671 1540.4 693 1615.2 709 1689.9 683 1764.6 752 1839.3 717 1914 609 1988.8 550 2063.5 442"/>
<path class="ca" d="M344.9 431 419.6 513 494.4 597 569.1 427 643.8 449 718.5 330 793.2 451 868 313 942.7 428 1017.4 585 1092.1 648 1166.8 772 1241.6 821 1316.3 699 1391 705 1465.7 603 1540.4 569 1615.2 733 1689.9 637 1764.6 674 1839.3 675 1914 650 1988.8 334 2063.5 441"/>
<path class="cb" d="M344.9 569 419.6 447 494.4 514 569.1 374 643.8 385 718.5 496 793.2 269 868 405 942.7 548 1017.4 571 1092.1 684 1166.8 778 1241.6 905 1316.3 803 1391 788 1465.7 667 1540.4 725 1615.2 679 1689.9 660 1764.6 681 1839.3 690 1914 618 1988.8 459 2063.5 507"/>
<path class="cc" d="M344.9 237 419.6 386 494.4 408 569.1 486 643.8 474 718.5 505 793.2 364 868 181 942.7 442 1017.4 553 1092.1 646 1166.8 784 1241.6 772 1316.3 826 1391 747 1465.7 774 1540.4 599 1615.2 765 1689.9 596 1764.6 731 1839.3 703 1914 691 1988.8 440 2063.5 423"/>
<path class="cd" d="M344.9 330 419.6 513 494.4 338 569.1 412 643.8 491 718.5 433 793.2 270 868 432 942.7 470 1017.4 551 1092.1 820 1166.8 829 1241.6 847 1316.3 869 1391 680 1465.7 649 1540.4 665 1615.2 751 1689.9 707 1764.6 676 1839.3 682 1914 694 1988.8 511 2063.5 276"/>
<path class="ce" d="M344.9 396 419.6 484 494.4 379 569.1 376 643.8 485 718.5 473 793.2 361 868 242 942.7 472 1017.4 787 1092.1 730 1166.8 744 1241.6 855 1316.3 775 1391 838 1465.7 609 1540.4 542 1615.2 788 1689.9 671 1764.6 611 1839.3 780 1914 570 1988.8 463 2063.5 497"/>
<path class="cf" d="M344.9 299 419.6 498 494.4 481 569.1 464 643.8 513 718.5 444 793.2 382 868 391 942.7 430 1017.4 559 1092.1 732 1166.8 790 1241.6 855 1316.3 804 1391 668 1465.7 620 1540.4 528 1615.2 750 1689.9 598 1764.6 686 1839.3 734 1914 752 1988.8 483 2063.5 556"/>
<path class="cg" d="M344.9 598 419.6 574 494.4 460 569.1 457 643.8 463 718.5 488 793.2 270 868 346 942.7 414 1017.4 521 1092.1 639 1166.8 818 1241.6 856 1316.3 794 1391 689 1465.7 653 1540.4 702 1615.2 801 1689.9 690 1764.6 679 1839.3 678 1914 551 1988.8 415 2063.5 394"/>
<path class="ch" d="M344.9 415 419.6 368 494.4 379 569.1 285 643.8 574 718.5 360 793.2 314 868 332 942.7 475 1017.4 598 1092.1 744 1166.8 851 1241.6 805 1316.3 820 1391 804 1465.7 615 1540.4 691 1615.2 636 1689.9 640 1764.6 683 1839.3 608 1914 559 1988.8 455 2063.5 519"/>
<path class="ci" d="M344.9 536 419.6 571 494.4 455 569.1 248 643.8 603 718.5 431 793.2 313 868 387 942.7 491 1017.4 508 1092.1 756 1166.8 705 1241.6 883 1316.3 763 1391 791 1465.7 704 1540.4 716 1615.2 693 1689.9 602 1764.6 574 1839.3 722 1914 645 1988.8 509 2063.5 240"/>
<path class="cj" d="M344.9 414 419.6 469 494.4 451 569.1 628 643.8 602 718.5 443 793.2 388 868 560 942.7 444 1017.4 527 1092.1 667 1166.8 795 1241.6 786 1316.3 801 1391 800 1465.7 690 1540.4 760 1615.2 758 1689.9 661 1764.6 672 1839.3 653 1914 614 1988.8 545 2063.5 518"/>
<path class="ck" d="M344.9 289 419.6 518 494.4 468 569.1 436 643.8 608 718.5 485 793.2 304 868 473 942.7 261 1017.4 539 1092.1 689 1166.8 730 1241.6 849 1316.3 780 1391 726 1465.7 831 1540.4 660 1615.2 791 1689.9 691 1764.6 709 1839.3 749 1914 677 1988.8 496 2063.5 386"/>
<path class="cl" d="M344.9 277 419.6 520 494.4 579 569.1 435 643.8 399 718.5 422 793.2 333 868 533 942.7 416 1017.4 628 1092.1 691 1166.8 873 1241.6 924 1316.3 722 1391 666 1465.7 731 1540.4 607 1615.2 713 1689.9 633 1764.6 706 1839.3 663 1914 690 1988.8 442 2063.5 403"/>
<path class="ca" d="M344.9 370 419.6 300 494.4 403 569.1 413 643.8 532 718.5 420 793.2 190 868 415 942.7 471 1017.4 515 1092.1 655 1166.8 797 1241.6 817 1316.3 847 1391 705 1465.7 605 1540.4 664 1615.2 771 1689.9 612 1764.6 685 1839.3 683 1914 715 1988.8 529 2063.5 342"/>
<path class="cb" d="M344.9 228 419.6 532 494.4 369 569.1 314 643.8 506 718.5 476 793.2 417 868 204 942.7 534 1017.4 514 1092.1 828 1166.8 747 1241.6 878 1316.3 782 1391 697 1465.7 699 1540.4 633 1615.2 778 1689.9 687 1764.6 626 1839.3 822 1914 687 1988.8 394 2063.5 364"/>
<path class="cc" d="M344.9 495 419.6 435 494.4 531 569.1 388 643.8 306 718.5 526 793.2 352 868 472 942.7 397 1017.4 475 1092.1 642 1166.8 755 1241.6 867 1316.3 907 1391 721 1465.7 750 1540.4 646 1615.2 755 1689.9 517 1764.6 720 1839.3 654 1914 678 1988.8 509 2063.5 445"/>
<path class="cd" d="M344.9 358 419.6 473 494.4 525 569.1 468 643.8 521 718.5 520 793.2 321 868 509 942.7 388 1017.4 570 1092.1 705 1166.8 801 1241.6 790 1316.3 826 1391 816 1465.7 658 1540.4 629 1615.2 622 1689.9 682 1764.6 574 1839.3 760 1914 713 1988.8 519 2063.5 450"/>
<path class="ce" d="M344.9 256 419.6 538 494.4 273 569.1 339 643.8 514 718.5 479 793.2 586 868 453 942.7 389 1017.4 535 1092.1 768 1166.8 788 1241.6 824 1316.3 777 1391 718 1465.7 677 1540.4 690 1615.2 694 1689.9 526 1764.6 778 1839.3 732 1914 692 1988.8 423 2063.5 438"/>
<path class="cf" d="M344.9 405 419.6 461 494.4 472 569.1 441 643.8 519 718.5 380 793.2 402 868 350 942.7 398 1017.4 510 1092.1 675 1166.8 810 1241.6 873 1316.3 834 1391 754 1465.7 755 1540.4 564 1615.2 856 1689.9 638 1764.6 631 1839.3 684 1914 664 1988.8 507 2063.5 310"/>
<path class="cg" d="M344.9 487 419.6 385 494.4 574 569.1 544 643.8 487 718.5 580 793.2 330 868 434 942.7 570 1017.4 584 1092.1 633 1166.8 740 1241.6 834 1316.3 720 1391 740 1465.7 688 1540.4 725 1615.2 841 1689.9 770 1764.6 717 1839.3 756 1914 706 1988.8 638 2063.5 430"/>
<path class="ch" d="M344.9 513 419.6 370 494.4 398 569.1 290 643.8 564 718.5 451 793.2 282 868 444 942.7 429 1017.4 567 1092.1 634 1166.8 817 1241.6 872 1316.3 869 1391 723 1465.7 669 1540.4 664 1615.2 770 1689.9 650 1764.6 655 1839.3 622 1914 642 1988.8 520 2063.5 566"/>
<path class="ci" d="M344.9 373 419.6 442 494.4 581 569.1 425 643.8 453 718.5 439 793.2 321 868 371 942.7 507 1017.4 599 1092.1 721 1166.8 661 1241.6 874 1316.3 751 1391 741 1465.7 771 1540.4 670 1615.2 742 1689.9 657 1764.6 553 1839.3 708 1914 687 1988.8 534 2063.5 539"/>
<path class="cj" d="M344.9 504 419.6 397 494.4 536 569.1 432 643.8 600 718.5 596 793.2 464 868 230 942.7 536 1017.4 663 1092.1 748 1166.8 790 1241.6 845 1316.3 794 1391 781 1465.7 696 1540.4 714 1615.2 801 1689.9 572 1764.6 724 1839.3 712 1914 678 1988.8 561 2063.5 384"/>
<path class="ck" d="M344.9 460 419.6 462 494.4 441 569.1 418 643.8 471 718.5 454 793.2 333 868 318 942.7 365 1017.4 597 1092.1 730 1166.8 879 1241.6 743 1316.3 853 1391 764 1465.7 687 1540.4 652 1615.2 808 1689.9 671 1764.6 731 1839.3 771 1914 617 1988.8 542 2063.5 454"/>
<path class="cl" d="M344.9 121 419.6 452 494.4 379 569.1 382 643.8 596 718.5 390 793.2 325 868 471 942.7 575 1017.4 670 1092.1 680 1166.8 711 1241.6 830 1316.3 747 1391 675 1465.7 674 1540.4 689 1615.2 764 1689.9 613 1764.6 636 1839.3 705 1914 656 1988.8 449 2063.5 358"/>
<path class="ca" d="M344.9 638 419.6 297 494.4 581 569.1 366 643.8 516 718.5 420 793.2 439 868 366 942.7 522 1017.4 530 1092.1 703 1166.8 726 1241.6 772 1316.3 811 1391 761 1465.7 679 1540.4 662 1615.2 763 1689.9 563 1764.6 670 1839.3 742 1914 610 1988.8 498 2063.5 462"/>
<path class="cb" d="M344.9 531 419.6 581 494.4 345 569.1 425 643.8 508 718.5 457 793.2 343 868 578 942.7 371 1017.4 603 1092.1 677 1166.8 838 1241.6 940 1316.3 705 1391 837 1465.7 738 1540.4 669 1615.2 664 1689.9 671 1764.6 636 1839.3 720 1914 677 1988.8 361 2063.5 413"/>
<path class="cc" d="M344.9 347 419.6 643 494.4 452 569.1 429 643.8 598 718.5 469 793.2 485 868 395 942.7 462 1017.4 635 1092.1 700 1166.8 779 1241.6 827 1316.3 777 1391 733 1465.7 745 1540.4 626 1615.2 739 1689.9 586 1764.6 685 1839.3 607 1914 657 1988.8 414 2063.5 494"/>
<path class="cd" d="M344.9 549 419.6 402 494.4 516 569.1 482 643.8 530 718.5 450 793.2 460 868 313 942.7 358 1017.4 459 1092.1 785 1166.8 764 1241.6 845 1316.3 782 1391 651 1465.7 760 1540.4 715 1615.2 657 1689.9 660 1764.6 661 1839.3 708 1914 612 1988.8 312 2063.5 451"/>
<path class="ce" d="M344.9 329 419.6 431 494.4 441 569.1 359 643.8 488 718.5 548 793.2 349 868 359 942.7 528 1017.4 478 1092.1 697 1166.8 892 1241.6 933 1316.3 812 1391 779 1465.7 647 1540.4 730 1615.2 799 1689.9 674 1764.6 698 1839.3 730 1914 566 1988.8 644 2063.5 420"/>
<path class="cf" d="M344.9 421 419.6 409 494.4 508 569.1 461 643.8 480 718.5 486 793.2 406 868 225 942.7 485 1017.4 515 1092.1 754 1166.8 796 1241.6 802 1316.3 838 1391 767 1465.7 690 1540.4 653 1615.2 829 1689.9 565 1764.6 699 1839.3 625 1914 626 1988.8 371 2063.5 341"/>
<path class="cg" d="M344.9 457 419.6 333 494.4 443 569.1 506 643.8 388 718.5 373 793.2 226 868 231 942.7 458 1017.4 614 1092.1 823 1166.8 788 1241.6 895 1316.3 674 1391 746 1465.7 693 1540.4 795 1615.2 723 1689.9 664 1764.6 577 1839.3 745 1914 527 1988.8 446 2063.5 379"/>
<path class="ch" d="M344.9 403 419.6 398 494.4 471 569.1 444 643.8 502 718.5 449 793.2 382 868 554 942.7 363 1017.4 584 1092.1 692 1166.8 859 1241.6 804 1316.3 891 1391 774 1465.7 662 1540.4 648 1615.2 744 1689.9 622 1764.6 689 1839.3 798 1914 704 1988.8 620 2063.5 300"/>
<path class="ci" d="M344.9 473 419.6 464 494.4 578 569.1 331 643.8 657 718.5 364 793.2 298 868 341 942.7 530 1017.4 554 1092.1 725 1166.8 786 1241.6 783 1316.3 785 1391 681 1465.7 661 1540.4 687 1615.2 699 1689.9 670 1764.6 639 1839.3 690 1914 496 1988.8 600 2063.5 455"/>
<path class="cj" d="M344.9 407 419.6 535 494.4 401 569.1 425 643.8 599 718.5 350 793.2 317 868 419 942.7 464 1017.4 481 1092.1 719 1166.8 796 1241.6 798 1316.3 746 1391 796 1465.7 819 1540.4 687 1615.2 714 1689.9 632 1764.6 734 1839.3 732 1914 671 1988.8 427 2063.5 444"/>
<path class="ck" d="M344.9 573 419.6 376 494.4 529 569.1 541 643.8 504 718.5 469 793.2 299 868 217 942.7 312 1017.4 562 1092.1 781 1166.8 754 1241.6 796 1316.3 753 1391 798 1465.7 727 1540.4 652 1615.2 795 1689.9 709 1764.6 659 1839.3 702 1914 787 1988.8 468 2063.5 333"/>
<path class="cl" d="M344.9 369 419.6 568 494.4 587 569.1 425 643.8 464 718.5 452 793.2 372 868 401 942.7 418 1017.4 560 1092.1 798 1166.8 819 1241.6 916 1316.3 742 1391 758 1465.7 761 1540.4 560 1615.2 756 1689.9 672 1764.6 727 1839.3 725 1914 691 1988.8 657 2063.5 333"/>
<path class="ca" d="M344.9 441 419.6 405 494.4 438 569.1 330 643.8 650 718.5 440 793.2 477 868 378 942.7 526 1017.4 639 1092.1 655 1166.8 772 1241.6 798 1316.3 729 1391 665 1465.7 744 1540.4 667 1615.2 670 1689.9 606 1764.6 607 1839.3 727 1914 535 1988.8 589 2063.5 364"/>
<path class="cb" d="M344.9 389 419.6 375 494.4 495 569.1 393 643.8 520 718.5 433 793.2 371 868 415 942.7 270 1017.4 571 1092.1 625 1166.8 892 1241.6 807 1316.3 809 1391 656 1465.7 724 1540.4 591 1615.2 765 1689.9 618 1764.6 686 1839.3 779 1914 571 1988.8 597 2063.5 450"/>
<path class="cc" d="M344.9 281 419.6 587 494.4 499 569.1 463 643.8 569 718.5 372 793.2 404 868 313 942.7 463 1017.4 528 1092.1 735 1166.8 765 1241.6 848 1316.3 706 1391 716 1465.7 733 1540.4 719 1615.2 685 1689.9 617 1764.6 586 1839.3 755 1914 592 1988.8 264 2063.5 445"/>
<path class="cd" d="M344.9 386 419.6 478 494.4 396 569.1 508 643.8 557 718.5 507 793.2 381 868 410 942.7 479 1017.4 726 1092.1 628 1166.8 900 1241.6 871 1316.3 721 1391 743 1465.7 753 1540.4 592 1615.2 760 1689.9 666 1764.6 645 1839.3 702 1914 589 1988.8 419 2063.5 618"/>
<path class="ce" d="M344.9 293 419.6 524 494.4 418 569.1 378 643.8 416 718.5 493 793.2 284 868 251 942.7 272 1017.4 480 1092.1 665 1166.8 822 1241.6 839 1316.3 803 1391 714 1465.7 740 1540.4 728 1615.2 757 1689.9 616 1764.6 653 1839.3 702 1914 626 1988.8 571 2063.5 362"/>
<path class="cf" d="M344.9 255 419.6 527 494.4 570 569.1 329 643.8 339 718.5 559 793.2 414 868 429 942.7 318 1017.4 520 1092.1 710 1166.8 740 1241.6 862 1316.3 851 1391 759 1465.7 777 1540.4 697 1615.2 822 1689.9 647 1764.6 683 1839.3 738 1914 658 1988.8 572 2063.5 444"/>
<path class="cg" d="M344.9 407 419.6 312 494.4 571 569.1 307 643.8 584 718.5 577 793.2 459 868 340 942.7 477 1017.4 554 1092.1 791 1166.8 755 1241.6 860 1316.3 651 1391 668 1465.7 691 1540.4 595 1615.2 732 1689.9 645 1764.6 645 1839.3 697 1914 675 1988.8 517 2063.5 427"/>
<path class="ch" d="M344.9 309 419.6 487 494.4 474 569.1 482 643.8 414 718.5 456 793.2 390 868 394 942.7 437 1017.4 608 1092.1 718 1166.8 851 1241.6 850 1316.3 736 1391 765 1465.7 708 1540.4 675 1615.2 794 1689.9 726 1764.6 646 1839.3 743 1914 597 1988.8 565 2063.5 442"/>
<path class="ci" d="M344.9 461 419.6 457 494.4 499 569.1 464 643.8 584 718.5 488 793.2 417 868 391 942.7 435 1017.4 645 1092.1 718 1166.8 858 1241.6 836 1316.3 817 1391 786 1465.7 679 1540.4 686 1615.2 765 1689.9 732 1764.6 700 1839.3 729 1914 563 1988.8 516 2063.5 461"/>
<path class="cj" d="M344.9 335 419.6 550 494.4 386 569.1 339 643.8 543 718.5 328 793.2 483 868 424 942.7 328 1017.4 515 1092.1 687 1166.8 804 1241.6 896 1316.3 770 1391 706 1465.7 735 1540.4 625 1615.2 752 1689.9 666 1764.6 653 1839.3 703 1914 561 1988.8 516 2063.5 400"/>
<path class="ck" d="M344.9 422 419.6 484 494.4 467 569.1 347 643.8 477 718.5 437 793.2 377 868 447 942.7 507 1017.4 499 1092.1 714 1166.8 832 1241.6 870 1316.3 778 1391 714 1465.7 698 1540.4 646 1615.2 703 1689.9 678 1764.6 705 1839.3 669 1914 612 1988.8 420 2063.5 572"/>
<path class="cl" d="M344.9 398 419.6 348 494.4 476 569.1 360 643.8 520 718.5 584 793.2 379 868 419 942.7 433 1017.4 543 1092.1 727 1166.8 753 1241.6 854 1316.3 755 1391 720 1465.7 869 1540.4 587 1615.2 741 1689.9 642 1764.6 706 1839.3 714 1914 627 1988.8 472 2063.5 441"/>
<path class="ca" d="M344.9 305 419.6 487 494.4 423 569.1 372 643.8 524 718.5 498 793.2 295 868 413 942.7 366 1017.4 470 1092.1 687 1166.8 868 1241.6 860 1316.3 751 1391 687 1465.7 776 1540.4 666 1615.2 686 1689.9 611 1764.6 648 1839.3 730 1914 705 1988.8 410 2063.5 502"/>
<path class="cb" d="M344.9 192 419.6 344 494.4 552 569.1 541 643.8 495 718.5 382 793.2 461 868 280 942.7 573 1017.4 552 1092.1 774 1166.8 834 1241.6 835 1316.3 803 1391 804 1465.7 741 1540.4 596 1615.2 751 1689.9 686 1764.6 700 1839.3 745 1914 601 1988.8 608 2063.5 509"/>
<path class="cc" d="M344.9 446 419.6 474 494.4 451 569.1 433 643.8 566 718.5 429 793.2 527 868 438 942.7 513 1017.4 576 1092.1 761 1166.8 721 1241.6 888 1316.3 840 1391 652 1465.7 724 1540.4 670 1615.2 716 1689.9 656 1764.6 647 1839.3 727 1914 618 1988.8 511 2063.5 443"/>
<path class="cd" d="M344.9 362 419.6 477 494.4 463 569.1 514 643.8 583 718.5 443 793.2 320 868 274 942.7 341 1017.4 434 1092.1 628 1166.8 805 1241.6 835 1316.3 765 1391 751 1465.7 695 1540.4 677 1615.2 732 1689.9 645 1764.6 679 1839.3 744 1914 678 1988.8 612 2063.5 503"/>
<path class="ce" d="M344.9 512 419.6 549 494.4 520 569.1 381 643.8 538 718.5 463 793.2 430 868 317 942.7 435 1017.4 387 1092.1 759 1166.8 714 1241.6 786 1316.3 847 1391 750 1465.7 681 1540.4 695 1615.2 838 1689.9 692 1764.6 592 1839.3 709 1914 662 1988.8 610 2063.5 521"/>
<path class="cf" d="M344.9 357 419.6 556 494.4 457 569.1 354 643.8 544 718.5 478 793.2 354 868 484 942.7 575 1017.4 629 1092.1 692 1166.8 838 1241.6 883 1316.3 870 1391 753 1465.7 708 1540.4 731 1615.2 774 1689.9 712 1764.6 664 1839.3 717 1914 595 1988.8 476 2063.5 480"/>
<path class="cg" d="M344.9 390 419.6 366 494.4 592 569.1 498 643.8 620 718.5 418 793.2 337 868 359 942.7 591 1017.4 499 1092.1 747 1166.8 772 1241.6 922 1316.3 798 1391 657 1465.7 738 1540.4 622 1615.2 783 1689.9 734 1764.6 753 1839.3 761 1914 696 1988.8 383 2063.5 359"/>
<path class="ch" d="M344.9 398 419.6 523 494.4 554 569.1 512 643.8 478 718.5 455 793.2 512 868 378 942.7 449 1017.4 670 1092.1 759 1166.8 768 1241.6 848 1316.3 781 1391 731 1465.7 714 1540.4 612 1615.2 723 1689.9 570 1764.6 793 1839.3 777 1914 667 1988.8 478 2063.5 502"/>
<path class="ci" d="M344.9 322 419.6 569 494.4 485 569.1 454 643.8 466 718.5 490 793.2 281 868 294 942.7 454 1017.4 567 1092.1 672 1166.8 786 1241.6 860 1316.3 805 1391 710 1465.7 686 1540.4 675 1615.2 730 1689.9 571 1764.6 668 1839.3 713 1914 718 1988.8 393 2063.5 553"/>
<path class="cj" d="M344.9 399 419.6 352 494.4 293 569.1 219 643.8 352 718.5 556 793.2 249 868 583 942.7 364 1017.4 508 1092.1 630 1166.8 804 1241.6 944 1316.3 907 1391 694 1465.7 692 1540.4 773 1615.2 655 1689.9 723 1764.6 711 1839.3 727 1914 740 1988.8 450 2063.5 375"/>
<path class="ck" d="M344.9 372 419.6 549 494.4 351 569.1 412 643.8 496 718.5 515 793.2 471 868 351 942.7 201 1017.4 566 1092.1 736 1166.8 792 1241.6 854 1316.3 777 1391 704 1465.7 685 1540.4 639 1615.2 704 1689.9 760 1764.6 738 1839.3 727 1914 579 1988.8 550 2063.5 488"/>
<path class="cl" d="M344.9 275 419.6 545 494.4 397 569.1 256 643.8 406 718.5 636 793.2 414 868 326 942.7 334 1017.4 397 1092.1 693 1166.8 680 1241.6 908 1316.3 795 1391 716 1465.7 727 1540.4 614 1615.2 813 1689.9 768 1764.6 651 1839.3 689 1914 662 1988.8 537 2063.5 479"/>
<path class="ca" d="M344.9 415 419.6 326 494.4 396 569.1 433 643.8 531 718.5 393 793.2 481 868 493 942.7 304 1017.4 584 1092.1 635 1166.8 827 1241.6 868 1316.3 744 1391 722 1465.7 754 1540.4 639 1615.2 794 1689.9 605 1764.6 639 1839.3 752 1914 712 1988.8 553 2063.5 406"/>
<path class="cb" d="M344.9 406 419.6 416 494.4 497 569.1 414 643.8 531 718.5 485 793.2 334 868 465 942.7 209 1017.4 582 1092.1 742 1166.8 788 1241.6 739 1316.3 779 1391 799 1465.7 670 1540.4 596 1615.2 717 1689.9 667 1764.6 593 1839.3 698 1914 663 1988.8 485 2063.5 406"/>
<path class="cc" d="M344.9 392 419.6 272 494.4 594 569.1 542 643.8 533 718.5 431 793.2 327 868 353 942.7 305 1017.4 458 1092.1 723 1166.8 754 1241.6 870 1316.3 818 1391 710 1465.7 738 1540.4 757 1615.2 688 1689.9 511 1764.6 664 1839.3 637 1914 647 1988.8 543 2063.5 412"/>
<path class="cd" d="M344.9 295 419.6 312 494.4 499 569.1 440 643.8 559 718.5 337 793.2 451 868 468 942.7 325 1017.4 578 1092.1 762 1166.8 773 1241.6 843 1316.3 732 1391 738 1465.7 744 1540.4 706 1615.2 737 1689.9 602 1764.6 717 1839.3 611 1914 654 1988.8 385 2063.5 483"/>
<path class="ce" d="M344.9 248 419.6 426 494.4 459 569.1 446 643.8 604 718.5 535 793.2 472 868 426 942.7 276 1017.4 614 1092.1 741 1166.8 710 1241.6 875 1316.3 903 1391 688 1465.7 643 1540.4 636 1615.2 693 1689.9 634 1764.6 669 1839.3 760 1914 693 1988.8 559 2063.5 363"/>
<path class="cf" d="M344.9 224 419.6 399 494.4 350 569.1 504 643.8 431 718.5 623 793.2 372 868 420 942.7 364 1017.4 668 1092.1 777 1166.8 720 1241.6 832 1316.3 780 1391 756 1465.7 673 1540.4 716 1615.2 750 1689.9 674 1764.6 694 1839.3 710 1914 728 1988.8 424 2063.5 456"/>
<path class="cg" d="M344.9 154 419.6 519 494.4 321 569.1 440 643.8 441 718.5 576 793.2 458 868 198 942.7 321 1017.4 466 1092.1 685 1166.8 780 1241.6 832 1316.3 798 1391 722 1465.7 761 1540.4 636 1615.2 750 1689.9 661 1764.6 668 1839.3 674 1914 727 1988.8 403 2063.5 299"/>
<path class="ch" d="M344.9 324 419.6 500 494.4 495 569.1 542 643.8 597 718.5 460 793.2 357 868 421 942.7 281 1017.4 549 1092.1 670 1166.8 826 1241.6 755 1316.3 852 1391 705 1465.7 633 1540.4 597 1615.2 691 1689.9 691 1764.6 693 1839.3 763 1914 611 1988.8 479 2063.5 429"/>
<path class="ci" d="M344.9 237 419.6 607 494.4 315 569.1 369 643.8 557 718.5 283 793.2 487 868 317 942.7 500 1017.4 543 1092.1 601 1166.8 831 1241.6 908 1316.3 833 1391 825 1465.7 708 1540.4 661 1615.2 773 1689.9 760 1764.6 656 1839.3 627 1914 741 1988.8 380 2063.5 495"/>
<path class="cj" d="M344.9 493 419.6 513 494.4 387 569.1 422 643.8 569 718.5 410 793.2 367 868 442 942.7 397 1017.4 588 1092.1 685 1166.8 759 1241.6 846 1316.3 803 1391 680 1465.7 685 1540.4 629 1615.2 704 1689.9 584 1764.6 671 1839.3 770 1914 565 1988.8 434 2063.5 305"/>
<path class="ck" d="M344.9 395 419.6 454 494.4 421 569.1 442 643.8 605 718.5 551 793.2 288 868 397 942.7 365 1017.4 553 1092.1 731 1166.8 853 1241.6 860 1316.3 786 1391 728 1465.7 697 1540.4 605 1615.2 789 1689.9 625 1764.6 641 1839.3 698 1914 709 1988.8 460 2063.5 438"/>
<path class="cl" d="M344.9 203 419.6 484 494.4 502 569.1 419 643.8 571 718.5 481 793.2 423 868 370 942.7 300 1017.4 614 1092.1 737 1166.8 763 1241.6 864 1316.3 811 1391 767 1465.7 667 1540.4 690 1615.2 780 1689.9 692 1764.6 624 1839.3 712 1914 626 1988.8 508 2063.5 434"/>
<path class="ca" d="M344.9 450 419.6 321 494.4 465 569.1 357 643.8 507 718.5 460 793.2 340 868 435 942.7 469 1017.4 584 1092.1 673 1166.8 797 1241.6 790 1316.3 763 1391 663 1465.7 701 1540.4 618 1615.2 752 1689.9 615 1764.6 684 1839.3 699 1914 716 1988.8 468 2063.5 556"/>
<path class="cb" d="M344.9 179 419.6 573 494.4 376 569.1 482 643.8 447 718.5 660 793.2 364 868 386 942.7 256 1017.4 613 1092.1 822 1166.8 740 1241.6 828 1316.3 712 1391 773 1465.7 721 1540.4 671 1615.2 734 1689.9 671 1764.6 657 1839.3 607 1914 639 1988.8 464 2063.5 584"/>
<path class="cc" d="M344.9 278 419.6 341 494.4 410 569.1 424 643.8 416 718.5 444 793.2 238 868 385 942.7 381 1017.4 582 1092.1 661 1166.8 919 1241.6 829 1316.3 856 1391 738 1465.7 677 1540.4 563 1615.2 737 1689.9 642 1764.6 731 1839.3 737 1914 669 1988.8 480 2063.5 334"/>
<path class="cd" d="M344.9 364 419.6 548 494.4 406 569.1 430 643.8 407 718.5 425 793.2 534 868 396 942.7 395 1017.4 674 1092.1 778 1166.8 837 1241.6 837 1316.3 826 1391 723 1465.7 769 1540.4 674 1615.2 741 1689.9 642 1764.6 759 1839.3 675 1914 692 1988.8 617 2063.5 351"/>
<path class="ce" d="M344.9 360 419.6 362 494.4 315 569.1 394 643.8 593 718.5 437 793.2 449 868 537 942.7 528 1017.4 606 1092.1 721 1166.8 825 1241.6 793 1316.3 775 1391 680 1465.7 740 1540.4 672 1615.2 700 1689.9 654 1764.6 578 1839.3 710 1914 660 1988.8 537 2063.5 498"/>
<path class="cf" d="M344.9 249 419.6 523 494.4 392 569.1 598 643.8 484 718.5 482 793.2 360 868 413 942.7 321 1017.4 569 1092.1 669 1166.8 766 1241.6 903 1316.3 743 1391 688 1465.7 778 1540.4 617 1615.2 706 1689.9 594 1764.6 670 1839.3 665 1914 689 1988.8 526 2063.5 373"/>
<path class="cg" d="M344.9 295 419.6 476 494.4 495 569.1 417 643.8 533 718.5 391 793.2 416 868 413 942.7 453 1017.4 547 1092.1 803 1166.8 829 1241.6 791 1316.3 806 1391 768 1465.7 693 1540.4 606 1615.2 730 1689.9 694 1764.6 652 1839.3 779 1914 669 1988.8 596 2063.5 337"/>
<path class="ch" d="M344.9 469 419.6 368 494.4 494 569.1 344 643.8 460 718.5 554 793.2 374 868 454 942.7 337 1017.4 517 1092.1 631 1166.8 763 1241.6 791 1316.3 743 1391 799 1465.7 741 1540.4 674 1615.2 777 1689.9 674 1764.6 659 1839.3 680 1914 634 1988.8 522 2063.5 379"/>
<path class="ci" d="M344.9 346 419.6 252 494.4 408 569.1 507 643.8 365 718.5 466 793.2 414 868 230 942.7 401 1017.4 559 1092.1 695 1166.8 868 1241.6 846 1316.3 737 1391 698 1465.7 682 1540.4 720 1615.2 748 1689.9 681 1764.6 685 1839.3 770 1914 702 1988.8 579 2063.5 436"/>
<path class="cj" d="M344.9 435 419.6 458 494.4 429 569.1 401 643.8 620 718.5 512 793.2 384 868 361 942.7 514 1017.4 571 1092.1 644 1166.8 736 1241.6 886 1316.3 826 1391 676 1465.7 703 1540.4 699 1615.2 724 1689.9 612 1764.6 742 1839.3 726 1914 754 1988.8 582 2063.5 423"/>
<path class="ck" d="M344.9 571 419.6 387 494.4 495 569.1 409 643.8 467 718.5 430 793.2 298 868 366 942.7 399 1017.4 616 1092.1 646 1166.8 787 1241.6 799 1316.3 731 1391 771 1465.7 770 1540.4 649 1615.2 752 1689.9 542 1764.6 619 1839.3 668 1914 666 1988.8 493 2063.5 543"/>
<path class="cl" d="M344.9 523 419.6 496 494.4 372 569.1 582 643.8 517 718.5 389 793.2 201 868 412 942.7 434 1017.4 533 1092.1 644 1166.8 807 1241.6 833 1316.3 754 1391 742 1465.7 763 1540.4 719 1615.2 778 1689.9 663 1764.6 709 1839.3 591 1914 696 1988.8 574 2063.5 523"/>
<path class="ca" d="M344.9 411 419.6 368 494.4 575 569.1 450 643.8 519 718.5 466 793.2 388 868 387 942.7 417 1017.4 587 1092.1 663 1166.8 862 1241.6 834 1316.3 821 1391 741 1465.7 683 1540.4 671 1615.2 754 1689.9 526 1764.6 663 1839.3 678 1914 707 1988.8 433 2063.5 503"/>
<path class="cb" d="M344.9 383 419.6 420 494.4 593 569.1 581 643.8 666 718.5 511 793.2 294 868 479 942.7 581 1017.4 630 1092.1 794 1166.8 672 1241.6 745 1316.3 861 1391 853 1465.7 616 1540.4 608 1615.2 716 1689.9 670 1764.6 511 1839.3 678 1914 685 1988.8 356 2063.5 451"/>
<path class="cc" d="M344.9 280 419.6 369 494.4 508 569.1 447 643.8 528 718.5 452 793.2 447 868 274 942.7 420 1017.4 533 1092.1 786 1166.8 722 1241.6 791 1316.3 764 1391 737 1465.7 712 1540.4 689 1615.2 787 1689.9 657 1764.6 700 1839.3 802 1914 735 1988.8 588 2063.5 472"/>
<path class="cd" d="M344.9 213 419.6 357 494.4 410 569.1 543 643.8 535 718.5 517 793.2 297 868 426 942.7 451 1017.4 557 1092.1 766 1166.8 734 1241.6 856 1316.3 797 1391 743 1465.7 770 1540.4 672 1615.2 704 1689.9 749 1764.6 713 1839.3 657 1914 736 1988.8 572 2063.5 335"/>
<path class="ce" d="M344.9 380 419.6 372 494.4 419 569.1 451 643.8 474 718.5 466 793.2 554 868 465 942.7 377 1017.4 595 1092.1 705 1166.8 764 1241.6 842 1316.3 763 1391 842 1465.7 694 1540.4 636 1615.2 680 1689.9 562 1764.6 674 1839.3 751 1914 607 1988.8 436 2063.5 515"/>
<path class="cf" d="M344.9 374 419.6 426 494.4 518 569.1 416 643.8 459 718.5 460 793.2 329 868 467 942.7 390 1017.4 594 1092.1 675 1166.8 849 1241.6 763 1316.3 829 1391 684 1465.7 705 1540.4 615 1615.2 754 1689.9 689 1764.6 722 1839.3 724 1914 636 1988.8 430 2063.5 284"/>
<path class="cg" d="M344.9 394 419.6 430 494.4 489 569.1 418 643.8 638 718.5 408 793.2 311 868 535 942.7 530 1017.4 592 1092.1 734 1166.8 690 1241.6 828 1316.3 785 1391 727 1465.7 606 1540.4 684 1615.2 698 1689.9 676 1764.6 682 1839.3 764 1914 777 1988.8 423 2063.5 392"/>
<path class="ch" d="M344.9 366 419.6 430 494.4 330 569.1 427 643.8 374 718.5 505 793.2 452 868 480 942.7 443 1017.4 587 1092.1 643 1166.8 706 1241.6 749 1316.3 674 1391 646 1465.7 647 1540.4 708 1615.2 733 1689.9 577 1764.6 678 1839.3 665 1914 738 1988.8 353 2063.5 385"/>
<path class="ci" d="M344.9 303 419.6 424 494.4 352 569.1 455 643.8 435 718.5 346 793.2 434 868 490 942.7 370 1017.4 484 1092.1 598 1166.8 810 1241.6 861 1316.3 794 1391 748 1465.7 736 1540.4 686 1615.2 678 1689.9 637 1764.6 682 1839.3 645 1914 596 1988.8 605 2063.5 363"/>
<path class="cj" d="M344.9 369 419.6 302 494.4 508 569.1 472 643.8 635 718.5 419 793.2 548 868 287 942.7 421 1017.4 604 1092.1 718 1166.8 729 1241.6 809 1316.3 802 1391 755 1465.7 750 1540.4 636 1615.2 711 1689.9 612 1764.6 673 1839.3 722 1914 676 1988.8 549 2063.5 477"/>
<path class="ck" d="M344.9 199 419.6 406 494.4 459 569.1 365 643.8 504 718.5 412 793.2 488 868 395 942.7 351 1017.4 574 1092.1 772 1166.8 750 1241.6 808 1316.3 854 1391 716 1465.7 620 1540.4 656 1615.2 806 1689.9 534 1764.6 705 1839.3 649 1914 555 1988.8 527 2063.5 625"/>
<path class="cl" d="M344.9 322 419.6 534 494.4 564 569.1 492 643.8 610 718.5 486 793.2 511 868 497 942.7 465 1017.4 661 1092.1 777 1166.8 863 1241.6 879 1316.3 809 1391 795 1465.7 642 1540.4 720 1615.2 765 1689.9 660 1764.6 671 1839.3 745 1914 639 1988.8 535 2063.5 306"/>
<path class="ca" d="M344.9 372 419.6 258 494.4 654 569.1 540 643.8 578 718.5 393 793.2 381 868 304 942.7 473 1017.4 526 1092.1 689 1166.8 781 1241.6 757 1316.3 796 1391 604 1465.7 734 1540.4 721 1615.2 735 1689.9 710 1764.6 677 1839.3 800 1914 749 1988.8 430 2063.5 474"/>
<path class="cb" d="M344.9 451 419.6 467 494.4 508 569.1 474 643.8 454 718.5 368 793.2 383 868 372 942.7 384 1017.4 589 1092.1 747 1166.8 759 1241.6 829 1316.3 761 1391 725 1465.7 672 1540.4 738 1615.2 736 1689.9 638 1764.6 680 1839.3 715 1914 661 1988.8 459 2063.5 396"/>
<path class="cc" d="M344.9 301 419.6 243 494.4 417 569.1 406 643.8 622 718.5 390 793.2 343 868 529 942.7 487 1017.4 599 1092.1 635 1166.8 781 1241.6 802 1316.3 807 1391 802 1465.7 694 1540.4 665 1615.2 806 1689.9 633 1764.6 587 1839.3 782 1914 623 1988.8 426 2063.5 372"/>
<path class="cd" d="M344.9 417 419.6 399 494.4 509 569.1 504 643.8 505 718.5 397 793.2 465 868 425 942.7 386 1017.4 502 1092.1 684 1166.8 814 1241.6 782 1316.3 858 1391 729 1465.7 612 1540.4 694 1615.2 776 1689.9 674 1764.6 671 1839.3 773 1914 543 1988.8 658 2063.5 690"/>
<path class="ce" d="M344.9 314 419.6 449 494.4 425 569.1 348 643.8 455 718.5 411 793.2 287 868 315 942.7 626 1017.4 530 1092.1 697 1166.8 793 1241.6 831 1316.3 788 1391 768 1465.7 659 1540.4 763 1615.2 765 1689.9 621 1764.6 612 1839.3 691 1914 660 1988.8 378 2063.5 336"/>
<path class="cf" d="M344.9 513 419.6 430 494.4 368 569.1 483 643.8 402 718.5 517 793.2 496 868 425 942.7 424 1017.4 516 1092.1 700 1166.8 757 1241.6 811 1316.3 807 1391 744 1465.7 766 1540.4 596 1615.2 761 1689.9 600 1764.6 641 1839.3 732 1914 625 1988.8 493 2063.5 447"/>
<path class="cg" d="M344.9 222 419.6 451 494.4 529 569.1 424 643.8 663 718.5 578 793.2 182 868 434 942.7 323 1017.4 597 1092.1 731 1166.8 867 1241.6 833 1316.3 709 1391 733 1465.7 696 1540.4 693 1615.2 762 1689.9 704 1764.6 665 1839.3 668 1914 674 1988.8 549 2063.5 321"/>
<path class="ch" d="M344.9 394 419.6 515 494.4 404 569.1 414 643.8 414 718.5 495 793.2 526 868 471 942.7 484 1017.4 638 1092.1 713 1166.8 816 1241.6 829 1316.3 799 1391 734 1465.7 665 1540.4 651 1615.2 661 1689.9 668 1764.6 654 1839.3 653 1914 706 1988.8 410 2063.5 489"/>
<path class="ci" d="M344.9 498 419.6 417 494.4 640 569.1 475 643.8 443 718.5 535 793.2 440 868 412 942.7 344 1017.4 684 1092.1 687 1166.8 731 1241.6 719 1316.3 747 1391 776 1465.7 695 1540.4 696 1615.2 712 1689.9 634 1764.6 691 1839.3 772 1914 682 1988.8 405 2063.5 400"/>
<path class="cj" d="M344.9 194 419.6 476 494.4 471 569.1 478 643.8 380 718.5 495 793.2 323 868 568 942.7 484 1017.4 560 1092.1 748 1166.8 761 1241.6 935 1316.3 803 1391 695 1465.7 789 1540.4 565 1615.2 717 1689.9 675 1764.6 617 1839.3 738 1914 613 1988.8 636 2063.5 446"/>
<path class="ck" d="M344.9 316 419.6 410 494.4 564 569.1 316 643.8 517 718.5 307 793.2 559 868 465 942.7 512 1017.4 566 1092.1 713 1166.8 757 1241.6 799 1316.3 761 1391 750 1465.7 732 1540.4 681 1615.2 794 1689.9 533 1764.6 669 1839.3 636 1914 631 1988.8 551 2063.5 478"/>
<path class="cl" d="M344.9 336 419.6 524 494.4 471 569.1 338 643.8 637 718.5 535 793.2 426 868 658 942.7 436 1017.4 429 1092.1 713 1166.8 757 1241.6 769 1316.3 825 1391 781 1465.7 694 1540.4 719 1615.2 672 1689.9 540 1764.6 683 1839.3 696 1914 729 1988.8 425 2063.5 478"/>
<path class="ca" d="M344.9 465 419.6 529 494.4 354 569.1 361 643.8 489 718.5 555 793.2 103 868 366 942.7 496 1017.4 436 1092.1 673 1166.8 793 1241.6 808 1316.3 813 1391 645 1465.7 729 1540.4 724 1615.2 700 1689.9 585 1764.6 673 1839.3 699 1914 630 1988.8 507 2063.5 337"/>
<path class="cb" d="M344.9 324 419.6 404 494.4 513 569.1 433 643.8 486 718.5 446 793.2 188 868 390 942.7 329 1017.4 580 1092.1 792 1166.8 732 1241.6 830 1316.3 771 1391 714 1465.7 795 1540.4 652 1615.2 674 1689.9 558 1764.6 662 1839.3 718 1914 686 1988.8 415 2063.5 378"/>
<path class="cc" d="M344.9 449 419.6 472 494.4 324 569.1 339 643.8 454 718.5 587 793.2 488 868 449 942.7 429 1017.4 611 1092.1 706 1166.8 875 1241.6 845 1316.3 782 1391 710 1465.7 706 1540.4 601 1615.2 687 1689.9 651 1764.6 597 1839.3 666 1914 606 1988.8 480 2063.5 474"/>
<path class="cd" d="M344.9 431 419.6 484 494.4 532 569.1 492 643.8 423 718.5 477 793.2 329 868 333 942.7 316 1017.4 637 1092.1 573 1166.8 820 1241.6 865 1316.3 785 1391 755 1465.7 708 1540.4 745 1615.2 791 1689.9 540 1764.6 731 1839.3 806 1914 522 1988.8 467 2063.5 514"/>
<path class="ce" d="M344.9 483 419.6 502 494.4 487 569.1 441 643.8 513 718.5 430 793.2 515 868 434 942.7 503 1017.4 534 1092.1 748 1166.8 818 1241.6 807 1316.3 729 1391 681 1465.7 734 1540.4 647 1615.2 800 1689.9 682 1764.6 644 1839.3 651 1914 562 1988.8 576 2063.5 334"/>
<path class="cf" d="M344.9 292 419.6 454 494.4 415 569.1 451 643.8 430 718.5 617 793.2 451 868 254 942.7 491 1017.4 598 1092.1 695 1166.8 791 1241.6 823 1316.3 715 1391 802 1465.7 662 1540.4 624 1615.2 743 1689.9 627 1764.6 603 1839.3 672 1914 662 1988.8 378 2063.5 464"/>
<path class="cg" d="M344.9 389 419.6 395 494.4 573 569.1 503 643.8 505 718.5 427 793.2 483 868 294 942.7 546 1017.4 606 1092.1 684 1166.8 848 1241.6 801 1316.3 720 1391 815 1465.7 643 1540.4 673 1615.2 713 1689.9 562 1764.6 682 1839.3 719 1914 633 1988.8 416 2063.5 308"/>
<path class="ch" d="M344.9 292 419.6 433 494.4 395 569.1 594 643.8 593 718.5 615 793.2 506 868 397 942.7 469 1017.4 636 1092.1 760 1166.8 769 1241.6 783 1316.3 787 1391 760 1465.7 784 1540.4 577 1615.2 726 1689.9 700 1764.6 653 1839.3 669 1914 757 1988.8 550 2063.5 486"/>
<path class="ci" d="M344.9 285 419.6 465 494.4 545 569.1 528 643.8 350 718.5 472 793.2 280 868 353 942.7 444 1017.4 601 1092.1 768 1166.8 747 1241.6 782 1316.3 760 1391 729 1465.7 791 1540.4 681 1615.2 738 1689.9 610 1764.6 609 1839.3 713 1914 626 1988.8 377 2063.5 496"/>
<path class="cj" d="M344.9 419 419.6 552 494.4 440 569.1 526 643.8 487 718.5 373 793.2 351 868 431 942.7 367 1017.4 479 1092.1 667 1166.8 820 1241.6 852 1316.3 890 1391 710 1465.7 683 1540.4 551 1615.2 736 1689.9 590 1764.6 604 1839.3 663 1914 668 1988.8 430 2063.5 474"/>
<path class="ck" d="M344.9 302 419.6 488 494.4 424 569.1 408 643.8 488 718.5 530 793.2 241 868 402 942.7 423 1017.4 498 1092.1 656 1166.8 821 1241.6 846 1316.3 836 1391 829 1465.7 651 1540.4 642 1615.2 837 1689.9 643 1764.6 631 1839.3 734 1914 658 1988.8 501 2063.5 364"/>
<path class="cl" d="M344.9 256 419.6 489 494.4 564 569.1 478 643.8 558 718.5 611 793.2 342 868 217 942.7 439 1017.4 504 1092.1 689 1166.8 819 1241.6 876 1316.3 765 1391 662 1465.7 704 1540.4 643 1615.2 802 1689.9 720 1764.6 643 1839.3 752 1914 727 1988.8 500 2063.5 453"/>
<path class="ca" d="M344.9 366 419.6 317 494.4 612 569.1 343 643.8 438 718.5 490 793.2 397 868 431 942.7 237 1017.4 619 1092.1 774 1166.8 734 1241.6 803 1316.3 822 1391 759 1465.7 657 1540.4 743 1615.2 776 1689.9 655 1764.6 652 1839.3 709 1914 598 1988.8 516 2063.5 486"/>
<path class="cb" d="M344.9 356 419.6 426 494.4 437 569.1 306 643.8 584 718.5 491 793.2 376 868 618 942.7 367 1017.4 529 1092.1 730 1166.8 764 1241.6 853 1316.3 855 1391 660 1465.7 738 1540.4 657 1615.2 718 1689.9 584 1764.6 700 1839.3 653 1914 610 1988.8 563 2063.5 349"/>
<path class="cc" d="M344.9 335 419.6 625 494.4 432 569.1 476 643.8 446 718.5 541 793.2 352 868 477 942.7 504 1017.4 408 1092.1 654 1166.8 778 1241.6 903 1316.3 744 1391 723 1465.7 683 1540.4 672 1615.2 805 1689.9 765 1764.6 597 1839.3 717 1914 652 1988.8 506 2063.5 355"/>
<path class="cd" d="M344.9 407 419.6 397 494.4 353 569.1 409 643.8 437 718.5 433 793.2 442 868 446 942.7 435 1017.4 721 1092.1 775 1166.8 805 1241.6 777 1316.3 818 1391 702 1465.7 718 1540.4 596 1615.2 754 1689.9 640 1764.6 664 1839.3 687 1914 624 1988.8 411 2063.5 391"/>
<path class="ce" d="M344.9 313 419.6 591 494.4 388 569.1 403 643.8 357 718.5 611 793.2 436 868 287 942.7 563 1017.4 691 1092.1 615 1166.8 782 1241.6 795 1316.3 794 1391 753 1465.7 739 1540.4 621 1615.2 804 1689.9 696 1764.6 749 1839.3 740 1914 599 1988.8 566 2063.5 494"/>
<path class="cf" d="M344.9 453 419.6 316 494.4 563 569.1 406 643.8 595 718.5 533 793.2 436 868 508 942.7 378 1017.4 570 1092.1 655 1166.8 898 1241.6 894 1316.3 861 1391 794 1465.7 731 1540.4 579 1615.2 814 1689.9 619 1764.6 673 1839.3 782 1914 718 1988.8 420 2063.5 466"/>
<path class="cg" d="M344.9 400 419.6 406 494.4 516 569.1 336 643.8 416 718.5 477 793.2 491 868 373 942.7 465 1017.4 558 1092.1 601 1166.8 737 1241.6 869 1316.3 721 1391 712 1465.7 771 1540.4 695 1615.2 773 1689.9 607 1764.6 612 1839.3 773 1914 711 1988.8 327 2063.5 432"/>
<path class="ch" d="M344.9 233 419.6 305 494.4 534 569.1 410 643.8 564 718.5 435 793.2 434 868 375 942.7 408 1017.4 603 1092.1 659 1166.8 843 1241.6 829 1316.3 825 1391 587 1465.7 673 1540.4 619 1615.2 759 1689.9 614 1764.6 656 1839.3 764 1914 658 1988.8 437 2063.5 448"/>
<path class="ci" d="M344.9 295 419.6 380 494.4 494 569.1 438 643.8 471 718.5 285 793.2 299 868 522 942.7 461 1017.4 568 1092.1 702 1166.8 735 1241.6 763 1316.3 778 1391 797 1465.7 626 1540.4 672 1615.2 677 1689.9 703 1764.6 740 1839.3 702 1914 643 1988.8 388 2063.5 436"/>
<path class="cj" d="M344.9 380 419.6 498 494.4 547 569.1 384 643.8 509 718.5 448 793.2 381 868 490 942.7 481 1017.4 589 1092.1 720 1166.8 726 1241.6 811 1316.3 743 1391 780 1465.7 762 1540.4 614 1615.2 835 1689.9 621 1764.6 683 1839.3 711 1914 631 1988.8 563 2063.5 475"/>
<path class="ck" d="M344.9 261 419.6 423 494.4 464 569.1 585 643.8 470 718.5 497 793.2 446 868 456 942.7 369 1017.4 396 1092.1 771 1166.8 770 1241.6 838 1316.3 811 1391 750 1465.7 686 1540.4 697 1615.2 771 1689.9 791 1764.6 652 1839.3 669 1914 720 1988.8 545 2063.5 402"/>
<path class="cl" d="M344.9 459 419.6 433 494.4 248 569.1 395 643.8 548 718.5 478 793.2 305 868 465 942.7 523 1017.4 506 1092.1 713 1166.8 749 1241.6 777 1316.3 748 1391 719 1465.7 696 1540.4 675 1615.2 726 1689.9 707 1764.6 653 1839.3 692 1914 715 1988.8 364 2063.5 594"/>
<path class="ca" d="M344.9 316 419.6 447 494.4 554 569.1 396 643.8 373 718.5 498 793.2 207 868 320 942.7 490 1017.4 590 1092.1 693 1166.8 870 1241.6 805 1316.3 780 1391 686 1465.7 707 1540.4 702 1615.2 770 1689.9 685 1764.6 743 1839.3 665 1914 695 1988.8 452 2063.5 415"/>
<path class="cb" d="M344.9 378 419.6 528 494.4 491 569.1 365 643.8 600 718.5 409 793.2 440 868 534 942.7 466 1017.4 542 1092.1 625 1166.8 815 1241.6 917 1316.3 706 1391 712 1465.7 767 1540.4 733 1615.2 748 1689.9 699 1764.6 575 1839.3 815 1914 730 1988.8 475 2063.5 335"/>
<path class="cc" d="M344.9 293 419.6 367 494.4 298 569.1 290 643.8 441 718.5 504 793.2 471 868 416 942.7 453 1017.4 546 1092.1 699 1166.8 654 1241.6 740 1316.3 826 1391 746 1465.7 748 1540.4 704 1615.2 704 1689.9 561 1764.6 602 1839.3 688 1914 697 1988.8 436 2063.5 424"/>
<path class="cd" d="M344.9 353 419.6 463 494.4 334 569.1 439 643.8 617 718.5 479 793.2 284 868 550 942.7 609 1017.4 608 1092.1 720 1166.8 765 1241.6 896 1316.3 810 1391 741 1465.7 736 1540.4 698 1615.2 750 1689.9 569 1764.6 649 1839.3 724 1914 683 1988.8 437 2063.5 427"/>
<path class="ce" d="M344.9 408 419.6 260 494.4 463 569.1 379 643.8 543 718.5 454 793.2 360 868 391 942.7 538 1017.4 593 1092.1 726 1166.8 857 1241.6 831 1316.3 731 1391 701 1465.7 838 1540.4 698 1615.2 704 1689.9 681 1764.6 646 1839.3 749 1914 691 1988.8 523 2063.5 441"/>
<path class="cf" d="M344.9 383 419.6 415 494.4 499 569.1 400 643.8 481 718.5 524 793.2 407 868 428 942.7 607 1017.4 545 1092.1 698 1166.8 754 1241.6 854 1316.3 777 1391 713 1465.7 683 1540.4 571 1615.2 769 1689.9 578 1764.6 651 1839.3 723 1914 564 1988.8 405 2063.5 488"/>
<path class="cg" d="M344.9 367 419.6 389 494.4 343 569.1 415 643.8 487 718.5 445 793.2 350 868 312 942.7 470 1017.4 485 1092.1 659 1166.8 835 1241.6 892 1316.3 801 1391 787 1465.7 706 1540.4 630 1615.2 711 1689.9 609 1764.6 692 1839.3 713 1914 640 1988.8 553 2063.5 442"/>
<path class="ch" d="M344.9 282 419.6 571 494.4 428 569.1 342 643.8 379 718.5 365 793.2 593 868 416 942.7 424 1017.4 640 1092.1 657 1166.8 837 1241.6 799 1316.3 801 1391 666 1465.7 708 1540.4 614 1615.2 753 1689.9 725 1764.6 683 1839.3 656 1914 650 1988.8 490 2063.5 604"/>
<path class="ci" d="M344.9 409 419.6 578 494.4 561 569.1 485 643.8 552 718.5 433 793.2 403 868 383 942.7 335 1017.4 564 1092.1 801 1166.8 748 1241.6 837 1316.3 726 1391 653 1465.7 697 1540.4 532 1615.2 742 1689.9 732 1764.6 723 1839.3 613 1914 581 1988.8 404 2063.5 404"/>
<path class="cj" d="M344.9 230 419.6 514 494.4 339 569.1 455 643.8 591 718.5 519 793.2 464 868 331 942.7 430 1017.4 631 1092.1 768 1166.8 709 1241.6 801 1316.3 840 1391 722 1465.7 661 1540.4 690 1615.2 632 1689.9 615 1764.6 633 1839.3 767 1914 680 1988.8 337 2063.5 417"/>
<path class="ck" d="M344.9 397 419.6 467 494.4 475 569.1 541 643.8 640 718.5 585 793.2 442 868 399 942.7 553 1017.4 510 1092.1 648 1166.8 816 1241.6 862 1316.3 848 1391 623 1465.7 562 1540.4 645 1615.2 738 1689.9 634 1764.6 659 1839.3 784 1914 696 1988.8 475 2063.5 637"/>
<path class="cl" d="M344.9 331 419.6 378 494.4 473 569.1 454 643.8 613 718.5 476 793.2 301 868 364 942.7 488 1017.4 568 1092.1 708 1166.8 775 1241.6 866 1316.3 758 1391 708 1465.7 685 1540.4 562 1615.2 732 1689.9 544 1764.6 667 1839.3 831 1914 561 1988.8 324 2063.5 415"/>
<path class="ca" d="M344.9 570 419.6 411 494.4 390 569.1 298 643.8 434 718.5 379 793.2 303 868 422 942.7 393 1017.4 545 1092.1 713 1166.8 808 1241.6 910 1316.3 893 1391 786 1465.7 711 1540.4 740 1615.2 780 1689.9 645 1764.6 629 1839.3 764 1914 697 1988.8 489 2063.5 513"/>
<path class="cb" d="M344.9 445 419.6 527 494.4 618 569.1 509 643.8 516 718.5 505 793.2 302 868 495 942.7 565 1017.4 562 1092.1 681 1166.8 801 1241.6 878 1316.3 668 1391 617 1465.7 630 1540.4 707 1615.2 688 1689.9 649 1764.6 775 1839.3 685 1914 701 1988.8 574 2063.5 561"/>
<path class="cc" d="M344.9 323 419.6 407 494.4 516 569.1 494 643.8 562 718.5 448 793.2 450 868 552 942.7 359 1017.4 649 1092.1 675 1166.8 707 1241.6 785 1316.3 809 1391 698 1465.7 793 1540.4 667 1615.2 689 1689.9 667 1764.6 654 1839.3 684 1914 731 1988.8 567 2063.5 374"/>
<path class="cd" d="M344.9 306 419.6 481 494.4 359 569.1 395 643.8 473 718.5 492 793.2 550 868 264 942.7 582 1017.4 649 1092.1 716 1166.8 780 1241.6 856 1316.3 754 1391 780 1465.7 673 1540.4 690 1615.2 783 1689.9 649 1764.6 636 1839.3 644 1914 721 1988.8 444 2063.5 572"/>
<path class="ce" d="M344.9 418 419.6 591 494.4 374 569.1 450 643.8 463 718.5 468 793.2 421 868 429 942.7 570 1017.4 551 1092.1 694 1166.8 778 1241.6 882 1316.3 736 1391 678 1465.7 613 1540.4 670 1615.2 722 1689.9 571 1764.6 804 1839.3 726 1914 665 1988.8 604 2063.5 373"/>
<path class="cf" d="M344.9 360 419.6 509 494.4 575 569.1 343 643.8 659 718.5 531 793.2 515 868 372 942.7 494 1017.4 558 1092.1 728 1166.8 769 1241.6 843 1316.3 680 1391 642 1465.7 813 1540.4 660 1615.2 698 1689.9 614 1764.6 792 1839.3 705 1914 580 1988.8 457 2063.5 432"/>
<path class="cg" d="M344.9 430 419.6 585 494.4 515 569.1 558 643.8 505 718.5 576 793.2 480 868 359 942.7 533 1017.4 577 1092.1 747 1166.8 808 1241.6 859 1316.3 807 1391 745 1465.7 689 1540.4 752 1615.2 707 1689.9 732 1764.6 620 1839.3 618 1914 683 1988.8 573 2063.5 444"/>
<path class="ch" d="M344.9 238 419.6 359 494.4 445 569.1 498 643.8 503 718.5 625 793.2 399 868 490 942.7 431 1017.4 628 1092.1 760 1166.8 772 1241.6 850 1316.3 821 1391 703 1465.7 737 1540.4 791 1615.2 700 1689.9 713 1764.6 624 1839.3 757 1914 618 1988.8 411 2063.5 335"/>
<path class="ci" d="M344.9 474 419.6 487 494.4 477 569.1 359 643.8 553 718.5 319 793.2 304 868 406 942.7 415 1017.4 487 1092.1 578 1166.8 776 1241.6 888 1316.3 840 1391 655 1465.7 747 1540.4 578 1615.2 749 1689.9 660 1764.6 620 1839.3 697 1914 702 1988.8 569 2063.5 647"/>
<path class="cj" d="M344.9 442 419.6 462 494.4 527 569.1 439 643.8 479 718.5 558 793.2 293 868 282 942.7 403 1017.4 658 1092.1 741 1166.8 737 1241.6 822 1316.3 877 1391 682 1465.7 691 1540.4 706 1615.2 883 1689.9 609 1764.6 574 1839.3 596 1914 641 1988.8 458 2063.5 536"/>
<path class="ck" d="M344.9 144 419.6 450 494.4 465 569.1 451 643.8 534 718.5 456 793.2 447 868 297 942.7 406 1017.4 611 1092.1 727 1166.8 812 1241.6 882 1316.3 828 1391 690 1465.7 734 1540.4 645 1615.2 714 1689.9 763 1764.6 724 1839.3 695 1914 659 1988.8 421 2063.5 353"/>
<path class="cl" d="M344.9 256 419.6 558 494.4 477 569.1 371 643.8 503 718.5 431 793.2 463 868 449 942.7 419 1017.4 710 1092.1 710 1166.8 724 1241.6 762 1316.3 732 1391 736 1465.7 712 1540.4 628 1615.2 722 1689.9 646 1764.6 651 1839.3 731 1914 684 1988.8 459 2063.5 565"/>
<path class="ca" d="M344.9 369 419.6 501 494.4 450 569.1 405 643.8 557 718.5 416 793.2 394 868 351 942.7 455 1017.4 634 1092.1 678 1166.8 753 1241.6 870 1316.3 806 1391 562 1465.7 626 1540.4 702 1615.2 735 1689.9 669 1764.6 688 1839.3 666 1914 676 1988.8 504 2063.5 452"/>
<path class="cb" d="M344.9 259 419.6 482 494.4 453 569.1 426 643.8 537 718.5 395 793.2 155 868 480 942.7 483 1017.4 472 1092.1 758 1166.8 802 1241.6 876 1316.3 785 1391 707 1465.7 727 1540.4 777 1615.2 708 1689.9 630 1764.6 723 1839.3 824 1914 638 1988.8 410 2063.5 361"/>
<path class="cc" d="M344.9 287 419.6 376 494.4 413 569.1 512 643.8 510 718.5 371 793.2 332 868 456 942.7 405 1017.4 599 1092.1 692 1166.8 700 1241.6 749 1316.3 854 1391 750 1465.7 649 1540.4 596 1615.2 724 1689.9 654 1764.6 642 1839.3 646 1914 618 1988.8 470 2063.5 563"/>
<path class="cd" d="M344.9 488 419.6 519 494.4 481 569.1 495 643.8 433 718.5 439 793.2 356 868 482 942.7 332 1017.4 474 1092.1 704 1166.8 797 1241.6 821 1316.3 814 1391 799 1465.7 627 1540.4 646 1615.2 786 1689.9 744 1764.6 620 1839.3 801 1914 753 1988.8 707 2063.5 565"/>
<path class="ce" d="M344.9 314 419.6 473 494.4 458 569.1 480 643.8 501 718.5 460 793.2 353 868 383 942.7 369 1017.4 579 1092.1 758 1166.8 717 1241.6 798 1316.3 853 1391 804 1465.7 796 1540.4 651 1615.2 858 1689.9 716 1764.6 634 1839.3 711 1914 615 1988.8 535 2063.5 520"/>
<path class="cf" d="M344.9 323 419.6 362 494.4 414 569.1 400 643.8 546 718.5 509 793.2 405 868 427 942.7 564 1017.4 689 1092.1 710 1166.8 812 1241.6 885 1316.3 816 1391 809 1465.7 783 1540.4 656 1615.2 726 1689.9 709 1764.6 591 1839.3 736 1914 725 1988.8 439 2063.5 402"/>
<path class="cg" d="M344.9 445 419.6 440 494.4 342 569.1 505 643.8 500 718.5 496 793.2 264 868 573 942.7 421 1017.4 625 1092.1 700 1166.8 711 1241.6 803 1316.3 810 1391 733 1465.7 693 1540.4 671 1615.2 706 1689.9 604 1764.6 692 1839.3 657 1914 690 1988.8 443 2063.5 467"/>
<path class="ch" d="M344.9 466 419.6 521 494.4 428 569.1 403 643.8 474 718.5 498 793.2 398 868 414 942.7 502 1017.4 609 1092.1 788 1166.8 703 1241.6 856 1316.3 721 1391 645 1465.7 679 1540.4 700 1615.2 753 1689.9 679 1764.6 688 1839.3 694 1914 628 1988.8 399 2063.5 461"/>
<path class="ci" d="M344.9 396 419.6 416 494.4 454 569.1 467 643.8 384 718.5 398 793.2 380 868 355 942.7 514 1017.4 659 1092.1 724 1166.8 732 1241.6 874 1316.3 827 1391 730 1465.7 716 1540.4 636 1615.2 682 1689.9 765 1764.6 758 1839.3 716 1914 651 1988.8 396 2063.5 447"/>
<path class="cj" d="M344.9 429 419.6 463 494.4 546 569.1 321 643.8 530 718.5 568 793.2 422 868 458 942.7 454 1017.4 473 1092.1 720 1166.8 880 1241.6 742 1316.3 656 1391 692 1465.7 665 1540.4 741 1615.2 713 1689.9 682 1764.6 651 1839.3 628 1914 769 1988.8 591 2063.5 471"/>
<path class="ck" d="M344.9 399 419.6 387 494.4 408 569.1 490 643.8 540 718.5 537 793.2 444 868 191 942.7 358 1017.4 366 1092.1 691 1166.8 762 1241.6 876 1316.3 811 1391 740 1465.7 594 1540.4 679 1615.2 712 1689.9 603 1764.6 762 1839.3 691 1914 640 1988.8 482 2063.5 601"/>
<path class="cl" d="M344.9 189 419.6 507 494.4 392 569.1 439 643.8 518 718.5 399 793.2 610 868 574 942.7 421 1017.4 572 1092.1 707 1166.8 826 1241.6 729 1316.3 764 1391 635 1465.7 705 1540.4 664 1615.2 708 1689.9 648 1764.6 735 1839.3 657 1914 674 1988.8 527 2063.5 425"/>
<path class="ca" d="M344.9 254 419.6 487 494.4 374 569.1 449 643.8 459 718.5 482 793.2 260 868 472 942.7 544 1017.4 612 1092.1 638 1166.8 824 1241.6 887 1316.3 775 1391 802 1465.7 659 1540.4 622 1615.2 803 1689.9 520 1764.6 758 1839.3 725 1914 658 1988.8 415 2063.5 406"/>
<path class="cb" d="M344.9 344 419.6 370 494.4 460 569.1 483 643.8 573 718.5 479 793.2 356 868 420 942.7 472 1017.4 591 1092.1 753 1166.8 708 1241.6 842 1316.3 671 1391 751 1465.7 805 1540.4 640 1615.2 845 1689.9 678 1764.6 677 1839.3 637 1914 610 1988.8 435 2063.5 460"/>
<path class="cc" d="M344.9 393 419.6 411 494.4 438 569.1 387 643.8 500 718.5 476 793.2 343 868 394 942.7 442 1017.4 543 1092.1 699 1166.8 688 1241.6 818 1316.3 759 1391 776 1465.7 715 1540.4 709 1615.2 697 1689.9 692 1764.6 641 1839.3 728 1914 669 1988.8 462 2063.5 393"/>
<path class="cd" d="M344.9 498 419.6 344 494.4 409 569.1 549 643.8 454 718.5 516 793.2 549 868 370 942.7 550 1017.4 539 1092.1 725 1166.8 676 1241.6 890 1316.3 753 1391 767 1465.7 736 1540.4 626 1615.2 829 1689.9 776 1764.6 591 1839.3 772 1914 710 1988.8 527 2063.5 416"/>
</g>
<g shape-rendering="crispEdges">
<polyline points="344.9,91 419.6,195.6 494.4,201.8 569.1,179.7 643.8,284.1 718.5,228.3 793.2,85.6 868,149.6 942.7,169.7 1017.4,365.6 1092.1,542.5 1166.8,653.5 1241.6,719.3 1316.3,650.8 1391,561.9 1465.7,535.3 1540.4,444.6 1615.2,592.4 1689.9,451.5 1764.6,479.8 1839.3,547.8 1914,464.3 1988.8,227.3 2063.5,189.4" fill="none" stroke="#6EA714" stroke-width="4.6" stroke-linejoin="round"/>
<g fill="#6EA714"><circle cx="344.9" cy="91" r="9.9"/><circle cx="419.6" cy="195.6" r="9.9"/><circle cx="494.4" cy="201.8" r="9.9"/><circle cx="569.1" cy="179.7" r="9.9"/><circle cx="643.8" cy="284.1" r="9.9"/><circle cx="718.5" cy="228.3" r="9.9"/><circle cx="793.2" cy="85.6" r="9.9"/><circle cx="868" cy="149.6" r="9.9"/><circle cx="942.7" cy="169.7" r="9.9"/><circle cx="1017.4" cy="365.6" r="9.9"/><circle cx="1092.1" cy="542.5" r="9.9"/><circle cx="1166.8" cy="653.5" r="9.9"/><circle cx="1241.6" cy="719.3" r="9.9"/><circle cx="1316.3" cy="650.8" r="9.9"/><circle cx="1391" cy="561.9" r="9.9"/><circle cx="1465.7" cy="535.3" r="9.9"/><circle cx="1540.4" cy="444.6" r="9.9"/><circle cx="1615.2" cy="592.4" r="9.9"/><circle cx="1689.9" cy="451.5" r="9.9"/><circle cx="1764.6" cy="479.8" r="9.9"/><circle cx="1839.3" cy="547.8" r="9.9"/><circle cx="1914" cy="464.3" r="9.9"/><circle cx="1988.8" cy="227.3" r="9.9"/><circle cx="2063.5" cy="189.4" r="9.9"/></g>
<polyline points="344.9,637.9 419.6,715.9 494.4,728.2 569.1,700.8 643.8,737.8 718.5,704.8 793.2,670.4 868,657.9 942.7,672.8 1017.4,787.2 1092.1,866 1166.8,919.4 1241.6,965.1 1316.3,923.2 1391,881.5 1465.7,887.8 1540.4,844.5 1615.2,923.7 1689.9,833.5 1764.6,859 1839.3,871.3 1914,833.1 1988.8,737.5 2063.5,690.3" fill="none" stroke="#6EA714" stroke-width="4.6" stroke-linejoin="round"/>
<g fill="#6EA714"><circle cx="344.9" cy="637.9" r="9.9"/><circle cx="419.6" cy="715.9" r="9.9"/><circle cx="494.4" cy="728.2" r="9.9"/><circle cx="569.1" cy="700.8" r="9.9"/><circle cx="643.8" cy="737.8" r="9.9"/><circle cx="718.5" cy="704.8" r="9.9"/><circle cx="793.2" cy="670.4" r="9.9"/><circle cx="868" cy="657.9" r="9.9"/><circle cx="942.7" cy="672.8" r="9.9"/><circle cx="1017.4" cy="787.2" r="9.9"/><circle cx="1092.1" cy="866" r="9.9"/><circle cx="1166.8" cy="919.4" r="9.9"/><circle cx="1241.6" cy="965.1" r="9.9"/><circle cx="1316.3" cy="923.2" r="9.9"/><circle cx="1391" cy="881.5" r="9.9"/><circle cx="1465.7" cy="887.8" r="9.9"/><circle cx="1540.4" cy="844.5" r="9.9"/><circle cx="1615.2" cy="923.7" r="9.9"/><circle cx="1689.9" cy="833.5" r="9.9"/><circle cx="1764.6" cy="859" r="9.9"/><circle cx="1839.3" cy="871.3" r="9.9"/><circle cx="1914" cy="833.1" r="9.9"/><circle cx="1988.8" cy="737.5" r="9.9"/><circle cx="2063.5" cy="690.3" r="9.9"/></g>
<polyline points="344.9,366 419.6,452.3 494.4,460.4 569.1,444 643.8,507.5 718.5,473.7 793.2,391.8 868,409.5 942.7,430.3 1017.4,571.5 1092.1,704.7 1166.8,786.8 1241.6,837.4 1316.3,790 1391,730.4 1465.7,700.3 1540.4,661.3 1615.2,743.3 1689.9,653.4 1764.6,661.7 1839.3,708.7 1914,657.5 1988.8,490.2 2063.5,447.6" fill="none" stroke="#CC0303" stroke-width="8.2" stroke-linejoin="round"/>
<g fill="url(#ball)"><circle cx="344.9" cy="366" r="17"/><circle cx="419.6" cy="452.3" r="17"/><circle cx="494.4" cy="460.4" r="17"/><circle cx="569.1" cy="444" r="17"/><circle cx="643.8" cy="507.5" r="17"/><circle cx="718.5" cy="473.7" r="17"/><circle cx="793.2" cy="391.8" r="17"/><circle cx="868" cy="409.5" r="17"/><circle cx="942.7" cy="430.3" r="17"/><circle cx="1017.4" cy="571.5" r="17"/><circle cx="1092.1" cy="704.7" r="17"/><circle cx="1166.8" cy="786.8" r="17"/><circle cx="1241.6" cy="837.4" r="17"/><circle cx="1316.3" cy="790" r="17"/><circle cx="1391" cy="730.4" r="17"/><circle cx="1465.7" cy="700.3" r="17"/><circle cx="1540.4" cy="661.3" r="17"/><circle cx="1615.2" cy="743.3" r="17"/><circle cx="1689.9" cy="653.4" r="17"/><circle cx="1764.6" cy="661.7" r="17"/><circle cx="1839.3" cy="708.7" r="17"/><circle cx="1914" cy="657.5" r="17"/><circle cx="1988.8" cy="490.2" r="17"/><circle cx="2063.5" cy="447.6" r="17"/></g>
</g>
<g stroke="#000" stroke-width="6" fill="none" shape-rendering="crispEdges">
<rect x="270.2" y="36" width="1831.3" height="964"/>
<path d="M419.6 1000v-14M569.1 1000v-29M718.5 1000v-14M868 1000v-29M1017.4 1000v-14M1166.8 1000v-29M1316.3 1000v-14M1465.7 1000v-29M1615.2 1000v-14M1764.6 1000v-29M1914 1000v-14M2063.5 1000v-29M270.2 892.9h15M270.2 785.7h29M270.2 678.5h15M270.2 571.4h29M270.2 464.2h15M270.2 357.1h29M270.2 249.9h15M270.2 142.8h29"/>
</g>
<g font-size="63px" text-anchor="end">
<text x="238.4" y="1018.1">500</text>
<text x="238.4" y="804">1000</text>
<text x="238.4" y="589.9">1500</text>
<text x="238.4" y="375.8">2000</text>
<text x="238.4" y="161.7">2500</text>
</g>
<g font-size="63px" text-anchor="middle">
<text x="270.2" y="1080.1">00:00</text>
<text x="569.1" y="1080.1">04:00</text>
<text x="868" y="1080.1">08:00</text>
<text x="1166.8" y="1080.1">12:00</text>
<text x="1465.7" y="1080.1">16:00</text>
<text x="1764.6" y="1080.1">20:00</text>
<text x="2063.5" y="1080.1">24:00</text>
</g>
<text x="1186.5" y="1197.3" font-size="77px" text-anchor="middle">Time/h</text>
<text transform="translate(80.8,518) rotate(-90)" font-size="77px" text-anchor="middle">Wind Power Output/MW</text>
</svg>
</body></html>
